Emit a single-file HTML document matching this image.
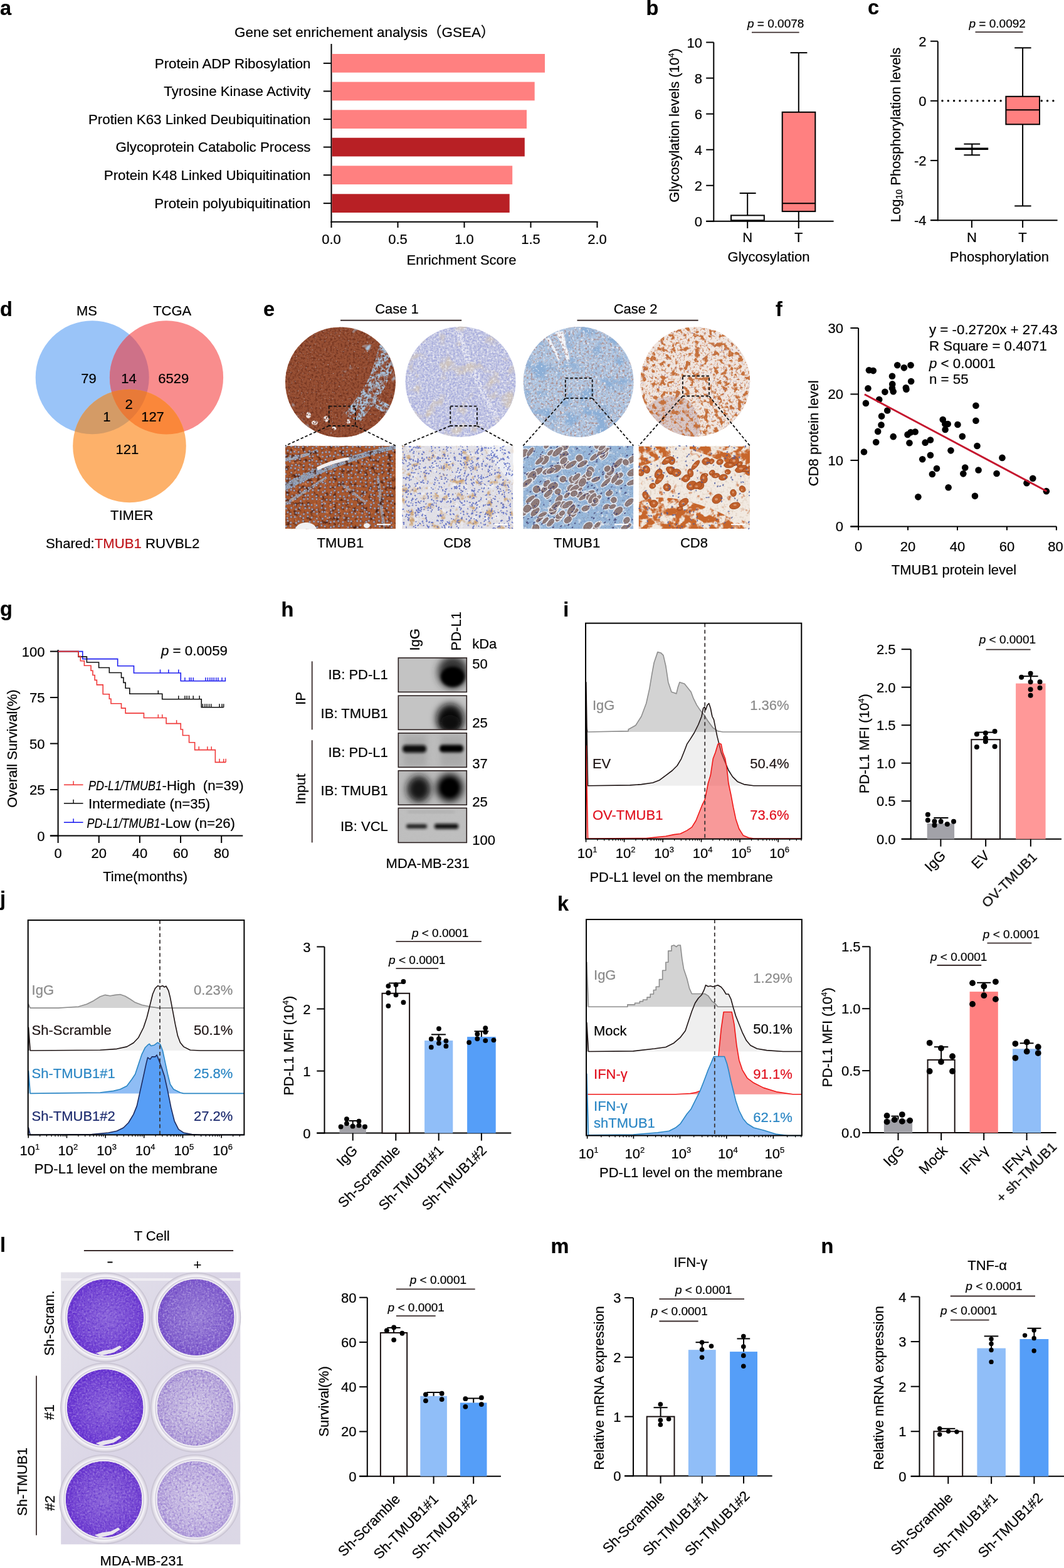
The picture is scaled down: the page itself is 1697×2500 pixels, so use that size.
<!DOCTYPE html><html><head><meta charset="utf-8"><title>Figure</title>
<style>html,body{margin:0;padding:0;background:#fff;}svg{display:block;}text{font-family:'Liberation Sans', 'Noto Sans CJK SC', sans-serif;stroke:#000;stroke-width:0.22px;}</style></head><body>
<svg width="1697" height="2500" viewBox="0 0 1697 2500">
<rect width="1697" height="2500" fill="#fff"/>
<text x="0" y="23.5" font-size="32.5" font-weight="bold">a</text>
<text x="374" y="59" font-size="22.45">Gene set enrichement analysis（GSEA）</text>
<line x1="528.5" y1="70" x2="528.5" y2="354.7" stroke="#000" stroke-width="2"/>
<line x1="527.5" y1="353.7" x2="953.5" y2="353.7" stroke="#000" stroke-width="2"/>
<line x1="528.5" y1="353.7" x2="528.5" y2="363" stroke="#000" stroke-width="2"/>
<text x="528.5" y="389" font-size="22" text-anchor="middle">0.0</text>
<line x1="634.5" y1="353.7" x2="634.5" y2="363" stroke="#000" stroke-width="2"/>
<text x="634.5" y="389" font-size="22" text-anchor="middle">0.5</text>
<line x1="740.5" y1="353.7" x2="740.5" y2="363" stroke="#000" stroke-width="2"/>
<text x="740.5" y="389" font-size="22" text-anchor="middle">1.0</text>
<line x1="846.5" y1="353.7" x2="846.5" y2="363" stroke="#000" stroke-width="2"/>
<text x="846.5" y="389" font-size="22" text-anchor="middle">1.5</text>
<line x1="952.5" y1="353.7" x2="952.5" y2="363" stroke="#000" stroke-width="2"/>
<text x="952.5" y="389" font-size="22" text-anchor="middle">2.0</text>
<text x="736" y="422" font-size="22" text-anchor="middle">Enrichment Score</text>
<rect x="529.5" y="86" width="339.5" height="29.7" fill="#FF8080"/>
<line x1="515.8" y1="100.85" x2="528.5" y2="100.85" stroke="#000" stroke-width="2"/>
<text x="495.5" y="108.65" font-size="22.3" text-anchor="end">Protein ADP Ribosylation</text>
<rect x="529.5" y="130.6" width="323.2" height="29.7" fill="#FF8080"/>
<line x1="515.8" y1="145.45" x2="528.5" y2="145.45" stroke="#000" stroke-width="2"/>
<text x="495.5" y="153.25" font-size="22.3" text-anchor="end">Tyrosine Kinase Activity</text>
<rect x="529.5" y="175.3" width="310.5" height="29.7" fill="#FF8080"/>
<line x1="515.8" y1="190.15" x2="528.5" y2="190.15" stroke="#000" stroke-width="2"/>
<text x="495.5" y="197.95" font-size="22.3" text-anchor="end">Protien K63 Linked Deubiquitination</text>
<rect x="529.5" y="219.7" width="307.3" height="29.7" fill="#B82025"/>
<line x1="515.8" y1="234.55" x2="528.5" y2="234.55" stroke="#000" stroke-width="2"/>
<text x="495.5" y="242.35" font-size="22.3" text-anchor="end">Glycoprotein Catabolic Process</text>
<rect x="529.5" y="264.3" width="287.7" height="29.7" fill="#FF8080"/>
<line x1="515.8" y1="279.15" x2="528.5" y2="279.15" stroke="#000" stroke-width="2"/>
<text x="495.5" y="286.95" font-size="22.3" text-anchor="end">Protein K48 Linked Ubiquitination</text>
<rect x="529.5" y="309.3" width="283.2" height="29.7" fill="#B82025"/>
<line x1="515.8" y1="324.15" x2="528.5" y2="324.15" stroke="#000" stroke-width="2"/>
<text x="495.5" y="331.95" font-size="22.3" text-anchor="end">Protein polyubiquitination</text>
<text x="1030.5" y="23.5" font-size="32.5" font-weight="bold">b</text>
<line x1="1138.3" y1="67.5" x2="1138.3" y2="353.8" stroke="#000" stroke-width="2"/>
<line x1="1126.2" y1="352.8" x2="1138.3" y2="352.8" stroke="#000" stroke-width="2"/>
<text x="1120" y="360.8" font-size="22" text-anchor="end">0</text>
<line x1="1126.2" y1="295.74" x2="1138.3" y2="295.74" stroke="#000" stroke-width="2"/>
<text x="1120" y="303.74" font-size="22" text-anchor="end">2</text>
<line x1="1126.2" y1="238.68" x2="1138.3" y2="238.68" stroke="#000" stroke-width="2"/>
<text x="1120" y="246.68" font-size="22" text-anchor="end">4</text>
<line x1="1126.2" y1="181.62" x2="1138.3" y2="181.62" stroke="#000" stroke-width="2"/>
<text x="1120" y="189.62" font-size="22" text-anchor="end">6</text>
<line x1="1126.2" y1="124.56" x2="1138.3" y2="124.56" stroke="#000" stroke-width="2"/>
<text x="1120" y="132.56" font-size="22" text-anchor="end">8</text>
<line x1="1126.2" y1="67.5" x2="1138.3" y2="67.5" stroke="#000" stroke-width="2"/>
<text x="1120" y="75.5" font-size="22" text-anchor="end">10</text>
<line x1="1126.2" y1="352.8" x2="1329.6" y2="352.8" stroke="#000" stroke-width="2"/>
<line x1="1192.2" y1="352.8" x2="1192.2" y2="364" stroke="#000" stroke-width="2"/>
<line x1="1273.8" y1="352.8" x2="1273.8" y2="364" stroke="#000" stroke-width="2"/>
<text x="1192.2" y="386" font-size="22" text-anchor="middle">N</text>
<text x="1273.8" y="386" font-size="22" text-anchor="middle">T</text>
<text x="1226" y="416.5" font-size="22" text-anchor="middle">Glycosylation</text>
<line x1="1192.2" y1="343.4" x2="1192.2" y2="308" stroke="#000" stroke-width="2"/>
<line x1="1179.7" y1="308" x2="1205.6" y2="308" stroke="#000" stroke-width="2"/>
<rect x="1166" y="343.4" width="52.8" height="7.9" fill="#fff" stroke="#000" stroke-width="2"/>
<line x1="1273.8" y1="178.8" x2="1273.8" y2="84.1" stroke="#000" stroke-width="2"/>
<line x1="1260.6" y1="84.1" x2="1287.4" y2="84.1" stroke="#000" stroke-width="2"/>
<line x1="1273.8" y1="337.1" x2="1273.8" y2="352.8" stroke="#000" stroke-width="2"/>
<rect x="1247.7" y="178.8" width="52.6" height="158.3" fill="#FF8080" stroke="#000" stroke-width="2"/>
<line x1="1247.7" y1="324.3" x2="1300.3" y2="324.3" stroke="#000" stroke-width="2"/>
<text x="1192" y="44" font-size="19" text-anchor="start"><tspan font-style="italic">p</tspan> = 0.0078</text>
<line x1="1199" y1="51.7" x2="1274.6" y2="51.7" stroke="#3a2c2c" stroke-width="1.8"/>
<text x="1083" y="200" font-size="22" text-anchor="middle" transform="rotate(-90 1083 200)">Glycosylation levels (10<tspan font-size="13" dy="-8">4</tspan><tspan dy="8">)</tspan></text>
<text x="1384" y="23.3" font-size="32.5" font-weight="bold">c</text>
<line x1="1495.8" y1="65.9" x2="1495.8" y2="352.2" stroke="#000" stroke-width="2"/>
<line x1="1484" y1="65.7" x2="1495.8" y2="65.7" stroke="#000" stroke-width="2"/>
<text x="1477.5" y="73.7" font-size="22" text-anchor="end">2</text>
<line x1="1484" y1="160.8" x2="1495.8" y2="160.8" stroke="#000" stroke-width="2"/>
<text x="1477.5" y="168.8" font-size="22" text-anchor="end">0</text>
<line x1="1484" y1="255.9" x2="1495.8" y2="255.9" stroke="#000" stroke-width="2"/>
<text x="1477.5" y="263.9" font-size="22" text-anchor="end">-2</text>
<line x1="1484" y1="351" x2="1495.8" y2="351" stroke="#000" stroke-width="2"/>
<text x="1477.5" y="359" font-size="22" text-anchor="end">-4</text>
<line x1="1484" y1="351.2" x2="1686.6" y2="351.2" stroke="#000" stroke-width="2"/>
<line x1="1549.9" y1="351.2" x2="1549.9" y2="363" stroke="#000" stroke-width="2"/>
<line x1="1631.1" y1="351.2" x2="1631.1" y2="363" stroke="#000" stroke-width="2"/>
<text x="1549.9" y="385.5" font-size="22" text-anchor="middle">N</text>
<text x="1631.1" y="385.5" font-size="22" text-anchor="middle">T</text>
<text x="1594" y="416.5" font-size="22" text-anchor="middle">Phosphorylation</text>
<line x1="1503" y1="160.8" x2="1688" y2="160.8" stroke="#000" stroke-width="3.4" stroke-dasharray="0.01 9.3" stroke-linecap="round"/>
<line x1="1631.1" y1="153.8" x2="1631.1" y2="76.3" stroke="#000" stroke-width="2"/>
<line x1="1618.2" y1="76.3" x2="1644.6" y2="76.3" stroke="#000" stroke-width="2"/>
<line x1="1631.1" y1="198.3" x2="1631.1" y2="328.4" stroke="#000" stroke-width="2"/>
<line x1="1618.2" y1="328.4" x2="1644.6" y2="328.4" stroke="#000" stroke-width="2"/>
<rect x="1604.4" y="153.8" width="53.6" height="44.5" fill="#FF8080" stroke="#000" stroke-width="2"/>
<line x1="1604.4" y1="175.3" x2="1658" y2="175.3" stroke="#000" stroke-width="2"/>
<line x1="1550.3" y1="229.6" x2="1550.3" y2="247.2" stroke="#000" stroke-width="2"/>
<line x1="1537.4" y1="229.6" x2="1563.1" y2="229.6" stroke="#000" stroke-width="2"/>
<line x1="1537.4" y1="247.2" x2="1563.1" y2="247.2" stroke="#000" stroke-width="2"/>
<line x1="1523.3" y1="237.3" x2="1576.2" y2="237.3" stroke="#000" stroke-width="3.5"/>
<text x="1545.5" y="43.5" font-size="19" text-anchor="start"><tspan font-style="italic">p</tspan> = 0.0092</text>
<line x1="1555.5" y1="51.2" x2="1631.5" y2="51.2" stroke="#3a2c2c" stroke-width="1.8"/>
<text x="1436" y="215" font-size="22" text-anchor="middle" transform="rotate(-90 1436 215)">Log<tspan font-size="14" dy="3">10</tspan><tspan dy="-3"> Phosphorylation levels</tspan></text>
<text x="0" y="503.5" font-size="32.5" font-weight="bold">d</text>
<defs><clipPath id="cpB"><circle cx="147.2" cy="601.7" r="90.5"/></clipPath><clipPath id="cpR"><circle cx="265.5" cy="601.8" r="90.6"/></clipPath></defs>
<circle cx="147.2" cy="601.7" r="90.5" fill="#9AC4F8"/>
<circle cx="265.5" cy="601.8" r="90.6" fill="#F98D8D"/>
<circle cx="206.5" cy="711" r="90.3" fill="#FDB16A"/>
<g clip-path="url(#cpB)">
<circle cx="265.5" cy="601.8" r="90.6" fill="#CE7188"/>
<circle cx="206.5" cy="711" r="90.3" fill="#D49B66"/>
</g>
<g clip-path="url(#cpR)">
<circle cx="206.5" cy="711" r="90.3" fill="#FA873A"/>
<g clip-path="url(#cpB)">
<circle cx="206.5" cy="711" r="90.3" fill="#E87A38"/>
</g></g>
<text x="138.4" y="502.6" font-size="22" text-anchor="middle">MS</text>
<text x="274.7" y="502.6" font-size="22" text-anchor="middle">TCGA</text>
<text x="141.6" y="611" font-size="22" text-anchor="middle">79</text>
<text x="205.5" y="611" font-size="22" text-anchor="middle">14</text>
<text x="276.8" y="611" font-size="22" text-anchor="middle">6529</text>
<text x="205.5" y="651.6" font-size="22" text-anchor="middle">2</text>
<text x="170.3" y="672.1" font-size="22" text-anchor="middle">1</text>
<text x="243.5" y="672.1" font-size="22" text-anchor="middle">127</text>
<text x="202.8" y="723.5" font-size="22" text-anchor="middle">121</text>
<text x="210.3" y="828.6" font-size="22" text-anchor="middle">TIMER</text>
<text x="73" y="874" font-size="22.2">Shared:<tspan fill="#C0161C" style="stroke:#C0161C">TMUB1</tspan> RUVBL2</text>
<text x="420" y="503.5" font-size="32.5" font-weight="bold">e</text>
<text x="633" y="499.5" font-size="22" text-anchor="middle">Case 1</text>
<line x1="543" y1="510.7" x2="736.2" y2="510.7" stroke="#3a2c2c" stroke-width="2"/>
<text x="1013.6" y="499.5" font-size="22" text-anchor="middle">Case 2</text>
<line x1="920.5" y1="510.7" x2="1113.6" y2="510.7" stroke="#3a2c2c" stroke-width="2"/>
<defs>
<clipPath id="cc1"><circle cx="543" cy="609.4" r="88"/></clipPath>
<clipPath id="cc2"><circle cx="734.6" cy="608.7" r="88"/></clipPath>
<clipPath id="cc3"><circle cx="922.6" cy="609" r="88"/></clipPath>
<clipPath id="cc4"><circle cx="1108.7" cy="608.7" r="87.5"/></clipPath>
</defs>
<defs><clipPath id="stromaclip"><path d="M612 528 C600 565 596 590 584 612 C572 632 560 645 548 662 L575 672 C590 652 606 634 616 612 C628 590 634 566 640 540 Z"/><path d="M585 640 C600 650 612 660 630 668 L630 650 C615 645 600 630 590 625 Z"/></clipPath><filter id="stromanz" x="0" y="0" width="1" height="1" color-interpolation-filters="sRGB"><feTurbulence type="fractalNoise" baseFrequency="0.12" numOctaves="3" seed="77"/><feColorMatrix type="matrix" values="0 0 0 0 0.66 0 0 0 0 0.76 0 0 0 0 0.86 5 0 0 0 -1.7"/></filter></defs>
<defs>
<filter id="nz1" x="0" y="0" width="1" height="1" color-interpolation-filters="sRGB"><feTurbulence type="fractalNoise" baseFrequency="0.3" numOctaves="3" seed="3"/><feColorMatrix type="matrix" values="0 0 0 0 0.451 0 0 0 0 0.204 0 0 0 0 0.125 3 0 0 0 -1.3"/></filter>
<filter id="nz2" x="0" y="0" width="1" height="1" color-interpolation-filters="sRGB"><feTurbulence type="fractalNoise" baseFrequency="0.05" numOctaves="3" seed="7"/><feColorMatrix type="matrix" values="0 0 0 0 0.667 0 0 0 0 0.765 0 0 0 0 0.863 6 0 0 0 -4.2"/></filter>
<filter id="nz3" x="0" y="0" width="1" height="1" color-interpolation-filters="sRGB"><feTurbulence type="fractalNoise" baseFrequency="0.4" numOctaves="3" seed="11"/><feColorMatrix type="matrix" values="0 0 0 0 0.686 0 0 0 0 0.745 0 0 0 0 0.831 4 0 0 0 -2.8"/></filter>
</defs>
<g clip-path="url(#cc1)">
<rect x="455" y="521.4" width="176" height="176" fill="#985034"/>
<g clip-path="url(#stromaclip)"><rect x="540" y="520" width="95" height="180" filter="url(#stromanz)"/></g><ellipse cx="492" cy="662" rx="4" ry="5" fill="#f4f0f0"/><ellipse cx="502" cy="674" rx="5" ry="3.5" fill="#f4f0f0"/><ellipse cx="520" cy="668" rx="4" ry="5" fill="#f4f0f0"/><ellipse cx="533" cy="683" rx="3.5" ry="3" fill="#f4f0f0"/><ellipse cx="556" cy="672" rx="3" ry="4" fill="#f4f0f0"/>
<rect x="455" y="521.4" width="176" height="176" filter="url(#nz1)"/>
<rect x="455" y="521.4" width="176" height="176" filter="url(#nz2)"/>
<rect x="455" y="521.4" width="176" height="176" filter="url(#nz3)"/>
</g>
<defs>
<filter id="nz4" x="0" y="0" width="1" height="1" color-interpolation-filters="sRGB"><feTurbulence type="fractalNoise" baseFrequency="0.35" numOctaves="3" seed="5"/><feColorMatrix type="matrix" values="0 0 0 0 0.647 0 0 0 0 0.667 0 0 0 0 0.863 3 0 0 0 -1.1"/></filter>
<filter id="nz5" x="0" y="0" width="1" height="1" color-interpolation-filters="sRGB"><feTurbulence type="fractalNoise" baseFrequency="0.04" numOctaves="3" seed="9"/><feColorMatrix type="matrix" values="0 0 0 0 0.804 0 0 0 0 0.765 0 0 0 0 0.745 5 0 0 0 -2.8"/></filter>
<filter id="nz6" x="0" y="0" width="1" height="1" color-interpolation-filters="sRGB"><feTurbulence type="fractalNoise" baseFrequency="0.3" numOctaves="3" seed="13"/><feColorMatrix type="matrix" values="0 0 0 0 0.941 0 0 0 0 0.941 0 0 0 0 0.965 3 0 0 0 -1.5"/></filter>
</defs>
<g clip-path="url(#cc2)">
<rect x="646.6" y="520.7" width="176" height="176" fill="#C9CCE4"/>
<path d="M725 525 Q745 590 800 690 L808 686 Q752 590 735 522 Z" fill="#eeeef4" opacity="0.8"/>
<rect x="646.6" y="520.7" width="176" height="176" filter="url(#nz4)"/>
<rect x="646.6" y="520.7" width="176" height="176" filter="url(#nz5)"/>
<rect x="646.6" y="520.7" width="176" height="176" filter="url(#nz6)"/>
</g>
<defs>
<filter id="nz7" x="0" y="0" width="1" height="1" color-interpolation-filters="sRGB"><feTurbulence type="fractalNoise" baseFrequency="0.3" numOctaves="3" seed="4"/><feColorMatrix type="matrix" values="0 0 0 0 0.667 0 0 0 0 0.549 0 0 0 0 0.549 4 0 0 0 -2"/></filter>
<filter id="nz8" x="0" y="0" width="1" height="1" color-interpolation-filters="sRGB"><feTurbulence type="fractalNoise" baseFrequency="0.04" numOctaves="3" seed="8"/><feColorMatrix type="matrix" values="0 0 0 0 0.549 0 0 0 0 0.686 0 0 0 0 0.843 5 0 0 0 -2.6"/></filter>
<filter id="nz9" x="0" y="0" width="1" height="1" color-interpolation-filters="sRGB"><feTurbulence type="fractalNoise" baseFrequency="0.3" numOctaves="3" seed="14"/><feColorMatrix type="matrix" values="0 0 0 0 0.925 0 0 0 0 0.933 0 0 0 0 0.961 4 0 0 0 -2.3"/></filter>
</defs>
<g clip-path="url(#cc3)">
<rect x="834.6" y="521" width="176" height="176" fill="#AFC6E2"/>
<path d="M885 530 C895 545 900 560 905 580 L910 578 C906 560 902 545 898 528 Z" fill="#F4F6FA"/><path d="M870 540 C878 550 884 560 890 575 L893 573 C888 560 882 548 876 538 Z" fill="#EEF2F8"/>
<rect x="834.6" y="521" width="176" height="176" filter="url(#nz7)"/>
<rect x="834.6" y="521" width="176" height="176" filter="url(#nz8)"/>
<rect x="834.6" y="521" width="176" height="176" filter="url(#nz9)"/>
</g>
<defs>
<filter id="nz10" x="0" y="0" width="1" height="1" color-interpolation-filters="sRGB"><feTurbulence type="fractalNoise" baseFrequency="0.13" numOctaves="3" seed="6"/><feColorMatrix type="matrix" values="0 0 0 0 0.776 0 0 0 0 0.439 0 0 0 0 0.227 8 0 0 0 -4.3"/></filter>
<filter id="nz11" x="0" y="0" width="1" height="1" color-interpolation-filters="sRGB"><feTurbulence type="fractalNoise" baseFrequency="0.3" numOctaves="3" seed="10"/><feColorMatrix type="matrix" values="0 0 0 0 0.804 0 0 0 0 0.510 0 0 0 0 0.333 4 0 0 0 -2.3"/></filter>
<filter id="nz12" x="0" y="0" width="1" height="1" color-interpolation-filters="sRGB"><feTurbulence type="fractalNoise" baseFrequency="0.3" numOctaves="3" seed="15"/><feColorMatrix type="matrix" values="0 0 0 0 0.588 0 0 0 0 0.471 0 0 0 0 0.588 4 0 0 0 -2.6"/></filter>
</defs>
<g clip-path="url(#cc4)">
<rect x="1021.2" y="521.2" width="175" height="175" fill="#F0E6E0"/>
<path d="M1030 650 C1050 630 1080 625 1100 640 C1115 660 1120 680 1112 697 L1030 697 Z" fill="#A88C98" opacity="0.35"/>
<rect x="1021.2" y="521.2" width="175" height="175" filter="url(#nz10)"/>
<rect x="1021.2" y="521.2" width="175" height="175" filter="url(#nz11)"/>
<rect x="1021.2" y="521.2" width="175" height="175" filter="url(#nz12)"/>
</g>
<defs>
<clipPath id="cc5"><rect x="455" y="710.7" width="176" height="132.5"/></clipPath>
<clipPath id="cc6"><rect x="641.4" y="710.7" width="177" height="132.5"/></clipPath>
<clipPath id="cc7"><rect x="834.3" y="710.7" width="176" height="132.5"/></clipPath>
<clipPath id="cc8"><rect x="1018.8" y="710.7" width="177.2" height="132.5"/></clipPath>
</defs>
<defs>
<filter id="nz13" x="0" y="0" width="1" height="1" color-interpolation-filters="sRGB"><feTurbulence type="fractalNoise" baseFrequency="0.16" numOctaves="3" seed="21"/><feColorMatrix type="matrix" values="0 0 0 0 0.314 0 0 0 0 0.137 0 0 0 0 0.078 4 0 0 0 -2.1"/></filter>
<filter id="nz14" x="0" y="0" width="1" height="1" color-interpolation-filters="sRGB"><feTurbulence type="fractalNoise" baseFrequency="0.2" numOctaves="3" seed="23"/><feColorMatrix type="matrix" values="0 0 0 0 0.882 0 0 0 0 0.588 0 0 0 0 0.431 4 0 0 0 -2.6"/></filter>
</defs>
<g clip-path="url(#cc5)">
<rect x="455" y="710.7" width="176" height="132.5" fill="#A9582E"/>
<path d="M455 770 C480 758 510 742 540 733 C570 724 600 716 631 709 L631 716 C600 722 572 732 545 742 C515 752 485 768 455 782 Z" fill="#8FB6DA" opacity="0.8"/><path d="M455 730 C470 726 490 724 505 716 L508 719 C492 728 472 732 455 736 Z" fill="#9FC0DE" opacity="0.8"/><path d="M455 800 C478 788 498 772 520 760 L522 763 C500 776 480 792 455 806 Z" fill="#9FC0DE" opacity="0.7"/><path d="M545 770 C560 778 570 790 585 800 L583 803 C568 793 557 782 543 773 Z" fill="#9FC0DE" opacity="0.6"/><path d="M600 760 C606 790 604 815 612 843 L616 843 C609 815 611 790 604 758 Z" fill="#9FC0DE" opacity="0.6"/>
<rect x="455" y="710.7" width="176" height="132.5" filter="url(#nz13)"/>
<rect x="455" y="710.7" width="176" height="132.5" filter="url(#nz14)"/>
<g opacity="0.8"><circle cx="456.3" cy="711.6" r="1.7" fill="#A8C2DE" stroke="#5B4A6A" stroke-width="0.6"/><circle cx="464.6" cy="711.3" r="1.7" fill="#A8C2DE" stroke="#5B4A6A" stroke-width="0.6"/><circle cx="471.1" cy="712.5" r="1.7" fill="#A8C2DE" stroke="#5B4A6A" stroke-width="0.6"/><circle cx="476.2" cy="713.0" r="1.7" fill="#A8C2DE" stroke="#5B4A6A" stroke-width="0.6"/><circle cx="483.1" cy="712.7" r="1.7" fill="#A8C2DE" stroke="#5B4A6A" stroke-width="0.6"/><circle cx="490.3" cy="711.4" r="1.7" fill="#A8C2DE" stroke="#5B4A6A" stroke-width="0.6"/><circle cx="498.7" cy="714.3" r="1.7" fill="#A8C2DE" stroke="#5B4A6A" stroke-width="0.6"/><circle cx="504.5" cy="711.9" r="1.7" fill="#A8C2DE" stroke="#5B4A6A" stroke-width="0.6"/><circle cx="513.5" cy="714.8" r="1.7" fill="#A8C2DE" stroke="#5B4A6A" stroke-width="0.6"/><circle cx="520.3" cy="712.6" r="1.7" fill="#A8C2DE" stroke="#5B4A6A" stroke-width="0.6"/><circle cx="528.9" cy="711.2" r="1.7" fill="#A8C2DE" stroke="#5B4A6A" stroke-width="0.6"/><circle cx="535.4" cy="712.2" r="1.7" fill="#A8C2DE" stroke="#5B4A6A" stroke-width="0.6"/><circle cx="539.6" cy="711.5" r="1.7" fill="#A8C2DE" stroke="#5B4A6A" stroke-width="0.6"/><circle cx="547.2" cy="714.3" r="1.7" fill="#A8C2DE" stroke="#5B4A6A" stroke-width="0.6"/><circle cx="553.7" cy="713.3" r="1.7" fill="#A8C2DE" stroke="#5B4A6A" stroke-width="0.6"/><circle cx="562.6" cy="712.5" r="1.7" fill="#A8C2DE" stroke="#5B4A6A" stroke-width="0.6"/><circle cx="569.2" cy="711.3" r="1.7" fill="#A8C2DE" stroke="#5B4A6A" stroke-width="0.6"/><circle cx="574.2" cy="711.8" r="1.7" fill="#A8C2DE" stroke="#5B4A6A" stroke-width="0.6"/><circle cx="583.7" cy="712.7" r="1.7" fill="#A8C2DE" stroke="#5B4A6A" stroke-width="0.6"/><circle cx="589.3" cy="713.3" r="1.7" fill="#A8C2DE" stroke="#5B4A6A" stroke-width="0.6"/><circle cx="596.8" cy="712.2" r="1.7" fill="#A8C2DE" stroke="#5B4A6A" stroke-width="0.6"/><circle cx="605.2" cy="713.8" r="1.7" fill="#A8C2DE" stroke="#5B4A6A" stroke-width="0.6"/><circle cx="610.0" cy="713.3" r="1.7" fill="#A8C2DE" stroke="#5B4A6A" stroke-width="0.6"/><circle cx="618.1" cy="714.5" r="1.7" fill="#A8C2DE" stroke="#5B4A6A" stroke-width="0.6"/><circle cx="625.9" cy="712.2" r="1.7" fill="#A8C2DE" stroke="#5B4A6A" stroke-width="0.6"/><circle cx="458.9" cy="718.5" r="1.7" fill="#A8C2DE" stroke="#5B4A6A" stroke-width="0.6"/><circle cx="463.7" cy="721.0" r="1.7" fill="#A8C2DE" stroke="#5B4A6A" stroke-width="0.6"/><circle cx="469.6" cy="720.0" r="1.7" fill="#A8C2DE" stroke="#5B4A6A" stroke-width="0.6"/><circle cx="476.2" cy="720.7" r="1.7" fill="#A8C2DE" stroke="#5B4A6A" stroke-width="0.6"/><circle cx="486.1" cy="720.3" r="1.7" fill="#A8C2DE" stroke="#5B4A6A" stroke-width="0.6"/><circle cx="493.5" cy="719.3" r="1.7" fill="#A8C2DE" stroke="#5B4A6A" stroke-width="0.6"/><circle cx="499.8" cy="720.4" r="1.7" fill="#A8C2DE" stroke="#5B4A6A" stroke-width="0.6"/><circle cx="506.3" cy="719.8" r="1.7" fill="#A8C2DE" stroke="#5B4A6A" stroke-width="0.6"/><circle cx="514.4" cy="721.8" r="1.7" fill="#A8C2DE" stroke="#5B4A6A" stroke-width="0.6"/><circle cx="519.9" cy="720.7" r="1.7" fill="#A8C2DE" stroke="#5B4A6A" stroke-width="0.6"/><circle cx="525.2" cy="720.8" r="1.7" fill="#A8C2DE" stroke="#5B4A6A" stroke-width="0.6"/><circle cx="534.6" cy="722.0" r="1.7" fill="#A8C2DE" stroke="#5B4A6A" stroke-width="0.6"/><circle cx="542.3" cy="719.1" r="1.7" fill="#A8C2DE" stroke="#5B4A6A" stroke-width="0.6"/><circle cx="547.5" cy="720.7" r="1.7" fill="#A8C2DE" stroke="#5B4A6A" stroke-width="0.6"/><circle cx="553.1" cy="719.8" r="1.7" fill="#A8C2DE" stroke="#5B4A6A" stroke-width="0.6"/><circle cx="560.7" cy="718.5" r="1.7" fill="#A8C2DE" stroke="#5B4A6A" stroke-width="0.6"/><circle cx="567.2" cy="721.1" r="1.7" fill="#A8C2DE" stroke="#5B4A6A" stroke-width="0.6"/><circle cx="574.5" cy="719.0" r="1.7" fill="#A8C2DE" stroke="#5B4A6A" stroke-width="0.6"/><circle cx="582.6" cy="721.5" r="1.7" fill="#A8C2DE" stroke="#5B4A6A" stroke-width="0.6"/><circle cx="588.3" cy="719.8" r="1.7" fill="#A8C2DE" stroke="#5B4A6A" stroke-width="0.6"/><circle cx="597.2" cy="721.5" r="1.7" fill="#A8C2DE" stroke="#5B4A6A" stroke-width="0.6"/><circle cx="605.3" cy="721.5" r="1.7" fill="#A8C2DE" stroke="#5B4A6A" stroke-width="0.6"/><circle cx="610.1" cy="719.7" r="1.7" fill="#A8C2DE" stroke="#5B4A6A" stroke-width="0.6"/><circle cx="617.4" cy="721.5" r="1.7" fill="#A8C2DE" stroke="#5B4A6A" stroke-width="0.6"/><circle cx="626.8" cy="718.6" r="1.7" fill="#A8C2DE" stroke="#5B4A6A" stroke-width="0.6"/><circle cx="455.7" cy="725.9" r="1.7" fill="#A8C2DE" stroke="#5B4A6A" stroke-width="0.6"/><circle cx="462.9" cy="726.9" r="1.7" fill="#A8C2DE" stroke="#5B4A6A" stroke-width="0.6"/><circle cx="471.4" cy="726.1" r="1.7" fill="#A8C2DE" stroke="#5B4A6A" stroke-width="0.6"/><circle cx="476.0" cy="726.7" r="1.7" fill="#A8C2DE" stroke="#5B4A6A" stroke-width="0.6"/><circle cx="484.5" cy="727.3" r="1.7" fill="#A8C2DE" stroke="#5B4A6A" stroke-width="0.6"/><circle cx="493.8" cy="727.8" r="1.7" fill="#A8C2DE" stroke="#5B4A6A" stroke-width="0.6"/><circle cx="499.1" cy="727.5" r="1.7" fill="#A8C2DE" stroke="#5B4A6A" stroke-width="0.6"/><circle cx="506.7" cy="725.2" r="1.7" fill="#A8C2DE" stroke="#5B4A6A" stroke-width="0.6"/><circle cx="514.6" cy="728.1" r="1.7" fill="#A8C2DE" stroke="#5B4A6A" stroke-width="0.6"/><circle cx="521.5" cy="728.2" r="1.7" fill="#A8C2DE" stroke="#5B4A6A" stroke-width="0.6"/><circle cx="526.6" cy="726.6" r="1.7" fill="#A8C2DE" stroke="#5B4A6A" stroke-width="0.6"/><circle cx="532.4" cy="727.5" r="1.7" fill="#A8C2DE" stroke="#5B4A6A" stroke-width="0.6"/><circle cx="539.2" cy="725.3" r="1.7" fill="#A8C2DE" stroke="#5B4A6A" stroke-width="0.6"/><circle cx="546.8" cy="725.6" r="1.7" fill="#A8C2DE" stroke="#5B4A6A" stroke-width="0.6"/><circle cx="554.4" cy="725.2" r="1.7" fill="#A8C2DE" stroke="#5B4A6A" stroke-width="0.6"/><circle cx="560.0" cy="725.6" r="1.7" fill="#A8C2DE" stroke="#5B4A6A" stroke-width="0.6"/><circle cx="567.4" cy="726.5" r="1.7" fill="#A8C2DE" stroke="#5B4A6A" stroke-width="0.6"/><circle cx="574.1" cy="728.5" r="1.7" fill="#A8C2DE" stroke="#5B4A6A" stroke-width="0.6"/><circle cx="583.5" cy="725.6" r="1.7" fill="#A8C2DE" stroke="#5B4A6A" stroke-width="0.6"/><circle cx="589.0" cy="726.4" r="1.7" fill="#A8C2DE" stroke="#5B4A6A" stroke-width="0.6"/><circle cx="596.5" cy="725.5" r="1.7" fill="#A8C2DE" stroke="#5B4A6A" stroke-width="0.6"/><circle cx="605.4" cy="729.0" r="1.7" fill="#A8C2DE" stroke="#5B4A6A" stroke-width="0.6"/><circle cx="610.9" cy="726.9" r="1.7" fill="#A8C2DE" stroke="#5B4A6A" stroke-width="0.6"/><circle cx="616.3" cy="725.4" r="1.7" fill="#A8C2DE" stroke="#5B4A6A" stroke-width="0.6"/><circle cx="624.4" cy="726.1" r="1.7" fill="#A8C2DE" stroke="#5B4A6A" stroke-width="0.6"/><circle cx="458.3" cy="732.6" r="1.7" fill="#A8C2DE" stroke="#5B4A6A" stroke-width="0.6"/><circle cx="462.1" cy="735.8" r="1.7" fill="#A8C2DE" stroke="#5B4A6A" stroke-width="0.6"/><circle cx="471.1" cy="732.6" r="1.7" fill="#A8C2DE" stroke="#5B4A6A" stroke-width="0.6"/><circle cx="478.2" cy="732.1" r="1.7" fill="#A8C2DE" stroke="#5B4A6A" stroke-width="0.6"/><circle cx="485.1" cy="735.9" r="1.7" fill="#A8C2DE" stroke="#5B4A6A" stroke-width="0.6"/><circle cx="493.5" cy="734.8" r="1.7" fill="#A8C2DE" stroke="#5B4A6A" stroke-width="0.6"/><circle cx="498.0" cy="733.5" r="1.7" fill="#A8C2DE" stroke="#5B4A6A" stroke-width="0.6"/><circle cx="504.7" cy="735.1" r="1.7" fill="#A8C2DE" stroke="#5B4A6A" stroke-width="0.6"/><circle cx="513.1" cy="735.1" r="1.7" fill="#A8C2DE" stroke="#5B4A6A" stroke-width="0.6"/><circle cx="519.3" cy="732.9" r="1.7" fill="#A8C2DE" stroke="#5B4A6A" stroke-width="0.6"/><circle cx="528.2" cy="735.9" r="1.7" fill="#A8C2DE" stroke="#5B4A6A" stroke-width="0.6"/><circle cx="535.4" cy="735.2" r="1.7" fill="#A8C2DE" stroke="#5B4A6A" stroke-width="0.6"/><circle cx="542.3" cy="735.0" r="1.7" fill="#A8C2DE" stroke="#5B4A6A" stroke-width="0.6"/><circle cx="546.9" cy="734.1" r="1.7" fill="#A8C2DE" stroke="#5B4A6A" stroke-width="0.6"/><circle cx="554.4" cy="732.1" r="1.7" fill="#A8C2DE" stroke="#5B4A6A" stroke-width="0.6"/><circle cx="560.1" cy="733.1" r="1.7" fill="#A8C2DE" stroke="#5B4A6A" stroke-width="0.6"/><circle cx="568.0" cy="734.8" r="1.7" fill="#A8C2DE" stroke="#5B4A6A" stroke-width="0.6"/><circle cx="577.8" cy="733.8" r="1.7" fill="#A8C2DE" stroke="#5B4A6A" stroke-width="0.6"/><circle cx="584.7" cy="736.0" r="1.7" fill="#A8C2DE" stroke="#5B4A6A" stroke-width="0.6"/><circle cx="591.8" cy="733.5" r="1.7" fill="#A8C2DE" stroke="#5B4A6A" stroke-width="0.6"/><circle cx="595.9" cy="732.9" r="1.7" fill="#A8C2DE" stroke="#5B4A6A" stroke-width="0.6"/><circle cx="602.8" cy="732.8" r="1.7" fill="#A8C2DE" stroke="#5B4A6A" stroke-width="0.6"/><circle cx="611.5" cy="735.6" r="1.7" fill="#A8C2DE" stroke="#5B4A6A" stroke-width="0.6"/><circle cx="619.4" cy="733.9" r="1.7" fill="#A8C2DE" stroke="#5B4A6A" stroke-width="0.6"/><circle cx="625.6" cy="735.2" r="1.7" fill="#A8C2DE" stroke="#5B4A6A" stroke-width="0.6"/><circle cx="455.3" cy="741.6" r="1.7" fill="#A8C2DE" stroke="#5B4A6A" stroke-width="0.6"/><circle cx="465.6" cy="742.1" r="1.7" fill="#A8C2DE" stroke="#5B4A6A" stroke-width="0.6"/><circle cx="472.0" cy="740.9" r="1.7" fill="#A8C2DE" stroke="#5B4A6A" stroke-width="0.6"/><circle cx="476.7" cy="742.2" r="1.7" fill="#A8C2DE" stroke="#5B4A6A" stroke-width="0.6"/><circle cx="484.3" cy="742.2" r="1.7" fill="#A8C2DE" stroke="#5B4A6A" stroke-width="0.6"/><circle cx="493.9" cy="740.6" r="1.7" fill="#A8C2DE" stroke="#5B4A6A" stroke-width="0.6"/><circle cx="498.6" cy="742.8" r="1.7" fill="#A8C2DE" stroke="#5B4A6A" stroke-width="0.6"/><circle cx="506.9" cy="739.7" r="1.7" fill="#A8C2DE" stroke="#5B4A6A" stroke-width="0.6"/><circle cx="511.5" cy="739.6" r="1.7" fill="#A8C2DE" stroke="#5B4A6A" stroke-width="0.6"/><circle cx="521.6" cy="742.2" r="1.7" fill="#A8C2DE" stroke="#5B4A6A" stroke-width="0.6"/><circle cx="525.6" cy="742.3" r="1.7" fill="#A8C2DE" stroke="#5B4A6A" stroke-width="0.6"/><circle cx="535.9" cy="741.6" r="1.7" fill="#A8C2DE" stroke="#5B4A6A" stroke-width="0.6"/><circle cx="540.4" cy="741.2" r="1.7" fill="#A8C2DE" stroke="#5B4A6A" stroke-width="0.6"/><circle cx="546.5" cy="739.1" r="1.7" fill="#A8C2DE" stroke="#5B4A6A" stroke-width="0.6"/><circle cx="556.9" cy="741.6" r="1.7" fill="#A8C2DE" stroke="#5B4A6A" stroke-width="0.6"/><circle cx="562.1" cy="742.7" r="1.7" fill="#A8C2DE" stroke="#5B4A6A" stroke-width="0.6"/><circle cx="568.7" cy="742.5" r="1.7" fill="#A8C2DE" stroke="#5B4A6A" stroke-width="0.6"/><circle cx="577.3" cy="739.8" r="1.7" fill="#A8C2DE" stroke="#5B4A6A" stroke-width="0.6"/><circle cx="582.0" cy="740.2" r="1.7" fill="#A8C2DE" stroke="#5B4A6A" stroke-width="0.6"/><circle cx="589.0" cy="741.3" r="1.7" fill="#A8C2DE" stroke="#5B4A6A" stroke-width="0.6"/><circle cx="596.0" cy="740.7" r="1.7" fill="#A8C2DE" stroke="#5B4A6A" stroke-width="0.6"/><circle cx="602.5" cy="742.6" r="1.7" fill="#A8C2DE" stroke="#5B4A6A" stroke-width="0.6"/><circle cx="610.4" cy="740.8" r="1.7" fill="#A8C2DE" stroke="#5B4A6A" stroke-width="0.6"/><circle cx="618.3" cy="742.6" r="1.7" fill="#A8C2DE" stroke="#5B4A6A" stroke-width="0.6"/><circle cx="624.7" cy="742.7" r="1.7" fill="#A8C2DE" stroke="#5B4A6A" stroke-width="0.6"/><circle cx="457.0" cy="748.1" r="1.7" fill="#A8C2DE" stroke="#5B4A6A" stroke-width="0.6"/><circle cx="464.1" cy="746.1" r="1.7" fill="#A8C2DE" stroke="#5B4A6A" stroke-width="0.6"/><circle cx="470.8" cy="746.7" r="1.7" fill="#A8C2DE" stroke="#5B4A6A" stroke-width="0.6"/><circle cx="476.0" cy="749.2" r="1.7" fill="#A8C2DE" stroke="#5B4A6A" stroke-width="0.6"/><circle cx="483.7" cy="747.9" r="1.7" fill="#A8C2DE" stroke="#5B4A6A" stroke-width="0.6"/><circle cx="492.9" cy="748.2" r="1.7" fill="#A8C2DE" stroke="#5B4A6A" stroke-width="0.6"/><circle cx="498.3" cy="748.1" r="1.7" fill="#A8C2DE" stroke="#5B4A6A" stroke-width="0.6"/><circle cx="506.2" cy="749.1" r="1.7" fill="#A8C2DE" stroke="#5B4A6A" stroke-width="0.6"/><circle cx="511.4" cy="748.2" r="1.7" fill="#A8C2DE" stroke="#5B4A6A" stroke-width="0.6"/><circle cx="519.0" cy="747.1" r="1.7" fill="#A8C2DE" stroke="#5B4A6A" stroke-width="0.6"/><circle cx="528.1" cy="748.0" r="1.7" fill="#A8C2DE" stroke="#5B4A6A" stroke-width="0.6"/><circle cx="534.2" cy="749.0" r="1.7" fill="#A8C2DE" stroke="#5B4A6A" stroke-width="0.6"/><circle cx="542.6" cy="747.8" r="1.7" fill="#A8C2DE" stroke="#5B4A6A" stroke-width="0.6"/><circle cx="548.5" cy="748.0" r="1.7" fill="#A8C2DE" stroke="#5B4A6A" stroke-width="0.6"/><circle cx="555.0" cy="748.8" r="1.7" fill="#A8C2DE" stroke="#5B4A6A" stroke-width="0.6"/><circle cx="561.8" cy="748.1" r="1.7" fill="#A8C2DE" stroke="#5B4A6A" stroke-width="0.6"/><circle cx="568.9" cy="749.8" r="1.7" fill="#A8C2DE" stroke="#5B4A6A" stroke-width="0.6"/><circle cx="576.8" cy="749.5" r="1.7" fill="#A8C2DE" stroke="#5B4A6A" stroke-width="0.6"/><circle cx="584.8" cy="747.0" r="1.7" fill="#A8C2DE" stroke="#5B4A6A" stroke-width="0.6"/><circle cx="590.2" cy="749.8" r="1.7" fill="#A8C2DE" stroke="#5B4A6A" stroke-width="0.6"/><circle cx="598.4" cy="746.5" r="1.7" fill="#A8C2DE" stroke="#5B4A6A" stroke-width="0.6"/><circle cx="602.5" cy="747.8" r="1.7" fill="#A8C2DE" stroke="#5B4A6A" stroke-width="0.6"/><circle cx="609.3" cy="747.0" r="1.7" fill="#A8C2DE" stroke="#5B4A6A" stroke-width="0.6"/><circle cx="616.3" cy="748.7" r="1.7" fill="#A8C2DE" stroke="#5B4A6A" stroke-width="0.6"/><circle cx="626.1" cy="749.6" r="1.7" fill="#A8C2DE" stroke="#5B4A6A" stroke-width="0.6"/><circle cx="455.6" cy="755.9" r="1.7" fill="#A8C2DE" stroke="#5B4A6A" stroke-width="0.6"/><circle cx="464.6" cy="753.6" r="1.7" fill="#A8C2DE" stroke="#5B4A6A" stroke-width="0.6"/><circle cx="472.5" cy="756.9" r="1.7" fill="#A8C2DE" stroke="#5B4A6A" stroke-width="0.6"/><circle cx="476.9" cy="756.8" r="1.7" fill="#A8C2DE" stroke="#5B4A6A" stroke-width="0.6"/><circle cx="484.6" cy="754.9" r="1.7" fill="#A8C2DE" stroke="#5B4A6A" stroke-width="0.6"/><circle cx="494.0" cy="756.3" r="1.7" fill="#A8C2DE" stroke="#5B4A6A" stroke-width="0.6"/><circle cx="497.6" cy="754.7" r="1.7" fill="#A8C2DE" stroke="#5B4A6A" stroke-width="0.6"/><circle cx="506.1" cy="754.4" r="1.7" fill="#A8C2DE" stroke="#5B4A6A" stroke-width="0.6"/><circle cx="511.8" cy="754.3" r="1.7" fill="#A8C2DE" stroke="#5B4A6A" stroke-width="0.6"/><circle cx="520.9" cy="753.1" r="1.7" fill="#A8C2DE" stroke="#5B4A6A" stroke-width="0.6"/><circle cx="527.2" cy="754.8" r="1.7" fill="#A8C2DE" stroke="#5B4A6A" stroke-width="0.6"/><circle cx="532.1" cy="754.3" r="1.7" fill="#A8C2DE" stroke="#5B4A6A" stroke-width="0.6"/><circle cx="541.5" cy="755.0" r="1.7" fill="#A8C2DE" stroke="#5B4A6A" stroke-width="0.6"/><circle cx="546.3" cy="756.9" r="1.7" fill="#A8C2DE" stroke="#5B4A6A" stroke-width="0.6"/><circle cx="556.2" cy="756.9" r="1.7" fill="#A8C2DE" stroke="#5B4A6A" stroke-width="0.6"/><circle cx="560.4" cy="754.1" r="1.7" fill="#A8C2DE" stroke="#5B4A6A" stroke-width="0.6"/><circle cx="567.2" cy="756.1" r="1.7" fill="#A8C2DE" stroke="#5B4A6A" stroke-width="0.6"/><circle cx="575.1" cy="753.5" r="1.7" fill="#A8C2DE" stroke="#5B4A6A" stroke-width="0.6"/><circle cx="582.7" cy="756.6" r="1.7" fill="#A8C2DE" stroke="#5B4A6A" stroke-width="0.6"/><circle cx="591.3" cy="754.0" r="1.7" fill="#A8C2DE" stroke="#5B4A6A" stroke-width="0.6"/><circle cx="595.6" cy="756.7" r="1.7" fill="#A8C2DE" stroke="#5B4A6A" stroke-width="0.6"/><circle cx="604.3" cy="755.8" r="1.7" fill="#A8C2DE" stroke="#5B4A6A" stroke-width="0.6"/><circle cx="609.4" cy="753.2" r="1.7" fill="#A8C2DE" stroke="#5B4A6A" stroke-width="0.6"/><circle cx="618.8" cy="754.7" r="1.7" fill="#A8C2DE" stroke="#5B4A6A" stroke-width="0.6"/><circle cx="623.3" cy="756.8" r="1.7" fill="#A8C2DE" stroke="#5B4A6A" stroke-width="0.6"/><circle cx="457.5" cy="763.2" r="1.7" fill="#A8C2DE" stroke="#5B4A6A" stroke-width="0.6"/><circle cx="462.3" cy="763.4" r="1.7" fill="#A8C2DE" stroke="#5B4A6A" stroke-width="0.6"/><circle cx="469.3" cy="763.5" r="1.7" fill="#A8C2DE" stroke="#5B4A6A" stroke-width="0.6"/><circle cx="477.8" cy="761.4" r="1.7" fill="#A8C2DE" stroke="#5B4A6A" stroke-width="0.6"/><circle cx="485.2" cy="763.7" r="1.7" fill="#A8C2DE" stroke="#5B4A6A" stroke-width="0.6"/><circle cx="491.1" cy="760.5" r="1.7" fill="#A8C2DE" stroke="#5B4A6A" stroke-width="0.6"/><circle cx="499.1" cy="761.0" r="1.7" fill="#A8C2DE" stroke="#5B4A6A" stroke-width="0.6"/><circle cx="504.4" cy="760.6" r="1.7" fill="#A8C2DE" stroke="#5B4A6A" stroke-width="0.6"/><circle cx="511.2" cy="760.8" r="1.7" fill="#A8C2DE" stroke="#5B4A6A" stroke-width="0.6"/><circle cx="519.2" cy="761.2" r="1.7" fill="#A8C2DE" stroke="#5B4A6A" stroke-width="0.6"/><circle cx="528.0" cy="761.2" r="1.7" fill="#A8C2DE" stroke="#5B4A6A" stroke-width="0.6"/><circle cx="534.0" cy="760.7" r="1.7" fill="#A8C2DE" stroke="#5B4A6A" stroke-width="0.6"/><circle cx="540.4" cy="760.1" r="1.7" fill="#A8C2DE" stroke="#5B4A6A" stroke-width="0.6"/><circle cx="547.0" cy="760.1" r="1.7" fill="#A8C2DE" stroke="#5B4A6A" stroke-width="0.6"/><circle cx="555.9" cy="762.2" r="1.7" fill="#A8C2DE" stroke="#5B4A6A" stroke-width="0.6"/><circle cx="560.8" cy="761.9" r="1.7" fill="#A8C2DE" stroke="#5B4A6A" stroke-width="0.6"/><circle cx="570.7" cy="760.4" r="1.7" fill="#A8C2DE" stroke="#5B4A6A" stroke-width="0.6"/><circle cx="577.3" cy="761.7" r="1.7" fill="#A8C2DE" stroke="#5B4A6A" stroke-width="0.6"/><circle cx="583.0" cy="763.3" r="1.7" fill="#A8C2DE" stroke="#5B4A6A" stroke-width="0.6"/><circle cx="589.6" cy="762.0" r="1.7" fill="#A8C2DE" stroke="#5B4A6A" stroke-width="0.6"/><circle cx="597.8" cy="763.9" r="1.7" fill="#A8C2DE" stroke="#5B4A6A" stroke-width="0.6"/><circle cx="603.4" cy="763.3" r="1.7" fill="#A8C2DE" stroke="#5B4A6A" stroke-width="0.6"/><circle cx="611.8" cy="762.5" r="1.7" fill="#A8C2DE" stroke="#5B4A6A" stroke-width="0.6"/><circle cx="617.6" cy="761.4" r="1.7" fill="#A8C2DE" stroke="#5B4A6A" stroke-width="0.6"/><circle cx="623.2" cy="760.5" r="1.7" fill="#A8C2DE" stroke="#5B4A6A" stroke-width="0.6"/><circle cx="455.3" cy="770.0" r="1.7" fill="#A8C2DE" stroke="#5B4A6A" stroke-width="0.6"/><circle cx="463.0" cy="767.7" r="1.7" fill="#A8C2DE" stroke="#5B4A6A" stroke-width="0.6"/><circle cx="469.3" cy="770.4" r="1.7" fill="#A8C2DE" stroke="#5B4A6A" stroke-width="0.6"/><circle cx="479.5" cy="769.7" r="1.7" fill="#A8C2DE" stroke="#5B4A6A" stroke-width="0.6"/><circle cx="484.1" cy="768.0" r="1.7" fill="#A8C2DE" stroke="#5B4A6A" stroke-width="0.6"/><circle cx="491.2" cy="768.8" r="1.7" fill="#A8C2DE" stroke="#5B4A6A" stroke-width="0.6"/><circle cx="497.6" cy="768.8" r="1.7" fill="#A8C2DE" stroke="#5B4A6A" stroke-width="0.6"/><circle cx="505.1" cy="770.8" r="1.7" fill="#A8C2DE" stroke="#5B4A6A" stroke-width="0.6"/><circle cx="514.9" cy="769.2" r="1.7" fill="#A8C2DE" stroke="#5B4A6A" stroke-width="0.6"/><circle cx="519.0" cy="770.9" r="1.7" fill="#A8C2DE" stroke="#5B4A6A" stroke-width="0.6"/><circle cx="526.2" cy="768.4" r="1.7" fill="#A8C2DE" stroke="#5B4A6A" stroke-width="0.6"/><circle cx="532.0" cy="768.5" r="1.7" fill="#A8C2DE" stroke="#5B4A6A" stroke-width="0.6"/><circle cx="540.9" cy="769.0" r="1.7" fill="#A8C2DE" stroke="#5B4A6A" stroke-width="0.6"/><circle cx="546.8" cy="769.0" r="1.7" fill="#A8C2DE" stroke="#5B4A6A" stroke-width="0.6"/><circle cx="553.0" cy="768.1" r="1.7" fill="#A8C2DE" stroke="#5B4A6A" stroke-width="0.6"/><circle cx="560.4" cy="768.6" r="1.7" fill="#A8C2DE" stroke="#5B4A6A" stroke-width="0.6"/><circle cx="567.2" cy="767.1" r="1.7" fill="#A8C2DE" stroke="#5B4A6A" stroke-width="0.6"/><circle cx="575.2" cy="767.9" r="1.7" fill="#A8C2DE" stroke="#5B4A6A" stroke-width="0.6"/><circle cx="583.3" cy="769.1" r="1.7" fill="#A8C2DE" stroke="#5B4A6A" stroke-width="0.6"/><circle cx="591.0" cy="769.6" r="1.7" fill="#A8C2DE" stroke="#5B4A6A" stroke-width="0.6"/><circle cx="597.9" cy="770.5" r="1.7" fill="#A8C2DE" stroke="#5B4A6A" stroke-width="0.6"/><circle cx="603.6" cy="768.3" r="1.7" fill="#A8C2DE" stroke="#5B4A6A" stroke-width="0.6"/><circle cx="612.9" cy="767.6" r="1.7" fill="#A8C2DE" stroke="#5B4A6A" stroke-width="0.6"/><circle cx="618.9" cy="769.6" r="1.7" fill="#A8C2DE" stroke="#5B4A6A" stroke-width="0.6"/><circle cx="623.2" cy="770.3" r="1.7" fill="#A8C2DE" stroke="#5B4A6A" stroke-width="0.6"/><circle cx="458.6" cy="776.5" r="1.7" fill="#A8C2DE" stroke="#5B4A6A" stroke-width="0.6"/><circle cx="464.9" cy="777.2" r="1.7" fill="#A8C2DE" stroke="#5B4A6A" stroke-width="0.6"/><circle cx="469.6" cy="776.1" r="1.7" fill="#A8C2DE" stroke="#5B4A6A" stroke-width="0.6"/><circle cx="478.0" cy="777.3" r="1.7" fill="#A8C2DE" stroke="#5B4A6A" stroke-width="0.6"/><circle cx="486.2" cy="777.3" r="1.7" fill="#A8C2DE" stroke="#5B4A6A" stroke-width="0.6"/><circle cx="492.3" cy="777.6" r="1.7" fill="#A8C2DE" stroke="#5B4A6A" stroke-width="0.6"/><circle cx="499.7" cy="776.8" r="1.7" fill="#A8C2DE" stroke="#5B4A6A" stroke-width="0.6"/><circle cx="504.9" cy="774.1" r="1.7" fill="#A8C2DE" stroke="#5B4A6A" stroke-width="0.6"/><circle cx="511.5" cy="775.4" r="1.7" fill="#A8C2DE" stroke="#5B4A6A" stroke-width="0.6"/><circle cx="518.4" cy="777.3" r="1.7" fill="#A8C2DE" stroke="#5B4A6A" stroke-width="0.6"/><circle cx="527.2" cy="776.5" r="1.7" fill="#A8C2DE" stroke="#5B4A6A" stroke-width="0.6"/><circle cx="534.5" cy="776.7" r="1.7" fill="#A8C2DE" stroke="#5B4A6A" stroke-width="0.6"/><circle cx="541.0" cy="774.0" r="1.7" fill="#A8C2DE" stroke="#5B4A6A" stroke-width="0.6"/><circle cx="549.2" cy="777.0" r="1.7" fill="#A8C2DE" stroke="#5B4A6A" stroke-width="0.6"/><circle cx="555.0" cy="776.1" r="1.7" fill="#A8C2DE" stroke="#5B4A6A" stroke-width="0.6"/><circle cx="562.6" cy="774.3" r="1.7" fill="#A8C2DE" stroke="#5B4A6A" stroke-width="0.6"/><circle cx="569.9" cy="775.0" r="1.7" fill="#A8C2DE" stroke="#5B4A6A" stroke-width="0.6"/><circle cx="574.3" cy="775.1" r="1.7" fill="#A8C2DE" stroke="#5B4A6A" stroke-width="0.6"/><circle cx="583.9" cy="774.8" r="1.7" fill="#A8C2DE" stroke="#5B4A6A" stroke-width="0.6"/><circle cx="591.0" cy="777.9" r="1.7" fill="#A8C2DE" stroke="#5B4A6A" stroke-width="0.6"/><circle cx="597.0" cy="775.5" r="1.7" fill="#A8C2DE" stroke="#5B4A6A" stroke-width="0.6"/><circle cx="603.9" cy="776.7" r="1.7" fill="#A8C2DE" stroke="#5B4A6A" stroke-width="0.6"/><circle cx="612.1" cy="776.5" r="1.7" fill="#A8C2DE" stroke="#5B4A6A" stroke-width="0.6"/><circle cx="618.6" cy="774.3" r="1.7" fill="#A8C2DE" stroke="#5B4A6A" stroke-width="0.6"/><circle cx="623.6" cy="775.0" r="1.7" fill="#A8C2DE" stroke="#5B4A6A" stroke-width="0.6"/><circle cx="458.0" cy="782.2" r="1.7" fill="#A8C2DE" stroke="#5B4A6A" stroke-width="0.6"/><circle cx="464.3" cy="781.0" r="1.7" fill="#A8C2DE" stroke="#5B4A6A" stroke-width="0.6"/><circle cx="469.2" cy="782.1" r="1.7" fill="#A8C2DE" stroke="#5B4A6A" stroke-width="0.6"/><circle cx="478.7" cy="783.8" r="1.7" fill="#A8C2DE" stroke="#5B4A6A" stroke-width="0.6"/><circle cx="485.7" cy="782.2" r="1.7" fill="#A8C2DE" stroke="#5B4A6A" stroke-width="0.6"/><circle cx="492.1" cy="782.9" r="1.7" fill="#A8C2DE" stroke="#5B4A6A" stroke-width="0.6"/><circle cx="498.9" cy="781.5" r="1.7" fill="#A8C2DE" stroke="#5B4A6A" stroke-width="0.6"/><circle cx="507.6" cy="781.8" r="1.7" fill="#A8C2DE" stroke="#5B4A6A" stroke-width="0.6"/><circle cx="514.9" cy="784.7" r="1.7" fill="#A8C2DE" stroke="#5B4A6A" stroke-width="0.6"/><circle cx="518.1" cy="782.8" r="1.7" fill="#A8C2DE" stroke="#5B4A6A" stroke-width="0.6"/><circle cx="528.3" cy="784.9" r="1.7" fill="#A8C2DE" stroke="#5B4A6A" stroke-width="0.6"/><circle cx="533.8" cy="782.1" r="1.7" fill="#A8C2DE" stroke="#5B4A6A" stroke-width="0.6"/><circle cx="539.8" cy="784.8" r="1.7" fill="#A8C2DE" stroke="#5B4A6A" stroke-width="0.6"/><circle cx="546.8" cy="783.3" r="1.7" fill="#A8C2DE" stroke="#5B4A6A" stroke-width="0.6"/><circle cx="553.6" cy="783.1" r="1.7" fill="#A8C2DE" stroke="#5B4A6A" stroke-width="0.6"/><circle cx="563.8" cy="781.5" r="1.7" fill="#A8C2DE" stroke="#5B4A6A" stroke-width="0.6"/><circle cx="570.3" cy="783.0" r="1.7" fill="#A8C2DE" stroke="#5B4A6A" stroke-width="0.6"/><circle cx="577.5" cy="783.8" r="1.7" fill="#A8C2DE" stroke="#5B4A6A" stroke-width="0.6"/><circle cx="581.9" cy="784.6" r="1.7" fill="#A8C2DE" stroke="#5B4A6A" stroke-width="0.6"/><circle cx="589.9" cy="781.1" r="1.7" fill="#A8C2DE" stroke="#5B4A6A" stroke-width="0.6"/><circle cx="595.0" cy="783.0" r="1.7" fill="#A8C2DE" stroke="#5B4A6A" stroke-width="0.6"/><circle cx="603.8" cy="782.2" r="1.7" fill="#A8C2DE" stroke="#5B4A6A" stroke-width="0.6"/><circle cx="609.6" cy="782.4" r="1.7" fill="#A8C2DE" stroke="#5B4A6A" stroke-width="0.6"/><circle cx="617.3" cy="784.4" r="1.7" fill="#A8C2DE" stroke="#5B4A6A" stroke-width="0.6"/><circle cx="623.0" cy="784.0" r="1.7" fill="#A8C2DE" stroke="#5B4A6A" stroke-width="0.6"/><circle cx="458.4" cy="788.5" r="1.7" fill="#A8C2DE" stroke="#5B4A6A" stroke-width="0.6"/><circle cx="465.7" cy="790.9" r="1.7" fill="#A8C2DE" stroke="#5B4A6A" stroke-width="0.6"/><circle cx="472.6" cy="789.2" r="1.7" fill="#A8C2DE" stroke="#5B4A6A" stroke-width="0.6"/><circle cx="477.5" cy="789.6" r="1.7" fill="#A8C2DE" stroke="#5B4A6A" stroke-width="0.6"/><circle cx="487.0" cy="790.4" r="1.7" fill="#A8C2DE" stroke="#5B4A6A" stroke-width="0.6"/><circle cx="491.4" cy="789.7" r="1.7" fill="#A8C2DE" stroke="#5B4A6A" stroke-width="0.6"/><circle cx="498.1" cy="788.2" r="1.7" fill="#A8C2DE" stroke="#5B4A6A" stroke-width="0.6"/><circle cx="504.4" cy="791.3" r="1.7" fill="#A8C2DE" stroke="#5B4A6A" stroke-width="0.6"/><circle cx="512.1" cy="791.7" r="1.7" fill="#A8C2DE" stroke="#5B4A6A" stroke-width="0.6"/><circle cx="519.0" cy="789.1" r="1.7" fill="#A8C2DE" stroke="#5B4A6A" stroke-width="0.6"/><circle cx="527.0" cy="788.8" r="1.7" fill="#A8C2DE" stroke="#5B4A6A" stroke-width="0.6"/><circle cx="533.5" cy="791.8" r="1.7" fill="#A8C2DE" stroke="#5B4A6A" stroke-width="0.6"/><circle cx="542.5" cy="791.2" r="1.7" fill="#A8C2DE" stroke="#5B4A6A" stroke-width="0.6"/><circle cx="548.5" cy="791.7" r="1.7" fill="#A8C2DE" stroke="#5B4A6A" stroke-width="0.6"/><circle cx="556.8" cy="790.2" r="1.7" fill="#A8C2DE" stroke="#5B4A6A" stroke-width="0.6"/><circle cx="562.9" cy="788.2" r="1.7" fill="#A8C2DE" stroke="#5B4A6A" stroke-width="0.6"/><circle cx="569.9" cy="789.8" r="1.7" fill="#A8C2DE" stroke="#5B4A6A" stroke-width="0.6"/><circle cx="577.0" cy="790.6" r="1.7" fill="#A8C2DE" stroke="#5B4A6A" stroke-width="0.6"/><circle cx="582.1" cy="788.2" r="1.7" fill="#A8C2DE" stroke="#5B4A6A" stroke-width="0.6"/><circle cx="591.7" cy="788.5" r="1.7" fill="#A8C2DE" stroke="#5B4A6A" stroke-width="0.6"/><circle cx="596.9" cy="789.4" r="1.7" fill="#A8C2DE" stroke="#5B4A6A" stroke-width="0.6"/><circle cx="603.2" cy="791.0" r="1.7" fill="#A8C2DE" stroke="#5B4A6A" stroke-width="0.6"/><circle cx="612.9" cy="789.0" r="1.7" fill="#A8C2DE" stroke="#5B4A6A" stroke-width="0.6"/><circle cx="618.6" cy="789.2" r="1.7" fill="#A8C2DE" stroke="#5B4A6A" stroke-width="0.6"/><circle cx="625.2" cy="789.6" r="1.7" fill="#A8C2DE" stroke="#5B4A6A" stroke-width="0.6"/><circle cx="455.7" cy="795.6" r="1.7" fill="#A8C2DE" stroke="#5B4A6A" stroke-width="0.6"/><circle cx="462.8" cy="798.6" r="1.7" fill="#A8C2DE" stroke="#5B4A6A" stroke-width="0.6"/><circle cx="471.0" cy="795.9" r="1.7" fill="#A8C2DE" stroke="#5B4A6A" stroke-width="0.6"/><circle cx="479.6" cy="799.0" r="1.7" fill="#A8C2DE" stroke="#5B4A6A" stroke-width="0.6"/><circle cx="484.8" cy="795.6" r="1.7" fill="#A8C2DE" stroke="#5B4A6A" stroke-width="0.6"/><circle cx="490.8" cy="795.4" r="1.7" fill="#A8C2DE" stroke="#5B4A6A" stroke-width="0.6"/><circle cx="498.4" cy="795.4" r="1.7" fill="#A8C2DE" stroke="#5B4A6A" stroke-width="0.6"/><circle cx="505.0" cy="796.0" r="1.7" fill="#A8C2DE" stroke="#5B4A6A" stroke-width="0.6"/><circle cx="513.3" cy="798.5" r="1.7" fill="#A8C2DE" stroke="#5B4A6A" stroke-width="0.6"/><circle cx="521.0" cy="796.7" r="1.7" fill="#A8C2DE" stroke="#5B4A6A" stroke-width="0.6"/><circle cx="526.7" cy="797.1" r="1.7" fill="#A8C2DE" stroke="#5B4A6A" stroke-width="0.6"/><circle cx="533.5" cy="796.4" r="1.7" fill="#A8C2DE" stroke="#5B4A6A" stroke-width="0.6"/><circle cx="539.2" cy="796.1" r="1.7" fill="#A8C2DE" stroke="#5B4A6A" stroke-width="0.6"/><circle cx="549.9" cy="795.5" r="1.7" fill="#A8C2DE" stroke="#5B4A6A" stroke-width="0.6"/><circle cx="555.0" cy="797.5" r="1.7" fill="#A8C2DE" stroke="#5B4A6A" stroke-width="0.6"/><circle cx="563.5" cy="795.9" r="1.7" fill="#A8C2DE" stroke="#5B4A6A" stroke-width="0.6"/><circle cx="568.1" cy="796.0" r="1.7" fill="#A8C2DE" stroke="#5B4A6A" stroke-width="0.6"/><circle cx="575.6" cy="796.8" r="1.7" fill="#A8C2DE" stroke="#5B4A6A" stroke-width="0.6"/><circle cx="584.8" cy="798.4" r="1.7" fill="#A8C2DE" stroke="#5B4A6A" stroke-width="0.6"/><circle cx="591.5" cy="795.1" r="1.7" fill="#A8C2DE" stroke="#5B4A6A" stroke-width="0.6"/><circle cx="595.1" cy="797.8" r="1.7" fill="#A8C2DE" stroke="#5B4A6A" stroke-width="0.6"/><circle cx="605.6" cy="796.9" r="1.7" fill="#A8C2DE" stroke="#5B4A6A" stroke-width="0.6"/><circle cx="611.3" cy="795.0" r="1.7" fill="#A8C2DE" stroke="#5B4A6A" stroke-width="0.6"/><circle cx="617.6" cy="798.7" r="1.7" fill="#A8C2DE" stroke="#5B4A6A" stroke-width="0.6"/><circle cx="626.3" cy="798.4" r="1.7" fill="#A8C2DE" stroke="#5B4A6A" stroke-width="0.6"/><circle cx="458.9" cy="803.0" r="1.7" fill="#A8C2DE" stroke="#5B4A6A" stroke-width="0.6"/><circle cx="462.4" cy="802.6" r="1.7" fill="#A8C2DE" stroke="#5B4A6A" stroke-width="0.6"/><circle cx="471.1" cy="804.7" r="1.7" fill="#A8C2DE" stroke="#5B4A6A" stroke-width="0.6"/><circle cx="479.8" cy="804.9" r="1.7" fill="#A8C2DE" stroke="#5B4A6A" stroke-width="0.6"/><circle cx="485.6" cy="805.1" r="1.7" fill="#A8C2DE" stroke="#5B4A6A" stroke-width="0.6"/><circle cx="491.8" cy="804.2" r="1.7" fill="#A8C2DE" stroke="#5B4A6A" stroke-width="0.6"/><circle cx="497.2" cy="805.1" r="1.7" fill="#A8C2DE" stroke="#5B4A6A" stroke-width="0.6"/><circle cx="504.9" cy="805.7" r="1.7" fill="#A8C2DE" stroke="#5B4A6A" stroke-width="0.6"/><circle cx="513.6" cy="803.2" r="1.7" fill="#A8C2DE" stroke="#5B4A6A" stroke-width="0.6"/><circle cx="518.5" cy="803.0" r="1.7" fill="#A8C2DE" stroke="#5B4A6A" stroke-width="0.6"/><circle cx="527.5" cy="804.8" r="1.7" fill="#A8C2DE" stroke="#5B4A6A" stroke-width="0.6"/><circle cx="532.4" cy="802.3" r="1.7" fill="#A8C2DE" stroke="#5B4A6A" stroke-width="0.6"/><circle cx="541.1" cy="804.3" r="1.7" fill="#A8C2DE" stroke="#5B4A6A" stroke-width="0.6"/><circle cx="547.6" cy="802.9" r="1.7" fill="#A8C2DE" stroke="#5B4A6A" stroke-width="0.6"/><circle cx="555.4" cy="802.0" r="1.7" fill="#A8C2DE" stroke="#5B4A6A" stroke-width="0.6"/><circle cx="561.2" cy="803.8" r="1.7" fill="#A8C2DE" stroke="#5B4A6A" stroke-width="0.6"/><circle cx="570.8" cy="804.6" r="1.7" fill="#A8C2DE" stroke="#5B4A6A" stroke-width="0.6"/><circle cx="577.5" cy="803.9" r="1.7" fill="#A8C2DE" stroke="#5B4A6A" stroke-width="0.6"/><circle cx="581.9" cy="803.0" r="1.7" fill="#A8C2DE" stroke="#5B4A6A" stroke-width="0.6"/><circle cx="591.8" cy="804.8" r="1.7" fill="#A8C2DE" stroke="#5B4A6A" stroke-width="0.6"/><circle cx="596.2" cy="802.1" r="1.7" fill="#A8C2DE" stroke="#5B4A6A" stroke-width="0.6"/><circle cx="604.0" cy="804.7" r="1.7" fill="#A8C2DE" stroke="#5B4A6A" stroke-width="0.6"/><circle cx="610.7" cy="803.0" r="1.7" fill="#A8C2DE" stroke="#5B4A6A" stroke-width="0.6"/><circle cx="618.7" cy="805.7" r="1.7" fill="#A8C2DE" stroke="#5B4A6A" stroke-width="0.6"/><circle cx="623.9" cy="802.1" r="1.7" fill="#A8C2DE" stroke="#5B4A6A" stroke-width="0.6"/><circle cx="456.4" cy="810.7" r="1.7" fill="#A8C2DE" stroke="#5B4A6A" stroke-width="0.6"/><circle cx="464.7" cy="809.8" r="1.7" fill="#A8C2DE" stroke="#5B4A6A" stroke-width="0.6"/><circle cx="472.2" cy="812.0" r="1.7" fill="#A8C2DE" stroke="#5B4A6A" stroke-width="0.6"/><circle cx="478.0" cy="809.8" r="1.7" fill="#A8C2DE" stroke="#5B4A6A" stroke-width="0.6"/><circle cx="486.9" cy="810.2" r="1.7" fill="#A8C2DE" stroke="#5B4A6A" stroke-width="0.6"/><circle cx="493.3" cy="809.9" r="1.7" fill="#A8C2DE" stroke="#5B4A6A" stroke-width="0.6"/><circle cx="497.9" cy="812.0" r="1.7" fill="#A8C2DE" stroke="#5B4A6A" stroke-width="0.6"/><circle cx="505.2" cy="812.8" r="1.7" fill="#A8C2DE" stroke="#5B4A6A" stroke-width="0.6"/><circle cx="513.0" cy="809.7" r="1.7" fill="#A8C2DE" stroke="#5B4A6A" stroke-width="0.6"/><circle cx="518.9" cy="810.7" r="1.7" fill="#A8C2DE" stroke="#5B4A6A" stroke-width="0.6"/><circle cx="527.7" cy="812.8" r="1.7" fill="#A8C2DE" stroke="#5B4A6A" stroke-width="0.6"/><circle cx="532.6" cy="810.6" r="1.7" fill="#A8C2DE" stroke="#5B4A6A" stroke-width="0.6"/><circle cx="539.9" cy="812.9" r="1.7" fill="#A8C2DE" stroke="#5B4A6A" stroke-width="0.6"/><circle cx="546.6" cy="809.2" r="1.7" fill="#A8C2DE" stroke="#5B4A6A" stroke-width="0.6"/><circle cx="553.2" cy="810.6" r="1.7" fill="#A8C2DE" stroke="#5B4A6A" stroke-width="0.6"/><circle cx="563.6" cy="812.5" r="1.7" fill="#A8C2DE" stroke="#5B4A6A" stroke-width="0.6"/><circle cx="569.9" cy="813.0" r="1.7" fill="#A8C2DE" stroke="#5B4A6A" stroke-width="0.6"/><circle cx="577.7" cy="810.3" r="1.7" fill="#A8C2DE" stroke="#5B4A6A" stroke-width="0.6"/><circle cx="581.7" cy="812.7" r="1.7" fill="#A8C2DE" stroke="#5B4A6A" stroke-width="0.6"/><circle cx="591.0" cy="809.1" r="1.7" fill="#A8C2DE" stroke="#5B4A6A" stroke-width="0.6"/><circle cx="597.7" cy="810.5" r="1.7" fill="#A8C2DE" stroke="#5B4A6A" stroke-width="0.6"/><circle cx="603.5" cy="810.3" r="1.7" fill="#A8C2DE" stroke="#5B4A6A" stroke-width="0.6"/><circle cx="609.7" cy="809.0" r="1.7" fill="#A8C2DE" stroke="#5B4A6A" stroke-width="0.6"/><circle cx="617.1" cy="810.4" r="1.7" fill="#A8C2DE" stroke="#5B4A6A" stroke-width="0.6"/><circle cx="626.8" cy="809.5" r="1.7" fill="#A8C2DE" stroke="#5B4A6A" stroke-width="0.6"/><circle cx="458.9" cy="816.8" r="1.7" fill="#A8C2DE" stroke="#5B4A6A" stroke-width="0.6"/><circle cx="463.4" cy="819.3" r="1.7" fill="#A8C2DE" stroke="#5B4A6A" stroke-width="0.6"/><circle cx="472.3" cy="817.7" r="1.7" fill="#A8C2DE" stroke="#5B4A6A" stroke-width="0.6"/><circle cx="476.2" cy="817.9" r="1.7" fill="#A8C2DE" stroke="#5B4A6A" stroke-width="0.6"/><circle cx="484.5" cy="819.7" r="1.7" fill="#A8C2DE" stroke="#5B4A6A" stroke-width="0.6"/><circle cx="490.8" cy="817.5" r="1.7" fill="#A8C2DE" stroke="#5B4A6A" stroke-width="0.6"/><circle cx="500.6" cy="816.1" r="1.7" fill="#A8C2DE" stroke="#5B4A6A" stroke-width="0.6"/><circle cx="505.6" cy="819.2" r="1.7" fill="#A8C2DE" stroke="#5B4A6A" stroke-width="0.6"/><circle cx="514.1" cy="816.2" r="1.7" fill="#A8C2DE" stroke="#5B4A6A" stroke-width="0.6"/><circle cx="518.1" cy="816.3" r="1.7" fill="#A8C2DE" stroke="#5B4A6A" stroke-width="0.6"/><circle cx="528.7" cy="817.0" r="1.7" fill="#A8C2DE" stroke="#5B4A6A" stroke-width="0.6"/><circle cx="535.0" cy="819.6" r="1.7" fill="#A8C2DE" stroke="#5B4A6A" stroke-width="0.6"/><circle cx="540.4" cy="817.1" r="1.7" fill="#A8C2DE" stroke="#5B4A6A" stroke-width="0.6"/><circle cx="549.8" cy="818.5" r="1.7" fill="#A8C2DE" stroke="#5B4A6A" stroke-width="0.6"/><circle cx="554.0" cy="818.9" r="1.7" fill="#A8C2DE" stroke="#5B4A6A" stroke-width="0.6"/><circle cx="561.3" cy="817.1" r="1.7" fill="#A8C2DE" stroke="#5B4A6A" stroke-width="0.6"/><circle cx="567.0" cy="819.0" r="1.7" fill="#A8C2DE" stroke="#5B4A6A" stroke-width="0.6"/><circle cx="577.7" cy="818.5" r="1.7" fill="#A8C2DE" stroke="#5B4A6A" stroke-width="0.6"/><circle cx="584.8" cy="816.1" r="1.7" fill="#A8C2DE" stroke="#5B4A6A" stroke-width="0.6"/><circle cx="588.9" cy="817.9" r="1.7" fill="#A8C2DE" stroke="#5B4A6A" stroke-width="0.6"/><circle cx="598.8" cy="819.8" r="1.7" fill="#A8C2DE" stroke="#5B4A6A" stroke-width="0.6"/><circle cx="603.5" cy="817.0" r="1.7" fill="#A8C2DE" stroke="#5B4A6A" stroke-width="0.6"/><circle cx="610.7" cy="818.0" r="1.7" fill="#A8C2DE" stroke="#5B4A6A" stroke-width="0.6"/><circle cx="619.7" cy="816.7" r="1.7" fill="#A8C2DE" stroke="#5B4A6A" stroke-width="0.6"/><circle cx="626.2" cy="819.0" r="1.7" fill="#A8C2DE" stroke="#5B4A6A" stroke-width="0.6"/><circle cx="458.3" cy="826.1" r="1.7" fill="#A8C2DE" stroke="#5B4A6A" stroke-width="0.6"/><circle cx="464.4" cy="824.3" r="1.7" fill="#A8C2DE" stroke="#5B4A6A" stroke-width="0.6"/><circle cx="470.3" cy="824.4" r="1.7" fill="#A8C2DE" stroke="#5B4A6A" stroke-width="0.6"/><circle cx="479.1" cy="823.3" r="1.7" fill="#A8C2DE" stroke="#5B4A6A" stroke-width="0.6"/><circle cx="483.8" cy="826.0" r="1.7" fill="#A8C2DE" stroke="#5B4A6A" stroke-width="0.6"/><circle cx="491.0" cy="823.3" r="1.7" fill="#A8C2DE" stroke="#5B4A6A" stroke-width="0.6"/><circle cx="497.1" cy="825.2" r="1.7" fill="#A8C2DE" stroke="#5B4A6A" stroke-width="0.6"/><circle cx="505.3" cy="826.9" r="1.7" fill="#A8C2DE" stroke="#5B4A6A" stroke-width="0.6"/><circle cx="514.5" cy="827.0" r="1.7" fill="#A8C2DE" stroke="#5B4A6A" stroke-width="0.6"/><circle cx="519.1" cy="823.3" r="1.7" fill="#A8C2DE" stroke="#5B4A6A" stroke-width="0.6"/><circle cx="525.4" cy="825.0" r="1.7" fill="#A8C2DE" stroke="#5B4A6A" stroke-width="0.6"/><circle cx="534.8" cy="824.8" r="1.7" fill="#A8C2DE" stroke="#5B4A6A" stroke-width="0.6"/><circle cx="539.9" cy="824.7" r="1.7" fill="#A8C2DE" stroke="#5B4A6A" stroke-width="0.6"/><circle cx="548.5" cy="825.7" r="1.7" fill="#A8C2DE" stroke="#5B4A6A" stroke-width="0.6"/><circle cx="556.0" cy="826.4" r="1.7" fill="#A8C2DE" stroke="#5B4A6A" stroke-width="0.6"/><circle cx="562.7" cy="823.5" r="1.7" fill="#A8C2DE" stroke="#5B4A6A" stroke-width="0.6"/><circle cx="570.4" cy="824.2" r="1.7" fill="#A8C2DE" stroke="#5B4A6A" stroke-width="0.6"/><circle cx="576.3" cy="824.5" r="1.7" fill="#A8C2DE" stroke="#5B4A6A" stroke-width="0.6"/><circle cx="584.0" cy="823.8" r="1.7" fill="#A8C2DE" stroke="#5B4A6A" stroke-width="0.6"/><circle cx="589.0" cy="824.0" r="1.7" fill="#A8C2DE" stroke="#5B4A6A" stroke-width="0.6"/><circle cx="595.6" cy="826.5" r="1.7" fill="#A8C2DE" stroke="#5B4A6A" stroke-width="0.6"/><circle cx="604.3" cy="824.3" r="1.7" fill="#A8C2DE" stroke="#5B4A6A" stroke-width="0.6"/><circle cx="610.6" cy="827.0" r="1.7" fill="#A8C2DE" stroke="#5B4A6A" stroke-width="0.6"/><circle cx="618.0" cy="823.9" r="1.7" fill="#A8C2DE" stroke="#5B4A6A" stroke-width="0.6"/><circle cx="626.2" cy="825.6" r="1.7" fill="#A8C2DE" stroke="#5B4A6A" stroke-width="0.6"/><circle cx="459.0" cy="830.4" r="1.7" fill="#A8C2DE" stroke="#5B4A6A" stroke-width="0.6"/><circle cx="463.9" cy="833.3" r="1.7" fill="#A8C2DE" stroke="#5B4A6A" stroke-width="0.6"/><circle cx="472.4" cy="833.7" r="1.7" fill="#A8C2DE" stroke="#5B4A6A" stroke-width="0.6"/><circle cx="476.2" cy="831.2" r="1.7" fill="#A8C2DE" stroke="#5B4A6A" stroke-width="0.6"/><circle cx="483.5" cy="830.8" r="1.7" fill="#A8C2DE" stroke="#5B4A6A" stroke-width="0.6"/><circle cx="493.9" cy="832.3" r="1.7" fill="#A8C2DE" stroke="#5B4A6A" stroke-width="0.6"/><circle cx="500.7" cy="831.5" r="1.7" fill="#A8C2DE" stroke="#5B4A6A" stroke-width="0.6"/><circle cx="507.5" cy="831.8" r="1.7" fill="#A8C2DE" stroke="#5B4A6A" stroke-width="0.6"/><circle cx="512.0" cy="833.1" r="1.7" fill="#A8C2DE" stroke="#5B4A6A" stroke-width="0.6"/><circle cx="521.8" cy="830.4" r="1.7" fill="#A8C2DE" stroke="#5B4A6A" stroke-width="0.6"/><circle cx="527.4" cy="832.5" r="1.7" fill="#A8C2DE" stroke="#5B4A6A" stroke-width="0.6"/><circle cx="532.9" cy="831.5" r="1.7" fill="#A8C2DE" stroke="#5B4A6A" stroke-width="0.6"/><circle cx="539.6" cy="830.8" r="1.7" fill="#A8C2DE" stroke="#5B4A6A" stroke-width="0.6"/><circle cx="547.0" cy="832.4" r="1.7" fill="#A8C2DE" stroke="#5B4A6A" stroke-width="0.6"/><circle cx="555.6" cy="830.8" r="1.7" fill="#A8C2DE" stroke="#5B4A6A" stroke-width="0.6"/><circle cx="560.0" cy="831.3" r="1.7" fill="#A8C2DE" stroke="#5B4A6A" stroke-width="0.6"/><circle cx="569.7" cy="830.7" r="1.7" fill="#A8C2DE" stroke="#5B4A6A" stroke-width="0.6"/><circle cx="575.2" cy="830.8" r="1.7" fill="#A8C2DE" stroke="#5B4A6A" stroke-width="0.6"/><circle cx="584.2" cy="832.2" r="1.7" fill="#A8C2DE" stroke="#5B4A6A" stroke-width="0.6"/><circle cx="588.3" cy="830.4" r="1.7" fill="#A8C2DE" stroke="#5B4A6A" stroke-width="0.6"/><circle cx="596.6" cy="832.2" r="1.7" fill="#A8C2DE" stroke="#5B4A6A" stroke-width="0.6"/><circle cx="604.6" cy="830.4" r="1.7" fill="#A8C2DE" stroke="#5B4A6A" stroke-width="0.6"/><circle cx="609.7" cy="832.8" r="1.7" fill="#A8C2DE" stroke="#5B4A6A" stroke-width="0.6"/><circle cx="617.6" cy="831.1" r="1.7" fill="#A8C2DE" stroke="#5B4A6A" stroke-width="0.6"/><circle cx="624.2" cy="833.8" r="1.7" fill="#A8C2DE" stroke="#5B4A6A" stroke-width="0.6"/><circle cx="456.2" cy="839.3" r="1.7" fill="#A8C2DE" stroke="#5B4A6A" stroke-width="0.6"/><circle cx="463.4" cy="838.7" r="1.7" fill="#A8C2DE" stroke="#5B4A6A" stroke-width="0.6"/><circle cx="472.5" cy="841.0" r="1.7" fill="#A8C2DE" stroke="#5B4A6A" stroke-width="0.6"/><circle cx="477.5" cy="837.8" r="1.7" fill="#A8C2DE" stroke="#5B4A6A" stroke-width="0.6"/><circle cx="485.9" cy="837.8" r="1.7" fill="#A8C2DE" stroke="#5B4A6A" stroke-width="0.6"/><circle cx="490.0" cy="840.6" r="1.7" fill="#A8C2DE" stroke="#5B4A6A" stroke-width="0.6"/><circle cx="498.7" cy="840.3" r="1.7" fill="#A8C2DE" stroke="#5B4A6A" stroke-width="0.6"/><circle cx="505.6" cy="840.5" r="1.7" fill="#A8C2DE" stroke="#5B4A6A" stroke-width="0.6"/><circle cx="512.8" cy="837.7" r="1.7" fill="#A8C2DE" stroke="#5B4A6A" stroke-width="0.6"/><circle cx="518.1" cy="839.2" r="1.7" fill="#A8C2DE" stroke="#5B4A6A" stroke-width="0.6"/><circle cx="527.6" cy="840.6" r="1.7" fill="#A8C2DE" stroke="#5B4A6A" stroke-width="0.6"/><circle cx="532.4" cy="839.5" r="1.7" fill="#A8C2DE" stroke="#5B4A6A" stroke-width="0.6"/><circle cx="540.5" cy="839.0" r="1.7" fill="#A8C2DE" stroke="#5B4A6A" stroke-width="0.6"/><circle cx="546.6" cy="838.1" r="1.7" fill="#A8C2DE" stroke="#5B4A6A" stroke-width="0.6"/><circle cx="555.1" cy="840.7" r="1.7" fill="#A8C2DE" stroke="#5B4A6A" stroke-width="0.6"/><circle cx="560.4" cy="839.0" r="1.7" fill="#A8C2DE" stroke="#5B4A6A" stroke-width="0.6"/><circle cx="570.2" cy="840.9" r="1.7" fill="#A8C2DE" stroke="#5B4A6A" stroke-width="0.6"/><circle cx="574.8" cy="837.5" r="1.7" fill="#A8C2DE" stroke="#5B4A6A" stroke-width="0.6"/><circle cx="584.8" cy="840.9" r="1.7" fill="#A8C2DE" stroke="#5B4A6A" stroke-width="0.6"/><circle cx="589.9" cy="837.2" r="1.7" fill="#A8C2DE" stroke="#5B4A6A" stroke-width="0.6"/><circle cx="598.7" cy="838.6" r="1.7" fill="#A8C2DE" stroke="#5B4A6A" stroke-width="0.6"/><circle cx="605.6" cy="839.5" r="1.7" fill="#A8C2DE" stroke="#5B4A6A" stroke-width="0.6"/><circle cx="612.3" cy="837.6" r="1.7" fill="#A8C2DE" stroke="#5B4A6A" stroke-width="0.6"/><circle cx="619.1" cy="837.9" r="1.7" fill="#A8C2DE" stroke="#5B4A6A" stroke-width="0.6"/><circle cx="624.6" cy="840.4" r="1.7" fill="#A8C2DE" stroke="#5B4A6A" stroke-width="0.6"/></g><path d="M505 745 C520 737 540 731 556 729 L557 733 C540 737 522 742 507 750 Z" fill="#F2EEEE"/><ellipse cx="488" cy="845" rx="17" ry="12" fill="#F0F0F2"/><ellipse cx="585" cy="838" rx="5" ry="4" fill="#F0F0F2"/>
</g>
<defs>
<filter id="nz15" x="0" y="0" width="1" height="1" color-interpolation-filters="sRGB"><feTurbulence type="fractalNoise" baseFrequency="0.08" numOctaves="3" seed="25"/><feColorMatrix type="matrix" values="0 0 0 0 0.804 0 0 0 0 0.647 0 0 0 0 0.471 5 0 0 0 -2.9"/></filter>
<filter id="nz16" x="0" y="0" width="1" height="1" color-interpolation-filters="sRGB"><feTurbulence type="fractalNoise" baseFrequency="0.1" numOctaves="3" seed="26"/><feColorMatrix type="matrix" values="0 0 0 0 0.961 0 0 0 0 0.961 0 0 0 0 0.973 3 0 0 0 -1.7"/></filter>
<filter id="nz17" x="0" y="0" width="1" height="1" color-interpolation-filters="sRGB"><feTurbulence type="fractalNoise" baseFrequency="0.5" numOctaves="3" seed="24"/><feColorMatrix type="matrix" values="0 0 0 0 0.667 0 0 0 0 0.471 0 0 0 0 0.314 5 0 0 0 -3.4"/></filter>
</defs>
<g clip-path="url(#cc6)">
<rect x="641.4" y="710.7" width="177" height="132.5" fill="#E0DFE6"/>
<rect x="641.4" y="710.7" width="177" height="132.5" filter="url(#nz15)"/>
<rect x="641.4" y="710.7" width="177" height="132.5" filter="url(#nz16)"/>
<rect x="641.4" y="710.7" width="177" height="132.5" filter="url(#nz17)"/>
</g>
<g clip-path="url(#cc6)"><path d="M770 711 C790 740 805 760 818 770 L818 711 Z" fill="#EEF0F6" opacity="0.8"/><g opacity="0.85"><ellipse cx="788.2" cy="734.9" rx="1.2" ry="0.9" transform="rotate(93 788.2 734.9)" fill="#5566C0"/><ellipse cx="709.3" cy="727.0" rx="1.2" ry="1.1" transform="rotate(162 709.3 727.0)" fill="#5566C0"/><ellipse cx="648.7" cy="785.2" rx="1.7" ry="0.7" transform="rotate(151 648.7 785.2)" fill="#5566C0"/><ellipse cx="662.2" cy="790.1" rx="1.5" ry="1.0" transform="rotate(55 662.2 790.1)" fill="#5566C0"/><ellipse cx="715.8" cy="787.9" rx="1.4" ry="1.0" transform="rotate(80 715.8 787.9)" fill="#5566C0"/><ellipse cx="719.0" cy="713.8" rx="1.6" ry="0.9" transform="rotate(42 719.0 713.8)" fill="#5566C0"/><ellipse cx="776.6" cy="814.0" rx="1.4" ry="0.8" transform="rotate(85 776.6 814.0)" fill="#5566C0"/><ellipse cx="660.4" cy="727.7" rx="1.4" ry="0.7" transform="rotate(80 660.4 727.7)" fill="#5566C0"/><ellipse cx="731.7" cy="716.1" rx="1.6" ry="0.7" transform="rotate(132 731.7 716.1)" fill="#5566C0"/><ellipse cx="779.0" cy="778.5" rx="1.0" ry="1.0" transform="rotate(68 779.0 778.5)" fill="#5566C0"/><ellipse cx="809.7" cy="728.7" rx="1.8" ry="1.2" transform="rotate(132 809.7 728.7)" fill="#5566C0"/><ellipse cx="785.7" cy="736.4" rx="1.9" ry="0.9" transform="rotate(172 785.7 736.4)" fill="#5566C0"/><ellipse cx="803.5" cy="732.6" rx="1.7" ry="1.2" transform="rotate(12 803.5 732.6)" fill="#5566C0"/><ellipse cx="703.5" cy="810.9" rx="1.1" ry="1.1" transform="rotate(49 703.5 810.9)" fill="#5566C0"/><ellipse cx="785.8" cy="729.7" rx="1.5" ry="1.2" transform="rotate(37 785.8 729.7)" fill="#5566C0"/><ellipse cx="687.9" cy="777.7" rx="1.3" ry="0.7" transform="rotate(33 687.9 777.7)" fill="#5566C0"/><ellipse cx="669.9" cy="834.8" rx="1.6" ry="1.1" transform="rotate(30 669.9 834.8)" fill="#5566C0"/><ellipse cx="780.3" cy="725.9" rx="1.5" ry="1.0" transform="rotate(65 780.3 725.9)" fill="#5566C0"/><ellipse cx="795.9" cy="784.3" rx="1.5" ry="1.1" transform="rotate(19 795.9 784.3)" fill="#5566C0"/><ellipse cx="817.2" cy="794.1" rx="1.4" ry="1.1" transform="rotate(48 817.2 794.1)" fill="#5566C0"/><ellipse cx="816.7" cy="787.2" rx="1.3" ry="1.1" transform="rotate(80 816.7 787.2)" fill="#5566C0"/><ellipse cx="672.7" cy="809.2" rx="1.0" ry="1.1" transform="rotate(46 672.7 809.2)" fill="#5566C0"/><ellipse cx="754.5" cy="841.1" rx="1.5" ry="1.0" transform="rotate(56 754.5 841.1)" fill="#5566C0"/><ellipse cx="641.7" cy="715.2" rx="1.1" ry="1.0" transform="rotate(78 641.7 715.2)" fill="#5566C0"/><ellipse cx="732.1" cy="829.4" rx="1.1" ry="0.8" transform="rotate(118 732.1 829.4)" fill="#5566C0"/><ellipse cx="645.3" cy="711.0" rx="1.3" ry="0.8" transform="rotate(64 645.3 711.0)" fill="#5566C0"/><ellipse cx="681.1" cy="788.0" rx="1.5" ry="0.8" transform="rotate(112 681.1 788.0)" fill="#5566C0"/><ellipse cx="725.5" cy="728.6" rx="1.8" ry="0.8" transform="rotate(27 725.5 728.6)" fill="#5566C0"/><ellipse cx="658.4" cy="795.3" rx="1.8" ry="1.1" transform="rotate(72 658.4 795.3)" fill="#5566C0"/><ellipse cx="688.2" cy="712.2" rx="1.6" ry="1.0" transform="rotate(63 688.2 712.2)" fill="#5566C0"/><ellipse cx="755.7" cy="769.5" rx="1.8" ry="1.1" transform="rotate(45 755.7 769.5)" fill="#5566C0"/><ellipse cx="801.3" cy="716.5" rx="1.5" ry="0.9" transform="rotate(43 801.3 716.5)" fill="#5566C0"/><ellipse cx="651.7" cy="813.9" rx="1.0" ry="1.0" transform="rotate(169 651.7 813.9)" fill="#5566C0"/><ellipse cx="666.6" cy="737.1" rx="1.5" ry="1.0" transform="rotate(115 666.6 737.1)" fill="#5566C0"/><ellipse cx="785.4" cy="733.8" rx="1.3" ry="0.9" transform="rotate(9 785.4 733.8)" fill="#5566C0"/><ellipse cx="798.8" cy="814.4" rx="1.6" ry="0.7" transform="rotate(152 798.8 814.4)" fill="#5566C0"/><ellipse cx="773.3" cy="772.3" rx="1.7" ry="0.9" transform="rotate(41 773.3 772.3)" fill="#5566C0"/><ellipse cx="660.0" cy="741.5" rx="1.0" ry="0.9" transform="rotate(135 660.0 741.5)" fill="#5566C0"/><ellipse cx="764.4" cy="822.7" rx="1.6" ry="0.8" transform="rotate(100 764.4 822.7)" fill="#5566C0"/><ellipse cx="718.6" cy="815.2" rx="1.5" ry="0.8" transform="rotate(116 718.6 815.2)" fill="#5566C0"/><ellipse cx="812.2" cy="739.5" rx="1.8" ry="0.7" transform="rotate(47 812.2 739.5)" fill="#5566C0"/><ellipse cx="683.2" cy="809.3" rx="1.9" ry="1.1" transform="rotate(59 683.2 809.3)" fill="#5566C0"/><ellipse cx="797.2" cy="754.2" rx="1.2" ry="1.2" transform="rotate(114 797.2 754.2)" fill="#5566C0"/><ellipse cx="764.0" cy="798.8" rx="1.9" ry="0.9" transform="rotate(151 764.0 798.8)" fill="#5566C0"/><ellipse cx="764.9" cy="824.3" rx="1.4" ry="1.1" transform="rotate(103 764.9 824.3)" fill="#5566C0"/><ellipse cx="695.9" cy="738.8" rx="1.6" ry="0.7" transform="rotate(164 695.9 738.8)" fill="#5566C0"/><ellipse cx="667.0" cy="714.3" rx="1.1" ry="1.2" transform="rotate(62 667.0 714.3)" fill="#5566C0"/><ellipse cx="666.5" cy="714.5" rx="1.0" ry="1.0" transform="rotate(114 666.5 714.5)" fill="#5566C0"/><ellipse cx="764.8" cy="808.3" rx="1.1" ry="1.0" transform="rotate(65 764.8 808.3)" fill="#5566C0"/><ellipse cx="786.1" cy="819.3" rx="1.8" ry="0.7" transform="rotate(156 786.1 819.3)" fill="#5566C0"/><ellipse cx="803.3" cy="835.8" rx="1.1" ry="0.8" transform="rotate(20 803.3 835.8)" fill="#5566C0"/><ellipse cx="647.5" cy="823.0" rx="1.7" ry="1.0" transform="rotate(149 647.5 823.0)" fill="#5566C0"/><ellipse cx="753.2" cy="748.8" rx="1.1" ry="0.7" transform="rotate(136 753.2 748.8)" fill="#5566C0"/><ellipse cx="677.7" cy="753.0" rx="1.4" ry="0.7" transform="rotate(46 677.7 753.0)" fill="#5566C0"/><ellipse cx="691.4" cy="805.5" rx="1.3" ry="0.9" transform="rotate(174 691.4 805.5)" fill="#5566C0"/><ellipse cx="730.6" cy="823.5" rx="1.6" ry="0.7" transform="rotate(74 730.6 823.5)" fill="#5566C0"/><ellipse cx="718.7" cy="813.1" rx="1.3" ry="1.1" transform="rotate(97 718.7 813.1)" fill="#5566C0"/><ellipse cx="679.7" cy="824.9" rx="1.1" ry="1.1" transform="rotate(31 679.7 824.9)" fill="#5566C0"/><ellipse cx="641.6" cy="737.5" rx="1.7" ry="1.2" transform="rotate(1 641.6 737.5)" fill="#5566C0"/><ellipse cx="728.3" cy="775.8" rx="1.7" ry="0.8" transform="rotate(89 728.3 775.8)" fill="#5566C0"/><ellipse cx="702.9" cy="820.9" rx="1.2" ry="1.2" transform="rotate(51 702.9 820.9)" fill="#5566C0"/><ellipse cx="679.4" cy="803.4" rx="1.4" ry="0.8" transform="rotate(115 679.4 803.4)" fill="#5566C0"/><ellipse cx="655.7" cy="815.1" rx="1.6" ry="1.1" transform="rotate(113 655.7 815.1)" fill="#5566C0"/><ellipse cx="704.3" cy="763.9" rx="1.4" ry="1.1" transform="rotate(16 704.3 763.9)" fill="#5566C0"/><ellipse cx="798.7" cy="714.0" rx="1.2" ry="0.8" transform="rotate(162 798.7 714.0)" fill="#5566C0"/><ellipse cx="730.1" cy="761.0" rx="1.8" ry="0.8" transform="rotate(83 730.1 761.0)" fill="#5566C0"/><ellipse cx="735.5" cy="810.7" rx="1.7" ry="1.0" transform="rotate(63 735.5 810.7)" fill="#5566C0"/><ellipse cx="699.2" cy="731.3" rx="1.8" ry="1.0" transform="rotate(134 699.2 731.3)" fill="#5566C0"/><ellipse cx="671.4" cy="768.8" rx="1.7" ry="1.0" transform="rotate(23 671.4 768.8)" fill="#5566C0"/><ellipse cx="723.2" cy="828.0" rx="1.2" ry="0.8" transform="rotate(54 723.2 828.0)" fill="#5566C0"/><ellipse cx="765.9" cy="822.5" rx="1.1" ry="0.8" transform="rotate(45 765.9 822.5)" fill="#5566C0"/><ellipse cx="699.2" cy="779.9" rx="1.1" ry="0.9" transform="rotate(34 699.2 779.9)" fill="#5566C0"/><ellipse cx="814.0" cy="807.3" rx="1.1" ry="1.2" transform="rotate(18 814.0 807.3)" fill="#5566C0"/><ellipse cx="709.4" cy="841.1" rx="1.7" ry="1.1" transform="rotate(78 709.4 841.1)" fill="#5566C0"/><ellipse cx="676.1" cy="795.2" rx="1.1" ry="0.8" transform="rotate(70 676.1 795.2)" fill="#5566C0"/><ellipse cx="647.4" cy="763.6" rx="1.7" ry="1.0" transform="rotate(90 647.4 763.6)" fill="#5566C0"/><ellipse cx="753.3" cy="772.1" rx="1.1" ry="1.0" transform="rotate(73 753.3 772.1)" fill="#5566C0"/><ellipse cx="772.5" cy="831.0" rx="1.4" ry="1.0" transform="rotate(135 772.5 831.0)" fill="#5566C0"/><ellipse cx="715.9" cy="741.0" rx="1.6" ry="1.1" transform="rotate(139 715.9 741.0)" fill="#5566C0"/><ellipse cx="765.3" cy="823.6" rx="1.6" ry="1.0" transform="rotate(82 765.3 823.6)" fill="#5566C0"/><ellipse cx="696.8" cy="793.9" rx="1.1" ry="0.9" transform="rotate(141 696.8 793.9)" fill="#5566C0"/><ellipse cx="767.6" cy="794.1" rx="1.2" ry="0.9" transform="rotate(82 767.6 794.1)" fill="#5566C0"/><ellipse cx="751.4" cy="764.9" rx="1.6" ry="1.2" transform="rotate(33 751.4 764.9)" fill="#5566C0"/><ellipse cx="757.2" cy="813.8" rx="1.3" ry="0.9" transform="rotate(175 757.2 813.8)" fill="#5566C0"/><ellipse cx="648.2" cy="782.7" rx="1.1" ry="1.1" transform="rotate(169 648.2 782.7)" fill="#5566C0"/><ellipse cx="733.3" cy="724.1" rx="1.5" ry="1.0" transform="rotate(129 733.3 724.1)" fill="#5566C0"/><ellipse cx="732.1" cy="795.4" rx="1.7" ry="1.0" transform="rotate(74 732.1 795.4)" fill="#5566C0"/><ellipse cx="809.2" cy="738.5" rx="1.6" ry="0.9" transform="rotate(137 809.2 738.5)" fill="#5566C0"/><ellipse cx="663.1" cy="841.1" rx="1.3" ry="0.7" transform="rotate(49 663.1 841.1)" fill="#5566C0"/><ellipse cx="712.1" cy="712.5" rx="1.4" ry="0.9" transform="rotate(126 712.1 712.5)" fill="#5566C0"/><ellipse cx="703.7" cy="745.8" rx="1.2" ry="1.1" transform="rotate(169 703.7 745.8)" fill="#5566C0"/><ellipse cx="734.7" cy="739.7" rx="1.7" ry="0.9" transform="rotate(38 734.7 739.7)" fill="#5566C0"/><ellipse cx="664.3" cy="813.6" rx="1.7" ry="1.0" transform="rotate(84 664.3 813.6)" fill="#5566C0"/><ellipse cx="740.9" cy="740.6" rx="1.9" ry="0.9" transform="rotate(115 740.9 740.6)" fill="#5566C0"/><ellipse cx="786.3" cy="818.8" rx="1.4" ry="0.8" transform="rotate(99 786.3 818.8)" fill="#5566C0"/><ellipse cx="663.6" cy="821.2" rx="1.3" ry="1.1" transform="rotate(48 663.6 821.2)" fill="#5566C0"/><ellipse cx="708.0" cy="744.3" rx="1.4" ry="0.8" transform="rotate(0 708.0 744.3)" fill="#5566C0"/><ellipse cx="769.2" cy="748.0" rx="1.2" ry="0.9" transform="rotate(86 769.2 748.0)" fill="#5566C0"/><ellipse cx="717.2" cy="795.1" rx="1.6" ry="0.9" transform="rotate(167 717.2 795.1)" fill="#5566C0"/><ellipse cx="792.6" cy="718.3" rx="1.7" ry="1.2" transform="rotate(141 792.6 718.3)" fill="#5566C0"/><ellipse cx="666.3" cy="820.9" rx="1.6" ry="0.7" transform="rotate(2 666.3 820.9)" fill="#5566C0"/><ellipse cx="809.9" cy="797.6" rx="1.2" ry="0.8" transform="rotate(26 809.9 797.6)" fill="#5566C0"/><ellipse cx="682.8" cy="813.6" rx="1.3" ry="0.8" transform="rotate(163 682.8 813.6)" fill="#5566C0"/><ellipse cx="781.5" cy="732.9" rx="1.8" ry="1.0" transform="rotate(141 781.5 732.9)" fill="#5566C0"/><ellipse cx="759.7" cy="829.1" rx="1.7" ry="1.1" transform="rotate(36 759.7 829.1)" fill="#5566C0"/><ellipse cx="764.0" cy="781.0" rx="1.7" ry="0.9" transform="rotate(159 764.0 781.0)" fill="#5566C0"/><ellipse cx="739.6" cy="745.7" rx="1.2" ry="0.8" transform="rotate(89 739.6 745.7)" fill="#5566C0"/><ellipse cx="651.7" cy="772.6" rx="1.1" ry="0.9" transform="rotate(90 651.7 772.6)" fill="#5566C0"/><ellipse cx="736.9" cy="825.0" rx="1.0" ry="1.1" transform="rotate(84 736.9 825.0)" fill="#5566C0"/><ellipse cx="741.0" cy="798.9" rx="1.8" ry="0.9" transform="rotate(75 741.0 798.9)" fill="#5566C0"/><ellipse cx="811.4" cy="720.7" rx="1.6" ry="1.0" transform="rotate(5 811.4 720.7)" fill="#5566C0"/><ellipse cx="749.3" cy="801.1" rx="1.8" ry="0.9" transform="rotate(177 749.3 801.1)" fill="#5566C0"/><ellipse cx="731.8" cy="774.9" rx="1.8" ry="0.7" transform="rotate(129 731.8 774.9)" fill="#5566C0"/><ellipse cx="752.1" cy="755.6" rx="1.8" ry="0.9" transform="rotate(85 752.1 755.6)" fill="#5566C0"/><ellipse cx="734.4" cy="812.8" rx="1.2" ry="0.9" transform="rotate(76 734.4 812.8)" fill="#5566C0"/><ellipse cx="739.5" cy="820.2" rx="1.3" ry="1.1" transform="rotate(73 739.5 820.2)" fill="#5566C0"/><ellipse cx="730.6" cy="746.7" rx="1.5" ry="1.2" transform="rotate(118 730.6 746.7)" fill="#5566C0"/><ellipse cx="781.6" cy="754.5" rx="1.3" ry="0.8" transform="rotate(106 781.6 754.5)" fill="#5566C0"/><ellipse cx="753.8" cy="814.6" rx="1.0" ry="1.1" transform="rotate(159 753.8 814.6)" fill="#5566C0"/><ellipse cx="737.9" cy="717.3" rx="1.3" ry="0.7" transform="rotate(34 737.9 717.3)" fill="#5566C0"/><ellipse cx="804.5" cy="791.4" rx="1.6" ry="1.1" transform="rotate(164 804.5 791.4)" fill="#5566C0"/><ellipse cx="749.7" cy="792.4" rx="1.6" ry="1.0" transform="rotate(107 749.7 792.4)" fill="#5566C0"/><ellipse cx="761.9" cy="738.9" rx="1.6" ry="0.9" transform="rotate(137 761.9 738.9)" fill="#5566C0"/><ellipse cx="659.3" cy="734.7" rx="1.0" ry="1.1" transform="rotate(165 659.3 734.7)" fill="#5566C0"/><ellipse cx="757.5" cy="759.6" rx="1.7" ry="1.1" transform="rotate(101 757.5 759.6)" fill="#5566C0"/><ellipse cx="687.1" cy="750.7" rx="1.4" ry="0.9" transform="rotate(78 687.1 750.7)" fill="#5566C0"/><ellipse cx="755.0" cy="834.4" rx="1.0" ry="1.0" transform="rotate(7 755.0 834.4)" fill="#5566C0"/><ellipse cx="662.4" cy="818.1" rx="1.5" ry="1.2" transform="rotate(80 662.4 818.1)" fill="#5566C0"/><ellipse cx="643.9" cy="762.0" rx="1.5" ry="1.2" transform="rotate(177 643.9 762.0)" fill="#5566C0"/><ellipse cx="725.6" cy="765.3" rx="1.1" ry="1.0" transform="rotate(38 725.6 765.3)" fill="#5566C0"/><ellipse cx="668.3" cy="712.8" rx="1.0" ry="1.0" transform="rotate(22 668.3 712.8)" fill="#5566C0"/><ellipse cx="812.4" cy="722.4" rx="1.8" ry="0.8" transform="rotate(3 812.4 722.4)" fill="#5566C0"/><ellipse cx="768.7" cy="742.8" rx="1.7" ry="0.8" transform="rotate(9 768.7 742.8)" fill="#5566C0"/><ellipse cx="778.4" cy="805.2" rx="1.8" ry="1.1" transform="rotate(15 778.4 805.2)" fill="#5566C0"/><ellipse cx="752.7" cy="804.7" rx="1.4" ry="1.2" transform="rotate(46 752.7 804.7)" fill="#5566C0"/><ellipse cx="812.1" cy="805.7" rx="1.0" ry="0.7" transform="rotate(117 812.1 805.7)" fill="#5566C0"/><ellipse cx="786.1" cy="721.3" rx="1.3" ry="1.1" transform="rotate(30 786.1 721.3)" fill="#5566C0"/><ellipse cx="793.8" cy="775.1" rx="1.1" ry="0.9" transform="rotate(103 793.8 775.1)" fill="#5566C0"/><ellipse cx="719.1" cy="800.4" rx="1.1" ry="1.1" transform="rotate(65 719.1 800.4)" fill="#5566C0"/><ellipse cx="755.5" cy="794.1" rx="1.4" ry="0.9" transform="rotate(142 755.5 794.1)" fill="#5566C0"/><ellipse cx="808.7" cy="814.7" rx="1.5" ry="0.8" transform="rotate(11 808.7 814.7)" fill="#5566C0"/><ellipse cx="813.8" cy="803.9" rx="1.7" ry="0.9" transform="rotate(109 813.8 803.9)" fill="#5566C0"/><ellipse cx="814.4" cy="820.8" rx="1.5" ry="0.9" transform="rotate(77 814.4 820.8)" fill="#5566C0"/><ellipse cx="798.6" cy="760.6" rx="1.6" ry="1.0" transform="rotate(161 798.6 760.6)" fill="#5566C0"/><ellipse cx="784.3" cy="748.2" rx="1.0" ry="0.8" transform="rotate(76 784.3 748.2)" fill="#5566C0"/><ellipse cx="745.2" cy="818.8" rx="1.8" ry="0.7" transform="rotate(150 745.2 818.8)" fill="#5566C0"/><ellipse cx="785.1" cy="825.6" rx="1.5" ry="0.8" transform="rotate(153 785.1 825.6)" fill="#5566C0"/><ellipse cx="784.2" cy="801.4" rx="1.8" ry="0.9" transform="rotate(15 784.2 801.4)" fill="#5566C0"/><ellipse cx="739.4" cy="816.4" rx="1.2" ry="1.1" transform="rotate(168 739.4 816.4)" fill="#5566C0"/><ellipse cx="682.8" cy="791.1" rx="1.6" ry="0.9" transform="rotate(37 682.8 791.1)" fill="#5566C0"/><ellipse cx="686.5" cy="810.2" rx="1.7" ry="0.9" transform="rotate(16 686.5 810.2)" fill="#5566C0"/><ellipse cx="784.2" cy="813.0" rx="1.2" ry="1.0" transform="rotate(161 784.2 813.0)" fill="#5566C0"/><ellipse cx="798.1" cy="779.8" rx="1.4" ry="1.0" transform="rotate(34 798.1 779.8)" fill="#5566C0"/><ellipse cx="675.4" cy="734.6" rx="1.6" ry="0.9" transform="rotate(102 675.4 734.6)" fill="#5566C0"/><ellipse cx="712.6" cy="779.2" rx="1.1" ry="0.7" transform="rotate(179 712.6 779.2)" fill="#5566C0"/><ellipse cx="707.6" cy="724.8" rx="1.6" ry="1.1" transform="rotate(28 707.6 724.8)" fill="#5566C0"/><ellipse cx="747.1" cy="756.4" rx="1.5" ry="0.7" transform="rotate(6 747.1 756.4)" fill="#5566C0"/><ellipse cx="816.7" cy="825.5" rx="1.4" ry="1.0" transform="rotate(47 816.7 825.5)" fill="#5566C0"/><ellipse cx="779.3" cy="767.1" rx="1.9" ry="1.1" transform="rotate(147 779.3 767.1)" fill="#5566C0"/><ellipse cx="811.9" cy="744.4" rx="1.0" ry="0.8" transform="rotate(33 811.9 744.4)" fill="#5566C0"/><ellipse cx="656.2" cy="717.5" rx="1.5" ry="1.1" transform="rotate(82 656.2 717.5)" fill="#5566C0"/><ellipse cx="809.1" cy="831.3" rx="1.1" ry="1.0" transform="rotate(72 809.1 831.3)" fill="#5566C0"/><ellipse cx="662.6" cy="837.8" rx="1.2" ry="1.0" transform="rotate(115 662.6 837.8)" fill="#5566C0"/><ellipse cx="810.7" cy="799.4" rx="1.4" ry="0.9" transform="rotate(29 810.7 799.4)" fill="#5566C0"/><ellipse cx="812.3" cy="842.1" rx="1.2" ry="0.7" transform="rotate(46 812.3 842.1)" fill="#5566C0"/><ellipse cx="703.7" cy="830.3" rx="1.8" ry="1.1" transform="rotate(8 703.7 830.3)" fill="#5566C0"/><ellipse cx="780.6" cy="804.7" rx="1.6" ry="1.2" transform="rotate(10 780.6 804.7)" fill="#5566C0"/><ellipse cx="667.0" cy="810.7" rx="1.8" ry="1.0" transform="rotate(54 667.0 810.7)" fill="#5566C0"/><ellipse cx="746.1" cy="811.1" rx="1.1" ry="0.9" transform="rotate(46 746.1 811.1)" fill="#5566C0"/><ellipse cx="663.4" cy="774.5" rx="1.2" ry="0.8" transform="rotate(26 663.4 774.5)" fill="#5566C0"/><ellipse cx="761.3" cy="712.4" rx="1.6" ry="0.8" transform="rotate(6 761.3 712.4)" fill="#5566C0"/><ellipse cx="805.6" cy="739.9" rx="1.8" ry="1.1" transform="rotate(160 805.6 739.9)" fill="#5566C0"/><ellipse cx="666.1" cy="770.0" rx="1.1" ry="1.2" transform="rotate(152 666.1 770.0)" fill="#5566C0"/><ellipse cx="752.6" cy="770.6" rx="1.3" ry="1.1" transform="rotate(86 752.6 770.6)" fill="#5566C0"/><ellipse cx="752.6" cy="729.6" rx="1.2" ry="0.7" transform="rotate(128 752.6 729.6)" fill="#5566C0"/><ellipse cx="739.3" cy="729.9" rx="1.8" ry="0.8" transform="rotate(74 739.3 729.9)" fill="#5566C0"/><ellipse cx="669.0" cy="746.6" rx="1.8" ry="0.9" transform="rotate(30 669.0 746.6)" fill="#5566C0"/><ellipse cx="728.3" cy="752.8" rx="1.8" ry="0.8" transform="rotate(176 728.3 752.8)" fill="#5566C0"/><ellipse cx="651.5" cy="829.3" rx="1.6" ry="0.8" transform="rotate(86 651.5 829.3)" fill="#5566C0"/><ellipse cx="692.1" cy="744.9" rx="1.2" ry="0.9" transform="rotate(178 692.1 744.9)" fill="#5566C0"/><ellipse cx="818.1" cy="833.3" rx="1.1" ry="0.8" transform="rotate(161 818.1 833.3)" fill="#5566C0"/><ellipse cx="651.6" cy="807.0" rx="1.3" ry="1.2" transform="rotate(3 651.6 807.0)" fill="#5566C0"/><ellipse cx="784.2" cy="755.9" rx="1.1" ry="0.7" transform="rotate(150 784.2 755.9)" fill="#5566C0"/><ellipse cx="734.6" cy="735.3" rx="1.4" ry="1.2" transform="rotate(39 734.6 735.3)" fill="#5566C0"/><ellipse cx="742.5" cy="729.0" rx="1.2" ry="1.1" transform="rotate(128 742.5 729.0)" fill="#5566C0"/><ellipse cx="676.2" cy="721.2" rx="1.1" ry="1.0" transform="rotate(89 676.2 721.2)" fill="#5566C0"/><ellipse cx="689.9" cy="738.0" rx="1.6" ry="1.1" transform="rotate(146 689.9 738.0)" fill="#5566C0"/><ellipse cx="744.6" cy="737.5" rx="1.1" ry="1.1" transform="rotate(73 744.6 737.5)" fill="#5566C0"/><ellipse cx="769.1" cy="718.0" rx="1.7" ry="0.9" transform="rotate(152 769.1 718.0)" fill="#5566C0"/><ellipse cx="794.4" cy="776.0" rx="1.0" ry="1.2" transform="rotate(86 794.4 776.0)" fill="#5566C0"/><ellipse cx="795.7" cy="746.0" rx="1.2" ry="1.1" transform="rotate(66 795.7 746.0)" fill="#5566C0"/><ellipse cx="670.3" cy="759.9" rx="1.5" ry="0.7" transform="rotate(94 670.3 759.9)" fill="#5566C0"/><ellipse cx="720.3" cy="779.0" rx="1.1" ry="1.1" transform="rotate(147 720.3 779.0)" fill="#5566C0"/><ellipse cx="794.6" cy="753.2" rx="1.6" ry="0.9" transform="rotate(135 794.6 753.2)" fill="#5566C0"/><ellipse cx="652.2" cy="826.3" rx="1.9" ry="0.9" transform="rotate(92 652.2 826.3)" fill="#5566C0"/><ellipse cx="735.3" cy="781.9" rx="1.0" ry="1.2" transform="rotate(40 735.3 781.9)" fill="#5566C0"/><ellipse cx="673.7" cy="724.3" rx="1.2" ry="1.1" transform="rotate(5 673.7 724.3)" fill="#5566C0"/><ellipse cx="658.5" cy="803.3" rx="1.2" ry="0.7" transform="rotate(108 658.5 803.3)" fill="#5566C0"/><ellipse cx="743.4" cy="780.0" rx="1.6" ry="0.8" transform="rotate(157 743.4 780.0)" fill="#5566C0"/><ellipse cx="768.3" cy="716.7" rx="1.1" ry="0.9" transform="rotate(90 768.3 716.7)" fill="#5566C0"/><ellipse cx="690.9" cy="726.9" rx="1.4" ry="0.8" transform="rotate(107 690.9 726.9)" fill="#5566C0"/><ellipse cx="793.8" cy="730.2" rx="1.5" ry="1.1" transform="rotate(30 793.8 730.2)" fill="#5566C0"/><ellipse cx="787.6" cy="834.9" rx="1.3" ry="0.9" transform="rotate(151 787.6 834.9)" fill="#5566C0"/><ellipse cx="734.4" cy="763.1" rx="1.8" ry="1.1" transform="rotate(61 734.4 763.1)" fill="#5566C0"/><ellipse cx="683.9" cy="755.1" rx="1.4" ry="1.2" transform="rotate(145 683.9 755.1)" fill="#5566C0"/><ellipse cx="803.0" cy="818.7" rx="1.8" ry="0.7" transform="rotate(93 803.0 818.7)" fill="#5566C0"/><ellipse cx="810.9" cy="834.5" rx="1.2" ry="0.9" transform="rotate(114 810.9 834.5)" fill="#5566C0"/><ellipse cx="705.9" cy="781.0" rx="1.1" ry="0.9" transform="rotate(91 705.9 781.0)" fill="#5566C0"/><ellipse cx="645.1" cy="729.2" rx="1.9" ry="1.1" transform="rotate(169 645.1 729.2)" fill="#5566C0"/><ellipse cx="753.5" cy="817.9" rx="1.8" ry="1.1" transform="rotate(6 753.5 817.9)" fill="#5566C0"/><ellipse cx="755.0" cy="745.9" rx="1.6" ry="0.8" transform="rotate(98 755.0 745.9)" fill="#5566C0"/><ellipse cx="805.0" cy="793.0" rx="1.2" ry="1.0" transform="rotate(78 805.0 793.0)" fill="#5566C0"/><ellipse cx="809.7" cy="748.8" rx="1.3" ry="1.0" transform="rotate(22 809.7 748.8)" fill="#5566C0"/><ellipse cx="746.6" cy="837.4" rx="1.5" ry="0.8" transform="rotate(84 746.6 837.4)" fill="#5566C0"/><ellipse cx="735.9" cy="730.4" rx="1.1" ry="0.8" transform="rotate(53 735.9 730.4)" fill="#5566C0"/><ellipse cx="713.4" cy="748.9" rx="1.2" ry="0.7" transform="rotate(98 713.4 748.9)" fill="#5566C0"/><ellipse cx="790.0" cy="791.5" rx="1.5" ry="1.0" transform="rotate(36 790.0 791.5)" fill="#5566C0"/><ellipse cx="767.1" cy="771.8" rx="1.5" ry="1.0" transform="rotate(84 767.1 771.8)" fill="#5566C0"/><ellipse cx="696.4" cy="742.8" rx="1.2" ry="1.0" transform="rotate(69 696.4 742.8)" fill="#5566C0"/><ellipse cx="745.1" cy="712.3" rx="1.3" ry="1.1" transform="rotate(43 745.1 712.3)" fill="#5566C0"/><ellipse cx="739.9" cy="775.8" rx="1.3" ry="1.2" transform="rotate(53 739.9 775.8)" fill="#5566C0"/><ellipse cx="778.1" cy="731.7" rx="1.1" ry="1.1" transform="rotate(79 778.1 731.7)" fill="#5566C0"/><ellipse cx="652.4" cy="762.1" rx="1.4" ry="1.1" transform="rotate(20 652.4 762.1)" fill="#5566C0"/><ellipse cx="681.3" cy="837.8" rx="1.7" ry="0.8" transform="rotate(61 681.3 837.8)" fill="#5566C0"/><ellipse cx="703.8" cy="800.2" rx="1.6" ry="1.1" transform="rotate(148 703.8 800.2)" fill="#5566C0"/><ellipse cx="733.0" cy="808.6" rx="1.7" ry="1.1" transform="rotate(86 733.0 808.6)" fill="#5566C0"/><ellipse cx="780.3" cy="804.6" rx="1.8" ry="0.8" transform="rotate(157 780.3 804.6)" fill="#5566C0"/><ellipse cx="642.2" cy="812.2" rx="1.5" ry="0.9" transform="rotate(173 642.2 812.2)" fill="#5566C0"/><ellipse cx="742.6" cy="766.1" rx="1.7" ry="1.1" transform="rotate(109 742.6 766.1)" fill="#5566C0"/><ellipse cx="708.6" cy="770.6" rx="1.4" ry="1.1" transform="rotate(53 708.6 770.6)" fill="#5566C0"/><ellipse cx="710.6" cy="784.3" rx="1.3" ry="0.9" transform="rotate(142 710.6 784.3)" fill="#5566C0"/><ellipse cx="791.8" cy="776.9" rx="1.4" ry="0.8" transform="rotate(55 791.8 776.9)" fill="#5566C0"/><ellipse cx="667.1" cy="786.9" rx="1.5" ry="0.7" transform="rotate(166 667.1 786.9)" fill="#5566C0"/><ellipse cx="698.7" cy="822.4" rx="1.8" ry="1.2" transform="rotate(37 698.7 822.4)" fill="#5566C0"/><ellipse cx="716.9" cy="831.4" rx="1.0" ry="0.7" transform="rotate(102 716.9 831.4)" fill="#5566C0"/><ellipse cx="729.4" cy="832.6" rx="1.7" ry="1.0" transform="rotate(180 729.4 832.6)" fill="#5566C0"/><ellipse cx="733.0" cy="779.2" rx="1.6" ry="0.9" transform="rotate(64 733.0 779.2)" fill="#5566C0"/><ellipse cx="746.7" cy="757.2" rx="1.9" ry="1.0" transform="rotate(95 746.7 757.2)" fill="#5566C0"/><ellipse cx="658.9" cy="760.3" rx="1.4" ry="1.0" transform="rotate(103 658.9 760.3)" fill="#5566C0"/><ellipse cx="797.1" cy="838.5" rx="1.4" ry="0.9" transform="rotate(112 797.1 838.5)" fill="#5566C0"/><ellipse cx="817.7" cy="756.2" rx="1.5" ry="1.1" transform="rotate(31 817.7 756.2)" fill="#5566C0"/><ellipse cx="697.7" cy="840.3" rx="1.7" ry="1.0" transform="rotate(20 697.7 840.3)" fill="#5566C0"/><ellipse cx="799.7" cy="802.1" rx="1.7" ry="1.2" transform="rotate(160 799.7 802.1)" fill="#5566C0"/><ellipse cx="715.9" cy="731.4" rx="1.3" ry="1.0" transform="rotate(91 715.9 731.4)" fill="#5566C0"/><ellipse cx="674.7" cy="734.9" rx="1.6" ry="1.0" transform="rotate(64 674.7 734.9)" fill="#5566C0"/><ellipse cx="817.3" cy="795.0" rx="1.0" ry="0.9" transform="rotate(142 817.3 795.0)" fill="#5566C0"/><ellipse cx="695.7" cy="802.2" rx="1.0" ry="0.9" transform="rotate(152 695.7 802.2)" fill="#5566C0"/><ellipse cx="745.2" cy="799.2" rx="1.2" ry="0.9" transform="rotate(100 745.2 799.2)" fill="#5566C0"/><ellipse cx="688.5" cy="796.4" rx="1.5" ry="1.2" transform="rotate(103 688.5 796.4)" fill="#5566C0"/><ellipse cx="714.2" cy="726.8" rx="1.1" ry="1.1" transform="rotate(19 714.2 726.8)" fill="#5566C0"/><ellipse cx="659.1" cy="733.3" rx="1.5" ry="1.1" transform="rotate(110 659.1 733.3)" fill="#5566C0"/><ellipse cx="784.2" cy="718.9" rx="1.0" ry="1.1" transform="rotate(58 784.2 718.9)" fill="#5566C0"/><ellipse cx="768.0" cy="757.6" rx="1.2" ry="0.8" transform="rotate(18 768.0 757.6)" fill="#5566C0"/><ellipse cx="801.4" cy="787.8" rx="1.3" ry="0.9" transform="rotate(69 801.4 787.8)" fill="#5566C0"/><ellipse cx="651.1" cy="828.7" rx="1.5" ry="1.2" transform="rotate(79 651.1 828.7)" fill="#5566C0"/><ellipse cx="751.2" cy="743.7" rx="1.0" ry="1.2" transform="rotate(154 751.2 743.7)" fill="#5566C0"/><ellipse cx="697.1" cy="829.8" rx="1.7" ry="0.9" transform="rotate(108 697.1 829.8)" fill="#5566C0"/><ellipse cx="811.3" cy="776.4" rx="1.9" ry="0.8" transform="rotate(70 811.3 776.4)" fill="#5566C0"/><ellipse cx="768.6" cy="740.0" rx="1.3" ry="1.1" transform="rotate(87 768.6 740.0)" fill="#5566C0"/><ellipse cx="781.7" cy="742.9" rx="1.2" ry="0.9" transform="rotate(34 781.7 742.9)" fill="#5566C0"/><ellipse cx="813.4" cy="749.2" rx="1.5" ry="0.8" transform="rotate(96 813.4 749.2)" fill="#5566C0"/><ellipse cx="709.7" cy="764.1" rx="1.1" ry="0.8" transform="rotate(149 709.7 764.1)" fill="#5566C0"/><ellipse cx="703.6" cy="743.2" rx="1.2" ry="0.8" transform="rotate(43 703.6 743.2)" fill="#5566C0"/><ellipse cx="647.6" cy="798.7" rx="1.3" ry="0.8" transform="rotate(127 647.6 798.7)" fill="#5566C0"/><ellipse cx="657.8" cy="746.4" rx="1.8" ry="0.8" transform="rotate(80 657.8 746.4)" fill="#5566C0"/><ellipse cx="789.4" cy="817.4" rx="1.1" ry="0.9" transform="rotate(130 789.4 817.4)" fill="#5566C0"/><ellipse cx="708.1" cy="837.7" rx="1.2" ry="1.2" transform="rotate(91 708.1 837.7)" fill="#5566C0"/><ellipse cx="681.6" cy="770.7" rx="1.1" ry="1.1" transform="rotate(47 681.6 770.7)" fill="#5566C0"/><ellipse cx="800.6" cy="788.6" rx="1.3" ry="0.8" transform="rotate(109 800.6 788.6)" fill="#5566C0"/><ellipse cx="679.0" cy="826.3" rx="1.1" ry="1.0" transform="rotate(98 679.0 826.3)" fill="#5566C0"/><ellipse cx="689.3" cy="813.0" rx="1.3" ry="1.0" transform="rotate(102 689.3 813.0)" fill="#5566C0"/><ellipse cx="696.4" cy="762.4" rx="1.1" ry="0.8" transform="rotate(153 696.4 762.4)" fill="#5566C0"/><ellipse cx="698.2" cy="798.5" rx="1.1" ry="1.0" transform="rotate(65 698.2 798.5)" fill="#5566C0"/><ellipse cx="730.0" cy="750.0" rx="1.1" ry="0.9" transform="rotate(41 730.0 750.0)" fill="#5566C0"/><ellipse cx="663.7" cy="805.7" rx="1.3" ry="0.9" transform="rotate(164 663.7 805.7)" fill="#5566C0"/><ellipse cx="778.6" cy="827.7" rx="1.8" ry="0.8" transform="rotate(50 778.6 827.7)" fill="#5566C0"/><ellipse cx="646.6" cy="800.8" rx="1.6" ry="0.9" transform="rotate(74 646.6 800.8)" fill="#5566C0"/><ellipse cx="758.1" cy="803.4" rx="1.2" ry="1.1" transform="rotate(63 758.1 803.4)" fill="#5566C0"/><ellipse cx="752.7" cy="734.8" rx="1.1" ry="1.2" transform="rotate(132 752.7 734.8)" fill="#5566C0"/><ellipse cx="767.5" cy="716.1" rx="1.0" ry="0.8" transform="rotate(36 767.5 716.1)" fill="#5566C0"/><ellipse cx="695.0" cy="761.1" rx="1.0" ry="0.9" transform="rotate(115 695.0 761.1)" fill="#5566C0"/><ellipse cx="673.2" cy="821.9" rx="1.5" ry="1.1" transform="rotate(46 673.2 821.9)" fill="#5566C0"/><ellipse cx="718.4" cy="801.4" rx="1.3" ry="0.7" transform="rotate(150 718.4 801.4)" fill="#5566C0"/><ellipse cx="778.8" cy="748.6" rx="1.0" ry="1.1" transform="rotate(109 778.8 748.6)" fill="#5566C0"/><ellipse cx="649.8" cy="743.1" rx="1.1" ry="1.1" transform="rotate(38 649.8 743.1)" fill="#5566C0"/><ellipse cx="803.3" cy="810.0" rx="1.1" ry="1.0" transform="rotate(71 803.3 810.0)" fill="#5566C0"/><ellipse cx="773.7" cy="820.5" rx="1.3" ry="0.7" transform="rotate(170 773.7 820.5)" fill="#5566C0"/><ellipse cx="716.4" cy="834.0" rx="1.6" ry="1.1" transform="rotate(149 716.4 834.0)" fill="#5566C0"/><ellipse cx="752.6" cy="770.7" rx="1.0" ry="1.0" transform="rotate(77 752.6 770.7)" fill="#5566C0"/><ellipse cx="732.0" cy="833.7" rx="1.1" ry="1.1" transform="rotate(8 732.0 833.7)" fill="#5566C0"/><ellipse cx="765.8" cy="817.5" rx="1.2" ry="1.0" transform="rotate(174 765.8 817.5)" fill="#5566C0"/><ellipse cx="754.2" cy="782.8" rx="1.2" ry="0.7" transform="rotate(64 754.2 782.8)" fill="#5566C0"/><ellipse cx="714.3" cy="737.4" rx="1.3" ry="0.8" transform="rotate(127 714.3 737.4)" fill="#5566C0"/><ellipse cx="760.0" cy="742.2" rx="1.2" ry="1.0" transform="rotate(80 760.0 742.2)" fill="#5566C0"/><ellipse cx="807.0" cy="757.3" rx="1.3" ry="1.1" transform="rotate(26 807.0 757.3)" fill="#5566C0"/><ellipse cx="741.1" cy="754.9" rx="1.7" ry="1.0" transform="rotate(137 741.1 754.9)" fill="#5566C0"/><ellipse cx="671.4" cy="799.0" rx="1.5" ry="0.9" transform="rotate(138 671.4 799.0)" fill="#5566C0"/><ellipse cx="788.5" cy="725.9" rx="1.3" ry="0.9" transform="rotate(37 788.5 725.9)" fill="#5566C0"/><ellipse cx="652.1" cy="747.9" rx="1.2" ry="1.1" transform="rotate(81 652.1 747.9)" fill="#5566C0"/><ellipse cx="661.4" cy="753.7" rx="1.4" ry="0.9" transform="rotate(30 661.4 753.7)" fill="#5566C0"/><ellipse cx="654.1" cy="712.1" rx="1.9" ry="1.1" transform="rotate(15 654.1 712.1)" fill="#5566C0"/><ellipse cx="768.3" cy="840.6" rx="1.5" ry="0.8" transform="rotate(88 768.3 840.6)" fill="#5566C0"/><ellipse cx="718.3" cy="735.8" rx="1.5" ry="0.7" transform="rotate(166 718.3 735.8)" fill="#5566C0"/><ellipse cx="755.5" cy="793.9" rx="1.8" ry="1.0" transform="rotate(45 755.5 793.9)" fill="#5566C0"/><ellipse cx="684.9" cy="729.1" rx="1.0" ry="1.1" transform="rotate(151 684.9 729.1)" fill="#5566C0"/><ellipse cx="693.8" cy="735.3" rx="1.6" ry="1.1" transform="rotate(167 693.8 735.3)" fill="#5566C0"/><ellipse cx="671.2" cy="814.7" rx="1.7" ry="1.1" transform="rotate(59 671.2 814.7)" fill="#5566C0"/><ellipse cx="674.1" cy="820.1" rx="1.3" ry="0.9" transform="rotate(99 674.1 820.1)" fill="#5566C0"/><ellipse cx="706.8" cy="820.9" rx="1.2" ry="0.7" transform="rotate(102 706.8 820.9)" fill="#5566C0"/><ellipse cx="752.6" cy="819.3" rx="1.6" ry="1.2" transform="rotate(170 752.6 819.3)" fill="#5566C0"/><ellipse cx="728.9" cy="776.9" rx="1.1" ry="0.8" transform="rotate(105 728.9 776.9)" fill="#5566C0"/><ellipse cx="655.6" cy="801.9" rx="1.1" ry="0.9" transform="rotate(175 655.6 801.9)" fill="#5566C0"/><ellipse cx="657.3" cy="716.0" rx="1.4" ry="0.8" transform="rotate(130 657.3 716.0)" fill="#5566C0"/><ellipse cx="641.9" cy="822.1" rx="1.8" ry="1.1" transform="rotate(77 641.9 822.1)" fill="#5566C0"/><ellipse cx="691.5" cy="798.4" rx="1.5" ry="0.9" transform="rotate(61 691.5 798.4)" fill="#5566C0"/><ellipse cx="719.0" cy="799.0" rx="1.7" ry="1.2" transform="rotate(30 719.0 799.0)" fill="#5566C0"/><ellipse cx="693.7" cy="769.4" rx="1.5" ry="0.9" transform="rotate(35 693.7 769.4)" fill="#5566C0"/><ellipse cx="656.5" cy="753.6" rx="1.4" ry="1.2" transform="rotate(164 656.5 753.6)" fill="#5566C0"/><ellipse cx="794.6" cy="839.8" rx="1.9" ry="1.0" transform="rotate(146 794.6 839.8)" fill="#5566C0"/><ellipse cx="652.0" cy="800.3" rx="1.5" ry="0.8" transform="rotate(103 652.0 800.3)" fill="#5566C0"/><ellipse cx="810.0" cy="774.4" rx="1.6" ry="0.8" transform="rotate(62 810.0 774.4)" fill="#5566C0"/><ellipse cx="798.1" cy="714.4" rx="1.2" ry="1.0" transform="rotate(81 798.1 714.4)" fill="#5566C0"/><ellipse cx="656.5" cy="798.2" rx="1.3" ry="1.0" transform="rotate(75 656.5 798.2)" fill="#5566C0"/><ellipse cx="735.2" cy="785.5" rx="1.4" ry="0.8" transform="rotate(32 735.2 785.5)" fill="#5566C0"/><ellipse cx="798.9" cy="783.3" rx="1.1" ry="1.1" transform="rotate(46 798.9 783.3)" fill="#5566C0"/><ellipse cx="658.2" cy="781.0" rx="1.2" ry="0.9" transform="rotate(100 658.2 781.0)" fill="#5566C0"/><ellipse cx="681.5" cy="786.6" rx="1.1" ry="1.0" transform="rotate(106 681.5 786.6)" fill="#5566C0"/><ellipse cx="655.6" cy="764.8" rx="1.1" ry="0.9" transform="rotate(155 655.6 764.8)" fill="#5566C0"/><ellipse cx="738.8" cy="805.4" rx="1.7" ry="0.8" transform="rotate(178 738.8 805.4)" fill="#5566C0"/><ellipse cx="769.1" cy="724.2" rx="1.7" ry="0.9" transform="rotate(31 769.1 724.2)" fill="#5566C0"/><ellipse cx="811.3" cy="785.3" rx="1.7" ry="0.8" transform="rotate(140 811.3 785.3)" fill="#5566C0"/><ellipse cx="651.6" cy="742.1" rx="1.3" ry="0.7" transform="rotate(107 651.6 742.1)" fill="#5566C0"/><ellipse cx="679.1" cy="750.4" rx="1.6" ry="0.9" transform="rotate(160 679.1 750.4)" fill="#5566C0"/><ellipse cx="751.3" cy="826.3" rx="1.5" ry="1.2" transform="rotate(157 751.3 826.3)" fill="#5566C0"/><ellipse cx="671.1" cy="809.5" rx="1.3" ry="1.1" transform="rotate(122 671.1 809.5)" fill="#5566C0"/><ellipse cx="787.5" cy="727.0" rx="1.3" ry="1.1" transform="rotate(171 787.5 727.0)" fill="#5566C0"/><ellipse cx="769.2" cy="716.5" rx="1.5" ry="0.7" transform="rotate(99 769.2 716.5)" fill="#5566C0"/><ellipse cx="783.5" cy="725.7" rx="1.8" ry="1.0" transform="rotate(46 783.5 725.7)" fill="#5566C0"/><ellipse cx="675.6" cy="769.9" rx="1.8" ry="1.0" transform="rotate(20 675.6 769.9)" fill="#5566C0"/><ellipse cx="645.1" cy="725.3" rx="1.7" ry="0.8" transform="rotate(100 645.1 725.3)" fill="#5566C0"/><ellipse cx="692.7" cy="801.7" rx="1.3" ry="0.8" transform="rotate(158 692.7 801.7)" fill="#5566C0"/><ellipse cx="736.7" cy="802.1" rx="1.7" ry="1.2" transform="rotate(2 736.7 802.1)" fill="#5566C0"/><ellipse cx="702.0" cy="730.7" rx="1.5" ry="1.1" transform="rotate(144 702.0 730.7)" fill="#5566C0"/><ellipse cx="647.7" cy="734.9" rx="1.7" ry="1.0" transform="rotate(71 647.7 734.9)" fill="#5566C0"/><ellipse cx="725.6" cy="731.7" rx="1.8" ry="0.9" transform="rotate(157 725.6 731.7)" fill="#5566C0"/><ellipse cx="749.5" cy="720.8" rx="1.3" ry="0.8" transform="rotate(161 749.5 720.8)" fill="#5566C0"/><ellipse cx="745.7" cy="716.5" rx="1.2" ry="0.9" transform="rotate(84 745.7 716.5)" fill="#5566C0"/><ellipse cx="743.5" cy="762.1" rx="1.3" ry="0.7" transform="rotate(104 743.5 762.1)" fill="#5566C0"/><ellipse cx="700.5" cy="713.4" rx="1.4" ry="1.2" transform="rotate(8 700.5 713.4)" fill="#5566C0"/><ellipse cx="667.2" cy="799.6" rx="1.2" ry="0.8" transform="rotate(90 667.2 799.6)" fill="#5566C0"/><ellipse cx="687.8" cy="786.1" rx="1.5" ry="1.2" transform="rotate(179 687.8 786.1)" fill="#5566C0"/><ellipse cx="647.4" cy="785.0" rx="1.7" ry="1.1" transform="rotate(139 647.4 785.0)" fill="#5566C0"/><ellipse cx="753.5" cy="794.8" rx="1.3" ry="0.8" transform="rotate(143 753.5 794.8)" fill="#5566C0"/><ellipse cx="795.9" cy="835.1" rx="1.6" ry="0.9" transform="rotate(137 795.9 835.1)" fill="#5566C0"/><ellipse cx="772.3" cy="778.1" rx="1.6" ry="0.9" transform="rotate(99 772.3 778.1)" fill="#5566C0"/><ellipse cx="713.3" cy="718.7" rx="1.3" ry="0.9" transform="rotate(178 713.3 718.7)" fill="#5566C0"/><ellipse cx="726.6" cy="759.4" rx="1.2" ry="0.8" transform="rotate(63 726.6 759.4)" fill="#5566C0"/><ellipse cx="665.4" cy="711.7" rx="1.8" ry="0.9" transform="rotate(80 665.4 711.7)" fill="#5566C0"/><ellipse cx="742.1" cy="750.8" rx="1.2" ry="0.7" transform="rotate(54 742.1 750.8)" fill="#5566C0"/><ellipse cx="696.0" cy="807.0" rx="1.5" ry="1.2" transform="rotate(61 696.0 807.0)" fill="#5566C0"/><ellipse cx="804.5" cy="788.0" rx="1.1" ry="0.8" transform="rotate(104 804.5 788.0)" fill="#5566C0"/><ellipse cx="816.2" cy="758.0" rx="1.7" ry="0.9" transform="rotate(156 816.2 758.0)" fill="#5566C0"/><ellipse cx="653.4" cy="774.9" rx="1.8" ry="0.8" transform="rotate(46 653.4 774.9)" fill="#5566C0"/><ellipse cx="645.5" cy="732.5" rx="1.2" ry="1.1" transform="rotate(39 645.5 732.5)" fill="#5566C0"/><ellipse cx="712.1" cy="737.2" rx="1.5" ry="1.1" transform="rotate(117 712.1 737.2)" fill="#5566C0"/><ellipse cx="676.2" cy="807.9" rx="1.9" ry="1.0" transform="rotate(14 676.2 807.9)" fill="#5566C0"/><ellipse cx="784.7" cy="826.7" rx="1.3" ry="0.8" transform="rotate(34 784.7 826.7)" fill="#5566C0"/><ellipse cx="736.4" cy="826.7" rx="1.6" ry="1.2" transform="rotate(38 736.4 826.7)" fill="#5566C0"/><ellipse cx="699.2" cy="810.0" rx="1.6" ry="0.9" transform="rotate(122 699.2 810.0)" fill="#5566C0"/><ellipse cx="701.2" cy="718.3" rx="1.4" ry="0.7" transform="rotate(113 701.2 718.3)" fill="#5566C0"/><ellipse cx="700.6" cy="776.2" rx="1.5" ry="0.8" transform="rotate(83 700.6 776.2)" fill="#5566C0"/><ellipse cx="643.8" cy="833.3" rx="1.5" ry="1.2" transform="rotate(10 643.8 833.3)" fill="#5566C0"/><ellipse cx="750.1" cy="806.6" rx="1.3" ry="0.7" transform="rotate(28 750.1 806.6)" fill="#5566C0"/><ellipse cx="666.7" cy="812.4" rx="1.1" ry="1.1" transform="rotate(76 666.7 812.4)" fill="#5566C0"/><ellipse cx="736.7" cy="788.7" rx="1.5" ry="1.0" transform="rotate(108 736.7 788.7)" fill="#5566C0"/><ellipse cx="700.0" cy="808.9" rx="1.2" ry="1.1" transform="rotate(137 700.0 808.9)" fill="#5566C0"/><ellipse cx="778.8" cy="751.7" rx="1.7" ry="1.2" transform="rotate(82 778.8 751.7)" fill="#5566C0"/><ellipse cx="690.7" cy="780.0" rx="1.8" ry="0.8" transform="rotate(2 690.7 780.0)" fill="#5566C0"/><ellipse cx="725.6" cy="797.5" rx="1.7" ry="0.9" transform="rotate(178 725.6 797.5)" fill="#5566C0"/><ellipse cx="681.8" cy="810.9" rx="1.1" ry="0.7" transform="rotate(24 681.8 810.9)" fill="#5566C0"/><ellipse cx="652.0" cy="777.2" rx="1.5" ry="0.8" transform="rotate(169 652.0 777.2)" fill="#5566C0"/><ellipse cx="706.1" cy="730.5" rx="1.2" ry="1.1" transform="rotate(166 706.1 730.5)" fill="#5566C0"/><ellipse cx="670.1" cy="714.5" rx="1.7" ry="0.8" transform="rotate(177 670.1 714.5)" fill="#5566C0"/><ellipse cx="729.7" cy="795.0" rx="1.3" ry="1.1" transform="rotate(83 729.7 795.0)" fill="#5566C0"/><ellipse cx="698.7" cy="830.4" rx="1.1" ry="1.1" transform="rotate(12 698.7 830.4)" fill="#5566C0"/><ellipse cx="755.6" cy="763.9" rx="1.8" ry="0.7" transform="rotate(102 755.6 763.9)" fill="#5566C0"/><ellipse cx="714.0" cy="832.5" rx="1.9" ry="1.0" transform="rotate(40 714.0 832.5)" fill="#5566C0"/><ellipse cx="686.0" cy="745.5" rx="1.4" ry="0.8" transform="rotate(37 686.0 745.5)" fill="#5566C0"/><ellipse cx="775.8" cy="795.9" rx="1.3" ry="1.2" transform="rotate(39 775.8 795.9)" fill="#5566C0"/><ellipse cx="742.2" cy="731.5" rx="1.8" ry="1.1" transform="rotate(48 742.2 731.5)" fill="#5566C0"/><ellipse cx="774.4" cy="819.7" rx="1.3" ry="0.9" transform="rotate(87 774.4 819.7)" fill="#5566C0"/><ellipse cx="799.1" cy="732.1" rx="1.6" ry="1.0" transform="rotate(82 799.1 732.1)" fill="#5566C0"/><ellipse cx="743.9" cy="827.7" rx="1.2" ry="1.1" transform="rotate(65 743.9 827.7)" fill="#5566C0"/><ellipse cx="779.4" cy="825.1" rx="1.2" ry="1.1" transform="rotate(179 779.4 825.1)" fill="#5566C0"/><ellipse cx="694.1" cy="713.9" rx="1.1" ry="1.2" transform="rotate(2 694.1 713.9)" fill="#5566C0"/><ellipse cx="802.8" cy="730.7" rx="1.7" ry="0.7" transform="rotate(30 802.8 730.7)" fill="#5566C0"/><ellipse cx="762.3" cy="722.7" rx="1.3" ry="1.2" transform="rotate(129 762.3 722.7)" fill="#5566C0"/><ellipse cx="797.5" cy="840.5" rx="1.0" ry="0.8" transform="rotate(143 797.5 840.5)" fill="#5566C0"/><ellipse cx="763.4" cy="715.7" rx="1.5" ry="0.8" transform="rotate(77 763.4 715.7)" fill="#5566C0"/><ellipse cx="660.0" cy="713.3" rx="1.9" ry="0.9" transform="rotate(158 660.0 713.3)" fill="#5566C0"/><ellipse cx="662.7" cy="775.3" rx="1.1" ry="0.9" transform="rotate(32 662.7 775.3)" fill="#5566C0"/><ellipse cx="762.7" cy="730.3" rx="1.7" ry="1.0" transform="rotate(20 762.7 730.3)" fill="#5566C0"/><ellipse cx="704.0" cy="776.5" rx="1.8" ry="0.9" transform="rotate(39 704.0 776.5)" fill="#5566C0"/><ellipse cx="812.6" cy="827.7" rx="1.7" ry="0.8" transform="rotate(32 812.6 827.7)" fill="#5566C0"/><ellipse cx="688.2" cy="719.8" rx="1.0" ry="1.0" transform="rotate(73 688.2 719.8)" fill="#5566C0"/><ellipse cx="739.9" cy="758.7" rx="1.0" ry="1.0" transform="rotate(118 739.9 758.7)" fill="#5566C0"/><ellipse cx="737.7" cy="783.4" rx="1.6" ry="1.2" transform="rotate(157 737.7 783.4)" fill="#5566C0"/><ellipse cx="768.4" cy="763.6" rx="1.3" ry="0.9" transform="rotate(175 768.4 763.6)" fill="#5566C0"/><ellipse cx="709.9" cy="761.8" rx="1.4" ry="0.8" transform="rotate(180 709.9 761.8)" fill="#5566C0"/><ellipse cx="642.3" cy="791.2" rx="1.8" ry="0.8" transform="rotate(110 642.3 791.2)" fill="#5566C0"/><ellipse cx="708.1" cy="742.6" rx="1.2" ry="0.8" transform="rotate(152 708.1 742.6)" fill="#5566C0"/><ellipse cx="780.2" cy="831.1" rx="1.0" ry="1.0" transform="rotate(58 780.2 831.1)" fill="#5566C0"/><ellipse cx="755.8" cy="783.4" rx="1.3" ry="1.2" transform="rotate(0 755.8 783.4)" fill="#5566C0"/><ellipse cx="773.5" cy="823.8" rx="1.5" ry="1.0" transform="rotate(179 773.5 823.8)" fill="#5566C0"/><ellipse cx="682.9" cy="794.1" rx="1.7" ry="0.9" transform="rotate(128 682.9 794.1)" fill="#5566C0"/><ellipse cx="711.1" cy="780.4" rx="1.6" ry="1.0" transform="rotate(58 711.1 780.4)" fill="#5566C0"/><ellipse cx="752.7" cy="782.7" rx="1.2" ry="1.0" transform="rotate(48 752.7 782.7)" fill="#5566C0"/><ellipse cx="802.2" cy="773.4" rx="1.6" ry="1.0" transform="rotate(86 802.2 773.4)" fill="#5566C0"/><ellipse cx="680.6" cy="729.5" rx="1.8" ry="1.0" transform="rotate(94 680.6 729.5)" fill="#5566C0"/><ellipse cx="734.8" cy="818.5" rx="1.2" ry="0.8" transform="rotate(148 734.8 818.5)" fill="#5566C0"/><ellipse cx="722.9" cy="795.6" rx="1.7" ry="1.1" transform="rotate(156 722.9 795.6)" fill="#5566C0"/><ellipse cx="649.1" cy="761.2" rx="1.7" ry="1.1" transform="rotate(22 649.1 761.2)" fill="#5566C0"/><ellipse cx="668.6" cy="744.0" rx="1.1" ry="0.9" transform="rotate(145 668.6 744.0)" fill="#5566C0"/><ellipse cx="733.7" cy="770.7" rx="1.1" ry="0.9" transform="rotate(179 733.7 770.7)" fill="#5566C0"/><ellipse cx="764.4" cy="770.2" rx="1.4" ry="1.1" transform="rotate(137 764.4 770.2)" fill="#5566C0"/><ellipse cx="667.9" cy="800.8" rx="1.3" ry="1.0" transform="rotate(43 667.9 800.8)" fill="#5566C0"/><ellipse cx="707.0" cy="755.8" rx="1.3" ry="0.7" transform="rotate(36 707.0 755.8)" fill="#5566C0"/><ellipse cx="742.4" cy="718.3" rx="1.2" ry="1.1" transform="rotate(49 742.4 718.3)" fill="#5566C0"/><ellipse cx="698.8" cy="742.7" rx="1.8" ry="0.7" transform="rotate(115 698.8 742.7)" fill="#5566C0"/><ellipse cx="793.4" cy="737.4" rx="1.4" ry="1.1" transform="rotate(111 793.4 737.4)" fill="#5566C0"/><ellipse cx="707.2" cy="716.5" rx="1.4" ry="0.9" transform="rotate(128 707.2 716.5)" fill="#5566C0"/><ellipse cx="693.7" cy="764.7" rx="1.6" ry="1.1" transform="rotate(63 693.7 764.7)" fill="#5566C0"/><ellipse cx="709.6" cy="787.4" rx="1.8" ry="0.8" transform="rotate(175 709.6 787.4)" fill="#5566C0"/><ellipse cx="767.4" cy="760.0" rx="1.6" ry="0.9" transform="rotate(13 767.4 760.0)" fill="#5566C0"/><ellipse cx="775.2" cy="761.0" rx="1.5" ry="0.9" transform="rotate(162 775.2 761.0)" fill="#5566C0"/><ellipse cx="775.4" cy="714.1" rx="1.5" ry="0.9" transform="rotate(83 775.4 714.1)" fill="#5566C0"/><ellipse cx="790.0" cy="765.7" rx="1.4" ry="1.1" transform="rotate(79 790.0 765.7)" fill="#5566C0"/><ellipse cx="728.4" cy="778.5" rx="1.7" ry="1.0" transform="rotate(133 728.4 778.5)" fill="#5566C0"/><ellipse cx="712.5" cy="716.1" rx="1.6" ry="1.0" transform="rotate(138 712.5 716.1)" fill="#5566C0"/><ellipse cx="777.7" cy="726.4" rx="1.2" ry="0.7" transform="rotate(147 777.7 726.4)" fill="#5566C0"/><ellipse cx="659.4" cy="722.4" rx="1.7" ry="1.0" transform="rotate(10 659.4 722.4)" fill="#5566C0"/><ellipse cx="761.9" cy="804.9" rx="1.4" ry="0.7" transform="rotate(124 761.9 804.9)" fill="#5566C0"/><ellipse cx="715.4" cy="788.1" rx="1.9" ry="1.1" transform="rotate(157 715.4 788.1)" fill="#5566C0"/><ellipse cx="667.2" cy="755.0" rx="1.5" ry="0.7" transform="rotate(178 667.2 755.0)" fill="#5566C0"/><ellipse cx="690.0" cy="745.5" rx="1.3" ry="0.8" transform="rotate(155 690.0 745.5)" fill="#5566C0"/><ellipse cx="739.8" cy="778.4" rx="1.4" ry="0.7" transform="rotate(55 739.8 778.4)" fill="#5566C0"/><ellipse cx="794.8" cy="817.0" rx="1.8" ry="0.8" transform="rotate(36 794.8 817.0)" fill="#5566C0"/><ellipse cx="650.6" cy="781.8" rx="1.3" ry="0.9" transform="rotate(88 650.6 781.8)" fill="#5566C0"/><ellipse cx="744.7" cy="759.2" rx="1.7" ry="0.8" transform="rotate(165 744.7 759.2)" fill="#5566C0"/><ellipse cx="739.8" cy="717.5" rx="1.3" ry="1.0" transform="rotate(74 739.8 717.5)" fill="#5566C0"/><ellipse cx="741.4" cy="753.6" rx="1.2" ry="1.1" transform="rotate(52 741.4 753.6)" fill="#5566C0"/><ellipse cx="767.2" cy="817.0" rx="1.5" ry="0.9" transform="rotate(168 767.2 817.0)" fill="#5566C0"/><ellipse cx="720.1" cy="827.0" rx="1.1" ry="0.9" transform="rotate(115 720.1 827.0)" fill="#5566C0"/><ellipse cx="650.1" cy="825.0" rx="1.1" ry="1.0" transform="rotate(32 650.1 825.0)" fill="#5566C0"/><ellipse cx="804.7" cy="785.0" rx="1.7" ry="0.9" transform="rotate(121 804.7 785.0)" fill="#5566C0"/><ellipse cx="760.9" cy="749.8" rx="1.2" ry="1.1" transform="rotate(26 760.9 749.8)" fill="#5566C0"/><ellipse cx="803.9" cy="738.1" rx="1.1" ry="0.7" transform="rotate(141 803.9 738.1)" fill="#5566C0"/><ellipse cx="809.7" cy="765.6" rx="1.6" ry="0.8" transform="rotate(163 809.7 765.6)" fill="#5566C0"/><ellipse cx="762.8" cy="731.2" rx="1.1" ry="1.0" transform="rotate(8 762.8 731.2)" fill="#5566C0"/><ellipse cx="789.4" cy="749.6" rx="1.2" ry="1.0" transform="rotate(57 789.4 749.6)" fill="#5566C0"/><ellipse cx="740.6" cy="731.1" rx="1.8" ry="0.9" transform="rotate(151 740.6 731.1)" fill="#5566C0"/><ellipse cx="668.3" cy="816.6" rx="1.9" ry="0.9" transform="rotate(6 668.3 816.6)" fill="#5566C0"/><ellipse cx="708.7" cy="795.6" rx="1.2" ry="1.0" transform="rotate(17 708.7 795.6)" fill="#5566C0"/><ellipse cx="723.6" cy="807.2" rx="1.4" ry="1.0" transform="rotate(21 723.6 807.2)" fill="#5566C0"/><ellipse cx="788.0" cy="726.9" rx="1.8" ry="1.2" transform="rotate(169 788.0 726.9)" fill="#5566C0"/><ellipse cx="734.6" cy="749.2" rx="1.3" ry="1.1" transform="rotate(89 734.6 749.2)" fill="#5566C0"/><ellipse cx="806.0" cy="723.0" rx="1.4" ry="1.1" transform="rotate(108 806.0 723.0)" fill="#5566C0"/><ellipse cx="737.1" cy="722.4" rx="1.1" ry="0.8" transform="rotate(161 737.1 722.4)" fill="#5566C0"/><ellipse cx="791.0" cy="740.8" rx="1.8" ry="0.7" transform="rotate(108 791.0 740.8)" fill="#5566C0"/><ellipse cx="812.6" cy="756.3" rx="1.8" ry="1.0" transform="rotate(9 812.6 756.3)" fill="#5566C0"/><ellipse cx="700.4" cy="770.3" rx="1.2" ry="1.1" transform="rotate(32 700.4 770.3)" fill="#5566C0"/><ellipse cx="780.8" cy="750.2" rx="1.1" ry="1.0" transform="rotate(17 780.8 750.2)" fill="#5566C0"/><ellipse cx="739.0" cy="815.1" rx="1.5" ry="0.9" transform="rotate(6 739.0 815.1)" fill="#5566C0"/><ellipse cx="732.3" cy="723.6" rx="1.6" ry="0.8" transform="rotate(104 732.3 723.6)" fill="#5566C0"/><ellipse cx="703.9" cy="760.3" rx="1.6" ry="0.8" transform="rotate(31 703.9 760.3)" fill="#5566C0"/><ellipse cx="808.1" cy="754.6" rx="1.8" ry="1.1" transform="rotate(86 808.1 754.6)" fill="#5566C0"/><ellipse cx="667.8" cy="723.2" rx="1.8" ry="0.8" transform="rotate(89 667.8 723.2)" fill="#5566C0"/><ellipse cx="736.3" cy="726.3" rx="1.4" ry="0.8" transform="rotate(96 736.3 726.3)" fill="#5566C0"/><ellipse cx="731.1" cy="759.3" rx="1.2" ry="0.9" transform="rotate(37 731.1 759.3)" fill="#5566C0"/><ellipse cx="663.9" cy="742.5" rx="1.8" ry="1.0" transform="rotate(160 663.9 742.5)" fill="#5566C0"/><ellipse cx="644.1" cy="835.7" rx="1.4" ry="1.1" transform="rotate(103 644.1 835.7)" fill="#5566C0"/><ellipse cx="763.3" cy="741.1" rx="1.7" ry="0.8" transform="rotate(48 763.3 741.1)" fill="#5566C0"/><ellipse cx="646.9" cy="762.8" rx="1.5" ry="0.8" transform="rotate(160 646.9 762.8)" fill="#5566C0"/><ellipse cx="656.3" cy="787.4" rx="1.2" ry="1.0" transform="rotate(141 656.3 787.4)" fill="#5566C0"/><ellipse cx="767.2" cy="718.9" rx="1.2" ry="1.0" transform="rotate(177 767.2 718.9)" fill="#5566C0"/><ellipse cx="648.7" cy="792.6" rx="1.6" ry="1.1" transform="rotate(62 648.7 792.6)" fill="#5566C0"/><ellipse cx="784.9" cy="771.9" rx="1.8" ry="0.7" transform="rotate(169 784.9 771.9)" fill="#5566C0"/><ellipse cx="714.3" cy="764.6" rx="1.1" ry="0.8" transform="rotate(132 714.3 764.6)" fill="#5566C0"/><ellipse cx="761.5" cy="730.7" rx="1.3" ry="0.8" transform="rotate(36 761.5 730.7)" fill="#5566C0"/><ellipse cx="680.3" cy="754.6" rx="1.9" ry="1.2" transform="rotate(142 680.3 754.6)" fill="#5566C0"/><ellipse cx="726.3" cy="776.6" rx="1.7" ry="1.2" transform="rotate(135 726.3 776.6)" fill="#5566C0"/><ellipse cx="754.0" cy="737.1" rx="1.6" ry="1.1" transform="rotate(142 754.0 737.1)" fill="#5566C0"/><ellipse cx="657.8" cy="805.8" rx="1.3" ry="0.8" transform="rotate(174 657.8 805.8)" fill="#5566C0"/><ellipse cx="760.5" cy="809.5" rx="1.1" ry="1.1" transform="rotate(169 760.5 809.5)" fill="#5566C0"/><ellipse cx="801.5" cy="809.4" rx="1.7" ry="1.1" transform="rotate(106 801.5 809.4)" fill="#5566C0"/><ellipse cx="718.5" cy="820.0" rx="1.7" ry="1.1" transform="rotate(54 718.5 820.0)" fill="#5566C0"/><ellipse cx="811.5" cy="781.1" rx="1.9" ry="0.8" transform="rotate(174 811.5 781.1)" fill="#5566C0"/><ellipse cx="780.8" cy="744.1" rx="1.8" ry="0.8" transform="rotate(36 780.8 744.1)" fill="#5566C0"/><ellipse cx="722.4" cy="742.1" rx="1.4" ry="1.2" transform="rotate(123 722.4 742.1)" fill="#5566C0"/><ellipse cx="767.1" cy="762.6" rx="1.7" ry="1.1" transform="rotate(123 767.1 762.6)" fill="#5566C0"/><ellipse cx="808.1" cy="820.1" rx="1.4" ry="0.7" transform="rotate(117 808.1 820.1)" fill="#5566C0"/><ellipse cx="789.4" cy="755.7" rx="1.5" ry="1.1" transform="rotate(143 789.4 755.7)" fill="#5566C0"/><ellipse cx="642.2" cy="775.5" rx="1.0" ry="0.8" transform="rotate(146 642.2 775.5)" fill="#5566C0"/><ellipse cx="715.5" cy="790.8" rx="1.4" ry="0.9" transform="rotate(38 715.5 790.8)" fill="#5566C0"/><ellipse cx="704.0" cy="822.6" rx="1.6" ry="0.8" transform="rotate(16 704.0 822.6)" fill="#5566C0"/><ellipse cx="689.4" cy="803.6" rx="1.4" ry="1.0" transform="rotate(145 689.4 803.6)" fill="#5566C0"/><ellipse cx="662.8" cy="801.2" rx="1.0" ry="1.1" transform="rotate(33 662.8 801.2)" fill="#5566C0"/><ellipse cx="689.5" cy="837.6" rx="1.3" ry="0.8" transform="rotate(160 689.5 837.6)" fill="#5566C0"/><ellipse cx="749.4" cy="829.1" rx="1.4" ry="0.9" transform="rotate(172 749.4 829.1)" fill="#5566C0"/><ellipse cx="731.1" cy="841.7" rx="1.2" ry="1.1" transform="rotate(29 731.1 841.7)" fill="#5566C0"/><ellipse cx="734.7" cy="710.7" rx="1.2" ry="1.2" transform="rotate(82 734.7 710.7)" fill="#5566C0"/><ellipse cx="784.7" cy="743.9" rx="1.3" ry="0.8" transform="rotate(99 784.7 743.9)" fill="#5566C0"/><ellipse cx="794.0" cy="778.8" rx="1.3" ry="1.2" transform="rotate(161 794.0 778.8)" fill="#5566C0"/><ellipse cx="759.3" cy="720.8" rx="1.6" ry="0.9" transform="rotate(172 759.3 720.8)" fill="#5566C0"/><ellipse cx="705.4" cy="798.3" rx="1.6" ry="0.9" transform="rotate(94 705.4 798.3)" fill="#5566C0"/><ellipse cx="761.1" cy="830.9" rx="1.4" ry="0.9" transform="rotate(176 761.1 830.9)" fill="#5566C0"/><ellipse cx="651.5" cy="821.3" rx="1.6" ry="1.0" transform="rotate(81 651.5 821.3)" fill="#5566C0"/><ellipse cx="774.3" cy="828.8" rx="1.7" ry="1.1" transform="rotate(6 774.3 828.8)" fill="#5566C0"/><ellipse cx="699.0" cy="728.9" rx="1.9" ry="1.1" transform="rotate(26 699.0 728.9)" fill="#5566C0"/><ellipse cx="745.4" cy="787.1" rx="1.0" ry="0.9" transform="rotate(135 745.4 787.1)" fill="#5566C0"/><ellipse cx="754.9" cy="747.9" rx="1.7" ry="0.8" transform="rotate(98 754.9 747.9)" fill="#5566C0"/><ellipse cx="715.9" cy="840.3" rx="1.6" ry="1.1" transform="rotate(122 715.9 840.3)" fill="#5566C0"/><ellipse cx="708.7" cy="838.3" rx="1.6" ry="1.0" transform="rotate(50 708.7 838.3)" fill="#5566C0"/><ellipse cx="670.1" cy="786.9" rx="1.7" ry="1.1" transform="rotate(63 670.1 786.9)" fill="#5566C0"/><ellipse cx="666.2" cy="779.1" rx="1.8" ry="0.8" transform="rotate(133 666.2 779.1)" fill="#5566C0"/><ellipse cx="671.6" cy="752.0" rx="1.0" ry="0.8" transform="rotate(69 671.6 752.0)" fill="#5566C0"/><ellipse cx="812.5" cy="838.2" rx="1.2" ry="0.9" transform="rotate(170 812.5 838.2)" fill="#5566C0"/><ellipse cx="676.3" cy="753.2" rx="1.4" ry="0.8" transform="rotate(47 676.3 753.2)" fill="#5566C0"/><ellipse cx="711.1" cy="761.8" rx="1.9" ry="0.8" transform="rotate(37 711.1 761.8)" fill="#5566C0"/><ellipse cx="802.3" cy="770.4" rx="1.8" ry="1.0" transform="rotate(140 802.3 770.4)" fill="#5566C0"/><ellipse cx="697.1" cy="730.8" rx="1.7" ry="0.9" transform="rotate(101 697.1 730.8)" fill="#5566C0"/><ellipse cx="760.1" cy="810.4" rx="1.2" ry="0.9" transform="rotate(165 760.1 810.4)" fill="#5566C0"/><ellipse cx="735.1" cy="748.9" rx="1.6" ry="0.8" transform="rotate(139 735.1 748.9)" fill="#5566C0"/><ellipse cx="648.7" cy="820.2" rx="1.5" ry="0.9" transform="rotate(169 648.7 820.2)" fill="#5566C0"/><ellipse cx="688.4" cy="742.9" rx="1.1" ry="1.0" transform="rotate(136 688.4 742.9)" fill="#5566C0"/><ellipse cx="761.4" cy="765.4" rx="1.7" ry="0.8" transform="rotate(55 761.4 765.4)" fill="#5566C0"/><ellipse cx="755.5" cy="838.9" rx="1.6" ry="1.0" transform="rotate(139 755.5 838.9)" fill="#5566C0"/><ellipse cx="711.2" cy="835.3" rx="1.7" ry="0.9" transform="rotate(71 711.2 835.3)" fill="#5566C0"/><ellipse cx="784.0" cy="757.0" rx="1.2" ry="1.1" transform="rotate(96 784.0 757.0)" fill="#5566C0"/><ellipse cx="733.7" cy="799.4" rx="1.8" ry="0.8" transform="rotate(61 733.7 799.4)" fill="#5566C0"/><ellipse cx="653.1" cy="765.4" rx="1.5" ry="1.1" transform="rotate(120 653.1 765.4)" fill="#5566C0"/><ellipse cx="743.7" cy="764.2" rx="1.5" ry="0.8" transform="rotate(152 743.7 764.2)" fill="#5566C0"/><ellipse cx="781.0" cy="821.8" rx="1.1" ry="1.0" transform="rotate(136 781.0 821.8)" fill="#5566C0"/><ellipse cx="730.0" cy="829.7" rx="1.8" ry="1.1" transform="rotate(148 730.0 829.7)" fill="#5566C0"/><ellipse cx="756.2" cy="827.1" rx="1.1" ry="1.1" transform="rotate(127 756.2 827.1)" fill="#5566C0"/><ellipse cx="749.8" cy="747.1" rx="1.1" ry="1.0" transform="rotate(148 749.8 747.1)" fill="#5566C0"/><ellipse cx="689.7" cy="738.9" rx="1.2" ry="0.7" transform="rotate(122 689.7 738.9)" fill="#5566C0"/><ellipse cx="813.9" cy="817.0" rx="1.3" ry="1.0" transform="rotate(13 813.9 817.0)" fill="#5566C0"/><ellipse cx="789.8" cy="753.8" rx="1.0" ry="1.0" transform="rotate(25 789.8 753.8)" fill="#5566C0"/><ellipse cx="690.1" cy="718.5" rx="1.4" ry="1.0" transform="rotate(145 690.1 718.5)" fill="#5566C0"/><ellipse cx="648.4" cy="820.3" rx="1.1" ry="0.8" transform="rotate(113 648.4 820.3)" fill="#5566C0"/><ellipse cx="701.6" cy="754.6" rx="1.5" ry="0.8" transform="rotate(143 701.6 754.6)" fill="#5566C0"/><ellipse cx="678.4" cy="821.9" rx="1.7" ry="1.0" transform="rotate(5 678.4 821.9)" fill="#5566C0"/><ellipse cx="779.1" cy="714.5" rx="1.5" ry="0.9" transform="rotate(11 779.1 714.5)" fill="#5566C0"/><ellipse cx="752.9" cy="806.7" rx="1.5" ry="0.9" transform="rotate(92 752.9 806.7)" fill="#5566C0"/><ellipse cx="745.6" cy="740.7" rx="1.8" ry="1.2" transform="rotate(145 745.6 740.7)" fill="#5566C0"/><ellipse cx="811.6" cy="754.3" rx="1.9" ry="0.7" transform="rotate(86 811.6 754.3)" fill="#5566C0"/><ellipse cx="665.1" cy="770.9" rx="1.6" ry="1.1" transform="rotate(82 665.1 770.9)" fill="#5566C0"/><ellipse cx="701.9" cy="735.9" rx="1.4" ry="0.8" transform="rotate(35 701.9 735.9)" fill="#5566C0"/><ellipse cx="771.7" cy="779.1" rx="1.4" ry="0.8" transform="rotate(127 771.7 779.1)" fill="#5566C0"/><ellipse cx="676.2" cy="745.9" rx="1.5" ry="1.1" transform="rotate(175 676.2 745.9)" fill="#5566C0"/><ellipse cx="773.7" cy="836.4" rx="1.8" ry="1.1" transform="rotate(130 773.7 836.4)" fill="#5566C0"/><ellipse cx="652.5" cy="737.9" rx="1.0" ry="1.1" transform="rotate(130 652.5 737.9)" fill="#5566C0"/><ellipse cx="752.9" cy="745.7" rx="1.3" ry="0.8" transform="rotate(114 752.9 745.7)" fill="#5566C0"/><ellipse cx="816.9" cy="751.2" rx="1.0" ry="0.8" transform="rotate(64 816.9 751.2)" fill="#5566C0"/><ellipse cx="800.5" cy="817.3" rx="1.4" ry="0.8" transform="rotate(19 800.5 817.3)" fill="#5566C0"/><ellipse cx="668.6" cy="813.7" rx="1.4" ry="1.2" transform="rotate(164 668.6 813.7)" fill="#5566C0"/><ellipse cx="782.1" cy="773.8" rx="1.7" ry="0.8" transform="rotate(20 782.1 773.8)" fill="#5566C0"/><ellipse cx="741.1" cy="778.0" rx="1.2" ry="0.8" transform="rotate(4 741.1 778.0)" fill="#5566C0"/><ellipse cx="802.3" cy="804.8" rx="1.9" ry="1.2" transform="rotate(79 802.3 804.8)" fill="#5566C0"/><ellipse cx="771.0" cy="761.6" rx="1.7" ry="1.1" transform="rotate(24 771.0 761.6)" fill="#5566C0"/><ellipse cx="643.7" cy="739.1" rx="1.5" ry="0.9" transform="rotate(2 643.7 739.1)" fill="#5566C0"/><ellipse cx="788.4" cy="814.9" rx="1.4" ry="0.7" transform="rotate(160 788.4 814.9)" fill="#5566C0"/><ellipse cx="736.0" cy="720.1" rx="1.3" ry="1.0" transform="rotate(159 736.0 720.1)" fill="#5566C0"/><ellipse cx="727.2" cy="795.4" rx="1.2" ry="0.8" transform="rotate(163 727.2 795.4)" fill="#5566C0"/><ellipse cx="709.1" cy="724.5" rx="1.5" ry="0.8" transform="rotate(36 709.1 724.5)" fill="#5566C0"/><ellipse cx="722.2" cy="788.3" rx="1.6" ry="1.1" transform="rotate(79 722.2 788.3)" fill="#5566C0"/><ellipse cx="653.4" cy="806.7" rx="1.0" ry="0.9" transform="rotate(72 653.4 806.7)" fill="#5566C0"/><ellipse cx="760.5" cy="805.3" rx="1.2" ry="1.0" transform="rotate(125 760.5 805.3)" fill="#5566C0"/><ellipse cx="724.9" cy="729.5" rx="1.8" ry="1.0" transform="rotate(11 724.9 729.5)" fill="#5566C0"/><ellipse cx="683.6" cy="841.5" rx="1.2" ry="0.9" transform="rotate(142 683.6 841.5)" fill="#5566C0"/><ellipse cx="787.2" cy="794.7" rx="1.7" ry="0.7" transform="rotate(17 787.2 794.7)" fill="#5566C0"/><ellipse cx="814.2" cy="817.1" rx="1.0" ry="0.7" transform="rotate(43 814.2 817.1)" fill="#5566C0"/><ellipse cx="806.1" cy="739.8" rx="1.6" ry="1.2" transform="rotate(115 806.1 739.8)" fill="#5566C0"/><ellipse cx="804.1" cy="745.5" rx="1.1" ry="0.7" transform="rotate(136 804.1 745.5)" fill="#5566C0"/><ellipse cx="659.8" cy="839.6" rx="1.6" ry="0.8" transform="rotate(145 659.8 839.6)" fill="#5566C0"/><ellipse cx="670.2" cy="778.6" rx="1.1" ry="1.1" transform="rotate(160 670.2 778.6)" fill="#5566C0"/><ellipse cx="803.6" cy="711.0" rx="1.8" ry="1.0" transform="rotate(148 803.6 711.0)" fill="#5566C0"/><ellipse cx="730.3" cy="792.8" rx="1.5" ry="1.1" transform="rotate(14 730.3 792.8)" fill="#5566C0"/><ellipse cx="651.0" cy="783.0" rx="1.3" ry="0.9" transform="rotate(1 651.0 783.0)" fill="#5566C0"/><ellipse cx="773.3" cy="713.9" rx="1.7" ry="1.1" transform="rotate(82 773.3 713.9)" fill="#5566C0"/><ellipse cx="663.0" cy="796.8" rx="1.2" ry="0.9" transform="rotate(20 663.0 796.8)" fill="#5566C0"/><ellipse cx="814.2" cy="783.1" rx="1.3" ry="0.7" transform="rotate(131 814.2 783.1)" fill="#5566C0"/><ellipse cx="791.8" cy="823.1" rx="1.1" ry="0.9" transform="rotate(54 791.8 823.1)" fill="#5566C0"/><ellipse cx="776.3" cy="730.3" rx="1.5" ry="1.2" transform="rotate(138 776.3 730.3)" fill="#5566C0"/><ellipse cx="642.6" cy="720.6" rx="1.1" ry="1.0" transform="rotate(108 642.6 720.6)" fill="#5566C0"/><ellipse cx="733.5" cy="771.1" rx="1.4" ry="1.0" transform="rotate(117 733.5 771.1)" fill="#5566C0"/><ellipse cx="803.6" cy="807.8" rx="1.7" ry="1.2" transform="rotate(151 803.6 807.8)" fill="#5566C0"/><ellipse cx="768.3" cy="714.8" rx="1.6" ry="1.1" transform="rotate(78 768.3 714.8)" fill="#5566C0"/><ellipse cx="796.8" cy="734.5" rx="1.8" ry="0.9" transform="rotate(127 796.8 734.5)" fill="#5566C0"/><ellipse cx="686.1" cy="750.5" rx="1.3" ry="0.9" transform="rotate(17 686.1 750.5)" fill="#5566C0"/><ellipse cx="719.8" cy="840.7" rx="1.6" ry="1.2" transform="rotate(137 719.8 840.7)" fill="#5566C0"/><ellipse cx="789.5" cy="842.4" rx="1.7" ry="0.8" transform="rotate(45 789.5 842.4)" fill="#5566C0"/><ellipse cx="714.4" cy="713.5" rx="1.2" ry="1.1" transform="rotate(166 714.4 713.5)" fill="#5566C0"/><ellipse cx="699.6" cy="812.8" rx="1.7" ry="1.1" transform="rotate(143 699.6 812.8)" fill="#5566C0"/><ellipse cx="735.6" cy="724.6" rx="1.7" ry="0.9" transform="rotate(113 735.6 724.6)" fill="#5566C0"/><ellipse cx="706.4" cy="781.9" rx="1.9" ry="0.8" transform="rotate(96 706.4 781.9)" fill="#5566C0"/><ellipse cx="756.4" cy="782.0" rx="1.8" ry="0.9" transform="rotate(164 756.4 782.0)" fill="#5566C0"/><ellipse cx="763.5" cy="838.9" rx="1.1" ry="0.8" transform="rotate(52 763.5 838.9)" fill="#5566C0"/><ellipse cx="801.9" cy="712.5" rx="1.2" ry="1.1" transform="rotate(178 801.9 712.5)" fill="#5566C0"/><ellipse cx="672.6" cy="768.7" rx="1.6" ry="1.0" transform="rotate(134 672.6 768.7)" fill="#5566C0"/><ellipse cx="774.7" cy="743.6" rx="1.2" ry="0.7" transform="rotate(124 774.7 743.6)" fill="#5566C0"/><ellipse cx="678.4" cy="745.1" rx="1.9" ry="1.0" transform="rotate(106 678.4 745.1)" fill="#5566C0"/><ellipse cx="757.5" cy="789.9" rx="1.6" ry="0.9" transform="rotate(12 757.5 789.9)" fill="#5566C0"/><ellipse cx="653.2" cy="712.6" rx="1.3" ry="0.8" transform="rotate(20 653.2 712.6)" fill="#5566C0"/><ellipse cx="728.8" cy="839.2" rx="1.6" ry="0.8" transform="rotate(138 728.8 839.2)" fill="#5566C0"/><ellipse cx="672.9" cy="724.0" rx="1.3" ry="0.9" transform="rotate(124 672.9 724.0)" fill="#5566C0"/><ellipse cx="720.2" cy="807.2" rx="1.1" ry="1.2" transform="rotate(62 720.2 807.2)" fill="#5566C0"/><ellipse cx="788.7" cy="714.8" rx="1.7" ry="0.8" transform="rotate(154 788.7 714.8)" fill="#5566C0"/><ellipse cx="783.5" cy="799.6" rx="1.2" ry="0.7" transform="rotate(34 783.5 799.6)" fill="#5566C0"/><ellipse cx="801.6" cy="731.6" rx="1.6" ry="1.0" transform="rotate(119 801.6 731.6)" fill="#5566C0"/><ellipse cx="673.4" cy="729.7" rx="1.1" ry="1.2" transform="rotate(69 673.4 729.7)" fill="#5566C0"/><ellipse cx="756.8" cy="786.2" rx="1.2" ry="0.7" transform="rotate(3 756.8 786.2)" fill="#5566C0"/><ellipse cx="792.3" cy="727.9" rx="1.9" ry="0.9" transform="rotate(130 792.3 727.9)" fill="#5566C0"/><ellipse cx="665.9" cy="815.1" rx="1.2" ry="0.9" transform="rotate(94 665.9 815.1)" fill="#5566C0"/><ellipse cx="661.1" cy="743.6" rx="1.7" ry="0.8" transform="rotate(69 661.1 743.6)" fill="#5566C0"/><ellipse cx="776.8" cy="740.4" rx="1.2" ry="0.8" transform="rotate(69 776.8 740.4)" fill="#5566C0"/><ellipse cx="706.1" cy="795.7" rx="1.4" ry="1.1" transform="rotate(9 706.1 795.7)" fill="#5566C0"/><ellipse cx="758.9" cy="821.5" rx="1.2" ry="0.7" transform="rotate(79 758.9 821.5)" fill="#5566C0"/><ellipse cx="661.9" cy="771.6" rx="1.6" ry="0.7" transform="rotate(21 661.9 771.6)" fill="#5566C0"/><ellipse cx="726.3" cy="733.7" rx="1.2" ry="0.9" transform="rotate(21 726.3 733.7)" fill="#5566C0"/><ellipse cx="653.4" cy="758.6" rx="1.4" ry="1.2" transform="rotate(100 653.4 758.6)" fill="#5566C0"/><ellipse cx="654.1" cy="740.2" rx="1.7" ry="1.0" transform="rotate(157 654.1 740.2)" fill="#5566C0"/><ellipse cx="811.8" cy="824.4" rx="1.1" ry="1.2" transform="rotate(94 811.8 824.4)" fill="#5566C0"/><ellipse cx="683.8" cy="733.3" rx="1.8" ry="0.8" transform="rotate(15 683.8 733.3)" fill="#5566C0"/><ellipse cx="688.4" cy="833.1" rx="1.4" ry="1.1" transform="rotate(13 688.4 833.1)" fill="#5566C0"/><ellipse cx="721.6" cy="752.8" rx="1.2" ry="1.0" transform="rotate(65 721.6 752.8)" fill="#5566C0"/><ellipse cx="662.6" cy="841.1" rx="1.4" ry="0.8" transform="rotate(2 662.6 841.1)" fill="#5566C0"/><ellipse cx="757.0" cy="778.9" rx="1.0" ry="0.9" transform="rotate(133 757.0 778.9)" fill="#5566C0"/><ellipse cx="736.5" cy="741.7" rx="1.4" ry="1.0" transform="rotate(117 736.5 741.7)" fill="#5566C0"/><ellipse cx="667.1" cy="817.2" rx="1.9" ry="1.1" transform="rotate(154 667.1 817.2)" fill="#5566C0"/><ellipse cx="706.5" cy="830.3" rx="1.2" ry="0.8" transform="rotate(108 706.5 830.3)" fill="#5566C0"/><ellipse cx="801.0" cy="721.6" rx="1.2" ry="0.7" transform="rotate(79 801.0 721.6)" fill="#5566C0"/><ellipse cx="666.3" cy="736.1" rx="1.7" ry="1.0" transform="rotate(169 666.3 736.1)" fill="#5566C0"/><ellipse cx="712.6" cy="800.7" rx="1.0" ry="1.2" transform="rotate(42 712.6 800.7)" fill="#5566C0"/><ellipse cx="725.8" cy="778.5" rx="1.9" ry="0.9" transform="rotate(179 725.8 778.5)" fill="#5566C0"/><ellipse cx="751.4" cy="739.4" rx="1.8" ry="0.8" transform="rotate(180 751.4 739.4)" fill="#5566C0"/><ellipse cx="722.2" cy="740.7" rx="1.9" ry="0.9" transform="rotate(73 722.2 740.7)" fill="#5566C0"/><ellipse cx="702.1" cy="799.3" rx="1.0" ry="0.9" transform="rotate(29 702.1 799.3)" fill="#5566C0"/><ellipse cx="788.0" cy="710.7" rx="1.5" ry="0.8" transform="rotate(82 788.0 710.7)" fill="#5566C0"/><ellipse cx="740.9" cy="805.0" rx="1.1" ry="0.8" transform="rotate(22 740.9 805.0)" fill="#5566C0"/><ellipse cx="811.4" cy="730.5" rx="1.1" ry="1.0" transform="rotate(105 811.4 730.5)" fill="#5566C0"/><ellipse cx="798.3" cy="718.2" rx="1.2" ry="0.8" transform="rotate(105 798.3 718.2)" fill="#5566C0"/><ellipse cx="721.5" cy="764.9" rx="1.8" ry="1.0" transform="rotate(155 721.5 764.9)" fill="#5566C0"/><ellipse cx="810.8" cy="746.3" rx="1.8" ry="0.9" transform="rotate(9 810.8 746.3)" fill="#5566C0"/><ellipse cx="803.3" cy="724.5" rx="1.0" ry="0.8" transform="rotate(52 803.3 724.5)" fill="#5566C0"/><ellipse cx="812.5" cy="826.0" rx="1.4" ry="1.0" transform="rotate(153 812.5 826.0)" fill="#5566C0"/><ellipse cx="784.2" cy="797.3" rx="1.5" ry="0.8" transform="rotate(44 784.2 797.3)" fill="#5566C0"/><ellipse cx="757.9" cy="788.4" rx="1.7" ry="1.1" transform="rotate(173 757.9 788.4)" fill="#5566C0"/><ellipse cx="675.5" cy="720.8" rx="1.8" ry="1.0" transform="rotate(33 675.5 720.8)" fill="#5566C0"/><ellipse cx="763.9" cy="744.6" rx="1.2" ry="0.9" transform="rotate(94 763.9 744.6)" fill="#5566C0"/><ellipse cx="761.3" cy="720.4" rx="1.7" ry="1.0" transform="rotate(85 761.3 720.4)" fill="#5566C0"/><ellipse cx="760.4" cy="816.6" rx="1.0" ry="0.9" transform="rotate(122 760.4 816.6)" fill="#5566C0"/><ellipse cx="766.9" cy="796.5" rx="1.2" ry="1.2" transform="rotate(141 766.9 796.5)" fill="#5566C0"/><ellipse cx="682.6" cy="767.8" rx="1.9" ry="0.8" transform="rotate(74 682.6 767.8)" fill="#5566C0"/><ellipse cx="811.6" cy="830.0" rx="1.2" ry="1.1" transform="rotate(65 811.6 830.0)" fill="#5566C0"/><ellipse cx="758.8" cy="812.3" rx="1.1" ry="0.8" transform="rotate(39 758.8 812.3)" fill="#5566C0"/><ellipse cx="688.5" cy="715.4" rx="1.1" ry="0.9" transform="rotate(76 688.5 715.4)" fill="#5566C0"/><ellipse cx="655.2" cy="787.9" rx="1.8" ry="1.0" transform="rotate(64 655.2 787.9)" fill="#5566C0"/><ellipse cx="766.1" cy="768.6" rx="1.2" ry="0.9" transform="rotate(3 766.1 768.6)" fill="#5566C0"/><ellipse cx="761.0" cy="732.0" rx="1.3" ry="1.2" transform="rotate(138 761.0 732.0)" fill="#5566C0"/><ellipse cx="789.3" cy="795.8" rx="1.6" ry="1.1" transform="rotate(174 789.3 795.8)" fill="#5566C0"/><ellipse cx="676.1" cy="812.2" rx="1.3" ry="0.8" transform="rotate(148 676.1 812.2)" fill="#5566C0"/><ellipse cx="747.8" cy="823.3" rx="1.8" ry="1.0" transform="rotate(36 747.8 823.3)" fill="#5566C0"/><ellipse cx="644.1" cy="781.6" rx="1.7" ry="0.8" transform="rotate(13 644.1 781.6)" fill="#5566C0"/><ellipse cx="642.2" cy="733.7" rx="1.6" ry="0.7" transform="rotate(41 642.2 733.7)" fill="#5566C0"/><ellipse cx="688.3" cy="804.9" rx="1.9" ry="0.7" transform="rotate(21 688.3 804.9)" fill="#5566C0"/><ellipse cx="806.8" cy="839.2" rx="1.1" ry="0.9" transform="rotate(94 806.8 839.2)" fill="#5566C0"/><ellipse cx="698.1" cy="766.0" rx="1.4" ry="0.8" transform="rotate(10 698.1 766.0)" fill="#5566C0"/><ellipse cx="656.3" cy="732.2" rx="1.1" ry="1.0" transform="rotate(125 656.3 732.2)" fill="#5566C0"/><ellipse cx="687.9" cy="815.6" rx="1.7" ry="0.9" transform="rotate(89 687.9 815.6)" fill="#5566C0"/><ellipse cx="674.7" cy="833.8" rx="1.5" ry="0.7" transform="rotate(28 674.7 833.8)" fill="#5566C0"/><ellipse cx="764.0" cy="761.7" rx="1.6" ry="0.8" transform="rotate(143 764.0 761.7)" fill="#5566C0"/><ellipse cx="783.4" cy="723.2" rx="1.5" ry="0.8" transform="rotate(127 783.4 723.2)" fill="#5566C0"/><ellipse cx="783.7" cy="815.5" rx="1.2" ry="0.7" transform="rotate(119 783.7 815.5)" fill="#5566C0"/><ellipse cx="741.4" cy="729.0" rx="1.2" ry="1.0" transform="rotate(19 741.4 729.0)" fill="#5566C0"/><ellipse cx="753.6" cy="742.6" rx="1.2" ry="0.9" transform="rotate(96 753.6 742.6)" fill="#5566C0"/><ellipse cx="769.6" cy="714.8" rx="1.7" ry="0.8" transform="rotate(52 769.6 714.8)" fill="#5566C0"/><ellipse cx="754.6" cy="802.3" rx="1.6" ry="1.2" transform="rotate(37 754.6 802.3)" fill="#5566C0"/><ellipse cx="696.5" cy="798.5" rx="1.2" ry="0.8" transform="rotate(41 696.5 798.5)" fill="#5566C0"/><ellipse cx="777.9" cy="820.3" rx="1.6" ry="1.2" transform="rotate(143 777.9 820.3)" fill="#5566C0"/><ellipse cx="696.2" cy="752.5" rx="1.6" ry="0.7" transform="rotate(110 696.2 752.5)" fill="#5566C0"/><ellipse cx="657.2" cy="717.2" rx="1.5" ry="0.8" transform="rotate(168 657.2 717.2)" fill="#5566C0"/><ellipse cx="796.7" cy="771.9" rx="1.2" ry="0.8" transform="rotate(91 796.7 771.9)" fill="#5566C0"/><ellipse cx="733.7" cy="758.8" rx="1.6" ry="1.0" transform="rotate(140 733.7 758.8)" fill="#5566C0"/><ellipse cx="660.2" cy="720.0" rx="1.3" ry="0.9" transform="rotate(45 660.2 720.0)" fill="#5566C0"/><ellipse cx="759.7" cy="740.1" rx="1.3" ry="0.9" transform="rotate(128 759.7 740.1)" fill="#5566C0"/><ellipse cx="777.7" cy="759.9" rx="1.4" ry="1.2" transform="rotate(168 777.7 759.9)" fill="#5566C0"/><ellipse cx="750.9" cy="724.6" rx="1.4" ry="1.0" transform="rotate(50 750.9 724.6)" fill="#5566C0"/><ellipse cx="648.0" cy="840.7" rx="1.8" ry="0.8" transform="rotate(84 648.0 840.7)" fill="#5566C0"/><ellipse cx="751.0" cy="750.4" rx="1.1" ry="1.1" transform="rotate(139 751.0 750.4)" fill="#5566C0"/><ellipse cx="718.8" cy="722.1" rx="1.4" ry="0.7" transform="rotate(173 718.8 722.1)" fill="#5566C0"/><ellipse cx="650.5" cy="748.9" rx="1.7" ry="0.8" transform="rotate(19 650.5 748.9)" fill="#5566C0"/><ellipse cx="653.9" cy="732.4" rx="1.5" ry="1.1" transform="rotate(30 653.9 732.4)" fill="#5566C0"/><ellipse cx="672.1" cy="812.1" rx="1.4" ry="0.9" transform="rotate(22 672.1 812.1)" fill="#5566C0"/><ellipse cx="684.4" cy="839.5" rx="1.1" ry="0.8" transform="rotate(133 684.4 839.5)" fill="#5566C0"/><ellipse cx="799.2" cy="830.5" rx="1.4" ry="1.2" transform="rotate(109 799.2 830.5)" fill="#5566C0"/><ellipse cx="692.5" cy="772.3" rx="1.6" ry="1.1" transform="rotate(23 692.5 772.3)" fill="#5566C0"/><ellipse cx="675.7" cy="837.7" rx="1.1" ry="1.1" transform="rotate(61 675.7 837.7)" fill="#5566C0"/><ellipse cx="685.3" cy="744.5" rx="1.4" ry="1.2" transform="rotate(27 685.3 744.5)" fill="#5566C0"/><ellipse cx="792.7" cy="753.3" rx="1.2" ry="1.1" transform="rotate(61 792.7 753.3)" fill="#5566C0"/><ellipse cx="674.6" cy="766.1" rx="1.7" ry="1.1" transform="rotate(103 674.6 766.1)" fill="#5566C0"/><ellipse cx="643.2" cy="811.9" rx="1.5" ry="1.1" transform="rotate(171 643.2 811.9)" fill="#5566C0"/><ellipse cx="699.3" cy="823.1" rx="1.7" ry="0.8" transform="rotate(66 699.3 823.1)" fill="#5566C0"/><ellipse cx="707.7" cy="757.5" rx="1.3" ry="0.8" transform="rotate(41 707.7 757.5)" fill="#5566C0"/><ellipse cx="802.4" cy="765.1" rx="1.6" ry="1.1" transform="rotate(136 802.4 765.1)" fill="#5566C0"/><ellipse cx="684.7" cy="832.5" rx="1.7" ry="1.2" transform="rotate(131 684.7 832.5)" fill="#5566C0"/><ellipse cx="775.0" cy="818.4" rx="1.2" ry="1.0" transform="rotate(69 775.0 818.4)" fill="#5566C0"/><ellipse cx="790.0" cy="728.4" rx="1.5" ry="0.9" transform="rotate(148 790.0 728.4)" fill="#5566C0"/><ellipse cx="702.5" cy="822.5" rx="1.8" ry="1.1" transform="rotate(25 702.5 822.5)" fill="#5566C0"/><ellipse cx="807.5" cy="809.3" rx="1.6" ry="1.0" transform="rotate(9 807.5 809.3)" fill="#5566C0"/><ellipse cx="795.4" cy="783.3" rx="1.4" ry="0.9" transform="rotate(141 795.4 783.3)" fill="#5566C0"/><ellipse cx="779.9" cy="826.0" rx="1.2" ry="0.9" transform="rotate(45 779.9 826.0)" fill="#5566C0"/><ellipse cx="659.2" cy="754.0" rx="1.0" ry="1.1" transform="rotate(41 659.2 754.0)" fill="#5566C0"/><ellipse cx="653.9" cy="719.7" rx="1.7" ry="0.8" transform="rotate(83 653.9 719.7)" fill="#5566C0"/><ellipse cx="712.5" cy="817.0" rx="1.9" ry="0.9" transform="rotate(114 712.5 817.0)" fill="#5566C0"/><ellipse cx="799.8" cy="773.0" rx="1.8" ry="1.1" transform="rotate(56 799.8 773.0)" fill="#5566C0"/><ellipse cx="796.1" cy="786.7" rx="1.1" ry="1.0" transform="rotate(149 796.1 786.7)" fill="#5566C0"/><ellipse cx="733.2" cy="774.8" rx="1.4" ry="1.1" transform="rotate(120 733.2 774.8)" fill="#5566C0"/><ellipse cx="678.2" cy="758.7" rx="1.3" ry="1.2" transform="rotate(125 678.2 758.7)" fill="#5566C0"/><ellipse cx="663.5" cy="831.8" rx="1.0" ry="1.0" transform="rotate(78 663.5 831.8)" fill="#5566C0"/><ellipse cx="768.4" cy="767.6" rx="1.1" ry="1.0" transform="rotate(148 768.4 767.6)" fill="#5566C0"/><ellipse cx="781.0" cy="758.0" rx="1.2" ry="1.1" transform="rotate(144 781.0 758.0)" fill="#5566C0"/><ellipse cx="680.2" cy="827.7" rx="1.9" ry="0.9" transform="rotate(69 680.2 827.7)" fill="#5566C0"/><ellipse cx="767.0" cy="833.9" rx="1.2" ry="0.9" transform="rotate(59 767.0 833.9)" fill="#5566C0"/><ellipse cx="771.0" cy="735.5" rx="1.5" ry="1.0" transform="rotate(120 771.0 735.5)" fill="#5566C0"/><ellipse cx="666.8" cy="837.5" rx="1.9" ry="1.0" transform="rotate(143 666.8 837.5)" fill="#5566C0"/><ellipse cx="673.9" cy="831.3" rx="1.5" ry="1.1" transform="rotate(156 673.9 831.3)" fill="#5566C0"/><ellipse cx="705.4" cy="833.1" rx="1.2" ry="0.7" transform="rotate(90 705.4 833.1)" fill="#5566C0"/><ellipse cx="800.5" cy="830.0" rx="1.9" ry="1.0" transform="rotate(168 800.5 830.0)" fill="#5566C0"/><ellipse cx="740.5" cy="729.7" rx="1.6" ry="1.1" transform="rotate(76 740.5 729.7)" fill="#5566C0"/><ellipse cx="748.0" cy="745.0" rx="1.2" ry="0.9" transform="rotate(92 748.0 745.0)" fill="#5566C0"/><ellipse cx="724.3" cy="722.9" rx="1.0" ry="0.9" transform="rotate(129 724.3 722.9)" fill="#5566C0"/><ellipse cx="773.9" cy="742.1" rx="1.2" ry="1.0" transform="rotate(32 773.9 742.1)" fill="#5566C0"/><ellipse cx="748.1" cy="830.5" rx="1.2" ry="1.0" transform="rotate(130 748.1 830.5)" fill="#5566C0"/><ellipse cx="774.0" cy="805.1" rx="1.6" ry="0.8" transform="rotate(151 774.0 805.1)" fill="#5566C0"/><ellipse cx="805.1" cy="717.7" rx="1.8" ry="0.9" transform="rotate(16 805.1 717.7)" fill="#5566C0"/><ellipse cx="653.7" cy="816.3" rx="1.6" ry="0.8" transform="rotate(83 653.7 816.3)" fill="#5566C0"/><ellipse cx="754.5" cy="842.9" rx="1.3" ry="1.1" transform="rotate(44 754.5 842.9)" fill="#5566C0"/><ellipse cx="676.6" cy="732.1" rx="1.4" ry="1.0" transform="rotate(55 676.6 732.1)" fill="#5566C0"/><ellipse cx="670.1" cy="739.7" rx="1.1" ry="0.8" transform="rotate(57 670.1 739.7)" fill="#5566C0"/><ellipse cx="730.7" cy="735.0" rx="1.4" ry="0.9" transform="rotate(175 730.7 735.0)" fill="#5566C0"/><ellipse cx="727.5" cy="835.9" rx="1.4" ry="0.8" transform="rotate(107 727.5 835.9)" fill="#5566C0"/><ellipse cx="667.0" cy="733.1" rx="1.1" ry="1.1" transform="rotate(174 667.0 733.1)" fill="#5566C0"/><ellipse cx="712.8" cy="757.6" rx="1.4" ry="0.9" transform="rotate(124 712.8 757.6)" fill="#5566C0"/><ellipse cx="710.8" cy="730.9" rx="1.8" ry="1.0" transform="rotate(1 710.8 730.9)" fill="#5566C0"/><ellipse cx="791.8" cy="807.2" rx="1.3" ry="1.0" transform="rotate(166 791.8 807.2)" fill="#5566C0"/><ellipse cx="712.5" cy="768.0" rx="1.3" ry="1.0" transform="rotate(119 712.5 768.0)" fill="#5566C0"/><ellipse cx="771.5" cy="836.5" rx="1.1" ry="0.9" transform="rotate(153 771.5 836.5)" fill="#5566C0"/><ellipse cx="781.4" cy="788.9" rx="1.6" ry="0.9" transform="rotate(170 781.4 788.9)" fill="#5566C0"/><ellipse cx="738.6" cy="764.0" rx="1.2" ry="0.8" transform="rotate(162 738.6 764.0)" fill="#5566C0"/><ellipse cx="783.1" cy="714.2" rx="1.3" ry="0.9" transform="rotate(89 783.1 714.2)" fill="#5566C0"/><ellipse cx="705.7" cy="829.3" rx="1.3" ry="1.0" transform="rotate(167 705.7 829.3)" fill="#5566C0"/><ellipse cx="754.5" cy="773.9" rx="1.3" ry="0.9" transform="rotate(110 754.5 773.9)" fill="#5566C0"/><ellipse cx="780.5" cy="745.2" rx="1.3" ry="0.9" transform="rotate(65 780.5 745.2)" fill="#5566C0"/><ellipse cx="803.0" cy="782.1" rx="1.2" ry="0.9" transform="rotate(148 803.0 782.1)" fill="#5566C0"/><ellipse cx="669.8" cy="802.1" rx="1.0" ry="0.8" transform="rotate(11 669.8 802.1)" fill="#5566C0"/><ellipse cx="784.0" cy="730.2" rx="1.2" ry="0.7" transform="rotate(47 784.0 730.2)" fill="#5566C0"/><ellipse cx="771.2" cy="806.1" rx="1.8" ry="1.2" transform="rotate(99 771.2 806.1)" fill="#5566C0"/><ellipse cx="804.6" cy="722.6" rx="1.8" ry="0.9" transform="rotate(35 804.6 722.6)" fill="#5566C0"/><ellipse cx="773.8" cy="824.5" rx="1.3" ry="0.7" transform="rotate(157 773.8 824.5)" fill="#5566C0"/><ellipse cx="774.8" cy="789.8" rx="1.9" ry="0.7" transform="rotate(10 774.8 789.8)" fill="#5566C0"/><ellipse cx="663.4" cy="713.6" rx="1.6" ry="1.0" transform="rotate(20 663.4 713.6)" fill="#5566C0"/><ellipse cx="670.1" cy="734.7" rx="1.5" ry="1.0" transform="rotate(175 670.1 734.7)" fill="#5566C0"/><ellipse cx="705.2" cy="840.4" rx="1.4" ry="0.9" transform="rotate(46 705.2 840.4)" fill="#5566C0"/><ellipse cx="682.6" cy="839.8" rx="1.9" ry="1.1" transform="rotate(32 682.6 839.8)" fill="#5566C0"/><ellipse cx="673.2" cy="730.9" rx="1.3" ry="1.1" transform="rotate(11 673.2 730.9)" fill="#5566C0"/><ellipse cx="735.2" cy="800.9" rx="1.0" ry="0.9" transform="rotate(142 735.2 800.9)" fill="#5566C0"/><ellipse cx="743.3" cy="770.5" rx="1.8" ry="1.0" transform="rotate(61 743.3 770.5)" fill="#5566C0"/><ellipse cx="711.5" cy="835.7" rx="1.8" ry="1.2" transform="rotate(101 711.5 835.7)" fill="#5566C0"/><ellipse cx="666.6" cy="733.9" rx="1.3" ry="1.0" transform="rotate(1 666.6 733.9)" fill="#5566C0"/><ellipse cx="783.4" cy="814.8" rx="1.5" ry="0.7" transform="rotate(144 783.4 814.8)" fill="#5566C0"/><ellipse cx="714.7" cy="799.4" rx="1.5" ry="1.1" transform="rotate(74 714.7 799.4)" fill="#5566C0"/><ellipse cx="811.3" cy="837.3" rx="1.8" ry="1.0" transform="rotate(57 811.3 837.3)" fill="#5566C0"/><ellipse cx="708.1" cy="746.3" rx="1.8" ry="1.1" transform="rotate(142 708.1 746.3)" fill="#5566C0"/><ellipse cx="786.8" cy="842.0" rx="1.6" ry="0.9" transform="rotate(136 786.8 842.0)" fill="#5566C0"/><ellipse cx="687.8" cy="791.6" rx="1.1" ry="1.1" transform="rotate(88 687.8 791.6)" fill="#5566C0"/><ellipse cx="690.1" cy="833.0" rx="1.1" ry="1.2" transform="rotate(136 690.1 833.0)" fill="#5566C0"/><ellipse cx="667.8" cy="811.5" rx="1.5" ry="1.2" transform="rotate(106 667.8 811.5)" fill="#5566C0"/><ellipse cx="717.0" cy="834.4" rx="1.1" ry="1.1" transform="rotate(19 717.0 834.4)" fill="#5566C0"/><ellipse cx="690.4" cy="725.8" rx="1.8" ry="0.9" transform="rotate(131 690.4 725.8)" fill="#5566C0"/><ellipse cx="686.8" cy="807.5" rx="1.6" ry="0.7" transform="rotate(89 686.8 807.5)" fill="#5566C0"/><ellipse cx="769.2" cy="739.1" rx="1.6" ry="0.8" transform="rotate(67 769.2 739.1)" fill="#5566C0"/><ellipse cx="804.2" cy="835.7" rx="1.9" ry="0.9" transform="rotate(103 804.2 835.7)" fill="#5566C0"/><ellipse cx="784.5" cy="811.2" rx="1.4" ry="1.1" transform="rotate(72 784.5 811.2)" fill="#5566C0"/><ellipse cx="809.6" cy="773.3" rx="1.1" ry="1.1" transform="rotate(26 809.6 773.3)" fill="#5566C0"/><ellipse cx="761.7" cy="717.8" rx="1.9" ry="1.0" transform="rotate(133 761.7 717.8)" fill="#5566C0"/><ellipse cx="664.6" cy="795.1" rx="1.3" ry="0.8" transform="rotate(147 664.6 795.1)" fill="#5566C0"/><ellipse cx="647.3" cy="774.0" rx="1.1" ry="1.1" transform="rotate(161 647.3 774.0)" fill="#5566C0"/><ellipse cx="647.5" cy="772.3" rx="1.4" ry="1.1" transform="rotate(131 647.5 772.3)" fill="#5566C0"/><ellipse cx="702.2" cy="834.3" rx="1.2" ry="0.8" transform="rotate(147 702.2 834.3)" fill="#5566C0"/><ellipse cx="662.7" cy="735.3" rx="1.5" ry="0.9" transform="rotate(29 662.7 735.3)" fill="#5566C0"/><ellipse cx="806.0" cy="773.5" rx="1.7" ry="0.8" transform="rotate(164 806.0 773.5)" fill="#5566C0"/><ellipse cx="680.5" cy="830.8" rx="1.6" ry="1.2" transform="rotate(139 680.5 830.8)" fill="#5566C0"/><ellipse cx="753.1" cy="781.3" rx="1.8" ry="0.9" transform="rotate(18 753.1 781.3)" fill="#5566C0"/><ellipse cx="803.1" cy="817.4" rx="1.6" ry="1.1" transform="rotate(42 803.1 817.4)" fill="#5566C0"/><ellipse cx="723.4" cy="819.7" rx="1.9" ry="1.2" transform="rotate(29 723.4 819.7)" fill="#5566C0"/><ellipse cx="762.4" cy="784.1" rx="1.4" ry="0.8" transform="rotate(25 762.4 784.1)" fill="#5566C0"/><ellipse cx="724.6" cy="776.0" rx="1.2" ry="0.9" transform="rotate(100 724.6 776.0)" fill="#5566C0"/><ellipse cx="776.3" cy="788.8" rx="1.1" ry="1.1" transform="rotate(66 776.3 788.8)" fill="#5566C0"/><ellipse cx="811.3" cy="840.8" rx="1.1" ry="1.0" transform="rotate(174 811.3 840.8)" fill="#5566C0"/><ellipse cx="709.6" cy="783.2" rx="1.3" ry="0.7" transform="rotate(37 709.6 783.2)" fill="#5566C0"/><ellipse cx="663.3" cy="748.4" rx="1.6" ry="1.0" transform="rotate(171 663.3 748.4)" fill="#5566C0"/><ellipse cx="762.7" cy="758.7" rx="1.9" ry="1.0" transform="rotate(98 762.7 758.7)" fill="#5566C0"/><ellipse cx="794.1" cy="799.5" rx="1.3" ry="1.0" transform="rotate(54 794.1 799.5)" fill="#5566C0"/><ellipse cx="813.0" cy="743.1" rx="1.9" ry="0.7" transform="rotate(2 813.0 743.1)" fill="#5566C0"/><ellipse cx="739.3" cy="738.0" rx="1.5" ry="0.8" transform="rotate(151 739.3 738.0)" fill="#5566C0"/><ellipse cx="759.8" cy="801.4" rx="1.8" ry="1.2" transform="rotate(122 759.8 801.4)" fill="#5566C0"/><ellipse cx="767.6" cy="710.9" rx="1.0" ry="0.9" transform="rotate(174 767.6 710.9)" fill="#5566C0"/><ellipse cx="696.8" cy="786.0" rx="1.0" ry="0.9" transform="rotate(162 696.8 786.0)" fill="#5566C0"/><ellipse cx="745.7" cy="819.9" rx="1.0" ry="0.8" transform="rotate(32 745.7 819.9)" fill="#5566C0"/><ellipse cx="788.7" cy="724.2" rx="1.8" ry="0.8" transform="rotate(158 788.7 724.2)" fill="#5566C0"/><ellipse cx="732.7" cy="753.6" rx="1.9" ry="0.9" transform="rotate(126 732.7 753.6)" fill="#5566C0"/><ellipse cx="653.3" cy="820.7" rx="1.9" ry="0.8" transform="rotate(134 653.3 820.7)" fill="#5566C0"/><ellipse cx="689.3" cy="730.3" rx="1.3" ry="1.0" transform="rotate(172 689.3 730.3)" fill="#5566C0"/><ellipse cx="817.3" cy="842.3" rx="1.6" ry="1.0" transform="rotate(29 817.3 842.3)" fill="#5566C0"/><ellipse cx="769.9" cy="783.7" rx="1.3" ry="1.2" transform="rotate(46 769.9 783.7)" fill="#5566C0"/><ellipse cx="666.5" cy="731.7" rx="1.1" ry="1.0" transform="rotate(144 666.5 731.7)" fill="#5566C0"/><ellipse cx="669.7" cy="777.3" rx="1.5" ry="1.0" transform="rotate(74 669.7 777.3)" fill="#5566C0"/><ellipse cx="737.6" cy="712.7" rx="1.1" ry="0.9" transform="rotate(43 737.6 712.7)" fill="#5566C0"/><ellipse cx="775.4" cy="742.8" rx="1.7" ry="0.8" transform="rotate(17 775.4 742.8)" fill="#5566C0"/><ellipse cx="725.9" cy="762.0" rx="1.3" ry="1.1" transform="rotate(40 725.9 762.0)" fill="#5566C0"/><ellipse cx="760.0" cy="821.3" rx="1.4" ry="1.0" transform="rotate(166 760.0 821.3)" fill="#5566C0"/><ellipse cx="748.3" cy="734.7" rx="1.1" ry="0.7" transform="rotate(60 748.3 734.7)" fill="#5566C0"/><ellipse cx="657.1" cy="796.7" rx="1.4" ry="0.9" transform="rotate(92 657.1 796.7)" fill="#5566C0"/><ellipse cx="807.2" cy="743.1" rx="1.1" ry="0.9" transform="rotate(58 807.2 743.1)" fill="#5566C0"/><ellipse cx="802.5" cy="804.3" rx="1.4" ry="0.8" transform="rotate(8 802.5 804.3)" fill="#5566C0"/><ellipse cx="663.1" cy="823.0" rx="1.6" ry="0.8" transform="rotate(113 663.1 823.0)" fill="#5566C0"/><ellipse cx="651.7" cy="777.9" rx="1.3" ry="0.8" transform="rotate(134 651.7 777.9)" fill="#5566C0"/><ellipse cx="768.3" cy="778.4" rx="1.2" ry="1.0" transform="rotate(78 768.3 778.4)" fill="#5566C0"/><ellipse cx="758.4" cy="722.8" rx="1.8" ry="0.7" transform="rotate(40 758.4 722.8)" fill="#5566C0"/><ellipse cx="711.9" cy="737.0" rx="1.1" ry="1.0" transform="rotate(179 711.9 737.0)" fill="#5566C0"/><ellipse cx="700.7" cy="746.0" rx="1.6" ry="0.8" transform="rotate(72 700.7 746.0)" fill="#5566C0"/><ellipse cx="763.3" cy="767.8" rx="1.1" ry="0.7" transform="rotate(98 763.3 767.8)" fill="#5566C0"/><ellipse cx="816.7" cy="832.6" rx="1.1" ry="1.0" transform="rotate(88 816.7 832.6)" fill="#5566C0"/><ellipse cx="675.7" cy="799.5" rx="1.4" ry="1.1" transform="rotate(53 675.7 799.5)" fill="#5566C0"/><ellipse cx="806.7" cy="818.6" rx="1.4" ry="0.8" transform="rotate(87 806.7 818.6)" fill="#5566C0"/><ellipse cx="663.9" cy="801.6" rx="1.6" ry="1.0" transform="rotate(176 663.9 801.6)" fill="#5566C0"/><ellipse cx="649.4" cy="805.5" rx="1.7" ry="0.8" transform="rotate(58 649.4 805.5)" fill="#5566C0"/><ellipse cx="650.9" cy="787.9" rx="1.7" ry="0.9" transform="rotate(125 650.9 787.9)" fill="#5566C0"/></g></g>
<defs>
<filter id="nz18" x="0" y="0" width="1" height="1" color-interpolation-filters="sRGB"><feTurbulence type="fractalNoise" baseFrequency="0.35" numOctaves="3" seed="33"/><feColorMatrix type="matrix" values="0 0 0 0 0.588 0 0 0 0 0.667 0 0 0 0 0.804 4 0 0 0 -2.3"/></filter>
<filter id="nz19" x="0" y="0" width="1" height="1" color-interpolation-filters="sRGB"><feTurbulence type="fractalNoise" baseFrequency="0.4" numOctaves="3" seed="34"/><feColorMatrix type="matrix" values="0 0 0 0 0.353 0 0 0 0 0.275 0 0 0 0 0.275 4 0 0 0 -2.5"/></filter>
</defs>
<defs>
<filter id="nz20" x="0" y="0" width="1" height="1" color-interpolation-filters="sRGB"><feTurbulence type="fractalNoise" baseFrequency="0.2" numOctaves="3" seed="29"/><feColorMatrix type="matrix" values="0 0 0 0 0.471 0 0 0 0 0.588 0 0 0 0 0.784 4 0 0 0 -2.4"/></filter>
<filter id="nz21" x="0" y="0" width="1" height="1" color-interpolation-filters="sRGB"><feTurbulence type="fractalNoise" baseFrequency="0.15" numOctaves="3" seed="28"/><feColorMatrix type="matrix" values="0 0 0 0 0.922 0 0 0 0 0.933 0 0 0 0 0.949 4 0 0 0 -2.4"/></filter>
</defs>
<g clip-path="url(#cc7)">
<rect x="834.3" y="710.7" width="176" height="132.5" fill="#98B8DA"/>
<rect x="834.3" y="710.7" width="176" height="132.5" filter="url(#nz20)"/>
<rect x="834.3" y="710.7" width="176" height="132.5" filter="url(#nz21)"/>
<ellipse cx="898.8" cy="805.1" rx="7.7" ry="7.4" transform="rotate(-42 898.8 805.1)" fill="#F4F4F6" opacity="0.8"/><ellipse cx="898.8" cy="805.1" rx="5.7" ry="5.4" transform="rotate(-42 898.8 805.1)" fill="#8E7A78" stroke="#6A5050" stroke-width="0.6"/><ellipse cx="834.9" cy="722.8" rx="10.4" ry="7.1" transform="rotate(-35 834.9 722.8)" fill="#F4F4F6" opacity="0.8"/><ellipse cx="834.9" cy="722.8" rx="8.4" ry="5.1" transform="rotate(-35 834.9 722.8)" fill="#8E7A78" stroke="#6A5050" stroke-width="0.6"/><ellipse cx="861.6" cy="826.2" rx="10.3" ry="4.8" transform="rotate(-45 861.6 826.2)" fill="#F4F4F6" opacity="0.8"/><ellipse cx="861.6" cy="826.2" rx="8.3" ry="2.8" transform="rotate(-45 861.6 826.2)" fill="#8E7A78" stroke="#6A5050" stroke-width="0.6"/><ellipse cx="952.5" cy="711.2" rx="6.3" ry="5.6" transform="rotate(-25 952.5 711.2)" fill="#F4F4F6" opacity="0.8"/><ellipse cx="952.5" cy="711.2" rx="4.3" ry="3.6" transform="rotate(-25 952.5 711.2)" fill="#8E7A78" stroke="#6A5050" stroke-width="0.6"/><ellipse cx="1009.7" cy="752.9" rx="11.5" ry="6.9" transform="rotate(-25 1009.7 752.9)" fill="#F4F4F6" opacity="0.8"/><ellipse cx="1009.7" cy="752.9" rx="9.5" ry="4.9" transform="rotate(-25 1009.7 752.9)" fill="#8E7A78" stroke="#6A5050" stroke-width="0.6"/><ellipse cx="937.8" cy="839.1" rx="9.9" ry="7.3" transform="rotate(-37 937.8 839.1)" fill="#F4F4F6" opacity="0.8"/><ellipse cx="937.8" cy="839.1" rx="7.9" ry="5.3" transform="rotate(-37 937.8 839.1)" fill="#8E7A78" stroke="#6A5050" stroke-width="0.6"/><ellipse cx="868.9" cy="779.4" rx="8.9" ry="5.5" transform="rotate(-45 868.9 779.4)" fill="#F4F4F6" opacity="0.8"/><ellipse cx="868.9" cy="779.4" rx="6.9" ry="3.5" transform="rotate(-45 868.9 779.4)" fill="#8E7A78" stroke="#6A5050" stroke-width="0.6"/><ellipse cx="924.1" cy="788.6" rx="7.3" ry="5.3" transform="rotate(-40 924.1 788.6)" fill="#F4F4F6" opacity="0.8"/><ellipse cx="924.1" cy="788.6" rx="5.3" ry="3.3" transform="rotate(-40 924.1 788.6)" fill="#8E7A78" stroke="#6A5050" stroke-width="0.6"/><ellipse cx="923.0" cy="766.2" rx="10.0" ry="5.1" transform="rotate(-39 923.0 766.2)" fill="#F4F4F6" opacity="0.8"/><ellipse cx="923.0" cy="766.2" rx="8.0" ry="3.1" transform="rotate(-39 923.0 766.2)" fill="#8E7A78" stroke="#6A5050" stroke-width="0.6"/><ellipse cx="882.8" cy="812.7" rx="10.2" ry="6.8" transform="rotate(-39 882.8 812.7)" fill="#F4F4F6" opacity="0.8"/><ellipse cx="882.8" cy="812.7" rx="8.2" ry="4.8" transform="rotate(-39 882.8 812.7)" fill="#8E7A78" stroke="#6A5050" stroke-width="0.6"/><ellipse cx="878.1" cy="833.3" rx="9.1" ry="5.6" transform="rotate(-48 878.1 833.3)" fill="#F4F4F6" opacity="0.8"/><ellipse cx="878.1" cy="833.3" rx="7.1" ry="3.6" transform="rotate(-48 878.1 833.3)" fill="#8E7A78" stroke="#6A5050" stroke-width="0.6"/><ellipse cx="905.1" cy="804.6" rx="10.9" ry="5.9" transform="rotate(-31 905.1 804.6)" fill="#F4F4F6" opacity="0.8"/><ellipse cx="905.1" cy="804.6" rx="8.9" ry="3.9" transform="rotate(-31 905.1 804.6)" fill="#8E7A78" stroke="#6A5050" stroke-width="0.6"/><ellipse cx="871.8" cy="770.6" rx="8.1" ry="5.4" transform="rotate(-46 871.8 770.6)" fill="#F4F4F6" opacity="0.8"/><ellipse cx="871.8" cy="770.6" rx="6.1" ry="3.4" transform="rotate(-46 871.8 770.6)" fill="#8E7A78" stroke="#6A5050" stroke-width="0.6"/><ellipse cx="967.1" cy="807.9" rx="7.2" ry="5.2" transform="rotate(-29 967.1 807.9)" fill="#F4F4F6" opacity="0.8"/><ellipse cx="967.1" cy="807.9" rx="5.2" ry="3.2" transform="rotate(-29 967.1 807.9)" fill="#8E7A78" stroke="#6A5050" stroke-width="0.6"/><ellipse cx="949.5" cy="800.3" rx="9.8" ry="6.6" transform="rotate(-49 949.5 800.3)" fill="#F4F4F6" opacity="0.8"/><ellipse cx="949.5" cy="800.3" rx="7.8" ry="4.6" transform="rotate(-49 949.5 800.3)" fill="#8E7A78" stroke="#6A5050" stroke-width="0.6"/><ellipse cx="845.0" cy="758.5" rx="6.2" ry="7.4" transform="rotate(-39 845.0 758.5)" fill="#F4F4F6" opacity="0.8"/><ellipse cx="845.0" cy="758.5" rx="4.2" ry="5.4" transform="rotate(-39 845.0 758.5)" fill="#8E7A78" stroke="#6A5050" stroke-width="0.6"/><ellipse cx="952.3" cy="838.8" rx="10.8" ry="5.2" transform="rotate(-47 952.3 838.8)" fill="#F4F4F6" opacity="0.8"/><ellipse cx="952.3" cy="838.8" rx="8.8" ry="3.2" transform="rotate(-47 952.3 838.8)" fill="#8E7A78" stroke="#6A5050" stroke-width="0.6"/><ellipse cx="853.4" cy="816.1" rx="10.4" ry="6.0" transform="rotate(-45 853.4 816.1)" fill="#F4F4F6" opacity="0.8"/><ellipse cx="853.4" cy="816.1" rx="8.4" ry="4.0" transform="rotate(-45 853.4 816.1)" fill="#8E7A78" stroke="#6A5050" stroke-width="0.6"/><ellipse cx="881.8" cy="775.3" rx="10.3" ry="7.2" transform="rotate(-26 881.8 775.3)" fill="#F4F4F6" opacity="0.8"/><ellipse cx="881.8" cy="775.3" rx="8.3" ry="5.2" transform="rotate(-26 881.8 775.3)" fill="#8E7A78" stroke="#6A5050" stroke-width="0.6"/><ellipse cx="987.0" cy="768.9" rx="8.5" ry="5.4" transform="rotate(-21 987.0 768.9)" fill="#F4F4F6" opacity="0.8"/><ellipse cx="987.0" cy="768.9" rx="6.5" ry="3.4" transform="rotate(-21 987.0 768.9)" fill="#8E7A78" stroke="#6A5050" stroke-width="0.6"/><ellipse cx="866.6" cy="731.6" rx="7.7" ry="7.3" transform="rotate(-26 866.6 731.6)" fill="#F4F4F6" opacity="0.8"/><ellipse cx="866.6" cy="731.6" rx="5.7" ry="5.3" transform="rotate(-26 866.6 731.6)" fill="#8E7A78" stroke="#6A5050" stroke-width="0.6"/><ellipse cx="892.6" cy="823.5" rx="11.3" ry="5.8" transform="rotate(-52 892.6 823.5)" fill="#F4F4F6" opacity="0.8"/><ellipse cx="892.6" cy="823.5" rx="9.3" ry="3.8" transform="rotate(-52 892.6 823.5)" fill="#8E7A78" stroke="#6A5050" stroke-width="0.6"/><ellipse cx="970.3" cy="760.3" rx="6.7" ry="7.2" transform="rotate(-42 970.3 760.3)" fill="#F4F4F6" opacity="0.8"/><ellipse cx="970.3" cy="760.3" rx="4.7" ry="5.2" transform="rotate(-42 970.3 760.3)" fill="#8E7A78" stroke="#6A5050" stroke-width="0.6"/><ellipse cx="904.3" cy="789.6" rx="7.5" ry="4.6" transform="rotate(-44 904.3 789.6)" fill="#F4F4F6" opacity="0.8"/><ellipse cx="904.3" cy="789.6" rx="5.5" ry="2.6" transform="rotate(-44 904.3 789.6)" fill="#8E7A78" stroke="#6A5050" stroke-width="0.6"/><ellipse cx="901.1" cy="712.2" rx="8.2" ry="6.8" transform="rotate(-47 901.1 712.2)" fill="#F4F4F6" opacity="0.8"/><ellipse cx="901.1" cy="712.2" rx="6.2" ry="4.8" transform="rotate(-47 901.1 712.2)" fill="#8E7A78" stroke="#6A5050" stroke-width="0.6"/><ellipse cx="953.9" cy="793.5" rx="7.1" ry="4.6" transform="rotate(-33 953.9 793.5)" fill="#F4F4F6" opacity="0.8"/><ellipse cx="953.9" cy="793.5" rx="5.1" ry="2.6" transform="rotate(-33 953.9 793.5)" fill="#8E7A78" stroke="#6A5050" stroke-width="0.6"/><ellipse cx="941.8" cy="749.6" rx="7.2" ry="7.1" transform="rotate(-24 941.8 749.6)" fill="#F4F4F6" opacity="0.8"/><ellipse cx="941.8" cy="749.6" rx="5.2" ry="5.1" transform="rotate(-24 941.8 749.6)" fill="#8E7A78" stroke="#6A5050" stroke-width="0.6"/><ellipse cx="875.4" cy="788.3" rx="9.4" ry="5.5" transform="rotate(-59 875.4 788.3)" fill="#F4F4F6" opacity="0.8"/><ellipse cx="875.4" cy="788.3" rx="7.4" ry="3.5" transform="rotate(-59 875.4 788.3)" fill="#8E7A78" stroke="#6A5050" stroke-width="0.6"/><ellipse cx="891.6" cy="796.1" rx="9.6" ry="6.0" transform="rotate(-55 891.6 796.1)" fill="#F4F4F6" opacity="0.8"/><ellipse cx="891.6" cy="796.1" rx="7.6" ry="4.0" transform="rotate(-55 891.6 796.1)" fill="#8E7A78" stroke="#6A5050" stroke-width="0.6"/><ellipse cx="871.8" cy="752.0" rx="8.5" ry="5.6" transform="rotate(-24 871.8 752.0)" fill="#F4F4F6" opacity="0.8"/><ellipse cx="871.8" cy="752.0" rx="6.5" ry="3.6" transform="rotate(-24 871.8 752.0)" fill="#8E7A78" stroke="#6A5050" stroke-width="0.6"/><ellipse cx="854.7" cy="841.4" rx="7.4" ry="7.1" transform="rotate(-50 854.7 841.4)" fill="#F4F4F6" opacity="0.8"/><ellipse cx="854.7" cy="841.4" rx="5.4" ry="5.1" transform="rotate(-50 854.7 841.4)" fill="#8E7A78" stroke="#6A5050" stroke-width="0.6"/><ellipse cx="937.7" cy="760.7" rx="6.2" ry="6.9" transform="rotate(-28 937.7 760.7)" fill="#F4F4F6" opacity="0.8"/><ellipse cx="937.7" cy="760.7" rx="4.2" ry="4.9" transform="rotate(-28 937.7 760.7)" fill="#8E7A78" stroke="#6A5050" stroke-width="0.6"/><ellipse cx="881.7" cy="813.5" rx="8.9" ry="7.5" transform="rotate(-58 881.7 813.5)" fill="#F4F4F6" opacity="0.8"/><ellipse cx="881.7" cy="813.5" rx="6.9" ry="5.5" transform="rotate(-58 881.7 813.5)" fill="#8E7A78" stroke="#6A5050" stroke-width="0.6"/><ellipse cx="901.2" cy="740.9" rx="9.7" ry="6.8" transform="rotate(-26 901.2 740.9)" fill="#F4F4F6" opacity="0.8"/><ellipse cx="901.2" cy="740.9" rx="7.7" ry="4.8" transform="rotate(-26 901.2 740.9)" fill="#8E7A78" stroke="#6A5050" stroke-width="0.6"/><ellipse cx="930.8" cy="762.0" rx="10.8" ry="4.8" transform="rotate(-50 930.8 762.0)" fill="#F4F4F6" opacity="0.8"/><ellipse cx="930.8" cy="762.0" rx="8.8" ry="2.8" transform="rotate(-50 930.8 762.0)" fill="#8E7A78" stroke="#6A5050" stroke-width="0.6"/><ellipse cx="966.8" cy="769.1" rx="12.0" ry="4.8" transform="rotate(-42 966.8 769.1)" fill="#F4F4F6" opacity="0.8"/><ellipse cx="966.8" cy="769.1" rx="10.0" ry="2.8" transform="rotate(-42 966.8 769.1)" fill="#8E7A78" stroke="#6A5050" stroke-width="0.6"/><ellipse cx="871.7" cy="711.0" rx="6.6" ry="4.8" transform="rotate(-45 871.7 711.0)" fill="#F4F4F6" opacity="0.8"/><ellipse cx="871.7" cy="711.0" rx="4.6" ry="2.8" transform="rotate(-45 871.7 711.0)" fill="#8E7A78" stroke="#6A5050" stroke-width="0.6"/><ellipse cx="910.4" cy="778.0" rx="7.7" ry="6.6" transform="rotate(-39 910.4 778.0)" fill="#F4F4F6" opacity="0.8"/><ellipse cx="910.4" cy="778.0" rx="5.7" ry="4.6" transform="rotate(-39 910.4 778.0)" fill="#8E7A78" stroke="#6A5050" stroke-width="0.6"/><ellipse cx="1007.1" cy="733.1" rx="9.1" ry="6.0" transform="rotate(-45 1007.1 733.1)" fill="#F4F4F6" opacity="0.8"/><ellipse cx="1007.1" cy="733.1" rx="7.1" ry="4.0" transform="rotate(-45 1007.1 733.1)" fill="#8E7A78" stroke="#6A5050" stroke-width="0.6"/><ellipse cx="985.9" cy="738.5" rx="11.3" ry="5.6" transform="rotate(-47 985.9 738.5)" fill="#F4F4F6" opacity="0.8"/><ellipse cx="985.9" cy="738.5" rx="9.3" ry="3.6" transform="rotate(-47 985.9 738.5)" fill="#8E7A78" stroke="#6A5050" stroke-width="0.6"/><ellipse cx="942.5" cy="785.3" rx="7.7" ry="4.8" transform="rotate(-22 942.5 785.3)" fill="#F4F4F6" opacity="0.8"/><ellipse cx="942.5" cy="785.3" rx="5.7" ry="2.8" transform="rotate(-22 942.5 785.3)" fill="#8E7A78" stroke="#6A5050" stroke-width="0.6"/><ellipse cx="899.3" cy="725.9" rx="9.9" ry="6.1" transform="rotate(-47 899.3 725.9)" fill="#F4F4F6" opacity="0.8"/><ellipse cx="899.3" cy="725.9" rx="7.9" ry="4.1" transform="rotate(-47 899.3 725.9)" fill="#8E7A78" stroke="#6A5050" stroke-width="0.6"/><ellipse cx="892.1" cy="822.7" rx="8.0" ry="5.8" transform="rotate(-22 892.1 822.7)" fill="#F4F4F6" opacity="0.8"/><ellipse cx="892.1" cy="822.7" rx="6.0" ry="3.8" transform="rotate(-22 892.1 822.7)" fill="#8E7A78" stroke="#6A5050" stroke-width="0.6"/><ellipse cx="897.8" cy="764.0" rx="7.0" ry="6.5" transform="rotate(-33 897.8 764.0)" fill="#F4F4F6" opacity="0.8"/><ellipse cx="897.8" cy="764.0" rx="5.0" ry="4.5" transform="rotate(-33 897.8 764.0)" fill="#8E7A78" stroke="#6A5050" stroke-width="0.6"/><ellipse cx="912.9" cy="764.5" rx="7.4" ry="6.9" transform="rotate(-42 912.9 764.5)" fill="#F4F4F6" opacity="0.8"/><ellipse cx="912.9" cy="764.5" rx="5.4" ry="4.9" transform="rotate(-42 912.9 764.5)" fill="#8E7A78" stroke="#6A5050" stroke-width="0.6"/><ellipse cx="980.7" cy="760.4" rx="10.4" ry="4.6" transform="rotate(-51 980.7 760.4)" fill="#F4F4F6" opacity="0.8"/><ellipse cx="980.7" cy="760.4" rx="8.4" ry="2.6" transform="rotate(-51 980.7 760.4)" fill="#8E7A78" stroke="#6A5050" stroke-width="0.6"/><ellipse cx="1003.4" cy="801.1" rx="10.1" ry="6.0" transform="rotate(-41 1003.4 801.1)" fill="#F4F4F6" opacity="0.8"/><ellipse cx="1003.4" cy="801.1" rx="8.1" ry="4.0" transform="rotate(-41 1003.4 801.1)" fill="#8E7A78" stroke="#6A5050" stroke-width="0.6"/><ellipse cx="869.1" cy="733.6" rx="9.9" ry="6.6" transform="rotate(-50 869.1 733.6)" fill="#F4F4F6" opacity="0.8"/><ellipse cx="869.1" cy="733.6" rx="7.9" ry="4.6" transform="rotate(-50 869.1 733.6)" fill="#8E7A78" stroke="#6A5050" stroke-width="0.6"/><ellipse cx="947.7" cy="728.7" rx="9.7" ry="5.0" transform="rotate(-40 947.7 728.7)" fill="#F4F4F6" opacity="0.8"/><ellipse cx="947.7" cy="728.7" rx="7.7" ry="3.0" transform="rotate(-40 947.7 728.7)" fill="#8E7A78" stroke="#6A5050" stroke-width="0.6"/><ellipse cx="889.6" cy="783.7" rx="6.8" ry="6.0" transform="rotate(-35 889.6 783.7)" fill="#F4F4F6" opacity="0.8"/><ellipse cx="889.6" cy="783.7" rx="4.8" ry="4.0" transform="rotate(-35 889.6 783.7)" fill="#8E7A78" stroke="#6A5050" stroke-width="0.6"/><ellipse cx="858.0" cy="751.6" rx="10.1" ry="6.1" transform="rotate(-35 858.0 751.6)" fill="#F4F4F6" opacity="0.8"/><ellipse cx="858.0" cy="751.6" rx="8.1" ry="4.1" transform="rotate(-35 858.0 751.6)" fill="#8E7A78" stroke="#6A5050" stroke-width="0.6"/><ellipse cx="971.6" cy="786.4" rx="7.3" ry="5.8" transform="rotate(-27 971.6 786.4)" fill="#F4F4F6" opacity="0.8"/><ellipse cx="971.6" cy="786.4" rx="5.3" ry="3.8" transform="rotate(-27 971.6 786.4)" fill="#8E7A78" stroke="#6A5050" stroke-width="0.6"/><ellipse cx="934.0" cy="810.5" rx="8.2" ry="5.8" transform="rotate(-21 934.0 810.5)" fill="#F4F4F6" opacity="0.8"/><ellipse cx="934.0" cy="810.5" rx="6.2" ry="3.8" transform="rotate(-21 934.0 810.5)" fill="#8E7A78" stroke="#6A5050" stroke-width="0.6"/><ellipse cx="979.0" cy="797.2" rx="6.6" ry="6.3" transform="rotate(-59 979.0 797.2)" fill="#F4F4F6" opacity="0.8"/><ellipse cx="979.0" cy="797.2" rx="4.6" ry="4.3" transform="rotate(-59 979.0 797.2)" fill="#8E7A78" stroke="#6A5050" stroke-width="0.6"/><ellipse cx="998.7" cy="839.5" rx="10.4" ry="5.3" transform="rotate(-26 998.7 839.5)" fill="#F4F4F6" opacity="0.8"/><ellipse cx="998.7" cy="839.5" rx="8.4" ry="3.3" transform="rotate(-26 998.7 839.5)" fill="#8E7A78" stroke="#6A5050" stroke-width="0.6"/><ellipse cx="865.5" cy="820.4" rx="9.1" ry="4.5" transform="rotate(-24 865.5 820.4)" fill="#F4F4F6" opacity="0.8"/><ellipse cx="865.5" cy="820.4" rx="7.1" ry="2.5" transform="rotate(-24 865.5 820.4)" fill="#8E7A78" stroke="#6A5050" stroke-width="0.6"/><ellipse cx="911.7" cy="820.7" rx="10.1" ry="6.1" transform="rotate(-26 911.7 820.7)" fill="#F4F4F6" opacity="0.8"/><ellipse cx="911.7" cy="820.7" rx="8.1" ry="4.1" transform="rotate(-26 911.7 820.7)" fill="#8E7A78" stroke="#6A5050" stroke-width="0.6"/><ellipse cx="870.0" cy="829.8" rx="8.0" ry="4.6" transform="rotate(-47 870.0 829.8)" fill="#F4F4F6" opacity="0.8"/><ellipse cx="870.0" cy="829.8" rx="6.0" ry="2.6" transform="rotate(-47 870.0 829.8)" fill="#8E7A78" stroke="#6A5050" stroke-width="0.6"/><ellipse cx="845.9" cy="720.3" rx="9.7" ry="4.9" transform="rotate(-54 845.9 720.3)" fill="#F4F4F6" opacity="0.8"/><ellipse cx="845.9" cy="720.3" rx="7.7" ry="2.9" transform="rotate(-54 845.9 720.3)" fill="#8E7A78" stroke="#6A5050" stroke-width="0.6"/><ellipse cx="885.8" cy="747.6" rx="11.5" ry="7.2" transform="rotate(-25 885.8 747.6)" fill="#F4F4F6" opacity="0.8"/><ellipse cx="885.8" cy="747.6" rx="9.5" ry="5.2" transform="rotate(-25 885.8 747.6)" fill="#8E7A78" stroke="#6A5050" stroke-width="0.6"/><ellipse cx="1008.5" cy="769.0" rx="10.8" ry="5.3" transform="rotate(-23 1008.5 769.0)" fill="#F4F4F6" opacity="0.8"/><ellipse cx="1008.5" cy="769.0" rx="8.8" ry="3.3" transform="rotate(-23 1008.5 769.0)" fill="#8E7A78" stroke="#6A5050" stroke-width="0.6"/><ellipse cx="977.0" cy="807.7" rx="7.4" ry="4.8" transform="rotate(-23 977.0 807.7)" fill="#F4F4F6" opacity="0.8"/><ellipse cx="977.0" cy="807.7" rx="5.4" ry="2.8" transform="rotate(-23 977.0 807.7)" fill="#8E7A78" stroke="#6A5050" stroke-width="0.6"/><ellipse cx="931.5" cy="791.8" rx="11.2" ry="4.9" transform="rotate(-32 931.5 791.8)" fill="#F4F4F6" opacity="0.8"/><ellipse cx="931.5" cy="791.8" rx="9.2" ry="2.9" transform="rotate(-32 931.5 791.8)" fill="#8E7A78" stroke="#6A5050" stroke-width="0.6"/><ellipse cx="916.0" cy="814.9" rx="8.7" ry="5.1" transform="rotate(-22 916.0 814.9)" fill="#F4F4F6" opacity="0.8"/><ellipse cx="916.0" cy="814.9" rx="6.7" ry="3.1" transform="rotate(-22 916.0 814.9)" fill="#8E7A78" stroke="#6A5050" stroke-width="0.6"/><ellipse cx="883.8" cy="809.4" rx="11.0" ry="5.2" transform="rotate(-32 883.8 809.4)" fill="#F4F4F6" opacity="0.8"/><ellipse cx="883.8" cy="809.4" rx="9.0" ry="3.2" transform="rotate(-32 883.8 809.4)" fill="#8E7A78" stroke="#6A5050" stroke-width="0.6"/><ellipse cx="904.0" cy="740.4" rx="7.3" ry="7.4" transform="rotate(-45 904.0 740.4)" fill="#F4F4F6" opacity="0.8"/><ellipse cx="904.0" cy="740.4" rx="5.3" ry="5.4" transform="rotate(-45 904.0 740.4)" fill="#8E7A78" stroke="#6A5050" stroke-width="0.6"/><ellipse cx="924.0" cy="777.1" rx="6.2" ry="6.8" transform="rotate(-30 924.0 777.1)" fill="#F4F4F6" opacity="0.8"/><ellipse cx="924.0" cy="777.1" rx="4.2" ry="4.8" transform="rotate(-30 924.0 777.1)" fill="#8E7A78" stroke="#6A5050" stroke-width="0.6"/><ellipse cx="988.5" cy="758.0" rx="7.3" ry="5.5" transform="rotate(-31 988.5 758.0)" fill="#F4F4F6" opacity="0.8"/><ellipse cx="988.5" cy="758.0" rx="5.3" ry="3.5" transform="rotate(-31 988.5 758.0)" fill="#8E7A78" stroke="#6A5050" stroke-width="0.6"/><ellipse cx="950.1" cy="764.5" rx="9.1" ry="5.0" transform="rotate(-23 950.1 764.5)" fill="#F4F4F6" opacity="0.8"/><ellipse cx="950.1" cy="764.5" rx="7.1" ry="3.0" transform="rotate(-23 950.1 764.5)" fill="#8E7A78" stroke="#6A5050" stroke-width="0.6"/><ellipse cx="917.3" cy="777.9" rx="10.7" ry="5.1" transform="rotate(-31 917.3 777.9)" fill="#F4F4F6" opacity="0.8"/><ellipse cx="917.3" cy="777.9" rx="8.7" ry="3.1" transform="rotate(-31 917.3 777.9)" fill="#8E7A78" stroke="#6A5050" stroke-width="0.6"/><ellipse cx="896.5" cy="818.3" rx="6.6" ry="5.3" transform="rotate(-35 896.5 818.3)" fill="#F4F4F6" opacity="0.8"/><ellipse cx="896.5" cy="818.3" rx="4.6" ry="3.3" transform="rotate(-35 896.5 818.3)" fill="#8E7A78" stroke="#6A5050" stroke-width="0.6"/><ellipse cx="919.2" cy="760.6" rx="9.5" ry="5.2" transform="rotate(-43 919.2 760.6)" fill="#F4F4F6" opacity="0.8"/><ellipse cx="919.2" cy="760.6" rx="7.5" ry="3.2" transform="rotate(-43 919.2 760.6)" fill="#8E7A78" stroke="#6A5050" stroke-width="0.6"/><ellipse cx="834.6" cy="816.5" rx="7.5" ry="7.0" transform="rotate(-38 834.6 816.5)" fill="#F4F4F6" opacity="0.8"/><ellipse cx="834.6" cy="816.5" rx="5.5" ry="5.0" transform="rotate(-38 834.6 816.5)" fill="#8E7A78" stroke="#6A5050" stroke-width="0.6"/><ellipse cx="940.2" cy="793.6" rx="6.8" ry="6.8" transform="rotate(-48 940.2 793.6)" fill="#F4F4F6" opacity="0.8"/><ellipse cx="940.2" cy="793.6" rx="4.8" ry="4.8" transform="rotate(-48 940.2 793.6)" fill="#8E7A78" stroke="#6A5050" stroke-width="0.6"/><ellipse cx="986.1" cy="814.9" rx="10.1" ry="6.9" transform="rotate(-43 986.1 814.9)" fill="#F4F4F6" opacity="0.8"/><ellipse cx="986.1" cy="814.9" rx="8.1" ry="4.9" transform="rotate(-43 986.1 814.9)" fill="#8E7A78" stroke="#6A5050" stroke-width="0.6"/><ellipse cx="952.8" cy="836.9" rx="7.1" ry="4.8" transform="rotate(-44 952.8 836.9)" fill="#F4F4F6" opacity="0.8"/><ellipse cx="952.8" cy="836.9" rx="5.1" ry="2.8" transform="rotate(-44 952.8 836.9)" fill="#8E7A78" stroke="#6A5050" stroke-width="0.6"/><ellipse cx="924.0" cy="730.5" rx="7.3" ry="7.1" transform="rotate(-44 924.0 730.5)" fill="#F4F4F6" opacity="0.8"/><ellipse cx="924.0" cy="730.5" rx="5.3" ry="5.1" transform="rotate(-44 924.0 730.5)" fill="#8E7A78" stroke="#6A5050" stroke-width="0.6"/><ellipse cx="860.5" cy="734.9" rx="9.5" ry="5.1" transform="rotate(-41 860.5 734.9)" fill="#F4F4F6" opacity="0.8"/><ellipse cx="860.5" cy="734.9" rx="7.5" ry="3.1" transform="rotate(-41 860.5 734.9)" fill="#8E7A78" stroke="#6A5050" stroke-width="0.6"/><ellipse cx="928.9" cy="769.0" rx="9.0" ry="7.0" transform="rotate(-59 928.9 769.0)" fill="#F4F4F6" opacity="0.8"/><ellipse cx="928.9" cy="769.0" rx="7.0" ry="5.0" transform="rotate(-59 928.9 769.0)" fill="#8E7A78" stroke="#6A5050" stroke-width="0.6"/><ellipse cx="998.0" cy="737.1" rx="6.2" ry="6.8" transform="rotate(-37 998.0 737.1)" fill="#F4F4F6" opacity="0.8"/><ellipse cx="998.0" cy="737.1" rx="4.2" ry="4.8" transform="rotate(-37 998.0 737.1)" fill="#8E7A78" stroke="#6A5050" stroke-width="0.6"/><ellipse cx="929.0" cy="739.5" rx="10.7" ry="5.4" transform="rotate(-31 929.0 739.5)" fill="#F4F4F6" opacity="0.8"/><ellipse cx="929.0" cy="739.5" rx="8.7" ry="3.4" transform="rotate(-31 929.0 739.5)" fill="#8E7A78" stroke="#6A5050" stroke-width="0.6"/><ellipse cx="874.5" cy="786.6" rx="9.9" ry="5.6" transform="rotate(-41 874.5 786.6)" fill="#F4F4F6" opacity="0.8"/><ellipse cx="874.5" cy="786.6" rx="7.9" ry="3.6" transform="rotate(-41 874.5 786.6)" fill="#8E7A78" stroke="#6A5050" stroke-width="0.6"/><ellipse cx="845.8" cy="795.9" rx="10.1" ry="5.0" transform="rotate(-38 845.8 795.9)" fill="#F4F4F6" opacity="0.8"/><ellipse cx="845.8" cy="795.9" rx="8.1" ry="3.0" transform="rotate(-38 845.8 795.9)" fill="#8E7A78" stroke="#6A5050" stroke-width="0.6"/><ellipse cx="963.3" cy="724.1" rx="11.0" ry="7.1" transform="rotate(-58 963.3 724.1)" fill="#F4F4F6" opacity="0.8"/><ellipse cx="963.3" cy="724.1" rx="9.0" ry="5.1" transform="rotate(-58 963.3 724.1)" fill="#8E7A78" stroke="#6A5050" stroke-width="0.6"/><ellipse cx="878.0" cy="721.8" rx="7.5" ry="4.8" transform="rotate(-40 878.0 721.8)" fill="#F4F4F6" opacity="0.8"/><ellipse cx="878.0" cy="721.8" rx="5.5" ry="2.8" transform="rotate(-40 878.0 721.8)" fill="#8E7A78" stroke="#6A5050" stroke-width="0.6"/><ellipse cx="878.4" cy="750.5" rx="8.8" ry="5.6" transform="rotate(-28 878.4 750.5)" fill="#F4F4F6" opacity="0.8"/><ellipse cx="878.4" cy="750.5" rx="6.8" ry="3.6" transform="rotate(-28 878.4 750.5)" fill="#8E7A78" stroke="#6A5050" stroke-width="0.6"/><ellipse cx="961.5" cy="725.8" rx="7.3" ry="4.5" transform="rotate(-47 961.5 725.8)" fill="#F4F4F6" opacity="0.8"/><ellipse cx="961.5" cy="725.8" rx="5.3" ry="2.5" transform="rotate(-47 961.5 725.8)" fill="#8E7A78" stroke="#6A5050" stroke-width="0.6"/><ellipse cx="853.3" cy="803.1" rx="10.7" ry="7.5" transform="rotate(-52 853.3 803.1)" fill="#F4F4F6" opacity="0.8"/><ellipse cx="853.3" cy="803.1" rx="8.7" ry="5.5" transform="rotate(-52 853.3 803.1)" fill="#8E7A78" stroke="#6A5050" stroke-width="0.6"/><ellipse cx="840.8" cy="811.0" rx="8.5" ry="7.3" transform="rotate(-44 840.8 811.0)" fill="#F4F4F6" opacity="0.8"/><ellipse cx="840.8" cy="811.0" rx="6.5" ry="5.3" transform="rotate(-44 840.8 811.0)" fill="#8E7A78" stroke="#6A5050" stroke-width="0.6"/><ellipse cx="889.3" cy="720.3" rx="11.7" ry="6.0" transform="rotate(-42 889.3 720.3)" fill="#F4F4F6" opacity="0.8"/><ellipse cx="889.3" cy="720.3" rx="9.7" ry="4.0" transform="rotate(-42 889.3 720.3)" fill="#8E7A78" stroke="#6A5050" stroke-width="0.6"/><ellipse cx="911.2" cy="812.5" rx="11.0" ry="5.9" transform="rotate(-53 911.2 812.5)" fill="#F4F4F6" opacity="0.8"/><ellipse cx="911.2" cy="812.5" rx="9.0" ry="3.9" transform="rotate(-53 911.2 812.5)" fill="#8E7A78" stroke="#6A5050" stroke-width="0.6"/><ellipse cx="905.8" cy="828.8" rx="8.4" ry="6.5" transform="rotate(-38 905.8 828.8)" fill="#F4F4F6" opacity="0.8"/><ellipse cx="905.8" cy="828.8" rx="6.4" ry="4.5" transform="rotate(-38 905.8 828.8)" fill="#8E7A78" stroke="#6A5050" stroke-width="0.6"/><ellipse cx="915.5" cy="786.9" rx="7.5" ry="6.2" transform="rotate(-25 915.5 786.9)" fill="#F4F4F6" opacity="0.8"/><ellipse cx="915.5" cy="786.9" rx="5.5" ry="4.2" transform="rotate(-25 915.5 786.9)" fill="#8E7A78" stroke="#6A5050" stroke-width="0.6"/><ellipse cx="848.4" cy="759.6" rx="11.3" ry="7.4" transform="rotate(-59 848.4 759.6)" fill="#F4F4F6" opacity="0.8"/><ellipse cx="848.4" cy="759.6" rx="9.3" ry="5.4" transform="rotate(-59 848.4 759.6)" fill="#8E7A78" stroke="#6A5050" stroke-width="0.6"/><ellipse cx="944.7" cy="794.4" rx="11.1" ry="5.9" transform="rotate(-55 944.7 794.4)" fill="#F4F4F6" opacity="0.8"/><ellipse cx="944.7" cy="794.4" rx="9.1" ry="3.9" transform="rotate(-55 944.7 794.4)" fill="#8E7A78" stroke="#6A5050" stroke-width="0.6"/><ellipse cx="887.1" cy="805.1" rx="10.4" ry="5.1" transform="rotate(-34 887.1 805.1)" fill="#F4F4F6" opacity="0.8"/><ellipse cx="887.1" cy="805.1" rx="8.4" ry="3.1" transform="rotate(-34 887.1 805.1)" fill="#8E7A78" stroke="#6A5050" stroke-width="0.6"/><ellipse cx="949.9" cy="797.9" rx="6.1" ry="5.8" transform="rotate(-47 949.9 797.9)" fill="#F4F4F6" opacity="0.8"/><ellipse cx="949.9" cy="797.9" rx="4.1" ry="3.8" transform="rotate(-47 949.9 797.9)" fill="#8E7A78" stroke="#6A5050" stroke-width="0.6"/><ellipse cx="939.4" cy="755.3" rx="6.8" ry="6.5" transform="rotate(-49 939.4 755.3)" fill="#F4F4F6" opacity="0.8"/><ellipse cx="939.4" cy="755.3" rx="4.8" ry="4.5" transform="rotate(-49 939.4 755.3)" fill="#8E7A78" stroke="#6A5050" stroke-width="0.6"/><ellipse cx="973.5" cy="751.2" rx="9.3" ry="6.9" transform="rotate(-55 973.5 751.2)" fill="#F4F4F6" opacity="0.8"/><ellipse cx="973.5" cy="751.2" rx="7.3" ry="4.9" transform="rotate(-55 973.5 751.2)" fill="#8E7A78" stroke="#6A5050" stroke-width="0.6"/><ellipse cx="963.0" cy="719.7" rx="11.6" ry="4.6" transform="rotate(-31 963.0 719.7)" fill="#F4F4F6" opacity="0.8"/><ellipse cx="963.0" cy="719.7" rx="9.6" ry="2.6" transform="rotate(-31 963.0 719.7)" fill="#8E7A78" stroke="#6A5050" stroke-width="0.6"/><ellipse cx="899.2" cy="734.5" rx="8.4" ry="6.0" transform="rotate(-43 899.2 734.5)" fill="#F4F4F6" opacity="0.8"/><ellipse cx="899.2" cy="734.5" rx="6.4" ry="4.0" transform="rotate(-43 899.2 734.5)" fill="#8E7A78" stroke="#6A5050" stroke-width="0.6"/><ellipse cx="855.8" cy="780.0" rx="7.8" ry="7.4" transform="rotate(-45 855.8 780.0)" fill="#F4F4F6" opacity="0.8"/><ellipse cx="855.8" cy="780.0" rx="5.8" ry="5.4" transform="rotate(-45 855.8 780.0)" fill="#8E7A78" stroke="#6A5050" stroke-width="0.6"/><ellipse cx="910.9" cy="740.9" rx="11.8" ry="5.5" transform="rotate(-34 910.9 740.9)" fill="#F4F4F6" opacity="0.8"/><ellipse cx="910.9" cy="740.9" rx="9.8" ry="3.5" transform="rotate(-34 910.9 740.9)" fill="#8E7A78" stroke="#6A5050" stroke-width="0.6"/><ellipse cx="980.8" cy="762.8" rx="10.5" ry="5.3" transform="rotate(-56 980.8 762.8)" fill="#F4F4F6" opacity="0.8"/><ellipse cx="980.8" cy="762.8" rx="8.5" ry="3.3" transform="rotate(-56 980.8 762.8)" fill="#8E7A78" stroke="#6A5050" stroke-width="0.6"/><ellipse cx="841.7" cy="770.2" rx="11.2" ry="5.1" transform="rotate(-42 841.7 770.2)" fill="#F4F4F6" opacity="0.8"/><ellipse cx="841.7" cy="770.2" rx="9.2" ry="3.1" transform="rotate(-42 841.7 770.2)" fill="#8E7A78" stroke="#6A5050" stroke-width="0.6"/><ellipse cx="968.6" cy="747.3" rx="6.9" ry="6.1" transform="rotate(-43 968.6 747.3)" fill="#F4F4F6" opacity="0.8"/><ellipse cx="968.6" cy="747.3" rx="4.9" ry="4.1" transform="rotate(-43 968.6 747.3)" fill="#8E7A78" stroke="#6A5050" stroke-width="0.6"/><ellipse cx="999.5" cy="829.6" rx="7.4" ry="6.2" transform="rotate(-43 999.5 829.6)" fill="#F4F4F6" opacity="0.8"/><ellipse cx="999.5" cy="829.6" rx="5.4" ry="4.2" transform="rotate(-43 999.5 829.6)" fill="#8E7A78" stroke="#6A5050" stroke-width="0.6"/><ellipse cx="840.3" cy="769.6" rx="11.5" ry="5.4" transform="rotate(-37 840.3 769.6)" fill="#F4F4F6" opacity="0.8"/><ellipse cx="840.3" cy="769.6" rx="9.5" ry="3.4" transform="rotate(-37 840.3 769.6)" fill="#8E7A78" stroke="#6A5050" stroke-width="0.6"/><ellipse cx="959.3" cy="719.1" rx="11.5" ry="4.8" transform="rotate(-48 959.3 719.1)" fill="#F4F4F6" opacity="0.8"/><ellipse cx="959.3" cy="719.1" rx="9.5" ry="2.8" transform="rotate(-48 959.3 719.1)" fill="#8E7A78" stroke="#6A5050" stroke-width="0.6"/><ellipse cx="960.3" cy="713.3" rx="8.3" ry="4.9" transform="rotate(-41 960.3 713.3)" fill="#F4F4F6" opacity="0.8"/><ellipse cx="960.3" cy="713.3" rx="6.3" ry="2.9" transform="rotate(-41 960.3 713.3)" fill="#8E7A78" stroke="#6A5050" stroke-width="0.6"/><g opacity="0.8"><ellipse cx="837.1" cy="730.7" rx="1.4" ry="0.8" transform="rotate(-48 837.1 730.7)" fill="#3A3A70"/><ellipse cx="868.5" cy="779.3" rx="1.3" ry="1.2" transform="rotate(-40 868.5 779.3)" fill="#3A3A70"/><ellipse cx="878.6" cy="742.6" rx="2.0" ry="0.8" transform="rotate(-31 878.6 742.6)" fill="#3A3A70"/><ellipse cx="851.5" cy="835.9" rx="1.6" ry="1.1" transform="rotate(-28 851.5 835.9)" fill="#3A3A70"/><ellipse cx="852.0" cy="719.2" rx="1.9" ry="1.1" transform="rotate(-32 852.0 719.2)" fill="#3A3A70"/><ellipse cx="883.2" cy="776.5" rx="1.4" ry="1.0" transform="rotate(-43 883.2 776.5)" fill="#3A3A70"/><ellipse cx="937.4" cy="750.3" rx="1.5" ry="1.1" transform="rotate(-48 937.4 750.3)" fill="#3A3A70"/><ellipse cx="975.3" cy="776.4" rx="1.4" ry="0.9" transform="rotate(-37 975.3 776.4)" fill="#3A3A70"/><ellipse cx="923.0" cy="806.0" rx="1.6" ry="1.0" transform="rotate(-28 923.0 806.0)" fill="#3A3A70"/><ellipse cx="882.5" cy="840.7" rx="2.1" ry="1.3" transform="rotate(-26 882.5 840.7)" fill="#3A3A70"/><ellipse cx="879.6" cy="818.6" rx="1.8" ry="0.9" transform="rotate(-25 879.6 818.6)" fill="#3A3A70"/><ellipse cx="948.3" cy="818.0" rx="1.8" ry="0.8" transform="rotate(-28 948.3 818.0)" fill="#3A3A70"/><ellipse cx="865.2" cy="745.0" rx="1.8" ry="0.9" transform="rotate(-38 865.2 745.0)" fill="#3A3A70"/><ellipse cx="959.9" cy="723.4" rx="1.9" ry="0.9" transform="rotate(-38 959.9 723.4)" fill="#3A3A70"/><ellipse cx="948.6" cy="801.8" rx="1.2" ry="0.9" transform="rotate(-26 948.6 801.8)" fill="#3A3A70"/><ellipse cx="903.1" cy="767.0" rx="1.6" ry="1.1" transform="rotate(-31 903.1 767.0)" fill="#3A3A70"/><ellipse cx="948.7" cy="764.0" rx="1.8" ry="1.1" transform="rotate(-45 948.7 764.0)" fill="#3A3A70"/><ellipse cx="1001.4" cy="838.5" rx="2.0" ry="1.3" transform="rotate(-38 1001.4 838.5)" fill="#3A3A70"/><ellipse cx="982.0" cy="742.6" rx="1.9" ry="1.2" transform="rotate(-27 982.0 742.6)" fill="#3A3A70"/><ellipse cx="981.0" cy="827.2" rx="1.5" ry="1.2" transform="rotate(-38 981.0 827.2)" fill="#3A3A70"/><ellipse cx="889.3" cy="759.5" rx="2.0" ry="1.2" transform="rotate(-29 889.3 759.5)" fill="#3A3A70"/><ellipse cx="952.1" cy="733.3" rx="1.4" ry="1.1" transform="rotate(-45 952.1 733.3)" fill="#3A3A70"/><ellipse cx="893.5" cy="724.3" rx="1.4" ry="1.2" transform="rotate(-44 893.5 724.3)" fill="#3A3A70"/><ellipse cx="983.5" cy="754.3" rx="2.0" ry="1.0" transform="rotate(-43 983.5 754.3)" fill="#3A3A70"/><ellipse cx="903.8" cy="712.3" rx="1.6" ry="1.0" transform="rotate(-50 903.8 712.3)" fill="#3A3A70"/><ellipse cx="985.9" cy="760.4" rx="1.2" ry="1.3" transform="rotate(-44 985.9 760.4)" fill="#3A3A70"/><ellipse cx="878.8" cy="713.9" rx="1.3" ry="1.2" transform="rotate(-35 878.8 713.9)" fill="#3A3A70"/><ellipse cx="923.0" cy="743.3" rx="1.5" ry="1.3" transform="rotate(-41 923.0 743.3)" fill="#3A3A70"/><ellipse cx="1008.4" cy="828.2" rx="1.3" ry="1.2" transform="rotate(-49 1008.4 828.2)" fill="#3A3A70"/><ellipse cx="959.4" cy="818.0" rx="1.9" ry="1.1" transform="rotate(-30 959.4 818.0)" fill="#3A3A70"/><ellipse cx="861.5" cy="782.2" rx="1.5" ry="1.0" transform="rotate(-45 861.5 782.2)" fill="#3A3A70"/><ellipse cx="959.0" cy="786.6" rx="2.0" ry="1.1" transform="rotate(-35 959.0 786.6)" fill="#3A3A70"/><ellipse cx="996.6" cy="818.4" rx="1.8" ry="1.0" transform="rotate(-27 996.6 818.4)" fill="#3A3A70"/><ellipse cx="899.6" cy="724.2" rx="1.5" ry="1.2" transform="rotate(-27 899.6 724.2)" fill="#3A3A70"/><ellipse cx="947.9" cy="798.5" rx="2.1" ry="1.2" transform="rotate(-39 947.9 798.5)" fill="#3A3A70"/><ellipse cx="915.6" cy="811.4" rx="1.5" ry="0.9" transform="rotate(-35 915.6 811.4)" fill="#3A3A70"/><ellipse cx="976.7" cy="743.6" rx="1.9" ry="1.2" transform="rotate(-47 976.7 743.6)" fill="#3A3A70"/><ellipse cx="858.2" cy="776.0" rx="1.5" ry="1.3" transform="rotate(-25 858.2 776.0)" fill="#3A3A70"/><ellipse cx="912.7" cy="815.8" rx="1.8" ry="0.9" transform="rotate(-26 912.7 815.8)" fill="#3A3A70"/><ellipse cx="865.0" cy="720.8" rx="1.7" ry="0.8" transform="rotate(-38 865.0 720.8)" fill="#3A3A70"/><ellipse cx="906.8" cy="837.1" rx="1.6" ry="1.2" transform="rotate(-31 906.8 837.1)" fill="#3A3A70"/><ellipse cx="937.5" cy="742.2" rx="1.5" ry="1.0" transform="rotate(-40 937.5 742.2)" fill="#3A3A70"/><ellipse cx="947.9" cy="777.7" rx="1.5" ry="1.1" transform="rotate(-25 947.9 777.7)" fill="#3A3A70"/><ellipse cx="870.0" cy="755.2" rx="1.2" ry="0.8" transform="rotate(-49 870.0 755.2)" fill="#3A3A70"/><ellipse cx="908.7" cy="821.5" rx="1.9" ry="1.3" transform="rotate(-29 908.7 821.5)" fill="#3A3A70"/><ellipse cx="937.4" cy="787.6" rx="1.2" ry="1.0" transform="rotate(-43 937.4 787.6)" fill="#3A3A70"/><ellipse cx="943.5" cy="719.4" rx="1.7" ry="1.0" transform="rotate(-38 943.5 719.4)" fill="#3A3A70"/><ellipse cx="905.5" cy="724.2" rx="1.9" ry="1.2" transform="rotate(-35 905.5 724.2)" fill="#3A3A70"/><ellipse cx="854.7" cy="790.1" rx="2.1" ry="1.3" transform="rotate(-31 854.7 790.1)" fill="#3A3A70"/><ellipse cx="842.4" cy="827.1" rx="1.9" ry="0.9" transform="rotate(-27 842.4 827.1)" fill="#3A3A70"/><ellipse cx="979.7" cy="829.3" rx="1.4" ry="1.1" transform="rotate(-41 979.7 829.3)" fill="#3A3A70"/><ellipse cx="886.4" cy="811.6" rx="1.8" ry="1.0" transform="rotate(-36 886.4 811.6)" fill="#3A3A70"/><ellipse cx="997.7" cy="785.8" rx="2.1" ry="1.1" transform="rotate(-25 997.7 785.8)" fill="#3A3A70"/><ellipse cx="839.4" cy="771.6" rx="1.8" ry="1.2" transform="rotate(-26 839.4 771.6)" fill="#3A3A70"/><ellipse cx="944.0" cy="774.0" rx="1.8" ry="1.1" transform="rotate(-32 944.0 774.0)" fill="#3A3A70"/><ellipse cx="1001.0" cy="712.5" rx="1.5" ry="1.2" transform="rotate(-49 1001.0 712.5)" fill="#3A3A70"/><ellipse cx="973.4" cy="714.8" rx="1.8" ry="1.2" transform="rotate(-44 973.4 714.8)" fill="#3A3A70"/><ellipse cx="901.4" cy="740.7" rx="1.9" ry="1.1" transform="rotate(-35 901.4 740.7)" fill="#3A3A70"/><ellipse cx="891.6" cy="788.4" rx="2.2" ry="1.2" transform="rotate(-26 891.6 788.4)" fill="#3A3A70"/><ellipse cx="877.8" cy="779.1" rx="1.6" ry="1.0" transform="rotate(-30 877.8 779.1)" fill="#3A3A70"/><ellipse cx="865.1" cy="784.7" rx="2.0" ry="1.3" transform="rotate(-50 865.1 784.7)" fill="#3A3A70"/><ellipse cx="881.9" cy="776.0" rx="2.1" ry="0.9" transform="rotate(-29 881.9 776.0)" fill="#3A3A70"/><ellipse cx="904.2" cy="783.3" rx="2.1" ry="0.8" transform="rotate(-42 904.2 783.3)" fill="#3A3A70"/><ellipse cx="861.7" cy="728.4" rx="1.5" ry="1.2" transform="rotate(-35 861.7 728.4)" fill="#3A3A70"/><ellipse cx="855.7" cy="816.9" rx="1.7" ry="0.9" transform="rotate(-29 855.7 816.9)" fill="#3A3A70"/><ellipse cx="978.8" cy="739.4" rx="2.1" ry="1.2" transform="rotate(-44 978.8 739.4)" fill="#3A3A70"/><ellipse cx="834.5" cy="825.6" rx="2.0" ry="0.8" transform="rotate(-31 834.5 825.6)" fill="#3A3A70"/><ellipse cx="970.4" cy="794.7" rx="2.0" ry="1.3" transform="rotate(-42 970.4 794.7)" fill="#3A3A70"/><ellipse cx="981.1" cy="832.7" rx="1.5" ry="1.1" transform="rotate(-33 981.1 832.7)" fill="#3A3A70"/><ellipse cx="983.7" cy="785.8" rx="1.5" ry="0.9" transform="rotate(-36 983.7 785.8)" fill="#3A3A70"/><ellipse cx="858.1" cy="824.6" rx="2.1" ry="0.9" transform="rotate(-33 858.1 824.6)" fill="#3A3A70"/><ellipse cx="952.8" cy="726.8" rx="2.0" ry="1.2" transform="rotate(-42 952.8 726.8)" fill="#3A3A70"/><ellipse cx="851.6" cy="748.0" rx="2.0" ry="1.0" transform="rotate(-30 851.6 748.0)" fill="#3A3A70"/><ellipse cx="862.4" cy="724.8" rx="1.5" ry="1.2" transform="rotate(-46 862.4 724.8)" fill="#3A3A70"/><ellipse cx="847.2" cy="810.5" rx="1.3" ry="1.1" transform="rotate(-48 847.2 810.5)" fill="#3A3A70"/><ellipse cx="877.7" cy="798.6" rx="2.1" ry="1.0" transform="rotate(-39 877.7 798.6)" fill="#3A3A70"/><ellipse cx="839.8" cy="755.8" rx="1.4" ry="1.2" transform="rotate(-32 839.8 755.8)" fill="#3A3A70"/><ellipse cx="972.4" cy="781.2" rx="1.9" ry="0.9" transform="rotate(-40 972.4 781.2)" fill="#3A3A70"/><ellipse cx="885.9" cy="748.1" rx="1.9" ry="0.9" transform="rotate(-42 885.9 748.1)" fill="#3A3A70"/><ellipse cx="884.0" cy="825.2" rx="1.8" ry="1.0" transform="rotate(-41 884.0 825.2)" fill="#3A3A70"/><ellipse cx="996.5" cy="835.2" rx="1.6" ry="1.1" transform="rotate(-28 996.5 835.2)" fill="#3A3A70"/><ellipse cx="879.4" cy="745.0" rx="1.3" ry="1.1" transform="rotate(-31 879.4 745.0)" fill="#3A3A70"/><ellipse cx="861.9" cy="768.0" rx="2.2" ry="1.0" transform="rotate(-40 861.9 768.0)" fill="#3A3A70"/><ellipse cx="982.0" cy="828.9" rx="1.6" ry="0.9" transform="rotate(-34 982.0 828.9)" fill="#3A3A70"/><ellipse cx="964.6" cy="833.0" rx="1.9" ry="1.0" transform="rotate(-37 964.6 833.0)" fill="#3A3A70"/><ellipse cx="884.9" cy="769.8" rx="1.7" ry="1.3" transform="rotate(-27 884.9 769.8)" fill="#3A3A70"/><ellipse cx="997.3" cy="774.0" rx="2.2" ry="0.9" transform="rotate(-27 997.3 774.0)" fill="#3A3A70"/><ellipse cx="947.0" cy="826.3" rx="1.6" ry="1.3" transform="rotate(-49 947.0 826.3)" fill="#3A3A70"/><ellipse cx="983.5" cy="819.3" rx="1.6" ry="1.2" transform="rotate(-45 983.5 819.3)" fill="#3A3A70"/><ellipse cx="966.7" cy="772.8" rx="1.6" ry="0.9" transform="rotate(-30 966.7 772.8)" fill="#3A3A70"/><ellipse cx="962.9" cy="722.5" rx="2.2" ry="0.9" transform="rotate(-41 962.9 722.5)" fill="#3A3A70"/><ellipse cx="907.3" cy="787.1" rx="2.1" ry="1.3" transform="rotate(-34 907.3 787.1)" fill="#3A3A70"/><ellipse cx="898.6" cy="724.9" rx="1.3" ry="1.1" transform="rotate(-35 898.6 724.9)" fill="#3A3A70"/><ellipse cx="913.0" cy="840.9" rx="1.6" ry="1.0" transform="rotate(-40 913.0 840.9)" fill="#3A3A70"/><ellipse cx="864.5" cy="835.1" rx="1.8" ry="1.1" transform="rotate(-39 864.5 835.1)" fill="#3A3A70"/><ellipse cx="878.3" cy="752.5" rx="1.7" ry="1.0" transform="rotate(-26 878.3 752.5)" fill="#3A3A70"/><ellipse cx="933.4" cy="738.1" rx="1.3" ry="0.9" transform="rotate(-41 933.4 738.1)" fill="#3A3A70"/><ellipse cx="972.0" cy="828.5" rx="1.4" ry="1.2" transform="rotate(-39 972.0 828.5)" fill="#3A3A70"/><ellipse cx="928.9" cy="781.3" rx="1.2" ry="0.8" transform="rotate(-33 928.9 781.3)" fill="#3A3A70"/><ellipse cx="955.6" cy="761.1" rx="2.1" ry="1.2" transform="rotate(-42 955.6 761.1)" fill="#3A3A70"/><ellipse cx="846.1" cy="784.0" rx="1.9" ry="0.9" transform="rotate(-49 846.1 784.0)" fill="#3A3A70"/><ellipse cx="920.0" cy="715.2" rx="1.9" ry="1.1" transform="rotate(-43 920.0 715.2)" fill="#3A3A70"/><ellipse cx="912.7" cy="741.6" rx="1.4" ry="0.9" transform="rotate(-30 912.7 741.6)" fill="#3A3A70"/><ellipse cx="914.1" cy="805.5" rx="1.5" ry="1.2" transform="rotate(-35 914.1 805.5)" fill="#3A3A70"/><ellipse cx="949.4" cy="762.7" rx="1.8" ry="0.9" transform="rotate(-26 949.4 762.7)" fill="#3A3A70"/><ellipse cx="952.6" cy="781.3" rx="1.8" ry="0.9" transform="rotate(-42 952.6 781.3)" fill="#3A3A70"/><ellipse cx="874.9" cy="822.4" rx="1.2" ry="1.0" transform="rotate(-28 874.9 822.4)" fill="#3A3A70"/><ellipse cx="972.0" cy="805.9" rx="1.5" ry="0.9" transform="rotate(-32 972.0 805.9)" fill="#3A3A70"/><ellipse cx="886.9" cy="806.5" rx="1.5" ry="1.2" transform="rotate(-36 886.9 806.5)" fill="#3A3A70"/><ellipse cx="977.8" cy="841.3" rx="1.6" ry="1.3" transform="rotate(-50 977.8 841.3)" fill="#3A3A70"/><ellipse cx="988.7" cy="714.6" rx="1.7" ry="1.0" transform="rotate(-31 988.7 714.6)" fill="#3A3A70"/><ellipse cx="889.7" cy="738.3" rx="2.0" ry="1.1" transform="rotate(-31 889.7 738.3)" fill="#3A3A70"/><ellipse cx="920.4" cy="715.5" rx="2.0" ry="0.9" transform="rotate(-38 920.4 715.5)" fill="#3A3A70"/><ellipse cx="834.4" cy="745.0" rx="1.9" ry="1.2" transform="rotate(-34 834.4 745.0)" fill="#3A3A70"/><ellipse cx="912.3" cy="807.8" rx="1.9" ry="0.9" transform="rotate(-37 912.3 807.8)" fill="#3A3A70"/><ellipse cx="939.5" cy="807.3" rx="1.4" ry="1.0" transform="rotate(-41 939.5 807.3)" fill="#3A3A70"/><ellipse cx="851.2" cy="756.9" rx="1.9" ry="1.1" transform="rotate(-46 851.2 756.9)" fill="#3A3A70"/><ellipse cx="963.1" cy="726.2" rx="2.0" ry="0.9" transform="rotate(-48 963.1 726.2)" fill="#3A3A70"/><ellipse cx="878.6" cy="778.9" rx="1.5" ry="1.2" transform="rotate(-27 878.6 778.9)" fill="#3A3A70"/><ellipse cx="884.2" cy="810.1" rx="1.9" ry="1.1" transform="rotate(-44 884.2 810.1)" fill="#3A3A70"/><ellipse cx="1001.4" cy="837.4" rx="1.2" ry="1.0" transform="rotate(-42 1001.4 837.4)" fill="#3A3A70"/><ellipse cx="869.2" cy="767.7" rx="2.1" ry="0.8" transform="rotate(-29 869.2 767.7)" fill="#3A3A70"/><ellipse cx="888.7" cy="712.5" rx="2.1" ry="0.9" transform="rotate(-45 888.7 712.5)" fill="#3A3A70"/><ellipse cx="854.8" cy="759.4" rx="1.3" ry="0.9" transform="rotate(-44 854.8 759.4)" fill="#3A3A70"/><ellipse cx="936.1" cy="769.8" rx="1.5" ry="1.1" transform="rotate(-31 936.1 769.8)" fill="#3A3A70"/><ellipse cx="961.7" cy="756.2" rx="2.1" ry="1.2" transform="rotate(-36 961.7 756.2)" fill="#3A3A70"/><ellipse cx="918.0" cy="754.4" rx="1.3" ry="1.2" transform="rotate(-35 918.0 754.4)" fill="#3A3A70"/><ellipse cx="851.7" cy="833.3" rx="2.1" ry="0.8" transform="rotate(-32 851.7 833.3)" fill="#3A3A70"/><ellipse cx="876.2" cy="781.7" rx="2.0" ry="1.0" transform="rotate(-38 876.2 781.7)" fill="#3A3A70"/><ellipse cx="951.4" cy="736.2" rx="1.8" ry="1.0" transform="rotate(-25 951.4 736.2)" fill="#3A3A70"/><ellipse cx="867.3" cy="804.9" rx="1.2" ry="0.9" transform="rotate(-47 867.3 804.9)" fill="#3A3A70"/><ellipse cx="860.5" cy="780.7" rx="1.4" ry="1.2" transform="rotate(-48 860.5 780.7)" fill="#3A3A70"/><ellipse cx="943.9" cy="824.8" rx="1.3" ry="0.9" transform="rotate(-31 943.9 824.8)" fill="#3A3A70"/><ellipse cx="917.1" cy="834.2" rx="1.5" ry="1.0" transform="rotate(-26 917.1 834.2)" fill="#3A3A70"/><ellipse cx="894.8" cy="838.7" rx="2.1" ry="0.9" transform="rotate(-36 894.8 838.7)" fill="#3A3A70"/><ellipse cx="1000.0" cy="726.3" rx="2.0" ry="1.2" transform="rotate(-31 1000.0 726.3)" fill="#3A3A70"/><ellipse cx="940.0" cy="723.9" rx="2.2" ry="0.9" transform="rotate(-30 940.0 723.9)" fill="#3A3A70"/><ellipse cx="961.6" cy="752.8" rx="1.9" ry="1.0" transform="rotate(-31 961.6 752.8)" fill="#3A3A70"/><ellipse cx="841.9" cy="834.4" rx="1.6" ry="1.2" transform="rotate(-38 841.9 834.4)" fill="#3A3A70"/><ellipse cx="977.3" cy="750.6" rx="1.7" ry="0.8" transform="rotate(-38 977.3 750.6)" fill="#3A3A70"/><ellipse cx="848.2" cy="824.5" rx="1.9" ry="1.0" transform="rotate(-26 848.2 824.5)" fill="#3A3A70"/><ellipse cx="1000.9" cy="837.5" rx="1.3" ry="1.2" transform="rotate(-32 1000.9 837.5)" fill="#3A3A70"/><ellipse cx="940.9" cy="712.8" rx="2.1" ry="1.0" transform="rotate(-35 940.9 712.8)" fill="#3A3A70"/><ellipse cx="977.7" cy="747.2" rx="1.2" ry="1.3" transform="rotate(-43 977.7 747.2)" fill="#3A3A70"/><ellipse cx="841.5" cy="728.8" rx="2.2" ry="1.2" transform="rotate(-45 841.5 728.8)" fill="#3A3A70"/><ellipse cx="860.1" cy="829.6" rx="1.9" ry="1.1" transform="rotate(-47 860.1 829.6)" fill="#3A3A70"/><ellipse cx="907.0" cy="836.1" rx="1.2" ry="1.0" transform="rotate(-49 907.0 836.1)" fill="#3A3A70"/><ellipse cx="1009.9" cy="724.5" rx="2.2" ry="1.2" transform="rotate(-32 1009.9 724.5)" fill="#3A3A70"/><ellipse cx="841.7" cy="802.8" rx="1.7" ry="1.0" transform="rotate(-46 841.7 802.8)" fill="#3A3A70"/><ellipse cx="924.5" cy="817.0" rx="1.3" ry="1.2" transform="rotate(-40 924.5 817.0)" fill="#3A3A70"/><ellipse cx="881.1" cy="742.4" rx="1.7" ry="1.1" transform="rotate(-36 881.1 742.4)" fill="#3A3A70"/><ellipse cx="990.9" cy="778.5" rx="1.7" ry="1.3" transform="rotate(-45 990.9 778.5)" fill="#3A3A70"/><ellipse cx="837.2" cy="754.2" rx="1.5" ry="0.9" transform="rotate(-40 837.2 754.2)" fill="#3A3A70"/><ellipse cx="840.4" cy="832.7" rx="1.7" ry="1.2" transform="rotate(-33 840.4 832.7)" fill="#3A3A70"/><ellipse cx="962.8" cy="811.2" rx="1.5" ry="1.2" transform="rotate(-45 962.8 811.2)" fill="#3A3A70"/><ellipse cx="932.0" cy="789.6" rx="2.0" ry="0.9" transform="rotate(-41 932.0 789.6)" fill="#3A3A70"/><ellipse cx="979.4" cy="817.3" rx="2.2" ry="0.9" transform="rotate(-45 979.4 817.3)" fill="#3A3A70"/><ellipse cx="853.1" cy="806.6" rx="1.9" ry="1.1" transform="rotate(-31 853.1 806.6)" fill="#3A3A70"/><ellipse cx="925.1" cy="785.2" rx="2.1" ry="1.1" transform="rotate(-34 925.1 785.2)" fill="#3A3A70"/><ellipse cx="937.9" cy="776.1" rx="2.0" ry="1.1" transform="rotate(-47 937.9 776.1)" fill="#3A3A70"/></g><rect x="834.3" y="710.7" width="176" height="132.5" filter="url(#nz18)" opacity="0.6"/><rect x="834.3" y="710.7" width="176" height="132.5" filter="url(#nz19)" opacity="0.5"/>
</g>
<defs><clipPath id="in4mass"><path d="M1018 800 C1040 790 1070 792 1100 800 C1120 806 1150 815 1170 830 L1196 843 L1018 843 Z"/><path d="M1018 712 L1080 712 C1070 725 1050 735 1018 745 Z"/><path d="M1100 712 L1196 712 L1196 760 C1170 745 1140 728 1100 716 Z"/></clipPath><filter id="in4nz" x="0" y="0" width="1" height="1" color-interpolation-filters="sRGB"><feTurbulence type="fractalNoise" baseFrequency="0.09" numOctaves="3" seed="91"/><feColorMatrix type="matrix" values="0 0 0 0 0.78 0 0 0 0 0.40 0 0 0 0 0.17 6 0 0 0 -2.4"/></filter></defs>
<defs>
<filter id="nz22" x="0" y="0" width="1" height="1" color-interpolation-filters="sRGB"><feTurbulence type="fractalNoise" baseFrequency="0.1" numOctaves="3" seed="31"/><feColorMatrix type="matrix" values="0 0 0 0 0.784 0 0 0 0 0.431 0 0 0 0 0.235 5 0 0 0 -3.2"/></filter>
<filter id="nz23" x="0" y="0" width="1" height="1" color-interpolation-filters="sRGB"><feTurbulence type="fractalNoise" baseFrequency="0.3" numOctaves="3" seed="32"/><feColorMatrix type="matrix" values="0 0 0 0 0.882 0 0 0 0 0.824 0 0 0 0 0.765 3 0 0 0 -1.5"/></filter>
</defs>
<g clip-path="url(#cc8)">
<rect x="1018.8" y="710.7" width="177.2" height="132.5" fill="#F2EAE2"/>
<rect x="1018.8" y="710.7" width="177.2" height="132.5" filter="url(#nz22)"/>
<rect x="1018.8" y="710.7" width="177.2" height="132.5" filter="url(#nz23)"/>
<g clip-path="url(#in4mass)"><rect x="1018.8" y="710.7" width="177.2" height="132.5" filter="url(#in4nz)"/></g><ellipse cx="1094.3" cy="762.6" rx="6.6" ry="5.2" transform="rotate(-38 1094.3 762.6)" fill="#C0602A" stroke="#9A4418" stroke-width="0.8"/><ellipse cx="1093.8" cy="762.3" rx="2.0" ry="1.6" fill="#D99870"/><ellipse cx="1084.6" cy="810.7" rx="4.5" ry="3.1" transform="rotate(-17 1084.6 810.7)" fill="#C0602A" stroke="#9A4418" stroke-width="0.8"/><ellipse cx="1084.2" cy="810.6" rx="1.4" ry="0.9" fill="#D99870"/><ellipse cx="1123.7" cy="757.8" rx="5.4" ry="3.1" transform="rotate(-8 1123.7 757.8)" fill="#C0602A" stroke="#9A4418" stroke-width="0.8"/><ellipse cx="1125.4" cy="757.2" rx="1.6" ry="0.9" fill="#D99870"/><ellipse cx="1101.2" cy="754.0" rx="4.4" ry="6.6" transform="rotate(-10 1101.2 754.0)" fill="#C0602A" stroke="#9A4418" stroke-width="0.8"/><ellipse cx="1100.2" cy="753.3" rx="1.3" ry="2.0" fill="#D99870"/><ellipse cx="1142.5" cy="795.4" rx="6.8" ry="4.5" transform="rotate(-46 1142.5 795.4)" fill="#C0602A" stroke="#9A4418" stroke-width="0.8"/><ellipse cx="1143.7" cy="796.5" rx="2.0" ry="1.4" fill="#D99870"/><ellipse cx="1170.8" cy="735.7" rx="7.6" ry="6.9" transform="rotate(-17 1170.8 735.7)" fill="#C0602A" stroke="#9A4418" stroke-width="0.8"/><ellipse cx="1170.7" cy="734.6" rx="2.3" ry="2.1" fill="#D99870"/><ellipse cx="1029.5" cy="789.7" rx="4.4" ry="6.2" transform="rotate(-20 1029.5 789.7)" fill="#C0602A" stroke="#9A4418" stroke-width="0.8"/><ellipse cx="1029.4" cy="790.9" rx="1.3" ry="1.9" fill="#D99870"/><ellipse cx="1184.1" cy="779.7" rx="4.6" ry="5.4" transform="rotate(-35 1184.1 779.7)" fill="#C0602A" stroke="#9A4418" stroke-width="0.8"/><ellipse cx="1183.1" cy="780.9" rx="1.4" ry="1.6" fill="#D99870"/><ellipse cx="1148.2" cy="736.4" rx="5.4" ry="4.4" transform="rotate(-26 1148.2 736.4)" fill="#C0602A" stroke="#9A4418" stroke-width="0.8"/><ellipse cx="1147.5" cy="736.2" rx="1.6" ry="1.3" fill="#D99870"/><ellipse cx="1162.9" cy="741.6" rx="8.3" ry="4.3" transform="rotate(-3 1162.9 741.6)" fill="#C0602A" stroke="#9A4418" stroke-width="0.8"/><ellipse cx="1164.7" cy="741.1" rx="2.5" ry="1.3" fill="#D99870"/><ellipse cx="1126.2" cy="735.4" rx="6.5" ry="5.5" transform="rotate(-22 1126.2 735.4)" fill="#C0602A" stroke="#9A4418" stroke-width="0.8"/><ellipse cx="1125.6" cy="734.0" rx="1.9" ry="1.6" fill="#D99870"/><ellipse cx="1040.8" cy="774.7" rx="5.0" ry="4.2" transform="rotate(-23 1040.8 774.7)" fill="#C0602A" stroke="#9A4418" stroke-width="0.8"/><ellipse cx="1042.4" cy="774.8" rx="1.5" ry="1.3" fill="#D99870"/><ellipse cx="1063.9" cy="777.0" rx="5.7" ry="6.1" transform="rotate(-51 1063.9 777.0)" fill="#C0602A" stroke="#9A4418" stroke-width="0.8"/><ellipse cx="1063.0" cy="776.8" rx="1.7" ry="1.8" fill="#D99870"/><ellipse cx="1179.7" cy="740.2" rx="5.2" ry="3.5" transform="rotate(-47 1179.7 740.2)" fill="#C0602A" stroke="#9A4418" stroke-width="0.8"/><ellipse cx="1179.1" cy="739.9" rx="1.5" ry="1.1" fill="#D99870"/><ellipse cx="1153.4" cy="761.0" rx="6.9" ry="4.6" transform="rotate(-14 1153.4 761.0)" fill="#C0602A" stroke="#9A4418" stroke-width="0.8"/><ellipse cx="1155.0" cy="760.8" rx="2.1" ry="1.4" fill="#D99870"/><ellipse cx="1182.1" cy="747.6" rx="9.9" ry="5.1" transform="rotate(-19 1182.1 747.6)" fill="#C0602A" stroke="#9A4418" stroke-width="0.8"/><ellipse cx="1181.6" cy="746.9" rx="3.0" ry="1.5" fill="#D99870"/><ellipse cx="1042.7" cy="803.2" rx="6.2" ry="5.8" transform="rotate(-32 1042.7 803.2)" fill="#C0602A" stroke="#9A4418" stroke-width="0.8"/><ellipse cx="1042.9" cy="802.3" rx="1.8" ry="1.7" fill="#D99870"/><ellipse cx="1050.2" cy="755.1" rx="8.1" ry="5.2" transform="rotate(-60 1050.2 755.1)" fill="#C0602A" stroke="#9A4418" stroke-width="0.8"/><ellipse cx="1051.0" cy="754.9" rx="2.4" ry="1.6" fill="#D99870"/><ellipse cx="1031.0" cy="748.4" rx="5.3" ry="6.3" transform="rotate(-27 1031.0 748.4)" fill="#C0602A" stroke="#9A4418" stroke-width="0.8"/><ellipse cx="1030.3" cy="747.7" rx="1.6" ry="1.9" fill="#D99870"/><ellipse cx="1070.4" cy="750.2" rx="6.1" ry="6.2" transform="rotate(-13 1070.4 750.2)" fill="#C0602A" stroke="#9A4418" stroke-width="0.8"/><ellipse cx="1071.2" cy="751.4" rx="1.8" ry="1.8" fill="#D99870"/><ellipse cx="1134.7" cy="735.6" rx="4.3" ry="3.7" transform="rotate(-45 1134.7 735.6)" fill="#C0602A" stroke="#9A4418" stroke-width="0.8"/><ellipse cx="1134.8" cy="736.6" rx="1.3" ry="1.1" fill="#D99870"/><ellipse cx="1122.6" cy="763.3" rx="5.5" ry="6.9" transform="rotate(-15 1122.6 763.3)" fill="#C0602A" stroke="#9A4418" stroke-width="0.8"/><ellipse cx="1122.0" cy="761.9" rx="1.6" ry="2.1" fill="#D99870"/><ellipse cx="1192.8" cy="748.1" rx="9.1" ry="3.5" transform="rotate(-21 1192.8 748.1)" fill="#C0602A" stroke="#9A4418" stroke-width="0.8"/><ellipse cx="1192.2" cy="749.3" rx="2.7" ry="1.0" fill="#D99870"/><ellipse cx="1071.4" cy="734.5" rx="5.2" ry="6.2" transform="rotate(-1 1071.4 734.5)" fill="#C0602A" stroke="#9A4418" stroke-width="0.8"/><ellipse cx="1072.0" cy="735.1" rx="1.6" ry="1.9" fill="#D99870"/><ellipse cx="1068.8" cy="749.5" rx="4.5" ry="6.9" transform="rotate(-57 1068.8 749.5)" fill="#C0602A" stroke="#9A4418" stroke-width="0.8"/><ellipse cx="1069.2" cy="749.1" rx="1.4" ry="2.1" fill="#D99870"/><ellipse cx="1051.9" cy="763.9" rx="9.6" ry="4.0" transform="rotate(-50 1051.9 763.9)" fill="#C0602A" stroke="#9A4418" stroke-width="0.8"/><ellipse cx="1052.4" cy="764.3" rx="2.9" ry="1.2" fill="#D99870"/><ellipse cx="1109.3" cy="741.4" rx="9.2" ry="3.4" transform="rotate(-50 1109.3 741.4)" fill="#C0602A" stroke="#9A4418" stroke-width="0.8"/><ellipse cx="1108.3" cy="741.5" rx="2.8" ry="1.0" fill="#D99870"/><ellipse cx="1103.2" cy="774.1" rx="8.4" ry="6.6" transform="rotate(-32 1103.2 774.1)" fill="#C0602A" stroke="#9A4418" stroke-width="0.8"/><ellipse cx="1101.4" cy="775.1" rx="2.5" ry="2.0" fill="#D99870"/><ellipse cx="1022.1" cy="753.5" rx="4.9" ry="5.4" transform="rotate(-13 1022.1 753.5)" fill="#C0602A" stroke="#9A4418" stroke-width="0.8"/><ellipse cx="1020.6" cy="752.9" rx="1.5" ry="1.6" fill="#D99870"/><ellipse cx="1169.6" cy="786.0" rx="4.7" ry="5.7" transform="rotate(-12 1169.6 786.0)" fill="#C0602A" stroke="#9A4418" stroke-width="0.8"/><ellipse cx="1169.2" cy="785.0" rx="1.4" ry="1.7" fill="#D99870"/><ellipse cx="1135.6" cy="753.6" rx="4.8" ry="3.7" transform="rotate(-36 1135.6 753.6)" fill="#C0602A" stroke="#9A4418" stroke-width="0.8"/><ellipse cx="1134.1" cy="753.3" rx="1.4" ry="1.1" fill="#D99870"/><ellipse cx="1116.5" cy="774.0" rx="6.4" ry="6.2" transform="rotate(-55 1116.5 774.0)" fill="#C0602A" stroke="#9A4418" stroke-width="0.8"/><ellipse cx="1115.8" cy="775.3" rx="1.9" ry="1.9" fill="#D99870"/><ellipse cx="1172.0" cy="806.3" rx="8.6" ry="5.1" transform="rotate(-13 1172.0 806.3)" fill="#C0602A" stroke="#9A4418" stroke-width="0.8"/><ellipse cx="1172.2" cy="805.1" rx="2.6" ry="1.5" fill="#D99870"/><ellipse cx="1064.1" cy="734.2" rx="9.3" ry="4.3" transform="rotate(-36 1064.1 734.2)" fill="#C0602A" stroke="#9A4418" stroke-width="0.8"/><ellipse cx="1064.2" cy="733.0" rx="2.8" ry="1.3" fill="#D99870"/><ellipse cx="1143.9" cy="795.3" rx="8.8" ry="6.5" transform="rotate(-41 1143.9 795.3)" fill="#C0602A" stroke="#9A4418" stroke-width="0.8"/><ellipse cx="1142.5" cy="796.1" rx="2.6" ry="2.0" fill="#D99870"/><ellipse cx="1141.6" cy="758.2" rx="6.1" ry="3.6" transform="rotate(-10 1141.6 758.2)" fill="#C0602A" stroke="#9A4418" stroke-width="0.8"/><ellipse cx="1141.5" cy="759.1" rx="1.8" ry="1.1" fill="#D99870"/><ellipse cx="1079.0" cy="753.8" rx="7.1" ry="6.0" transform="rotate(-7 1079.0 753.8)" fill="#C0602A" stroke="#9A4418" stroke-width="0.8"/><ellipse cx="1078.4" cy="754.4" rx="2.1" ry="1.8" fill="#D99870"/><ellipse cx="1090.3" cy="801.1" rx="8.6" ry="5.2" transform="rotate(-38 1090.3 801.1)" fill="#C0602A" stroke="#9A4418" stroke-width="0.8"/><ellipse cx="1089.4" cy="802.2" rx="2.6" ry="1.6" fill="#D99870"/><ellipse cx="1160.7" cy="752.4" rx="4.5" ry="3.8" transform="rotate(-2 1160.7 752.4)" fill="#C0602A" stroke="#9A4418" stroke-width="0.8"/><ellipse cx="1158.9" cy="753.3" rx="1.4" ry="1.1" fill="#D99870"/><ellipse cx="1112.5" cy="774.2" rx="7.2" ry="4.6" transform="rotate(-27 1112.5 774.2)" fill="#C0602A" stroke="#9A4418" stroke-width="0.8"/><ellipse cx="1110.9" cy="775.4" rx="2.2" ry="1.4" fill="#D99870"/><g opacity="0.8"><ellipse cx="1037.0" cy="729.1" rx="1.7" ry="1.1" transform="rotate(145 1037.0 729.1)" fill="#4A5AA0"/><ellipse cx="1141.5" cy="834.0" rx="1.2" ry="0.8" transform="rotate(43 1141.5 834.0)" fill="#4A5AA0"/><ellipse cx="1156.8" cy="730.9" rx="1.6" ry="1.1" transform="rotate(28 1156.8 730.9)" fill="#4A5AA0"/><ellipse cx="1112.3" cy="830.0" rx="1.8" ry="1.0" transform="rotate(86 1112.3 830.0)" fill="#4A5AA0"/><ellipse cx="1068.0" cy="838.0" rx="1.8" ry="1.1" transform="rotate(55 1068.0 838.0)" fill="#4A5AA0"/><ellipse cx="1148.5" cy="775.2" rx="1.8" ry="0.9" transform="rotate(159 1148.5 775.2)" fill="#4A5AA0"/><ellipse cx="1140.1" cy="770.4" rx="1.7" ry="1.1" transform="rotate(95 1140.1 770.4)" fill="#4A5AA0"/><ellipse cx="1189.0" cy="711.7" rx="1.9" ry="1.1" transform="rotate(88 1189.0 711.7)" fill="#4A5AA0"/><ellipse cx="1169.4" cy="730.4" rx="1.5" ry="1.1" transform="rotate(148 1169.4 730.4)" fill="#4A5AA0"/><ellipse cx="1084.9" cy="842.4" rx="1.7" ry="0.8" transform="rotate(22 1084.9 842.4)" fill="#4A5AA0"/><ellipse cx="1032.3" cy="786.2" rx="1.5" ry="0.9" transform="rotate(81 1032.3 786.2)" fill="#4A5AA0"/><ellipse cx="1032.7" cy="831.1" rx="1.9" ry="1.0" transform="rotate(80 1032.7 831.1)" fill="#4A5AA0"/><ellipse cx="1073.4" cy="790.6" rx="1.5" ry="1.2" transform="rotate(172 1073.4 790.6)" fill="#4A5AA0"/><ellipse cx="1147.6" cy="820.1" rx="1.3" ry="0.8" transform="rotate(62 1147.6 820.1)" fill="#4A5AA0"/><ellipse cx="1041.2" cy="766.7" rx="2.0" ry="1.1" transform="rotate(173 1041.2 766.7)" fill="#4A5AA0"/><ellipse cx="1058.1" cy="740.1" rx="1.2" ry="0.9" transform="rotate(10 1058.1 740.1)" fill="#4A5AA0"/><ellipse cx="1112.4" cy="750.5" rx="1.7" ry="1.0" transform="rotate(108 1112.4 750.5)" fill="#4A5AA0"/><ellipse cx="1071.9" cy="808.1" rx="1.8" ry="1.1" transform="rotate(85 1071.9 808.1)" fill="#4A5AA0"/><ellipse cx="1101.0" cy="748.6" rx="1.2" ry="1.0" transform="rotate(111 1101.0 748.6)" fill="#4A5AA0"/><ellipse cx="1051.8" cy="824.7" rx="1.9" ry="1.1" transform="rotate(147 1051.8 824.7)" fill="#4A5AA0"/><ellipse cx="1105.3" cy="734.0" rx="1.4" ry="1.1" transform="rotate(177 1105.3 734.0)" fill="#4A5AA0"/><ellipse cx="1038.5" cy="711.5" rx="1.5" ry="0.9" transform="rotate(108 1038.5 711.5)" fill="#4A5AA0"/><ellipse cx="1038.7" cy="822.5" rx="1.5" ry="1.2" transform="rotate(59 1038.7 822.5)" fill="#4A5AA0"/><ellipse cx="1072.9" cy="734.0" rx="2.0" ry="1.0" transform="rotate(149 1072.9 734.0)" fill="#4A5AA0"/><ellipse cx="1030.0" cy="782.6" rx="1.8" ry="1.2" transform="rotate(169 1030.0 782.6)" fill="#4A5AA0"/><ellipse cx="1037.2" cy="760.2" rx="2.0" ry="1.0" transform="rotate(172 1037.2 760.2)" fill="#4A5AA0"/><ellipse cx="1063.7" cy="714.1" rx="2.0" ry="0.9" transform="rotate(101 1063.7 714.1)" fill="#4A5AA0"/><ellipse cx="1082.7" cy="787.2" rx="1.9" ry="1.2" transform="rotate(158 1082.7 787.2)" fill="#4A5AA0"/><ellipse cx="1064.3" cy="819.5" rx="1.2" ry="1.0" transform="rotate(170 1064.3 819.5)" fill="#4A5AA0"/><ellipse cx="1063.9" cy="759.4" rx="1.7" ry="0.9" transform="rotate(128 1063.9 759.4)" fill="#4A5AA0"/><ellipse cx="1134.4" cy="723.3" rx="1.9" ry="0.8" transform="rotate(125 1134.4 723.3)" fill="#4A5AA0"/><ellipse cx="1080.5" cy="729.7" rx="1.3" ry="1.2" transform="rotate(144 1080.5 729.7)" fill="#4A5AA0"/><ellipse cx="1100.1" cy="816.0" rx="2.0" ry="1.2" transform="rotate(96 1100.1 816.0)" fill="#4A5AA0"/><ellipse cx="1067.5" cy="779.4" rx="2.0" ry="1.1" transform="rotate(121 1067.5 779.4)" fill="#4A5AA0"/><ellipse cx="1168.2" cy="764.9" rx="1.6" ry="1.1" transform="rotate(36 1168.2 764.9)" fill="#4A5AA0"/><ellipse cx="1171.0" cy="714.0" rx="1.6" ry="1.0" transform="rotate(26 1171.0 714.0)" fill="#4A5AA0"/><ellipse cx="1182.2" cy="768.9" rx="1.3" ry="1.0" transform="rotate(106 1182.2 768.9)" fill="#4A5AA0"/><ellipse cx="1094.8" cy="711.1" rx="1.3" ry="1.1" transform="rotate(24 1094.8 711.1)" fill="#4A5AA0"/><ellipse cx="1064.1" cy="817.7" rx="1.9" ry="1.2" transform="rotate(31 1064.1 817.7)" fill="#4A5AA0"/><ellipse cx="1019.7" cy="810.6" rx="1.7" ry="0.9" transform="rotate(3 1019.7 810.6)" fill="#4A5AA0"/><ellipse cx="1095.3" cy="742.1" rx="1.7" ry="1.2" transform="rotate(38 1095.3 742.1)" fill="#4A5AA0"/><ellipse cx="1032.1" cy="802.7" rx="1.3" ry="0.9" transform="rotate(79 1032.1 802.7)" fill="#4A5AA0"/><ellipse cx="1193.5" cy="753.7" rx="1.5" ry="1.0" transform="rotate(29 1193.5 753.7)" fill="#4A5AA0"/><ellipse cx="1090.1" cy="803.5" rx="1.5" ry="1.1" transform="rotate(33 1090.1 803.5)" fill="#4A5AA0"/><ellipse cx="1036.8" cy="793.8" rx="1.6" ry="1.2" transform="rotate(19 1036.8 793.8)" fill="#4A5AA0"/><ellipse cx="1151.0" cy="799.5" rx="1.5" ry="0.9" transform="rotate(110 1151.0 799.5)" fill="#4A5AA0"/><ellipse cx="1153.2" cy="773.3" rx="1.6" ry="1.1" transform="rotate(110 1153.2 773.3)" fill="#4A5AA0"/><ellipse cx="1093.8" cy="735.4" rx="1.6" ry="1.0" transform="rotate(161 1093.8 735.4)" fill="#4A5AA0"/><ellipse cx="1195.1" cy="784.5" rx="1.5" ry="0.9" transform="rotate(113 1195.1 784.5)" fill="#4A5AA0"/><ellipse cx="1149.7" cy="743.5" rx="1.8" ry="1.2" transform="rotate(70 1149.7 743.5)" fill="#4A5AA0"/><ellipse cx="1185.2" cy="768.6" rx="1.7" ry="1.1" transform="rotate(37 1185.2 768.6)" fill="#4A5AA0"/><ellipse cx="1080.0" cy="841.1" rx="1.3" ry="0.9" transform="rotate(86 1080.0 841.1)" fill="#4A5AA0"/><ellipse cx="1150.8" cy="794.3" rx="1.9" ry="1.1" transform="rotate(0 1150.8 794.3)" fill="#4A5AA0"/><ellipse cx="1031.4" cy="715.5" rx="1.5" ry="0.8" transform="rotate(95 1031.4 715.5)" fill="#4A5AA0"/><ellipse cx="1130.9" cy="737.5" rx="1.9" ry="1.0" transform="rotate(173 1130.9 737.5)" fill="#4A5AA0"/><ellipse cx="1082.2" cy="792.8" rx="1.6" ry="0.9" transform="rotate(140 1082.2 792.8)" fill="#4A5AA0"/><ellipse cx="1019.5" cy="743.8" rx="1.5" ry="1.2" transform="rotate(90 1019.5 743.8)" fill="#4A5AA0"/><ellipse cx="1025.3" cy="750.3" rx="1.7" ry="1.1" transform="rotate(20 1025.3 750.3)" fill="#4A5AA0"/><ellipse cx="1156.9" cy="762.4" rx="1.6" ry="1.0" transform="rotate(79 1156.9 762.4)" fill="#4A5AA0"/><ellipse cx="1194.3" cy="832.5" rx="1.9" ry="1.1" transform="rotate(126 1194.3 832.5)" fill="#4A5AA0"/><ellipse cx="1043.9" cy="715.4" rx="1.9" ry="1.1" transform="rotate(114 1043.9 715.4)" fill="#4A5AA0"/><ellipse cx="1074.2" cy="746.1" rx="1.9" ry="1.0" transform="rotate(4 1074.2 746.1)" fill="#4A5AA0"/><ellipse cx="1079.1" cy="756.9" rx="1.3" ry="1.2" transform="rotate(163 1079.1 756.9)" fill="#4A5AA0"/><ellipse cx="1163.2" cy="711.3" rx="1.5" ry="0.8" transform="rotate(131 1163.2 711.3)" fill="#4A5AA0"/><ellipse cx="1162.2" cy="815.3" rx="1.8" ry="0.8" transform="rotate(2 1162.2 815.3)" fill="#4A5AA0"/><ellipse cx="1035.3" cy="822.3" rx="1.9" ry="1.0" transform="rotate(42 1035.3 822.3)" fill="#4A5AA0"/><ellipse cx="1170.7" cy="726.6" rx="1.5" ry="0.8" transform="rotate(177 1170.7 726.6)" fill="#4A5AA0"/><ellipse cx="1092.3" cy="812.9" rx="1.8" ry="1.0" transform="rotate(178 1092.3 812.9)" fill="#4A5AA0"/><ellipse cx="1156.0" cy="833.5" rx="2.0" ry="0.8" transform="rotate(135 1156.0 833.5)" fill="#4A5AA0"/><ellipse cx="1058.9" cy="753.7" rx="1.5" ry="1.2" transform="rotate(11 1058.9 753.7)" fill="#4A5AA0"/><ellipse cx="1095.9" cy="727.7" rx="2.0" ry="1.0" transform="rotate(126 1095.9 727.7)" fill="#4A5AA0"/><ellipse cx="1111.0" cy="812.4" rx="1.5" ry="1.0" transform="rotate(134 1111.0 812.4)" fill="#4A5AA0"/><ellipse cx="1143.3" cy="828.3" rx="1.4" ry="1.1" transform="rotate(133 1143.3 828.3)" fill="#4A5AA0"/><ellipse cx="1120.4" cy="764.8" rx="1.7" ry="0.8" transform="rotate(17 1120.4 764.8)" fill="#4A5AA0"/><ellipse cx="1074.0" cy="727.0" rx="1.2" ry="1.1" transform="rotate(132 1074.0 727.0)" fill="#4A5AA0"/><ellipse cx="1127.9" cy="738.0" rx="1.8" ry="1.1" transform="rotate(111 1127.9 738.0)" fill="#4A5AA0"/><ellipse cx="1059.1" cy="785.5" rx="1.5" ry="0.9" transform="rotate(27 1059.1 785.5)" fill="#4A5AA0"/><ellipse cx="1172.0" cy="794.5" rx="1.9" ry="0.9" transform="rotate(48 1172.0 794.5)" fill="#4A5AA0"/><ellipse cx="1109.1" cy="718.5" rx="1.4" ry="1.0" transform="rotate(87 1109.1 718.5)" fill="#4A5AA0"/><ellipse cx="1180.0" cy="787.2" rx="1.7" ry="1.0" transform="rotate(141 1180.0 787.2)" fill="#4A5AA0"/><ellipse cx="1083.7" cy="710.8" rx="2.0" ry="1.1" transform="rotate(23 1083.7 710.8)" fill="#4A5AA0"/><ellipse cx="1038.6" cy="740.2" rx="1.7" ry="0.9" transform="rotate(4 1038.6 740.2)" fill="#4A5AA0"/><ellipse cx="1106.4" cy="711.5" rx="1.4" ry="1.0" transform="rotate(37 1106.4 711.5)" fill="#4A5AA0"/><ellipse cx="1019.2" cy="745.1" rx="1.4" ry="0.9" transform="rotate(75 1019.2 745.1)" fill="#4A5AA0"/><ellipse cx="1082.6" cy="753.6" rx="1.2" ry="1.1" transform="rotate(133 1082.6 753.6)" fill="#4A5AA0"/><ellipse cx="1106.1" cy="711.1" rx="1.4" ry="1.2" transform="rotate(82 1106.1 711.1)" fill="#4A5AA0"/><ellipse cx="1055.2" cy="819.3" rx="1.9" ry="0.8" transform="rotate(90 1055.2 819.3)" fill="#4A5AA0"/><ellipse cx="1118.3" cy="726.2" rx="1.5" ry="1.0" transform="rotate(121 1118.3 726.2)" fill="#4A5AA0"/><ellipse cx="1130.2" cy="792.9" rx="1.5" ry="0.8" transform="rotate(3 1130.2 792.9)" fill="#4A5AA0"/><ellipse cx="1167.2" cy="825.3" rx="1.9" ry="0.8" transform="rotate(138 1167.2 825.3)" fill="#4A5AA0"/><ellipse cx="1049.2" cy="756.6" rx="1.4" ry="1.1" transform="rotate(147 1049.2 756.6)" fill="#4A5AA0"/><ellipse cx="1166.3" cy="761.2" rx="1.9" ry="0.9" transform="rotate(103 1166.3 761.2)" fill="#4A5AA0"/><ellipse cx="1138.1" cy="741.7" rx="1.5" ry="0.8" transform="rotate(143 1138.1 741.7)" fill="#4A5AA0"/><ellipse cx="1051.5" cy="728.7" rx="1.4" ry="1.1" transform="rotate(115 1051.5 728.7)" fill="#4A5AA0"/><ellipse cx="1111.8" cy="823.8" rx="1.8" ry="0.9" transform="rotate(96 1111.8 823.8)" fill="#4A5AA0"/><ellipse cx="1048.8" cy="742.7" rx="1.3" ry="0.8" transform="rotate(63 1048.8 742.7)" fill="#4A5AA0"/><ellipse cx="1175.9" cy="797.6" rx="1.3" ry="0.9" transform="rotate(106 1175.9 797.6)" fill="#4A5AA0"/><ellipse cx="1112.7" cy="714.2" rx="1.3" ry="1.0" transform="rotate(108 1112.7 714.2)" fill="#4A5AA0"/><ellipse cx="1033.0" cy="813.1" rx="1.4" ry="1.0" transform="rotate(95 1033.0 813.1)" fill="#4A5AA0"/><ellipse cx="1079.1" cy="836.1" rx="1.5" ry="1.0" transform="rotate(97 1079.1 836.1)" fill="#4A5AA0"/><ellipse cx="1167.6" cy="841.6" rx="1.8" ry="1.0" transform="rotate(129 1167.6 841.6)" fill="#4A5AA0"/><ellipse cx="1131.9" cy="837.8" rx="2.0" ry="1.1" transform="rotate(39 1131.9 837.8)" fill="#4A5AA0"/><ellipse cx="1119.5" cy="768.9" rx="1.4" ry="1.1" transform="rotate(40 1119.5 768.9)" fill="#4A5AA0"/><ellipse cx="1144.6" cy="775.5" rx="1.5" ry="1.1" transform="rotate(130 1144.6 775.5)" fill="#4A5AA0"/><ellipse cx="1194.2" cy="843.1" rx="1.8" ry="0.9" transform="rotate(120 1194.2 843.1)" fill="#4A5AA0"/><ellipse cx="1106.6" cy="835.3" rx="1.6" ry="0.9" transform="rotate(5 1106.6 835.3)" fill="#4A5AA0"/><ellipse cx="1102.1" cy="781.3" rx="1.4" ry="0.8" transform="rotate(87 1102.1 781.3)" fill="#4A5AA0"/><ellipse cx="1031.3" cy="733.4" rx="1.6" ry="0.9" transform="rotate(90 1031.3 733.4)" fill="#4A5AA0"/><ellipse cx="1112.7" cy="762.2" rx="1.3" ry="0.8" transform="rotate(101 1112.7 762.2)" fill="#4A5AA0"/><ellipse cx="1190.7" cy="748.0" rx="1.5" ry="0.9" transform="rotate(134 1190.7 748.0)" fill="#4A5AA0"/><ellipse cx="1106.2" cy="816.2" rx="1.2" ry="0.9" transform="rotate(37 1106.2 816.2)" fill="#4A5AA0"/><ellipse cx="1084.2" cy="763.6" rx="1.5" ry="1.2" transform="rotate(79 1084.2 763.6)" fill="#4A5AA0"/><ellipse cx="1120.8" cy="838.4" rx="1.7" ry="1.0" transform="rotate(149 1120.8 838.4)" fill="#4A5AA0"/><ellipse cx="1078.1" cy="715.5" rx="2.0" ry="1.0" transform="rotate(105 1078.1 715.5)" fill="#4A5AA0"/><ellipse cx="1030.6" cy="809.4" rx="1.5" ry="1.1" transform="rotate(51 1030.6 809.4)" fill="#4A5AA0"/><ellipse cx="1181.5" cy="759.6" rx="1.4" ry="1.2" transform="rotate(40 1181.5 759.6)" fill="#4A5AA0"/><ellipse cx="1066.8" cy="775.2" rx="2.0" ry="0.8" transform="rotate(38 1066.8 775.2)" fill="#4A5AA0"/><ellipse cx="1159.8" cy="720.7" rx="1.5" ry="1.1" transform="rotate(128 1159.8 720.7)" fill="#4A5AA0"/><ellipse cx="1159.3" cy="726.2" rx="1.9" ry="0.9" transform="rotate(147 1159.3 726.2)" fill="#4A5AA0"/><ellipse cx="1102.4" cy="828.8" rx="1.6" ry="0.9" transform="rotate(27 1102.4 828.8)" fill="#4A5AA0"/><ellipse cx="1106.8" cy="717.3" rx="1.3" ry="1.1" transform="rotate(103 1106.8 717.3)" fill="#4A5AA0"/><ellipse cx="1171.7" cy="730.7" rx="1.6" ry="1.0" transform="rotate(19 1171.7 730.7)" fill="#4A5AA0"/><ellipse cx="1065.5" cy="832.8" rx="1.8" ry="1.0" transform="rotate(110 1065.5 832.8)" fill="#4A5AA0"/><ellipse cx="1171.3" cy="837.1" rx="1.7" ry="0.8" transform="rotate(157 1171.3 837.1)" fill="#4A5AA0"/><ellipse cx="1048.0" cy="742.5" rx="1.3" ry="1.0" transform="rotate(105 1048.0 742.5)" fill="#4A5AA0"/><ellipse cx="1100.4" cy="773.0" rx="1.3" ry="1.1" transform="rotate(97 1100.4 773.0)" fill="#4A5AA0"/><ellipse cx="1073.5" cy="821.2" rx="2.0" ry="1.2" transform="rotate(177 1073.5 821.2)" fill="#4A5AA0"/><ellipse cx="1031.0" cy="762.2" rx="1.6" ry="0.9" transform="rotate(134 1031.0 762.2)" fill="#4A5AA0"/><ellipse cx="1179.2" cy="729.1" rx="1.6" ry="1.2" transform="rotate(160 1179.2 729.1)" fill="#4A5AA0"/><ellipse cx="1098.7" cy="724.6" rx="1.6" ry="1.0" transform="rotate(141 1098.7 724.6)" fill="#4A5AA0"/><ellipse cx="1051.8" cy="747.7" rx="2.0" ry="0.8" transform="rotate(110 1051.8 747.7)" fill="#4A5AA0"/><ellipse cx="1035.6" cy="810.1" rx="1.5" ry="1.2" transform="rotate(40 1035.6 810.1)" fill="#4A5AA0"/><ellipse cx="1174.3" cy="740.9" rx="1.2" ry="0.8" transform="rotate(14 1174.3 740.9)" fill="#4A5AA0"/><ellipse cx="1087.7" cy="839.5" rx="1.5" ry="1.1" transform="rotate(6 1087.7 839.5)" fill="#4A5AA0"/><ellipse cx="1110.2" cy="782.2" rx="1.3" ry="1.0" transform="rotate(80 1110.2 782.2)" fill="#4A5AA0"/><ellipse cx="1076.8" cy="820.7" rx="1.8" ry="0.8" transform="rotate(19 1076.8 820.7)" fill="#4A5AA0"/><ellipse cx="1028.1" cy="745.6" rx="1.7" ry="1.2" transform="rotate(174 1028.1 745.6)" fill="#4A5AA0"/><ellipse cx="1172.0" cy="727.2" rx="1.8" ry="1.1" transform="rotate(85 1172.0 727.2)" fill="#4A5AA0"/><ellipse cx="1195.2" cy="790.1" rx="1.3" ry="0.9" transform="rotate(23 1195.2 790.1)" fill="#4A5AA0"/><ellipse cx="1127.0" cy="793.4" rx="1.9" ry="0.8" transform="rotate(2 1127.0 793.4)" fill="#4A5AA0"/></g>
</g>
<line x1="601" y1="836.2" x2="623" y2="836.2" stroke="#fff" stroke-width="2"/>
<line x1="788.4" y1="836.2" x2="810.4" y2="836.2" stroke="#fff" stroke-width="2"/>
<line x1="980.3" y1="836.2" x2="1002.3" y2="836.2" stroke="#fff" stroke-width="2"/>
<line x1="1166" y1="836.2" x2="1188" y2="836.2" stroke="#fff" stroke-width="2"/>
<rect x="524.7" y="647.6" width="42.1" height="31.4" fill="none" stroke="#111" stroke-width="1.8" stroke-dasharray="4.5 3"/>
<line x1="524.7" y1="679" x2="455" y2="710.7" stroke="#111" stroke-width="1.8" stroke-dasharray="4.5 3"/>
<line x1="566.8" y1="679" x2="631" y2="710.7" stroke="#111" stroke-width="1.8" stroke-dasharray="4.5 3"/>
<rect x="718.3" y="647.6" width="42.6" height="31.4" fill="none" stroke="#111" stroke-width="1.8" stroke-dasharray="4.5 3"/>
<line x1="718.3" y1="679" x2="641.4" y2="710.7" stroke="#111" stroke-width="1.8" stroke-dasharray="4.5 3"/>
<line x1="760.9" y1="679" x2="818.4" y2="710.7" stroke="#111" stroke-width="1.8" stroke-dasharray="4.5 3"/>
<rect x="901.8" y="602.9" width="42.9" height="31.9" fill="none" stroke="#111" stroke-width="1.8" stroke-dasharray="4.5 3"/>
<line x1="901.8" y1="634.8" x2="834.3" y2="710.7" stroke="#111" stroke-width="1.8" stroke-dasharray="4.5 3"/>
<line x1="944.7" y1="634.8" x2="1010.3" y2="710.7" stroke="#111" stroke-width="1.8" stroke-dasharray="4.5 3"/>
<rect x="1088.9" y="599.5" width="42.1" height="32" fill="none" stroke="#111" stroke-width="1.8" stroke-dasharray="4.5 3"/>
<line x1="1088.9" y1="631.5" x2="1018.8" y2="710.7" stroke="#111" stroke-width="1.8" stroke-dasharray="4.5 3"/>
<line x1="1131" y1="631.5" x2="1196" y2="710.7" stroke="#111" stroke-width="1.8" stroke-dasharray="4.5 3"/>
<text x="542.9" y="873" font-size="22" text-anchor="middle">TMUB1</text>
<text x="729.2" y="873" font-size="22" text-anchor="middle">CD8</text>
<text x="920" y="873" font-size="22" text-anchor="middle">TMUB1</text>
<text x="1107" y="873" font-size="22" text-anchor="middle">CD8</text>
<text x="1237" y="503.5" font-size="32.5" font-weight="bold">f</text>
<line x1="1369.1" y1="523" x2="1369.1" y2="840.4" stroke="#000" stroke-width="2"/>
<line x1="1356.4" y1="839.4" x2="1369.1" y2="839.4" stroke="#000" stroke-width="2"/>
<text x="1345" y="847.4" font-size="22" text-anchor="end">0</text>
<line x1="1356.4" y1="733.93" x2="1369.1" y2="733.93" stroke="#000" stroke-width="2"/>
<text x="1345" y="741.93" font-size="22" text-anchor="end">10</text>
<line x1="1356.4" y1="628.46" x2="1369.1" y2="628.46" stroke="#000" stroke-width="2"/>
<text x="1345" y="636.46" font-size="22" text-anchor="end">20</text>
<line x1="1356.4" y1="522.99" x2="1369.1" y2="522.99" stroke="#000" stroke-width="2"/>
<text x="1345" y="530.99" font-size="22" text-anchor="end">30</text>
<line x1="1356.4" y1="839.4" x2="1685" y2="839.4" stroke="#000" stroke-width="2"/>
<line x1="1369.1" y1="839.4" x2="1369.1" y2="845.4" stroke="#000" stroke-width="2"/>
<text x="1369.1" y="879" font-size="22" text-anchor="middle">0</text>
<line x1="1448.05" y1="839.4" x2="1448.05" y2="845.4" stroke="#000" stroke-width="2"/>
<text x="1448.05" y="879" font-size="22" text-anchor="middle">20</text>
<line x1="1527" y1="839.4" x2="1527" y2="845.4" stroke="#000" stroke-width="2"/>
<text x="1527" y="879" font-size="22" text-anchor="middle">40</text>
<line x1="1605.95" y1="839.4" x2="1605.95" y2="845.4" stroke="#000" stroke-width="2"/>
<text x="1605.95" y="879" font-size="22" text-anchor="middle">60</text>
<line x1="1684.9" y1="839.4" x2="1684.9" y2="845.4" stroke="#000" stroke-width="2"/>
<text x="1683.5" y="879" font-size="22" text-anchor="middle">80</text>
<text x="1521.5" y="916" font-size="22" text-anchor="middle">TMUB1 protein level</text>
<text x="1305.5" y="690.8" font-size="22" text-anchor="middle" transform="rotate(-90 1305.5 690.8)">CD8 protein level</text>
<text x="1482" y="532.5" font-size="22.3">y = -0.2720x + 27.43</text>
<text x="1482" y="559.1" font-size="22.3">R Square = 0.4071</text>
<text x="1482" y="586.7" font-size="22.3" text-anchor="start"><tspan font-style="italic">p</tspan> &lt; 0.0001</text>
<text x="1482" y="612.4" font-size="22.3">n = 55</text>
<circle cx="1377.97" cy="720.43" r="5.3" fill="#000"/>
<circle cx="1380.93" cy="642.89" r="5.3" fill="#000"/>
<circle cx="1384.48" cy="619.22" r="5.3" fill="#000"/>
<circle cx="1385.96" cy="590.22" r="5.3" fill="#000"/>
<circle cx="1392.77" cy="591.1" r="5.3" fill="#000"/>
<circle cx="1397.21" cy="705.04" r="5.3" fill="#000"/>
<circle cx="1400.17" cy="687.88" r="5.3" fill="#000"/>
<circle cx="1402.24" cy="636.98" r="5.3" fill="#000"/>
<circle cx="1405.5" cy="677.52" r="5.3" fill="#000"/>
<circle cx="1406.09" cy="663.61" r="5.3" fill="#000"/>
<circle cx="1411.41" cy="624.84" r="5.3" fill="#000"/>
<circle cx="1415.26" cy="654.44" r="5.3" fill="#000"/>
<circle cx="1422.96" cy="599.69" r="5.3" fill="#000"/>
<circle cx="1423.25" cy="612.41" r="5.3" fill="#000"/>
<circle cx="1422.96" cy="618.92" r="5.3" fill="#000"/>
<circle cx="1424.73" cy="624.25" r="5.3" fill="#000"/>
<circle cx="1424.73" cy="696.16" r="5.3" fill="#000"/>
<circle cx="1431.24" cy="582.23" r="5.3" fill="#000"/>
<circle cx="1441.9" cy="586.37" r="5.3" fill="#000"/>
<circle cx="1444.86" cy="618.33" r="5.3" fill="#000"/>
<circle cx="1445.45" cy="620.7" r="5.3" fill="#000"/>
<circle cx="1447.52" cy="692.91" r="5.3" fill="#000"/>
<circle cx="1450.48" cy="706.23" r="5.3" fill="#000"/>
<circle cx="1452.55" cy="582.23" r="5.3" fill="#000"/>
<circle cx="1453.14" cy="607.97" r="5.3" fill="#000"/>
<circle cx="1452.55" cy="689.36" r="5.3" fill="#000"/>
<circle cx="1459.65" cy="688.47" r="5.3" fill="#000"/>
<circle cx="1464.39" cy="792.35" r="5.3" fill="#000"/>
<circle cx="1471.2" cy="732.27" r="5.3" fill="#000"/>
<circle cx="1475.63" cy="705.63" r="5.3" fill="#000"/>
<circle cx="1483.92" cy="701.49" r="5.3" fill="#000"/>
<circle cx="1483.92" cy="725.76" r="5.3" fill="#000"/>
<circle cx="1486.88" cy="755.95" r="5.3" fill="#000"/>
<circle cx="1493.98" cy="747.07" r="5.3" fill="#000"/>
<circle cx="1503.75" cy="668.94" r="5.3" fill="#000"/>
<circle cx="1507.3" cy="676.04" r="5.3" fill="#000"/>
<circle cx="1507.6" cy="684.92" r="5.3" fill="#000"/>
<circle cx="1511.74" cy="676.04" r="5.3" fill="#000"/>
<circle cx="1512.63" cy="777.25" r="5.3" fill="#000"/>
<circle cx="1516.48" cy="718.36" r="5.3" fill="#000"/>
<circle cx="1527.43" cy="676.93" r="5.3" fill="#000"/>
<circle cx="1534.82" cy="695.87" r="5.3" fill="#000"/>
<circle cx="1536.3" cy="755.35" r="5.3" fill="#000"/>
<circle cx="1539.26" cy="745.59" r="5.3" fill="#000"/>
<circle cx="1554.95" cy="790.87" r="5.3" fill="#000"/>
<circle cx="1556.43" cy="646.74" r="5.3" fill="#000"/>
<circle cx="1556.43" cy="670.71" r="5.3" fill="#000"/>
<circle cx="1558.5" cy="710.96" r="5.3" fill="#000"/>
<circle cx="1560.57" cy="749.43" r="5.3" fill="#000"/>
<circle cx="1589.57" cy="755.06" r="5.3" fill="#000"/>
<circle cx="1598.45" cy="729.9" r="5.3" fill="#000"/>
<circle cx="1637.52" cy="770.15" r="5.3" fill="#000"/>
<circle cx="1647.28" cy="762.75" r="5.3" fill="#000"/>
<circle cx="1668.89" cy="783.17" r="5.3" fill="#000"/>
<line x1="1378.9" y1="628.7" x2="1669.5" y2="783.2" stroke="#C5162E" stroke-width="3"/>
<text x="0" y="981.5" font-size="32.5" font-weight="bold">g</text>
<line x1="92.6" y1="1036" x2="92.6" y2="1333.5" stroke="#000" stroke-width="2"/>
<line x1="79.9" y1="1332.5" x2="92.6" y2="1332.5" stroke="#000" stroke-width="2"/>
<text x="71.5" y="1340.5" font-size="22" text-anchor="end">0</text>
<line x1="79.9" y1="1259.02" x2="92.6" y2="1259.02" stroke="#000" stroke-width="2"/>
<text x="71.5" y="1267.02" font-size="22" text-anchor="end">25</text>
<line x1="79.9" y1="1185.54" x2="92.6" y2="1185.54" stroke="#000" stroke-width="2"/>
<text x="71.5" y="1193.54" font-size="22" text-anchor="end">50</text>
<line x1="79.9" y1="1112.06" x2="92.6" y2="1112.06" stroke="#000" stroke-width="2"/>
<text x="71.5" y="1120.06" font-size="22" text-anchor="end">75</text>
<line x1="79.9" y1="1038.58" x2="92.6" y2="1038.58" stroke="#000" stroke-width="2"/>
<text x="71.5" y="1046.58" font-size="22" text-anchor="end">100</text>
<line x1="79.9" y1="1332.5" x2="387.3" y2="1332.5" stroke="#000" stroke-width="2"/>
<line x1="92.6" y1="1332.5" x2="92.6" y2="1344" stroke="#000" stroke-width="2"/>
<text x="92.6" y="1368" font-size="22" text-anchor="middle">0</text>
<line x1="157.75" y1="1332.5" x2="157.75" y2="1344" stroke="#000" stroke-width="2"/>
<text x="157.75" y="1368" font-size="22" text-anchor="middle">20</text>
<line x1="222.9" y1="1332.5" x2="222.9" y2="1344" stroke="#000" stroke-width="2"/>
<text x="222.9" y="1368" font-size="22" text-anchor="middle">40</text>
<line x1="288.05" y1="1332.5" x2="288.05" y2="1344" stroke="#000" stroke-width="2"/>
<text x="288.05" y="1368" font-size="22" text-anchor="middle">60</text>
<line x1="353.2" y1="1332.5" x2="353.2" y2="1344" stroke="#000" stroke-width="2"/>
<text x="353.2" y="1368" font-size="22" text-anchor="middle">80</text>
<text x="231.6" y="1405" font-size="22" text-anchor="middle">Time(months)</text>
<text x="26.6" y="1193.5" font-size="22" text-anchor="middle" transform="rotate(-90 26.6 1193.5)">Overall Survival(%)</text>
<text x="257" y="1045.3" font-size="22.3" text-anchor="start"><tspan font-style="italic">p</tspan> = 0.0059</text>
<path d="M92.63 1038.63 L131.75 1038.63 L131.75 1050.61 L187.65 1050.61 L187.65 1061.79 L213.47 1061.79 L213.47 1072.97 L288.26 1072.97 L288.26 1085.75 L360.13 1085.75" stroke="#1F1FF0" stroke-width="1.6" fill="none"/>
<line x1="255.52" y1="1072.97" x2="255.52" y2="1067.47" stroke="#1F1FF0" stroke-width="1.5"/>
<line x1="268.83" y1="1072.97" x2="268.83" y2="1067.47" stroke="#1F1FF0" stroke-width="1.5"/>
<line x1="284.8" y1="1072.97" x2="284.8" y2="1067.47" stroke="#1F1FF0" stroke-width="1.5"/>
<line x1="294.92" y1="1085.75" x2="294.92" y2="1080.25" stroke="#1F1FF0" stroke-width="1.5"/>
<line x1="302.1" y1="1085.75" x2="302.1" y2="1080.25" stroke="#1F1FF0" stroke-width="1.5"/>
<line x1="304.76" y1="1085.75" x2="304.76" y2="1080.25" stroke="#1F1FF0" stroke-width="1.5"/>
<line x1="308.22" y1="1085.75" x2="308.22" y2="1080.25" stroke="#1F1FF0" stroke-width="1.5"/>
<line x1="327.92" y1="1085.75" x2="327.92" y2="1080.25" stroke="#1F1FF0" stroke-width="1.5"/>
<line x1="331.38" y1="1085.75" x2="331.38" y2="1080.25" stroke="#1F1FF0" stroke-width="1.5"/>
<line x1="334.84" y1="1085.75" x2="334.84" y2="1080.25" stroke="#1F1FF0" stroke-width="1.5"/>
<line x1="338.04" y1="1085.75" x2="338.04" y2="1080.25" stroke="#1F1FF0" stroke-width="1.5"/>
<line x1="341.23" y1="1085.75" x2="341.23" y2="1080.25" stroke="#1F1FF0" stroke-width="1.5"/>
<line x1="344.69" y1="1085.75" x2="344.69" y2="1080.25" stroke="#1F1FF0" stroke-width="1.5"/>
<line x1="347.88" y1="1085.75" x2="347.88" y2="1080.25" stroke="#1F1FF0" stroke-width="1.5"/>
<line x1="354.01" y1="1085.75" x2="354.01" y2="1080.25" stroke="#1F1FF0" stroke-width="1.5"/>
<line x1="359.33" y1="1085.75" x2="359.33" y2="1080.25" stroke="#1F1FF0" stroke-width="1.5"/>
<path d="M92.63 1038.63 L125.1 1038.63 L125.1 1047.15 L138.41 1047.15 L138.41 1055.94 L157.57 1055.94 L157.57 1064.45 L174.34 1064.45 L174.34 1072.44 L193.51 1072.44 L193.51 1080.42 L196.97 1080.42 L196.97 1088.41 L200.16 1088.41 L200.16 1097.19 L206.81 1097.19 L206.81 1106.24 L258.72 1106.24 L258.72 1114.76 L321.27 1114.76 L321.27 1127.8 L356.67 1127.8" stroke="#111" stroke-width="1.6" fill="none"/>
<line x1="252.33" y1="1106.24" x2="252.33" y2="1100.74" stroke="#111" stroke-width="1.5"/>
<line x1="284.8" y1="1114.76" x2="284.8" y2="1109.26" stroke="#111" stroke-width="1.5"/>
<line x1="294.92" y1="1114.76" x2="294.92" y2="1109.26" stroke="#111" stroke-width="1.5"/>
<line x1="298.11" y1="1114.76" x2="298.11" y2="1109.26" stroke="#111" stroke-width="1.5"/>
<line x1="301.57" y1="1114.76" x2="301.57" y2="1109.26" stroke="#111" stroke-width="1.5"/>
<line x1="308.22" y1="1114.76" x2="308.22" y2="1109.26" stroke="#111" stroke-width="1.5"/>
<line x1="318.07" y1="1114.76" x2="318.07" y2="1109.26" stroke="#111" stroke-width="1.5"/>
<line x1="323.4" y1="1127.8" x2="323.4" y2="1122.3" stroke="#111" stroke-width="1.5"/>
<line x1="326.86" y1="1127.8" x2="326.86" y2="1122.3" stroke="#111" stroke-width="1.5"/>
<line x1="330.05" y1="1127.8" x2="330.05" y2="1122.3" stroke="#111" stroke-width="1.5"/>
<line x1="333.51" y1="1127.8" x2="333.51" y2="1122.3" stroke="#111" stroke-width="1.5"/>
<line x1="336.7" y1="1127.8" x2="336.7" y2="1122.3" stroke="#111" stroke-width="1.5"/>
<line x1="350.01" y1="1127.8" x2="350.01" y2="1122.3" stroke="#111" stroke-width="1.5"/>
<line x1="354.01" y1="1127.8" x2="354.01" y2="1122.3" stroke="#111" stroke-width="1.5"/>
<line x1="356.67" y1="1127.8" x2="356.67" y2="1122.3" stroke="#111" stroke-width="1.5"/>
<path d="M92.63 1038.63 L125.1 1038.63 L125.1 1046.35 L128.29 1046.35 L128.29 1053.81 L134.42 1053.81 L134.42 1061.26 L145.06 1061.26 L145.06 1069.24 L147.99 1069.24 L147.99 1076.43 L151.18 1076.43 L151.18 1084.42 L154.38 1084.42 L154.38 1091.87 L164.23 1091.87 L164.23 1106.77 L174.34 1106.77 L174.34 1114.23 L177 1114.23 L177 1121.68 L193.51 1121.68 L193.51 1129.13 L200.16 1129.13 L200.16 1137.12 L229.44 1137.12 L229.44 1144.57 L265.11 1144.57 L265.11 1153.62 L288.26 1153.62 L288.26 1162.94 L291.46 1162.94 L291.46 1172.52 L301.57 1172.52 L301.57 1183.7 L310.62 1183.7 L310.62 1195.67 L343.36 1195.67 L343.36 1215.37 L360.13 1215.37" stroke="#F03A3A" stroke-width="1.6" fill="none"/>
<line x1="252.33" y1="1144.57" x2="252.33" y2="1139.07" stroke="#F03A3A" stroke-width="1.5"/>
<line x1="258.72" y1="1144.57" x2="258.72" y2="1139.07" stroke="#F03A3A" stroke-width="1.5"/>
<line x1="281.61" y1="1153.62" x2="281.61" y2="1148.12" stroke="#F03A3A" stroke-width="1.5"/>
<line x1="317.27" y1="1195.67" x2="317.27" y2="1190.17" stroke="#F03A3A" stroke-width="1.5"/>
<line x1="330.85" y1="1195.67" x2="330.85" y2="1190.17" stroke="#F03A3A" stroke-width="1.5"/>
<line x1="337.24" y1="1195.67" x2="337.24" y2="1190.17" stroke="#F03A3A" stroke-width="1.5"/>
<line x1="350.01" y1="1215.37" x2="350.01" y2="1209.87" stroke="#F03A3A" stroke-width="1.5"/>
<line x1="356.67" y1="1215.37" x2="356.67" y2="1209.87" stroke="#F03A3A" stroke-width="1.5"/>
<line x1="360.13" y1="1215.37" x2="360.13" y2="1209.87" stroke="#F03A3A" stroke-width="1.5"/>
<line x1="101.94" y1="1251.3" x2="132.55" y2="1251.3" stroke="#F03A3A" stroke-width="1.6"/>
<line x1="117.11" y1="1251.3" x2="117.11" y2="1245.3" stroke="#F03A3A" stroke-width="1.5"/>
<line x1="101.94" y1="1280.85" x2="132.55" y2="1280.85" stroke="#111" stroke-width="1.6"/>
<line x1="117.11" y1="1280.85" x2="117.11" y2="1274.85" stroke="#111" stroke-width="1.5"/>
<line x1="101.94" y1="1311.19" x2="132.55" y2="1311.19" stroke="#1F1FF0" stroke-width="1.6"/>
<line x1="117.11" y1="1311.19" x2="117.11" y2="1305.19" stroke="#1F1FF0" stroke-width="1.5"/>
<text x="141" y="1260" font-size="22.2" font-style="italic" textLength="117" lengthAdjust="spacingAndGlyphs">PD-L1/TMUB1</text>
<text x="258.5" y="1260" font-size="22.2">-High&#160; (n=39)</text>
<text x="141" y="1289.4" font-size="22.2">Intermediate (n=35)</text>
<text x="138.5" y="1320" font-size="22.2" font-style="italic" textLength="117" lengthAdjust="spacingAndGlyphs">PD-L1/TMUB1</text>
<text x="256" y="1320" font-size="22.2">-Low (n=26)</text>
<text x="448.5" y="982.5" font-size="32.5" font-weight="bold">h</text>
<defs><filter id="bl4" x="-50%" y="-50%" width="200%" height="200%"><feGaussianBlur stdDeviation="4"/></filter><filter id="bl2" x="-50%" y="-50%" width="200%" height="200%"><feGaussianBlur stdDeviation="2.2"/></filter><filter id="bl6" x="-50%" y="-50%" width="200%" height="200%"><feGaussianBlur stdDeviation="6"/></filter><filter id="bnz" x="0" y="0" width="1" height="1"><feTurbulence type="fractalNoise" baseFrequency="0.25" numOctaves="2" seed="5"/><feColorMatrix type="matrix" values="0 0 0 0 0.5 0 0 0 0 0.5 0 0 0 0 0.5 0.9 0 0 0 -0.35"/></filter></defs>
<defs>
<clipPath id="cc9"><rect x="635.3" y="1048.9" width="109" height="54.5"/></clipPath>
<clipPath id="cc10"><rect x="635.3" y="1109.2" width="109" height="54.2"/></clipPath>
<clipPath id="cc11"><rect x="635.3" y="1168.8" width="109" height="54.5"/></clipPath>
<clipPath id="cc12"><rect x="635.3" y="1228.8" width="109" height="54.5"/></clipPath>
<clipPath id="cc13"><rect x="635.3" y="1288.4" width="109" height="55"/></clipPath>
</defs>
<g clip-path="url(#cc9)">
<rect x="635.3" y="1048.9" width="109" height="54.5" fill="#C3C3C3"/>
<ellipse cx="722" cy="1072" rx="24" ry="26" fill="#333" filter="url(#bl6)"/>
<ellipse cx="722" cy="1079" rx="19" ry="16" fill="#000" filter="url(#bl2)"/>
</g>
<rect x="635.3" y="1048.9" width="109" height="54.5" fill="none" stroke="#2b2020" stroke-width="1.6"/>
<g clip-path="url(#cc10)">
<rect x="635.3" y="1109.2" width="109" height="54.2" fill="#C4C4C4"/>
<ellipse cx="718" cy="1146" rx="22" ry="24" fill="#111" filter="url(#bl6)"/>
<ellipse cx="718" cy="1152" rx="15" ry="12" fill="#111" filter="url(#bl4)"/>
</g>
<rect x="635.3" y="1109.2" width="109" height="54.2" fill="none" stroke="#2b2020" stroke-width="1.6"/>
<g clip-path="url(#cc11)">
<rect x="635.3" y="1168.8" width="109" height="54.5" fill="#BCBCBC"/>
<rect x="635.3" y="1168.8" width="109" height="54.5" filter="url(#bnz)" opacity="0.5"/>
<rect x="644" y="1172" width="36" height="50" fill="#8A8A8A" opacity="0.35" filter="url(#bl4)"/>
<rect x="703" y="1172" width="36" height="50" fill="#8A8A8A" opacity="0.35" filter="url(#bl4)"/>
<rect x="642" y="1188" width="38" height="12" rx="5" fill="#111" filter="url(#bl2)"/>
<rect x="701" y="1187.5" width="38" height="12" rx="5" fill="#030303" filter="url(#bl2)"/>
</g>
<rect x="635.3" y="1168.8" width="109" height="54.5" fill="none" stroke="#2b2020" stroke-width="1.6"/>
<g clip-path="url(#cc12)">
<rect x="635.3" y="1228.8" width="109" height="54.5" fill="#BBBBBB"/>
<rect x="635.3" y="1228.8" width="109" height="54.5" filter="url(#bnz)" opacity="0.5"/>
<ellipse cx="668" cy="1258" rx="19" ry="21" fill="#151515" filter="url(#bl6)"/>
<ellipse cx="717" cy="1256" rx="21" ry="22" fill="#000" filter="url(#bl6)"/>
<ellipse cx="717" cy="1256" rx="13" ry="13" fill="#000" filter="url(#bl2)"/>
</g>
<rect x="635.3" y="1228.8" width="109" height="54.5" fill="none" stroke="#2b2020" stroke-width="1.6"/>
<g clip-path="url(#cc13)">
<rect x="635.3" y="1288.4" width="109" height="55" fill="#BFBFBF"/>
<rect x="635.3" y="1288.4" width="109" height="55" filter="url(#bnz)" opacity="0.5"/>
<rect x="648" y="1314" width="33" height="7" rx="3" fill="#222" filter="url(#bl2)"/>
<rect x="693" y="1313.5" width="38" height="8" rx="3" fill="#0a0a0a" filter="url(#bl2)"/>
<rect x="650" y="1293" width="75" height="3" fill="#aaa" filter="url(#bl2)"/>
</g>
<rect x="635.3" y="1288.4" width="109" height="55" fill="none" stroke="#2b2020" stroke-width="1.6"/>
<text x="0" y="0" font-size="22" transform="translate(669 1037.5) rotate(-90)">IgG</text>
<text x="0" y="0" font-size="22" transform="translate(734.5 1037.5) rotate(-90)">PD-L1</text>
<text x="753.2" y="1033.6" font-size="22">kDa</text>
<text x="753.2" y="1066" font-size="22">50</text>
<text x="753.2" y="1160" font-size="22">25</text>
<text x="753.2" y="1225" font-size="22">37</text>
<text x="753.2" y="1286" font-size="22">25</text>
<text x="753.2" y="1346.7" font-size="22">100</text>
<text x="618.8" y="1083" font-size="22" text-anchor="end">IB: PD-L1</text>
<text x="618.8" y="1145.2" font-size="22" text-anchor="end">IB: TMUB1</text>
<text x="618.8" y="1206.5" font-size="22" text-anchor="end">IB: PD-L1</text>
<text x="618.8" y="1267.6" font-size="22" text-anchor="end">IB: TMUB1</text>
<text x="618.8" y="1325.2" font-size="22" text-anchor="end">IB: VCL</text>
<line x1="497.7" y1="1054.4" x2="497.7" y2="1163.4" stroke="#3a2c2c" stroke-width="1.8"/>
<line x1="497.7" y1="1180.2" x2="497.7" y2="1343.4" stroke="#3a2c2c" stroke-width="1.8"/>
<text x="487" y="1113.5" font-size="22" text-anchor="middle" transform="rotate(-90 487 1113.5)">IP</text>
<text x="487" y="1258" font-size="22" text-anchor="middle" transform="rotate(-90 487 1258)">Input</text>
<text x="682.2" y="1383.5" font-size="22" text-anchor="middle">MDA-MB-231</text>
<text x="898.3" y="983" font-size="32.5" font-weight="bold">i</text>
<path d="M934.04 1166.94 L938.46 1166.94 L1002.11 1165.64 L1002.11 1163.04 L1013.8 1156.55 L1022.89 1142.26 L1030.69 1121.47 L1035.88 1098.09 L1039.78 1074.71 L1043.16 1056.52 L1048.88 1039.63 L1054.07 1040.93 L1057.97 1044.83 L1061.87 1061.72 L1065.76 1087.7 L1070.96 1103.29 L1074.86 1104.59 L1078.75 1105.88 L1081.35 1095.49 L1083.95 1087.7 L1087.85 1089 L1091.74 1090.3 L1096.94 1096.79 L1102.14 1103.29 L1106.03 1113.68 L1111.23 1124.07 L1116.43 1131.87 L1122.92 1139.66 L1129.42 1150.05 L1137.21 1160.44 L1145 1165.64 L1152.8 1166.94 L1278.29 1166.94 Z" fill="#D3D3D3" fill-opacity="1" stroke="none"/>
<path d="M934.84 1166.94 L934.84 1157.85 L937.54 1166.94 L938.46 1166.94 L1002.11 1165.64 L1002.11 1163.04 L1013.8 1156.55 L1022.89 1142.26 L1030.69 1121.47 L1035.88 1098.09 L1039.78 1074.71 L1043.16 1056.52 L1048.88 1039.63 L1054.07 1040.93 L1057.97 1044.83 L1061.87 1061.72 L1065.76 1087.7 L1070.96 1103.29 L1074.86 1104.59 L1078.75 1105.88 L1081.35 1095.49 L1083.95 1087.7 L1087.85 1089 L1091.74 1090.3 L1096.94 1096.79 L1102.14 1103.29 L1106.03 1113.68 L1111.23 1124.07 L1116.43 1131.87 L1122.92 1139.66 L1129.42 1150.05 L1137.21 1160.44 L1145 1165.64 L1152.8 1166.94 L1278.29 1166.94" stroke="#8E8E8E" stroke-width="1.6" fill="none" stroke-linejoin="round"/>
<path d="M934.04 1252.68 L938.46 1252.68 L1004.71 1251.9 L1022.89 1250.6 L1041.08 1248 L1051.47 1244.1 L1061.87 1236.31 L1072.26 1228.51 L1080.05 1220.72 L1086.55 1209.81 L1091.74 1196.82 L1095.64 1186.43 L1100.84 1178.63 L1107.33 1168.24 L1113.83 1155.25 L1119.02 1142.26 L1121.62 1129.27 L1123.7 1127.19 L1125.52 1131.87 L1128.12 1124.07 L1130.71 1121.47 L1133.31 1129.27 L1135.91 1142.26 L1138.51 1147.45 L1141.11 1160.44 L1143.7 1173.43 L1146.3 1183.83 L1150.2 1199.42 L1155.4 1212.41 L1161.89 1227.99 L1168.39 1238.39 L1176.18 1246.18 L1186.57 1250.6 L1202.16 1252.68 L1278.29 1252.68 Z" fill="#000" fill-opacity="0.063" stroke="none"/>
<path d="M934.84 1252.68 L934.84 1087.7 L937.54 1252.68 L938.46 1252.68 L1004.71 1251.9 L1022.89 1250.6 L1041.08 1248 L1051.47 1244.1 L1061.87 1236.31 L1072.26 1228.51 L1080.05 1220.72 L1086.55 1209.81 L1091.74 1196.82 L1095.64 1186.43 L1100.84 1178.63 L1107.33 1168.24 L1113.83 1155.25 L1119.02 1142.26 L1121.62 1129.27 L1123.7 1127.19 L1125.52 1131.87 L1128.12 1124.07 L1130.71 1121.47 L1133.31 1129.27 L1135.91 1142.26 L1138.51 1147.45 L1141.11 1160.44 L1143.7 1173.43 L1146.3 1183.83 L1150.2 1199.42 L1155.4 1212.41 L1161.89 1227.99 L1168.39 1238.39 L1176.18 1246.18 L1186.57 1250.6 L1202.16 1252.68 L1278.29 1252.68" stroke="#1E1414" stroke-width="1.6" fill="none" stroke-linejoin="round"/>
<path d="M934.04 1337.11 L938.46 1337.11 L1030.69 1336.59 L1048.88 1334.52 L1061.87 1333.22 L1074.86 1330.62 L1085.25 1329.32 L1095.64 1324.12 L1103.43 1318.93 L1109.93 1308.53 L1115.13 1295.54 L1120.32 1282.55 L1124.22 1274.76 L1126.82 1261.77 L1129.42 1248.78 L1133.31 1235.79 L1137.21 1209.81 L1141.11 1199.42 L1145 1186.43 L1147.08 1185.13 L1150.2 1186.43 L1152.8 1199.42 L1156.7 1209.81 L1159.29 1225.4 L1161.89 1248.78 L1165.79 1266.97 L1169.69 1287.75 L1173.58 1305.94 L1178.78 1321.53 L1185.27 1331.92 L1194.37 1335.81 L1202.16 1337.11 L1278.29 1337.11 Z" fill="#F23C3C" fill-opacity="0.52" stroke="none"/>
<path d="M934.84 1337.11 L934.84 1189.02 L937.54 1337.11 L938.46 1337.11 L1030.69 1336.59 L1048.88 1334.52 L1061.87 1333.22 L1074.86 1330.62 L1085.25 1329.32 L1095.64 1324.12 L1103.43 1318.93 L1109.93 1308.53 L1115.13 1295.54 L1120.32 1282.55 L1124.22 1274.76 L1126.82 1261.77 L1129.42 1248.78 L1133.31 1235.79 L1137.21 1209.81 L1141.11 1199.42 L1145 1186.43 L1147.08 1185.13 L1150.2 1186.43 L1152.8 1199.42 L1156.7 1209.81 L1159.29 1225.4 L1161.89 1248.78 L1165.79 1266.97 L1169.69 1287.75 L1173.58 1305.94 L1178.78 1321.53 L1185.27 1331.92 L1194.37 1335.81 L1202.16 1337.11 L1278.29 1337.11" stroke="#F01818" stroke-width="1.6" fill="none" stroke-linejoin="round"/>
<line x1="1124.22" y1="993.65" x2="1124.22" y2="1337.63" stroke="#3a3434" stroke-width="1.8" stroke-dasharray="6 4.5"/>
<rect x="934.04" y="993.65" width="344.25" height="343.99" fill="none" stroke="#000" stroke-width="2"/>
<line x1="934.56" y1="1337.63" x2="934.56" y2="1342.63" stroke="#000" stroke-width="1.6"/>
<line x1="952.94" y1="1337.63" x2="952.94" y2="1340.43" stroke="#000" stroke-width="1.2"/>
<line x1="963.69" y1="1337.63" x2="963.69" y2="1340.43" stroke="#000" stroke-width="1.2"/>
<line x1="971.32" y1="1337.63" x2="971.32" y2="1340.43" stroke="#000" stroke-width="1.2"/>
<line x1="977.24" y1="1337.63" x2="977.24" y2="1340.43" stroke="#000" stroke-width="1.2"/>
<line x1="982.07" y1="1337.63" x2="982.07" y2="1340.43" stroke="#000" stroke-width="1.2"/>
<line x1="986.16" y1="1337.63" x2="986.16" y2="1340.43" stroke="#000" stroke-width="1.2"/>
<line x1="989.7" y1="1337.63" x2="989.7" y2="1340.43" stroke="#000" stroke-width="1.2"/>
<line x1="992.82" y1="1337.63" x2="992.82" y2="1340.43" stroke="#000" stroke-width="1.2"/>
<text x="936.56" y="1368.29" font-size="22" text-anchor="middle">10<tspan font-size="13" dy="-9">1</tspan></text>
<line x1="995.61" y1="1337.63" x2="995.61" y2="1342.63" stroke="#000" stroke-width="1.6"/>
<line x1="1013.99" y1="1337.63" x2="1013.99" y2="1340.43" stroke="#000" stroke-width="1.2"/>
<line x1="1024.74" y1="1337.63" x2="1024.74" y2="1340.43" stroke="#000" stroke-width="1.2"/>
<line x1="1032.37" y1="1337.63" x2="1032.37" y2="1340.43" stroke="#000" stroke-width="1.2"/>
<line x1="1038.29" y1="1337.63" x2="1038.29" y2="1340.43" stroke="#000" stroke-width="1.2"/>
<line x1="1043.12" y1="1337.63" x2="1043.12" y2="1340.43" stroke="#000" stroke-width="1.2"/>
<line x1="1047.21" y1="1337.63" x2="1047.21" y2="1340.43" stroke="#000" stroke-width="1.2"/>
<line x1="1050.75" y1="1337.63" x2="1050.75" y2="1340.43" stroke="#000" stroke-width="1.2"/>
<line x1="1053.88" y1="1337.63" x2="1053.88" y2="1340.43" stroke="#000" stroke-width="1.2"/>
<text x="997.61" y="1368.29" font-size="22" text-anchor="middle">10<tspan font-size="13" dy="-9">2</tspan></text>
<line x1="1057.19" y1="1337.63" x2="1057.19" y2="1342.63" stroke="#000" stroke-width="1.6"/>
<line x1="1075.57" y1="1337.63" x2="1075.57" y2="1340.43" stroke="#000" stroke-width="1.2"/>
<line x1="1086.32" y1="1337.63" x2="1086.32" y2="1340.43" stroke="#000" stroke-width="1.2"/>
<line x1="1093.95" y1="1337.63" x2="1093.95" y2="1340.43" stroke="#000" stroke-width="1.2"/>
<line x1="1099.86" y1="1337.63" x2="1099.86" y2="1340.43" stroke="#000" stroke-width="1.2"/>
<line x1="1104.7" y1="1337.63" x2="1104.7" y2="1340.43" stroke="#000" stroke-width="1.2"/>
<line x1="1108.79" y1="1337.63" x2="1108.79" y2="1340.43" stroke="#000" stroke-width="1.2"/>
<line x1="1112.33" y1="1337.63" x2="1112.33" y2="1340.43" stroke="#000" stroke-width="1.2"/>
<line x1="1115.45" y1="1337.63" x2="1115.45" y2="1340.43" stroke="#000" stroke-width="1.2"/>
<text x="1059.19" y="1368.29" font-size="22" text-anchor="middle">10<tspan font-size="13" dy="-9">3</tspan></text>
<line x1="1118.5" y1="1337.63" x2="1118.5" y2="1342.63" stroke="#000" stroke-width="1.6"/>
<line x1="1136.88" y1="1337.63" x2="1136.88" y2="1340.43" stroke="#000" stroke-width="1.2"/>
<line x1="1147.63" y1="1337.63" x2="1147.63" y2="1340.43" stroke="#000" stroke-width="1.2"/>
<line x1="1155.26" y1="1337.63" x2="1155.26" y2="1340.43" stroke="#000" stroke-width="1.2"/>
<line x1="1161.18" y1="1337.63" x2="1161.18" y2="1340.43" stroke="#000" stroke-width="1.2"/>
<line x1="1166.01" y1="1337.63" x2="1166.01" y2="1340.43" stroke="#000" stroke-width="1.2"/>
<line x1="1170.1" y1="1337.63" x2="1170.1" y2="1340.43" stroke="#000" stroke-width="1.2"/>
<line x1="1173.64" y1="1337.63" x2="1173.64" y2="1340.43" stroke="#000" stroke-width="1.2"/>
<line x1="1176.76" y1="1337.63" x2="1176.76" y2="1340.43" stroke="#000" stroke-width="1.2"/>
<text x="1120.5" y="1368.29" font-size="22" text-anchor="middle">10<tspan font-size="13" dy="-9">4</tspan></text>
<line x1="1180.08" y1="1337.63" x2="1180.08" y2="1342.63" stroke="#000" stroke-width="1.6"/>
<line x1="1198.46" y1="1337.63" x2="1198.46" y2="1340.43" stroke="#000" stroke-width="1.2"/>
<line x1="1209.21" y1="1337.63" x2="1209.21" y2="1340.43" stroke="#000" stroke-width="1.2"/>
<line x1="1216.84" y1="1337.63" x2="1216.84" y2="1340.43" stroke="#000" stroke-width="1.2"/>
<line x1="1222.75" y1="1337.63" x2="1222.75" y2="1340.43" stroke="#000" stroke-width="1.2"/>
<line x1="1227.59" y1="1337.63" x2="1227.59" y2="1340.43" stroke="#000" stroke-width="1.2"/>
<line x1="1231.68" y1="1337.63" x2="1231.68" y2="1340.43" stroke="#000" stroke-width="1.2"/>
<line x1="1235.22" y1="1337.63" x2="1235.22" y2="1340.43" stroke="#000" stroke-width="1.2"/>
<line x1="1238.34" y1="1337.63" x2="1238.34" y2="1340.43" stroke="#000" stroke-width="1.2"/>
<text x="1182.08" y="1368.29" font-size="22" text-anchor="middle">10<tspan font-size="13" dy="-9">5</tspan></text>
<line x1="1241.13" y1="1337.63" x2="1241.13" y2="1342.63" stroke="#000" stroke-width="1.6"/>
<line x1="1259.51" y1="1337.63" x2="1259.51" y2="1340.43" stroke="#000" stroke-width="1.2"/>
<line x1="1270.26" y1="1337.63" x2="1270.26" y2="1340.43" stroke="#000" stroke-width="1.2"/>
<line x1="1277.89" y1="1337.63" x2="1277.89" y2="1340.43" stroke="#000" stroke-width="1.2"/>
<text x="1243.13" y="1368.29" font-size="22" text-anchor="middle">10<tspan font-size="13" dy="-9">6</tspan></text>
<text x="1086.55" y="1405.96" font-size="22" text-anchor="middle">PD-L1 level on the membrane</text>
<text x="944.95" y="1131.87" font-size="22" fill="#8A8A8A" style="stroke:#8A8A8A">IgG</text>
<text x="1258.54" y="1131.87" font-size="22" text-anchor="end" fill="#8A8A8A" style="stroke:#8A8A8A">1.36%</text>
<text x="944.95" y="1224.88" font-size="22" fill="#1E1414" style="stroke:#1E1414">EV</text>
<text x="1258.54" y="1224.88" font-size="22" text-anchor="end" fill="#1E1414" style="stroke:#1E1414">50.4%</text>
<text x="944.95" y="1307.24" font-size="22" fill="#E0101E" style="stroke:#E0101E">OV-TMUB1</text>
<text x="1258.54" y="1307.24" font-size="22" text-anchor="end" fill="#E0101E" style="stroke:#E0101E">73.6%</text>
<line x1="1452.7" y1="1035.2" x2="1452.7" y2="1338.7" stroke="#000" stroke-width="2"/>
<line x1="1437.7" y1="1337.7" x2="1452.7" y2="1337.7" stroke="#000" stroke-width="2"/>
<text x="1428.5" y="1345.7" font-size="22" text-anchor="end">0.0</text>
<line x1="1437.7" y1="1277.2" x2="1452.7" y2="1277.2" stroke="#000" stroke-width="2"/>
<text x="1428.5" y="1285.2" font-size="22" text-anchor="end">0.5</text>
<line x1="1437.7" y1="1216.7" x2="1452.7" y2="1216.7" stroke="#000" stroke-width="2"/>
<text x="1428.5" y="1224.7" font-size="22" text-anchor="end">1.0</text>
<line x1="1437.7" y1="1156.2" x2="1452.7" y2="1156.2" stroke="#000" stroke-width="2"/>
<text x="1428.5" y="1164.2" font-size="22" text-anchor="end">1.5</text>
<line x1="1437.7" y1="1095.7" x2="1452.7" y2="1095.7" stroke="#000" stroke-width="2"/>
<text x="1428.5" y="1103.7" font-size="22" text-anchor="end">2.0</text>
<line x1="1437.7" y1="1035.2" x2="1452.7" y2="1035.2" stroke="#000" stroke-width="2"/>
<text x="1428.5" y="1043.2" font-size="22" text-anchor="end">2.5</text>
<line x1="1437.7" y1="1337.7" x2="1693" y2="1337.7" stroke="#000" stroke-width="2"/>
<rect x="1478.7" y="1312.89" width="43.4" height="24.81" fill="#A2A2A8"/>
<line x1="1500.4" y1="1312.89" x2="1500.4" y2="1304" stroke="#000" stroke-width="2"/>
<line x1="1489.3" y1="1304" x2="1512.4" y2="1304" stroke="#000" stroke-width="2"/>
<circle cx="1479.82" cy="1298.82" r="4" fill="#000"/>
<circle cx="1479.82" cy="1307.87" r="4" fill="#000"/>
<circle cx="1490.45" cy="1309.46" r="4" fill="#000"/>
<circle cx="1490.45" cy="1315.79" r="4" fill="#000"/>
<circle cx="1500.63" cy="1309.68" r="4" fill="#000"/>
<circle cx="1510.81" cy="1313.98" r="4" fill="#000"/>
<circle cx="1521" cy="1309.68" r="4" fill="#000"/>
<line x1="1500.4" y1="1337.7" x2="1500.4" y2="1349.7" stroke="#000" stroke-width="2"/>
<rect x="1549.3" y="1179.19" width="45.7" height="158.51" fill="#fff" stroke="#1a1111" stroke-width="2"/>
<line x1="1572.15" y1="1179.19" x2="1572.15" y2="1167.6" stroke="#000" stroke-width="2"/>
<line x1="1558.3" y1="1167.6" x2="1588.9" y2="1167.6" stroke="#000" stroke-width="2"/>
<circle cx="1557.87" cy="1170.54" r="4" fill="#000"/>
<circle cx="1571.9" cy="1168.73" r="4" fill="#000"/>
<circle cx="1586.61" cy="1166.02" r="4" fill="#000"/>
<circle cx="1571.9" cy="1176.65" r="4" fill="#000"/>
<circle cx="1571.9" cy="1182.31" r="4" fill="#000"/>
<circle cx="1557.87" cy="1190.9" r="4" fill="#000"/>
<circle cx="1586.61" cy="1190.23" r="4" fill="#000"/>
<line x1="1572.15" y1="1337.7" x2="1572.15" y2="1349.7" stroke="#000" stroke-width="2"/>
<rect x="1620.1" y="1089.65" width="47.5" height="248.05" fill="#FF9898"/>
<line x1="1643.85" y1="1089.65" x2="1643.85" y2="1078.2" stroke="#000" stroke-width="2"/>
<line x1="1630.7" y1="1078.2" x2="1655.6" y2="1078.2" stroke="#000" stroke-width="2"/>
<circle cx="1629.14" cy="1079.82" r="4" fill="#000"/>
<circle cx="1643.62" cy="1073.71" r="4" fill="#000"/>
<circle cx="1643.62" cy="1087.29" r="4" fill="#000"/>
<circle cx="1658.55" cy="1087.29" r="4" fill="#000"/>
<circle cx="1658.55" cy="1096.79" r="4" fill="#000"/>
<circle cx="1643.62" cy="1099.28" r="4" fill="#000"/>
<circle cx="1643.62" cy="1108.78" r="4" fill="#000"/>
<line x1="1643.85" y1="1337.7" x2="1643.85" y2="1349.7" stroke="#000" stroke-width="2"/>
<text x="1561.7" y="1026.2" font-size="19" text-anchor="start"><tspan font-style="italic">p</tspan> &lt; 0.0001</text>
<line x1="1572.6" y1="1035.7" x2="1643.6" y2="1035.7" stroke="#3a2c2c" stroke-width="1.8"/>
<text x="1509.5" y="1365.5" font-size="22.3" text-anchor="end" transform="rotate(-45 1509.5 1365.5)">IgG</text>
<text x="1579.5" y="1365.5" font-size="22.3" text-anchor="end" transform="rotate(-45 1579.5 1365.5)">EV</text>
<text x="1655" y="1367.5" font-size="22.3" text-anchor="end" transform="rotate(-45 1655 1367.5)">OV-TMUB1</text>
<text x="1386.4" y="1185.7" font-size="22" text-anchor="middle" transform="rotate(-90 1386.4 1185.7)">PD-L1 MFI (10<tspan font-size="13" dy="-8">4</tspan><tspan dy="8">)</tspan></text>
<text x="0" y="1443.5" font-size="32.5" font-weight="bold">j</text>
<path d="M44.72 1607.12 L49.24 1607.12 L93.16 1607.12 L125.1 1604.99 L138.41 1601 L149.06 1595.67 L159.7 1589.02 L167.69 1586.36 L175.67 1587.69 L183.66 1586.36 L191.64 1585.56 L199.63 1588.22 L207.61 1593.01 L215.6 1598.33 L226.24 1602.33 L239.55 1604.99 L252.86 1607.12 L389.41 1607.12 Z" fill="#D3D3D3" fill-opacity="1" stroke="none"/>
<path d="M45.52 1607.12 L45.52 1601 L48.22 1607.12 L49.24 1607.12 L93.16 1607.12 L125.1 1604.99 L138.41 1601 L149.06 1595.67 L159.7 1589.02 L167.69 1586.36 L175.67 1587.69 L183.66 1586.36 L191.64 1585.56 L199.63 1588.22 L207.61 1593.01 L215.6 1598.33 L226.24 1602.33 L239.55 1604.99 L252.86 1607.12 L389.41 1607.12" stroke="#8E8E8E" stroke-width="1.6" fill="none" stroke-linejoin="round"/>
<path d="M44.72 1674.99 L49.24 1674.99 L159.7 1674.19 L186.32 1672.33 L202.29 1668.87 L212.94 1662.75 L220.92 1654.23 L228.91 1638.26 L234.23 1622.29 L239.55 1601 L243.55 1585.03 L247.54 1575.71 L251.53 1571.72 L255.52 1573.05 L259.52 1571.72 L262.18 1573.85 L264.84 1572.25 L268.83 1579.7 L271.49 1590.35 L275.49 1611.64 L279.48 1632.94 L283.47 1651.57 L287.46 1662.21 L292.79 1668.87 L303.43 1674.19 L319.4 1674.99 L389.41 1674.99 Z" fill="#000" fill-opacity="0.063" stroke="none"/>
<path d="M45.52 1674.99 L45.52 1638.26 L48.22 1674.99 L49.24 1674.99 L159.7 1674.19 L186.32 1672.33 L202.29 1668.87 L212.94 1662.75 L220.92 1654.23 L228.91 1638.26 L234.23 1622.29 L239.55 1601 L243.55 1585.03 L247.54 1575.71 L251.53 1571.72 L255.52 1573.05 L259.52 1571.72 L262.18 1573.85 L264.84 1572.25 L268.83 1579.7 L271.49 1590.35 L275.49 1611.64 L279.48 1632.94 L283.47 1651.57 L287.46 1662.21 L292.79 1668.87 L303.43 1674.19 L319.4 1674.99 L389.41 1674.99" stroke="#1E1414" stroke-width="1.6" fill="none" stroke-linejoin="round"/>
<path d="M44.72 1743.4 L49.24 1743.4 L159.7 1742.07 L181 1739.4 L191.64 1736.74 L202.29 1731.42 L210.27 1720.77 L215.6 1712.79 L220.92 1696.82 L226.24 1680.85 L231.57 1670.2 L235.56 1666.21 L238.22 1664.34 L240.88 1667.54 L246.21 1666.21 L251.53 1662.21 L255.52 1664.88 L259.52 1675.52 L263.51 1694.15 L267.5 1712.79 L271.49 1728.76 L276.82 1736.74 L287.46 1742.07 L292.79 1743.4 L389.41 1743.4 Z" fill="#8FBDF5" fill-opacity="1" stroke="none"/>
<path d="M45.52 1743.4 L45.52 1707.46 L48.22 1743.4 L49.24 1743.4 L159.7 1742.07 L181 1739.4 L191.64 1736.74 L202.29 1731.42 L210.27 1720.77 L215.6 1712.79 L220.92 1696.82 L226.24 1680.85 L231.57 1670.2 L235.56 1666.21 L238.22 1664.34 L240.88 1667.54 L246.21 1666.21 L251.53 1662.21 L255.52 1664.88 L259.52 1675.52 L263.51 1694.15 L267.5 1712.79 L271.49 1728.76 L276.82 1736.74 L287.46 1742.07 L292.79 1743.4 L389.41 1743.4" stroke="#2A86C4" stroke-width="1.6" fill="none" stroke-linejoin="round"/>
<path d="M44.72 1809.41 L49.24 1809.41 L146.39 1808.61 L173.01 1805.95 L186.32 1803.28 L196.97 1797.96 L204.95 1789.98 L212.94 1776.67 L218.26 1763.36 L223.58 1739.4 L228.91 1715.45 L232.9 1696.82 L235.56 1686.17 L239.55 1688.83 L242.21 1684.84 L247.54 1684.84 L250.2 1682.18 L252.86 1688.83 L256.85 1699.48 L262.18 1715.45 L267.5 1739.4 L272.82 1766.02 L278.15 1787.31 L284.8 1800.62 L292.79 1805.95 L306.1 1808.61 L319.4 1809.41 L389.41 1809.41 Z" fill="#579EF6" fill-opacity="1" stroke="none"/>
<path d="M45.52 1809.41 L45.52 1797.96 L48.22 1809.41 L49.24 1809.41 L146.39 1808.61 L173.01 1805.95 L186.32 1803.28 L196.97 1797.96 L204.95 1789.98 L212.94 1776.67 L218.26 1763.36 L223.58 1739.4 L228.91 1715.45 L232.9 1696.82 L235.56 1686.17 L239.55 1688.83 L242.21 1684.84 L247.54 1684.84 L250.2 1682.18 L252.86 1688.83 L256.85 1699.48 L262.18 1715.45 L267.5 1739.4 L272.82 1766.02 L278.15 1787.31 L284.8 1800.62 L292.79 1805.95 L306.1 1808.61 L319.4 1809.41 L389.41 1809.41" stroke="#1C2A5E" stroke-width="1.6" fill="none" stroke-linejoin="round"/>
<line x1="254.99" y1="1467.11" x2="254.99" y2="1809.41" stroke="#3a3434" stroke-width="1.8" stroke-dasharray="6 4.5"/>
<rect x="44.72" y="1467.11" width="344.69" height="342.29" fill="none" stroke="#000" stroke-width="2"/>
<line x1="45.25" y1="1809.41" x2="45.25" y2="1814.41" stroke="#000" stroke-width="1.6"/>
<line x1="63.68" y1="1809.41" x2="63.68" y2="1812.21" stroke="#000" stroke-width="1.2"/>
<line x1="74.46" y1="1809.41" x2="74.46" y2="1812.21" stroke="#000" stroke-width="1.2"/>
<line x1="82.11" y1="1809.41" x2="82.11" y2="1812.21" stroke="#000" stroke-width="1.2"/>
<line x1="88.04" y1="1809.41" x2="88.04" y2="1812.21" stroke="#000" stroke-width="1.2"/>
<line x1="92.89" y1="1809.41" x2="92.89" y2="1812.21" stroke="#000" stroke-width="1.2"/>
<line x1="96.98" y1="1809.41" x2="96.98" y2="1812.21" stroke="#000" stroke-width="1.2"/>
<line x1="100.54" y1="1809.41" x2="100.54" y2="1812.21" stroke="#000" stroke-width="1.2"/>
<line x1="103.67" y1="1809.41" x2="103.67" y2="1812.21" stroke="#000" stroke-width="1.2"/>
<text x="47.25" y="1841.88" font-size="22" text-anchor="middle">10<tspan font-size="13" dy="-9">1</tspan></text>
<line x1="106.47" y1="1809.41" x2="106.47" y2="1814.41" stroke="#000" stroke-width="1.6"/>
<line x1="124.9" y1="1809.41" x2="124.9" y2="1812.21" stroke="#000" stroke-width="1.2"/>
<line x1="135.68" y1="1809.41" x2="135.68" y2="1812.21" stroke="#000" stroke-width="1.2"/>
<line x1="143.33" y1="1809.41" x2="143.33" y2="1812.21" stroke="#000" stroke-width="1.2"/>
<line x1="149.26" y1="1809.41" x2="149.26" y2="1812.21" stroke="#000" stroke-width="1.2"/>
<line x1="154.11" y1="1809.41" x2="154.11" y2="1812.21" stroke="#000" stroke-width="1.2"/>
<line x1="158.2" y1="1809.41" x2="158.2" y2="1812.21" stroke="#000" stroke-width="1.2"/>
<line x1="161.75" y1="1809.41" x2="161.75" y2="1812.21" stroke="#000" stroke-width="1.2"/>
<line x1="164.89" y1="1809.41" x2="164.89" y2="1812.21" stroke="#000" stroke-width="1.2"/>
<text x="108.47" y="1841.88" font-size="22" text-anchor="middle">10<tspan font-size="13" dy="-9">2</tspan></text>
<line x1="168.22" y1="1809.41" x2="168.22" y2="1814.41" stroke="#000" stroke-width="1.6"/>
<line x1="186.65" y1="1809.41" x2="186.65" y2="1812.21" stroke="#000" stroke-width="1.2"/>
<line x1="197.43" y1="1809.41" x2="197.43" y2="1812.21" stroke="#000" stroke-width="1.2"/>
<line x1="205.08" y1="1809.41" x2="205.08" y2="1812.21" stroke="#000" stroke-width="1.2"/>
<line x1="211.01" y1="1809.41" x2="211.01" y2="1812.21" stroke="#000" stroke-width="1.2"/>
<line x1="215.86" y1="1809.41" x2="215.86" y2="1812.21" stroke="#000" stroke-width="1.2"/>
<line x1="219.96" y1="1809.41" x2="219.96" y2="1812.21" stroke="#000" stroke-width="1.2"/>
<line x1="223.51" y1="1809.41" x2="223.51" y2="1812.21" stroke="#000" stroke-width="1.2"/>
<line x1="226.64" y1="1809.41" x2="226.64" y2="1812.21" stroke="#000" stroke-width="1.2"/>
<text x="170.22" y="1841.88" font-size="22" text-anchor="middle">10<tspan font-size="13" dy="-9">3</tspan></text>
<line x1="229.7" y1="1809.41" x2="229.7" y2="1814.41" stroke="#000" stroke-width="1.6"/>
<line x1="248.13" y1="1809.41" x2="248.13" y2="1812.21" stroke="#000" stroke-width="1.2"/>
<line x1="258.91" y1="1809.41" x2="258.91" y2="1812.21" stroke="#000" stroke-width="1.2"/>
<line x1="266.56" y1="1809.41" x2="266.56" y2="1812.21" stroke="#000" stroke-width="1.2"/>
<line x1="272.49" y1="1809.41" x2="272.49" y2="1812.21" stroke="#000" stroke-width="1.2"/>
<line x1="277.34" y1="1809.41" x2="277.34" y2="1812.21" stroke="#000" stroke-width="1.2"/>
<line x1="281.44" y1="1809.41" x2="281.44" y2="1812.21" stroke="#000" stroke-width="1.2"/>
<line x1="284.99" y1="1809.41" x2="284.99" y2="1812.21" stroke="#000" stroke-width="1.2"/>
<line x1="288.12" y1="1809.41" x2="288.12" y2="1812.21" stroke="#000" stroke-width="1.2"/>
<text x="231.7" y="1841.88" font-size="22" text-anchor="middle">10<tspan font-size="13" dy="-9">4</tspan></text>
<line x1="291.46" y1="1809.41" x2="291.46" y2="1814.41" stroke="#000" stroke-width="1.6"/>
<line x1="309.88" y1="1809.41" x2="309.88" y2="1812.21" stroke="#000" stroke-width="1.2"/>
<line x1="320.66" y1="1809.41" x2="320.66" y2="1812.21" stroke="#000" stroke-width="1.2"/>
<line x1="328.31" y1="1809.41" x2="328.31" y2="1812.21" stroke="#000" stroke-width="1.2"/>
<line x1="334.25" y1="1809.41" x2="334.25" y2="1812.21" stroke="#000" stroke-width="1.2"/>
<line x1="339.09" y1="1809.41" x2="339.09" y2="1812.21" stroke="#000" stroke-width="1.2"/>
<line x1="343.19" y1="1809.41" x2="343.19" y2="1812.21" stroke="#000" stroke-width="1.2"/>
<line x1="346.74" y1="1809.41" x2="346.74" y2="1812.21" stroke="#000" stroke-width="1.2"/>
<line x1="349.87" y1="1809.41" x2="349.87" y2="1812.21" stroke="#000" stroke-width="1.2"/>
<text x="293.46" y="1841.88" font-size="22" text-anchor="middle">10<tspan font-size="13" dy="-9">5</tspan></text>
<line x1="353.21" y1="1809.41" x2="353.21" y2="1814.41" stroke="#000" stroke-width="1.6"/>
<line x1="371.64" y1="1809.41" x2="371.64" y2="1812.21" stroke="#000" stroke-width="1.2"/>
<line x1="382.42" y1="1809.41" x2="382.42" y2="1812.21" stroke="#000" stroke-width="1.2"/>
<text x="355.21" y="1841.88" font-size="22" text-anchor="middle">10<tspan font-size="13" dy="-9">6</tspan></text>
<text x="200.96" y="1871.16" font-size="22" text-anchor="middle">PD-L1 level on the membrane</text>
<text x="50.57" y="1586.36" font-size="22" fill="#8A8A8A" style="stroke:#8A8A8A">IgG</text>
<text x="371.31" y="1586.36" font-size="22" text-anchor="end" fill="#8A8A8A" style="stroke:#8A8A8A">0.23%</text>
<text x="50.57" y="1650.24" font-size="22" fill="#1E1414" style="stroke:#1E1414">Sh-Scramble</text>
<text x="371.31" y="1650.24" font-size="22" text-anchor="end" fill="#1E1414" style="stroke:#1E1414">50.1%</text>
<text x="50.57" y="1718.91" font-size="22" fill="#2A86C4" style="stroke:#2A86C4">Sh-TMUB1#1</text>
<text x="371.31" y="1718.91" font-size="22" text-anchor="end" fill="#2A86C4" style="stroke:#2A86C4">25.8%</text>
<text x="50.57" y="1787.31" font-size="22" fill="#1C2A6E" style="stroke:#1C2A6E">Sh-TMUB1#2</text>
<text x="371.31" y="1787.31" font-size="22" text-anchor="end" fill="#1C2A6E" style="stroke:#1C2A6E">27.2%</text>
<line x1="517.5" y1="1509.5" x2="517.5" y2="1807.6" stroke="#000" stroke-width="2"/>
<line x1="505.3" y1="1806.6" x2="517.5" y2="1806.6" stroke="#000" stroke-width="2"/>
<text x="495.5" y="1814.6" font-size="22" text-anchor="end">0</text>
<line x1="505.3" y1="1707.57" x2="517.5" y2="1707.57" stroke="#000" stroke-width="2"/>
<text x="495.5" y="1715.57" font-size="22" text-anchor="end">1</text>
<line x1="505.3" y1="1608.54" x2="517.5" y2="1608.54" stroke="#000" stroke-width="2"/>
<text x="495.5" y="1616.54" font-size="22" text-anchor="end">2</text>
<line x1="505.3" y1="1509.51" x2="517.5" y2="1509.51" stroke="#000" stroke-width="2"/>
<text x="495.5" y="1517.51" font-size="22" text-anchor="end">3</text>
<line x1="505.3" y1="1806.6" x2="815.3" y2="1806.6" stroke="#000" stroke-width="2"/>
<rect x="541.5" y="1793.73" width="42.4" height="12.87" fill="#A2A2A8"/>
<line x1="562.7" y1="1793.73" x2="562.7" y2="1787" stroke="#000" stroke-width="2"/>
<line x1="556.7" y1="1787" x2="569.4" y2="1787" stroke="#000" stroke-width="2"/>
<circle cx="543.56" cy="1796.43" r="3.9" fill="#000"/>
<circle cx="552.94" cy="1784.26" r="3.9" fill="#000"/>
<circle cx="552.94" cy="1791.36" r="3.9" fill="#000"/>
<circle cx="562.57" cy="1795.67" r="3.9" fill="#000"/>
<circle cx="572.46" cy="1787.55" r="3.9" fill="#000"/>
<circle cx="572.46" cy="1794.4" r="3.9" fill="#000"/>
<circle cx="582.09" cy="1796.43" r="3.9" fill="#000"/>
<line x1="562.7" y1="1806.6" x2="562.7" y2="1818.6" stroke="#000" stroke-width="2"/>
<rect x="609.5" y="1583.78" width="43.6" height="222.82" fill="#fff" stroke="#1a1111" stroke-width="2"/>
<line x1="631.3" y1="1583.78" x2="631.3" y2="1567.5" stroke="#000" stroke-width="2"/>
<line x1="620" y1="1567.5" x2="645.5" y2="1567.5" stroke="#000" stroke-width="2"/>
<circle cx="619.35" cy="1572.09" r="3.9" fill="#000"/>
<circle cx="631.52" cy="1570.06" r="3.9" fill="#000"/>
<circle cx="643.43" cy="1564.99" r="3.9" fill="#000"/>
<circle cx="619.35" cy="1582.99" r="3.9" fill="#000"/>
<circle cx="631.52" cy="1586.29" r="3.9" fill="#000"/>
<circle cx="643.43" cy="1598.2" r="3.9" fill="#000"/>
<circle cx="619.35" cy="1603.78" r="3.9" fill="#000"/>
<line x1="631.3" y1="1806.6" x2="631.3" y2="1818.6" stroke="#000" stroke-width="2"/>
<rect x="677.1" y="1659.05" width="45.2" height="147.55" fill="#90BEF8"/>
<line x1="699.7" y1="1659.05" x2="699.7" y2="1649.4" stroke="#000" stroke-width="2"/>
<line x1="688" y1="1649.4" x2="710.9" y2="1649.4" stroke="#000" stroke-width="2"/>
<circle cx="699.96" cy="1640.03" r="3.9" fill="#000"/>
<circle cx="687.79" cy="1656.5" r="3.9" fill="#000"/>
<circle cx="699.96" cy="1656.25" r="3.9" fill="#000"/>
<circle cx="711.37" cy="1659.54" r="3.9" fill="#000"/>
<circle cx="687.79" cy="1669.68" r="3.9" fill="#000"/>
<circle cx="699.96" cy="1663.35" r="3.9" fill="#000"/>
<circle cx="711.37" cy="1667.91" r="3.9" fill="#000"/>
<line x1="699.7" y1="1806.6" x2="699.7" y2="1818.6" stroke="#000" stroke-width="2"/>
<rect x="745.1" y="1653.1" width="45.6" height="153.5" fill="#559EF8"/>
<line x1="767.9" y1="1653.1" x2="767.9" y2="1644.3" stroke="#000" stroke-width="2"/>
<line x1="756.5" y1="1644.3" x2="779.3" y2="1644.3" stroke="#000" stroke-width="2"/>
<circle cx="774.23" cy="1639.26" r="3.9" fill="#000"/>
<circle cx="761.31" cy="1648.64" r="3.9" fill="#000"/>
<circle cx="774.23" cy="1645.6" r="3.9" fill="#000"/>
<circle cx="761.31" cy="1656.25" r="3.9" fill="#000"/>
<circle cx="774.23" cy="1659.04" r="3.9" fill="#000"/>
<circle cx="787.41" cy="1658.28" r="3.9" fill="#000"/>
<circle cx="748.12" cy="1662.08" r="3.9" fill="#000"/>
<line x1="767.9" y1="1806.6" x2="767.9" y2="1818.6" stroke="#000" stroke-width="2"/>
<text x="656.9" y="1493.5" font-size="19" text-anchor="start"><tspan font-style="italic">p</tspan> &lt; 0.0001</text>
<line x1="631.5" y1="1501.1" x2="767.9" y2="1501.1" stroke="#3a2c2c" stroke-width="1.8"/>
<text x="620.1" y="1536.6" font-size="19" text-anchor="start"><tspan font-style="italic">p</tspan> &lt; 0.0001</text>
<line x1="631.5" y1="1544.2" x2="699.2" y2="1544.2" stroke="#3a2c2c" stroke-width="1.8"/>
<text x="571.5" y="1835.5" font-size="22.3" text-anchor="end" transform="rotate(-45 571.5 1835.5)">IgG</text>
<text x="639.5" y="1835.5" font-size="22.3" text-anchor="end" transform="rotate(-45 639.5 1835.5)">Sh-Scramble</text>
<text x="708.5" y="1835.5" font-size="22.3" text-anchor="end" transform="rotate(-45 708.5 1835.5)">Sh-TMUB1#1</text>
<text x="777.5" y="1835.5" font-size="22.3" text-anchor="end" transform="rotate(-45 777.5 1835.5)">Sh-TMUB1#2</text>
<text x="468" y="1667.2" font-size="22" text-anchor="middle" transform="rotate(-90 468 1667.2)">PD-L1 MFI (10<tspan font-size="13" dy="-8">4</tspan><tspan dy="8">)</tspan></text>
<text x="889" y="1452" font-size="32.5" font-weight="bold">k</text>
<path d="M935.08 1605.24 L939.76 1605.24 L1000.81 1605.24 L1000.81 1601.87 L1012.5 1601.87 L1012.5 1599.27 L1020.3 1599.27 L1020.3 1596.67 L1025.49 1596.67 L1025.49 1594.07 L1031.99 1594.07 L1031.99 1590.17 L1037.18 1590.17 L1037.18 1584.98 L1042.38 1584.98 L1042.38 1578.48 L1046.28 1578.48 L1046.28 1573.29 L1051.47 1573.29 L1051.47 1561.6 L1056.67 1561.6 L1056.67 1547.31 L1061.87 1547.31 L1061.87 1534.32 L1065.76 1534.32 L1065.76 1516.13 L1070.96 1516.13 L1070.96 1508.33 L1074.86 1507.04 L1078.75 1509.63 L1081.35 1507.04 L1085.25 1507.04 L1087.85 1529.12 L1090.44 1544.71 L1095.64 1560.3 L1099.54 1575.88 L1103.43 1584.46 L1124.22 1584.46 L1129.42 1587.58 L1135.91 1596.67 L1139.81 1599.27 L1145 1605.24 L1278.8 1605.24 Z" fill="#D3D3D3" fill-opacity="1" stroke="none"/>
<path d="M935.88 1605.24 L935.88 1534.32 L938.58 1605.24 L939.76 1605.24 L1000.81 1605.24 L1000.81 1601.87 L1012.5 1601.87 L1012.5 1599.27 L1020.3 1599.27 L1020.3 1596.67 L1025.49 1596.67 L1025.49 1594.07 L1031.99 1594.07 L1031.99 1590.17 L1037.18 1590.17 L1037.18 1584.98 L1042.38 1584.98 L1042.38 1578.48 L1046.28 1578.48 L1046.28 1573.29 L1051.47 1573.29 L1051.47 1561.6 L1056.67 1561.6 L1056.67 1547.31 L1061.87 1547.31 L1061.87 1534.32 L1065.76 1534.32 L1065.76 1516.13 L1070.96 1516.13 L1070.96 1508.33 L1074.86 1507.04 L1078.75 1509.63 L1081.35 1507.04 L1085.25 1507.04 L1087.85 1529.12 L1090.44 1544.71 L1095.64 1560.3 L1099.54 1575.88 L1103.43 1584.46 L1124.22 1584.46 L1129.42 1587.58 L1135.91 1596.67 L1139.81 1599.27 L1145 1605.24 L1278.8 1605.24" stroke="#8E8E8E" stroke-width="1.6" fill="none" stroke-linejoin="round"/>
<path d="M935.08 1676.43 L939.76 1676.43 L1009.9 1675.91 L1043.68 1672.01 L1061.87 1669.42 L1074.86 1662.92 L1085.25 1653.83 L1093.04 1643.43 L1098.24 1627.85 L1103.43 1612.26 L1108.63 1599.27 L1113.83 1591.47 L1119.02 1586.28 L1122.92 1578.48 L1125.52 1570.69 L1129.42 1572.77 L1133.31 1571.99 L1137.21 1573.29 L1141.11 1571.99 L1145 1570.69 L1150.2 1573.81 L1154.1 1578.48 L1157.99 1584.98 L1161.89 1584.98 L1165.79 1592.77 L1169.69 1607.06 L1173.58 1620.05 L1178.78 1633.04 L1183.98 1646.03 L1190.47 1659.02 L1196.97 1666.82 L1207.36 1672.01 L1222.95 1674.61 L1248.93 1676.43 L1278.8 1676.43 Z" fill="#000" fill-opacity="0.063" stroke="none"/>
<path d="M935.88 1676.43 L935.88 1630.44 L938.58 1676.43 L939.76 1676.43 L1009.9 1675.91 L1043.68 1672.01 L1061.87 1669.42 L1074.86 1662.92 L1085.25 1653.83 L1093.04 1643.43 L1098.24 1627.85 L1103.43 1612.26 L1108.63 1599.27 L1113.83 1591.47 L1119.02 1586.28 L1122.92 1578.48 L1125.52 1570.69 L1129.42 1572.77 L1133.31 1571.99 L1137.21 1573.29 L1141.11 1571.99 L1145 1570.69 L1150.2 1573.81 L1154.1 1578.48 L1157.99 1584.98 L1161.89 1584.98 L1165.79 1592.77 L1169.69 1607.06 L1173.58 1620.05 L1178.78 1633.04 L1183.98 1646.03 L1190.47 1659.02 L1196.97 1666.82 L1207.36 1672.01 L1222.95 1674.61 L1248.93 1676.43 L1278.8 1676.43" stroke="#1E1414" stroke-width="1.6" fill="none" stroke-linejoin="round"/>
<path d="M935.08 1744.76 L1077.45 1744.76 L1087.85 1744.24 L1100.84 1743.46 L1108.63 1742.16 L1116.43 1739.56 L1121.62 1736.97 L1137.21 1731.77 L1142.41 1713.58 L1146.3 1679.81 L1150.2 1640.84 L1154.1 1613.56 L1167.09 1613.56 L1170.98 1633.04 L1174.88 1666.82 L1178.78 1690.2 L1183.98 1705.79 L1191.77 1718.78 L1202.16 1726.57 L1217.75 1734.37 L1238.53 1740.86 L1264.52 1744.76 L1278.8 1744.76 Z" fill="#F23C3C" fill-opacity="0.52" stroke="none"/>
<path d="M935.08 1744.76 L1077.45 1744.76 L1087.85 1744.24 L1100.84 1743.46 L1108.63 1742.16 L1116.43 1739.56 L1121.62 1736.97 L1137.21 1731.77 L1142.41 1713.58 L1146.3 1679.81 L1150.2 1640.84 L1154.1 1613.56 L1167.09 1613.56 L1170.98 1633.04 L1174.88 1666.82 L1178.78 1690.2 L1183.98 1705.79 L1191.77 1718.78 L1202.16 1726.57 L1217.75 1734.37 L1238.53 1740.86 L1264.52 1744.76 L1278.8 1744.76" stroke="#F01818" stroke-width="1.6" fill="none" stroke-linejoin="round"/>
<path d="M935.08 1810.49 L939.76 1809.71 L1009.9 1808.93 L1048.88 1805.81 L1067.06 1803.22 L1077.45 1798.02 L1085.25 1791.53 L1090.44 1783.73 L1095.64 1775.94 L1102.14 1768.14 L1108.63 1755.15 L1112.53 1747.36 L1116.43 1739.56 L1121.62 1726.57 L1125.52 1716.18 L1129.42 1705.79 L1133.31 1696.7 L1137.21 1687.6 L1138.51 1684.48 L1155.4 1684.48 L1159.29 1695.4 L1161.89 1705.79 L1165.79 1723.98 L1169.69 1739.56 L1173.58 1755.15 L1178.78 1770.74 L1185.27 1783.73 L1191.77 1791.53 L1202.16 1798.02 L1217.75 1801.92 L1238.53 1808.41 L1256.72 1810.49 L1278.8 1810.49 Z" fill="#8FBDF5" fill-opacity="1" stroke="none"/>
<path d="M935.88 1810.49 L935.88 1712.28 L938.58 1810.49 L939.76 1809.71 L1009.9 1808.93 L1048.88 1805.81 L1067.06 1803.22 L1077.45 1798.02 L1085.25 1791.53 L1090.44 1783.73 L1095.64 1775.94 L1102.14 1768.14 L1108.63 1755.15 L1112.53 1747.36 L1116.43 1739.56 L1121.62 1726.57 L1125.52 1716.18 L1129.42 1705.79 L1133.31 1696.7 L1137.21 1687.6 L1138.51 1684.48 L1155.4 1684.48 L1159.29 1695.4 L1161.89 1705.79 L1165.79 1723.98 L1169.69 1739.56 L1173.58 1755.15 L1178.78 1770.74 L1185.27 1783.73 L1191.77 1791.53 L1202.16 1798.02 L1217.75 1801.92 L1238.53 1808.41 L1256.72 1810.49 L1278.8 1810.49" stroke="#2A86C4" stroke-width="1.6" fill="none" stroke-linejoin="round"/>
<line x1="1139.81" y1="1465.99" x2="1139.81" y2="1810.49" stroke="#3a3434" stroke-width="1.8" stroke-dasharray="6 4.5"/>
<rect x="935.08" y="1465.99" width="343.73" height="344.51" fill="none" stroke="#000" stroke-width="2"/>
<line x1="936.64" y1="1810.49" x2="936.64" y2="1815.49" stroke="#000" stroke-width="1.6"/>
<line x1="958.85" y1="1810.49" x2="958.85" y2="1813.29" stroke="#000" stroke-width="1.2"/>
<line x1="971.84" y1="1810.49" x2="971.84" y2="1813.29" stroke="#000" stroke-width="1.2"/>
<line x1="981.06" y1="1810.49" x2="981.06" y2="1813.29" stroke="#000" stroke-width="1.2"/>
<line x1="988.21" y1="1810.49" x2="988.21" y2="1813.29" stroke="#000" stroke-width="1.2"/>
<line x1="994.05" y1="1810.49" x2="994.05" y2="1813.29" stroke="#000" stroke-width="1.2"/>
<line x1="998.99" y1="1810.49" x2="998.99" y2="1813.29" stroke="#000" stroke-width="1.2"/>
<line x1="1003.27" y1="1810.49" x2="1003.27" y2="1813.29" stroke="#000" stroke-width="1.2"/>
<line x1="1007.05" y1="1810.49" x2="1007.05" y2="1813.29" stroke="#000" stroke-width="1.2"/>
<text x="938.64" y="1847.38" font-size="22" text-anchor="middle">10<tspan font-size="13" dy="-9">1</tspan></text>
<line x1="1010.42" y1="1810.49" x2="1010.42" y2="1815.49" stroke="#000" stroke-width="1.6"/>
<line x1="1032.64" y1="1810.49" x2="1032.64" y2="1813.29" stroke="#000" stroke-width="1.2"/>
<line x1="1045.63" y1="1810.49" x2="1045.63" y2="1813.29" stroke="#000" stroke-width="1.2"/>
<line x1="1054.85" y1="1810.49" x2="1054.85" y2="1813.29" stroke="#000" stroke-width="1.2"/>
<line x1="1062" y1="1810.49" x2="1062" y2="1813.29" stroke="#000" stroke-width="1.2"/>
<line x1="1067.84" y1="1810.49" x2="1067.84" y2="1813.29" stroke="#000" stroke-width="1.2"/>
<line x1="1072.78" y1="1810.49" x2="1072.78" y2="1813.29" stroke="#000" stroke-width="1.2"/>
<line x1="1077.06" y1="1810.49" x2="1077.06" y2="1813.29" stroke="#000" stroke-width="1.2"/>
<line x1="1080.83" y1="1810.49" x2="1080.83" y2="1813.29" stroke="#000" stroke-width="1.2"/>
<text x="1012.42" y="1847.38" font-size="22" text-anchor="middle">10<tspan font-size="13" dy="-9">2</tspan></text>
<line x1="1084.47" y1="1810.49" x2="1084.47" y2="1815.49" stroke="#000" stroke-width="1.6"/>
<line x1="1106.68" y1="1810.49" x2="1106.68" y2="1813.29" stroke="#000" stroke-width="1.2"/>
<line x1="1119.67" y1="1810.49" x2="1119.67" y2="1813.29" stroke="#000" stroke-width="1.2"/>
<line x1="1128.89" y1="1810.49" x2="1128.89" y2="1813.29" stroke="#000" stroke-width="1.2"/>
<line x1="1136.04" y1="1810.49" x2="1136.04" y2="1813.29" stroke="#000" stroke-width="1.2"/>
<line x1="1141.88" y1="1810.49" x2="1141.88" y2="1813.29" stroke="#000" stroke-width="1.2"/>
<line x1="1146.82" y1="1810.49" x2="1146.82" y2="1813.29" stroke="#000" stroke-width="1.2"/>
<line x1="1151.1" y1="1810.49" x2="1151.1" y2="1813.29" stroke="#000" stroke-width="1.2"/>
<line x1="1154.88" y1="1810.49" x2="1154.88" y2="1813.29" stroke="#000" stroke-width="1.2"/>
<text x="1086.47" y="1847.38" font-size="22" text-anchor="middle">10<tspan font-size="13" dy="-9">3</tspan></text>
<line x1="1158.77" y1="1810.49" x2="1158.77" y2="1815.49" stroke="#000" stroke-width="1.6"/>
<line x1="1180.99" y1="1810.49" x2="1180.99" y2="1813.29" stroke="#000" stroke-width="1.2"/>
<line x1="1193.98" y1="1810.49" x2="1193.98" y2="1813.29" stroke="#000" stroke-width="1.2"/>
<line x1="1203.2" y1="1810.49" x2="1203.2" y2="1813.29" stroke="#000" stroke-width="1.2"/>
<line x1="1210.35" y1="1810.49" x2="1210.35" y2="1813.29" stroke="#000" stroke-width="1.2"/>
<line x1="1216.19" y1="1810.49" x2="1216.19" y2="1813.29" stroke="#000" stroke-width="1.2"/>
<line x1="1221.13" y1="1810.49" x2="1221.13" y2="1813.29" stroke="#000" stroke-width="1.2"/>
<line x1="1225.41" y1="1810.49" x2="1225.41" y2="1813.29" stroke="#000" stroke-width="1.2"/>
<line x1="1229.18" y1="1810.49" x2="1229.18" y2="1813.29" stroke="#000" stroke-width="1.2"/>
<text x="1160.77" y="1847.38" font-size="22" text-anchor="middle">10<tspan font-size="13" dy="-9">4</tspan></text>
<line x1="1233.34" y1="1810.49" x2="1233.34" y2="1815.49" stroke="#000" stroke-width="1.6"/>
<line x1="1255.55" y1="1810.49" x2="1255.55" y2="1813.29" stroke="#000" stroke-width="1.2"/>
<line x1="1268.54" y1="1810.49" x2="1268.54" y2="1813.29" stroke="#000" stroke-width="1.2"/>
<line x1="1277.76" y1="1810.49" x2="1277.76" y2="1813.29" stroke="#000" stroke-width="1.2"/>
<text x="1235.34" y="1847.38" font-size="22" text-anchor="middle">10<tspan font-size="13" dy="-9">5</tspan></text>
<text x="1102.14" y="1877.26" font-size="22" text-anchor="middle">PD-L1 level on the membrane</text>
<text x="947.03" y="1561.6" font-size="22" fill="#8A8A8A" style="stroke:#8A8A8A">IgG</text>
<text x="1263.74" y="1566.79" font-size="22" text-anchor="end" fill="#8A8A8A" style="stroke:#8A8A8A">1.29%</text>
<text x="947.03" y="1650.71" font-size="22">Mock</text>
<text x="1263.74" y="1648.11" font-size="22" text-anchor="end">50.1%</text>
<text x="947.03" y="1720.08" font-size="22" fill="#E0101E" style="stroke:#E0101E">IFN-γ</text>
<text x="1263.74" y="1720.08" font-size="22" text-anchor="end" fill="#E0101E" style="stroke:#E0101E">91.1%</text>
<text x="947.03" y="1770.74" font-size="22" fill="#2A86C4" style="stroke:#2A86C4">IFN-γ</text>
<text x="947.03" y="1798.02" font-size="22" fill="#2A86C4" style="stroke:#2A86C4">shTMUB1</text>
<text x="1263.74" y="1788.93" font-size="22" text-anchor="end" fill="#2A86C4" style="stroke:#2A86C4">62.1%</text>
<line x1="1387.5" y1="1509.3" x2="1387.5" y2="1807" stroke="#000" stroke-width="2"/>
<line x1="1375.1" y1="1806" x2="1387.5" y2="1806" stroke="#000" stroke-width="2"/>
<text x="1372.5" y="1814" font-size="22" text-anchor="end">0.0</text>
<line x1="1375.1" y1="1707.1" x2="1387.5" y2="1707.1" stroke="#000" stroke-width="2"/>
<text x="1372.5" y="1715.1" font-size="22" text-anchor="end">0.5</text>
<line x1="1375.1" y1="1608.2" x2="1387.5" y2="1608.2" stroke="#000" stroke-width="2"/>
<text x="1372.5" y="1616.2" font-size="22" text-anchor="end">1.0</text>
<line x1="1375.1" y1="1509.3" x2="1387.5" y2="1509.3" stroke="#000" stroke-width="2"/>
<text x="1372.5" y="1517.3" font-size="22" text-anchor="end">1.5</text>
<line x1="1375.1" y1="1806" x2="1684.6" y2="1806" stroke="#000" stroke-width="2"/>
<rect x="1409.9" y="1784.84" width="45.2" height="21.16" fill="#A2A2A8"/>
<line x1="1432.5" y1="1784.84" x2="1432.5" y2="1779.6" stroke="#000" stroke-width="2"/>
<line x1="1421.5" y1="1779.6" x2="1433" y2="1779.6" stroke="#000" stroke-width="2"/>
<circle cx="1414.58" cy="1778.86" r="4.9" fill="#000"/>
<circle cx="1414.58" cy="1788.66" r="4.9" fill="#000"/>
<circle cx="1426.7" cy="1785.31" r="4.9" fill="#000"/>
<circle cx="1438.83" cy="1777.06" r="4.9" fill="#000"/>
<circle cx="1438.83" cy="1787.89" r="4.9" fill="#000"/>
<circle cx="1451.21" cy="1786.6" r="4.9" fill="#000"/>
<line x1="1432.5" y1="1806" x2="1432.5" y2="1818" stroke="#000" stroke-width="2"/>
<rect x="1479.6" y="1689.89" width="43.1" height="116.11" fill="#fff" stroke="#1a1111" stroke-width="2"/>
<line x1="1501.15" y1="1689.89" x2="1501.15" y2="1669.2" stroke="#000" stroke-width="2"/>
<line x1="1489.9" y1="1669.2" x2="1512.3" y2="1669.2" stroke="#000" stroke-width="2"/>
<circle cx="1482.67" cy="1662.79" r="4.9" fill="#000"/>
<circle cx="1500.99" cy="1671.31" r="4.9" fill="#000"/>
<circle cx="1519.04" cy="1684.2" r="4.9" fill="#000"/>
<circle cx="1500.99" cy="1692.97" r="4.9" fill="#000"/>
<circle cx="1482.67" cy="1707.93" r="4.9" fill="#000"/>
<circle cx="1519.04" cy="1707.93" r="4.9" fill="#000"/>
<line x1="1501.15" y1="1806" x2="1501.15" y2="1818" stroke="#000" stroke-width="2"/>
<rect x="1546.6" y="1581.1" width="45.2" height="224.9" fill="#FF8080"/>
<line x1="1569.2" y1="1581.1" x2="1569.2" y2="1566.8" stroke="#000" stroke-width="2"/>
<line x1="1558.2" y1="1566.8" x2="1580.2" y2="1566.8" stroke="#000" stroke-width="2"/>
<circle cx="1551.03" cy="1567.36" r="4.9" fill="#000"/>
<circle cx="1587.91" cy="1565.3" r="4.9" fill="#000"/>
<circle cx="1569.34" cy="1572.52" r="4.9" fill="#000"/>
<circle cx="1569.34" cy="1587.22" r="4.9" fill="#000"/>
<circle cx="1587.91" cy="1593.15" r="4.9" fill="#000"/>
<circle cx="1551.03" cy="1600.89" r="4.9" fill="#000"/>
<line x1="1569.2" y1="1806" x2="1569.2" y2="1818" stroke="#000" stroke-width="2"/>
<rect x="1615" y="1672.29" width="45.1" height="133.71" fill="#90BEF8"/>
<line x1="1637.55" y1="1672.29" x2="1637.55" y2="1663.3" stroke="#000" stroke-width="2"/>
<line x1="1626.6" y1="1663.3" x2="1648.5" y2="1663.3" stroke="#000" stroke-width="2"/>
<circle cx="1619.38" cy="1664.08" r="4.9" fill="#000"/>
<circle cx="1637.69" cy="1661.5" r="4.9" fill="#000"/>
<circle cx="1655.75" cy="1669.24" r="4.9" fill="#000"/>
<circle cx="1637.69" cy="1676.46" r="4.9" fill="#000"/>
<circle cx="1655.75" cy="1679.04" r="4.9" fill="#000"/>
<circle cx="1619.38" cy="1686.78" r="4.9" fill="#000"/>
<line x1="1637.55" y1="1806" x2="1637.55" y2="1818" stroke="#000" stroke-width="2"/>
<text x="1567.8" y="1496.4" font-size="19" text-anchor="start"><tspan font-style="italic">p</tspan> &lt; 0.0001</text>
<line x1="1574.5" y1="1503.6" x2="1645.4" y2="1503.6" stroke="#3a2c2c" stroke-width="1.8"/>
<text x="1484" y="1532" font-size="19" text-anchor="start"><tspan font-style="italic">p</tspan> &lt; 0.0001</text>
<line x1="1494.5" y1="1539" x2="1565.2" y2="1539" stroke="#3a2c2c" stroke-width="1.8"/>
<text x="1443.5" y="1835.5" font-size="22.3" text-anchor="end" transform="rotate(-45 1443.5 1835.5)">IgG</text>
<text x="1512.5" y="1835.5" font-size="22.3" text-anchor="end" transform="rotate(-45 1512.5 1835.5)">Mock</text>
<text x="1578.5" y="1835.5" font-size="22.3" text-anchor="end" transform="rotate(-45 1578.5 1835.5)">IFN-γ</text>
<text x="1646.5" y="1834.5" font-size="22.3" text-anchor="end" transform="rotate(-45 1646.5 1834.5)">IFN-γ</text>
<text x="1686.5" y="1829.5" font-size="22.3" text-anchor="end" transform="rotate(-45 1686.5 1829.5)">+ sh-TMUB1</text>
<text x="1327.4" y="1653.8" font-size="22" text-anchor="middle" transform="rotate(-90 1327.4 1653.8)">PD-L1 MFI (10<tspan font-size="13" dy="-8">4</tspan><tspan dy="8">)</tspan></text>
<text x="0" y="1996" font-size="32.5" font-weight="bold">l</text>
<text x="242.2" y="1978" font-size="22" text-anchor="middle">T Cell</text>
<line x1="133.9" y1="1993.9" x2="372.1" y2="1993.9" stroke="#3a2c2c" stroke-width="2"/>
<line x1="171.5" y1="2012.5" x2="179.5" y2="2012.5" stroke="#000" stroke-width="2"/>
<text x="314.9" y="2024" font-size="22" text-anchor="middle">+</text>
<defs><linearGradient id="plg" x1="0" y1="0" x2="1" y2="1"><stop offset="0" stop-color="#E4E2EA"/><stop offset="0.5" stop-color="#DAD5E6"/><stop offset="1" stop-color="#DCD8E6"/></linearGradient><radialGradient id="rim" cx="0.5" cy="0.5" r="0.5"><stop offset="0.84" stop-color="#E9E6F0"/><stop offset="0.93" stop-color="#F4F2F7"/><stop offset="1" stop-color="#CFCAD8"/></radialGradient></defs>
<rect x="97.2" y="2028.5" width="286.1" height="433.8" fill="url(#plg)"/>
<line x1="97.2" y1="2040" x2="383.3" y2="2040" stroke="#F0EEF3" stroke-width="4"/>
<defs>
<clipPath id="cc14"><circle cx="168.2" cy="2100.3" r="60.6"/></clipPath>
<clipPath id="cc15"><circle cx="312.7" cy="2100.3" r="60.6"/></clipPath>
<clipPath id="cc16"><circle cx="167.7" cy="2244.1" r="60.6"/></clipPath>
<clipPath id="cc17"><circle cx="311.4" cy="2244.1" r="60.6"/></clipPath>
<clipPath id="cc18"><circle cx="165.6" cy="2390.5" r="60.6"/></clipPath>
<clipPath id="cc19"><circle cx="311.4" cy="2390.5" r="60.6"/></clipPath>
<radialGradient id="wg0" cx="0.52" cy="0.5" r="0.55"><stop offset="0" stop-color="#8C66DA"/><stop offset="0.55" stop-color="#8C66DA" stop-opacity="0.6"/><stop offset="1" stop-color="#6028CE"/></radialGradient>
<radialGradient id="wg1" cx="0.52" cy="0.5" r="0.55"><stop offset="0" stop-color="#9A80D6"/><stop offset="0.55" stop-color="#9A80D6" stop-opacity="0.6"/><stop offset="1" stop-color="#7048C6"/></radialGradient>
<radialGradient id="wg2" cx="0.52" cy="0.5" r="0.55"><stop offset="0" stop-color="#8A62DA"/><stop offset="0.55" stop-color="#8A62DA" stop-opacity="0.6"/><stop offset="1" stop-color="#5E26CE"/></radialGradient>
<radialGradient id="wg3" cx="0.52" cy="0.5" r="0.55"><stop offset="0" stop-color="#CEC4E4"/><stop offset="0.55" stop-color="#CEC4E4" stop-opacity="0.6"/><stop offset="1" stop-color="#A48ED2"/></radialGradient>
<radialGradient id="wg4" cx="0.52" cy="0.5" r="0.55"><stop offset="0" stop-color="#8E68DA"/><stop offset="0.55" stop-color="#8E68DA" stop-opacity="0.6"/><stop offset="1" stop-color="#6129CC"/></radialGradient>
<radialGradient id="wg5" cx="0.52" cy="0.5" r="0.55"><stop offset="0" stop-color="#D2C8E6"/><stop offset="0.55" stop-color="#D2C8E6" stop-opacity="0.6"/><stop offset="1" stop-color="#A994D6"/></radialGradient>
</defs>
<circle cx="168.2" cy="2100.3" r="71" fill="url(#rim)"/>
<circle cx="168.2" cy="2100.3" r="71" fill="none" stroke="#C8C3D2" stroke-width="1.2"/>
<circle cx="168.2" cy="2100.3" r="63.5" fill="none" stroke="#D2CDDC" stroke-width="1.5"/>
<defs>
<filter id="nz24" x="0" y="0" width="1" height="1" color-interpolation-filters="sRGB"><feTurbulence type="fractalNoise" baseFrequency="0.35" numOctaves="3" seed="40"/><feColorMatrix type="matrix" values="0 0 0 0 0.647 0 0 0 0 0.529 0 0 0 0 0.894 3.4 0 0 0 -1.6"/></filter>
<filter id="nz25" x="0" y="0" width="1" height="1" color-interpolation-filters="sRGB"><feTurbulence type="fractalNoise" baseFrequency="0.3" numOctaves="3" seed="50"/><feColorMatrix type="matrix" values="0 0 0 0 0.294 0 0 0 0 0.098 0 0 0 0 0.765 3.2 0 0 0 -1.6"/></filter>
</defs>
<g clip-path="url(#cc14)">
<rect x="107.2" y="2039.3" width="122" height="122" fill="#6028CE"/>
<rect x="107.2" y="2039.3" width="122" height="122" fill="url(#wg0)"/>
<rect x="107.2" y="2039.3" width="122" height="122" filter="url(#nz24)" opacity="0.7"/>
<rect x="107.2" y="2039.3" width="122" height="122" filter="url(#nz25)" opacity="0.5"/>
</g>
<circle cx="312.7" cy="2100.3" r="71" fill="url(#rim)"/>
<circle cx="312.7" cy="2100.3" r="71" fill="none" stroke="#C8C3D2" stroke-width="1.2"/>
<circle cx="312.7" cy="2100.3" r="63.5" fill="none" stroke="#D2CDDC" stroke-width="1.5"/>
<defs>
<filter id="nz26" x="0" y="0" width="1" height="1" color-interpolation-filters="sRGB"><feTurbulence type="fractalNoise" baseFrequency="0.35" numOctaves="3" seed="41"/><feColorMatrix type="matrix" values="0 0 0 0 0.725 0 0 0 0 0.647 0 0 0 0 0.902 3.4 0 0 0 -1.6"/></filter>
<filter id="nz27" x="0" y="0" width="1" height="1" color-interpolation-filters="sRGB"><feTurbulence type="fractalNoise" baseFrequency="0.3" numOctaves="3" seed="51"/><feColorMatrix type="matrix" values="0 0 0 0 0.373 0 0 0 0 0.216 0 0 0 0 0.745 3.2 0 0 0 -1.6"/></filter>
</defs>
<g clip-path="url(#cc15)">
<rect x="251.7" y="2039.3" width="122" height="122" fill="#7048C6"/>
<rect x="251.7" y="2039.3" width="122" height="122" fill="url(#wg1)"/>
<rect x="251.7" y="2039.3" width="122" height="122" filter="url(#nz26)" opacity="0.7"/>
<rect x="251.7" y="2039.3" width="122" height="122" filter="url(#nz27)" opacity="0.5"/>
</g>
<circle cx="167.7" cy="2244.1" r="71" fill="url(#rim)"/>
<circle cx="167.7" cy="2244.1" r="71" fill="none" stroke="#C8C3D2" stroke-width="1.2"/>
<circle cx="167.7" cy="2244.1" r="63.5" fill="none" stroke="#D2CDDC" stroke-width="1.5"/>
<defs>
<filter id="nz28" x="0" y="0" width="1" height="1" color-interpolation-filters="sRGB"><feTurbulence type="fractalNoise" baseFrequency="0.35" numOctaves="3" seed="42"/><feColorMatrix type="matrix" values="0 0 0 0 0.647 0 0 0 0 0.529 0 0 0 0 0.894 3.4 0 0 0 -1.6"/></filter>
<filter id="nz29" x="0" y="0" width="1" height="1" color-interpolation-filters="sRGB"><feTurbulence type="fractalNoise" baseFrequency="0.3" numOctaves="3" seed="52"/><feColorMatrix type="matrix" values="0 0 0 0 0.294 0 0 0 0 0.098 0 0 0 0 0.765 3.2 0 0 0 -1.6"/></filter>
</defs>
<g clip-path="url(#cc16)">
<rect x="106.7" y="2183.1" width="122" height="122" fill="#5E26CE"/>
<rect x="106.7" y="2183.1" width="122" height="122" fill="url(#wg2)"/>
<rect x="106.7" y="2183.1" width="122" height="122" filter="url(#nz28)" opacity="0.7"/>
<rect x="106.7" y="2183.1" width="122" height="122" filter="url(#nz29)" opacity="0.5"/>
</g>
<circle cx="311.4" cy="2244.1" r="71" fill="url(#rim)"/>
<circle cx="311.4" cy="2244.1" r="71" fill="none" stroke="#C8C3D2" stroke-width="1.2"/>
<circle cx="311.4" cy="2244.1" r="63.5" fill="none" stroke="#D2CDDC" stroke-width="1.5"/>
<defs>
<filter id="nz30" x="0" y="0" width="1" height="1" color-interpolation-filters="sRGB"><feTurbulence type="fractalNoise" baseFrequency="0.35" numOctaves="3" seed="43"/><feColorMatrix type="matrix" values="0 0 0 0 0.894 0 0 0 0 0.878 0 0 0 0 0.949 3.4 0 0 0 -1.6"/></filter>
<filter id="nz31" x="0" y="0" width="1" height="1" color-interpolation-filters="sRGB"><feTurbulence type="fractalNoise" baseFrequency="0.3" numOctaves="3" seed="53"/><feColorMatrix type="matrix" values="0 0 0 0 0.451 0 0 0 0 0.314 0 0 0 0 0.765 3.2 0 0 0 -1.6"/></filter>
</defs>
<g clip-path="url(#cc17)">
<rect x="250.4" y="2183.1" width="122" height="122" fill="#A48ED2"/>
<rect x="250.4" y="2183.1" width="122" height="122" fill="url(#wg3)"/>
<rect x="250.4" y="2183.1" width="122" height="122" filter="url(#nz30)" opacity="0.7"/>
<rect x="250.4" y="2183.1" width="122" height="122" filter="url(#nz31)" opacity="0.5"/>
</g>
<circle cx="165.6" cy="2390.5" r="71" fill="url(#rim)"/>
<circle cx="165.6" cy="2390.5" r="71" fill="none" stroke="#C8C3D2" stroke-width="1.2"/>
<circle cx="165.6" cy="2390.5" r="63.5" fill="none" stroke="#D2CDDC" stroke-width="1.5"/>
<defs>
<filter id="nz32" x="0" y="0" width="1" height="1" color-interpolation-filters="sRGB"><feTurbulence type="fractalNoise" baseFrequency="0.35" numOctaves="3" seed="44"/><feColorMatrix type="matrix" values="0 0 0 0 0.647 0 0 0 0 0.529 0 0 0 0 0.894 3.4 0 0 0 -1.6"/></filter>
<filter id="nz33" x="0" y="0" width="1" height="1" color-interpolation-filters="sRGB"><feTurbulence type="fractalNoise" baseFrequency="0.3" numOctaves="3" seed="54"/><feColorMatrix type="matrix" values="0 0 0 0 0.294 0 0 0 0 0.098 0 0 0 0 0.765 3.2 0 0 0 -1.6"/></filter>
</defs>
<g clip-path="url(#cc18)">
<rect x="104.6" y="2329.5" width="122" height="122" fill="#6129CC"/>
<rect x="104.6" y="2329.5" width="122" height="122" fill="url(#wg4)"/>
<rect x="104.6" y="2329.5" width="122" height="122" filter="url(#nz32)" opacity="0.7"/>
<rect x="104.6" y="2329.5" width="122" height="122" filter="url(#nz33)" opacity="0.5"/>
</g>
<circle cx="311.4" cy="2390.5" r="71" fill="url(#rim)"/>
<circle cx="311.4" cy="2390.5" r="71" fill="none" stroke="#C8C3D2" stroke-width="1.2"/>
<circle cx="311.4" cy="2390.5" r="63.5" fill="none" stroke="#D2CDDC" stroke-width="1.5"/>
<defs>
<filter id="nz34" x="0" y="0" width="1" height="1" color-interpolation-filters="sRGB"><feTurbulence type="fractalNoise" baseFrequency="0.35" numOctaves="3" seed="45"/><feColorMatrix type="matrix" values="0 0 0 0 0.902 0 0 0 0 0.886 0 0 0 0 0.957 3.4 0 0 0 -1.6"/></filter>
<filter id="nz35" x="0" y="0" width="1" height="1" color-interpolation-filters="sRGB"><feTurbulence type="fractalNoise" baseFrequency="0.3" numOctaves="3" seed="55"/><feColorMatrix type="matrix" values="0 0 0 0 0.451 0 0 0 0 0.314 0 0 0 0 0.765 3.2 0 0 0 -1.6"/></filter>
</defs>
<g clip-path="url(#cc19)">
<rect x="250.4" y="2329.5" width="122" height="122" fill="#A994D6"/>
<rect x="250.4" y="2329.5" width="122" height="122" fill="url(#wg5)"/>
<rect x="250.4" y="2329.5" width="122" height="122" filter="url(#nz34)" opacity="0.7"/>
<rect x="250.4" y="2329.5" width="122" height="122" filter="url(#nz35)" opacity="0.5"/>
</g>
<path d="M153.2 2157.3 l12 -4 l14 -2 l12 -6 l3 3 l-12 8 l-20 5 Z" fill="#E8E4EE"/>
<path d="M152.7 2301.1 l12 -4 l14 -2 l12 -6 l3 3 l-12 8 l-20 5 Z" fill="#E8E4EE"/>
<path d="M150.6 2447.5 l12 -4 l14 -2 l12 -6 l3 3 l-12 8 l-20 5 Z" fill="#E8E4EE"/>
<text x="86.5" y="2109.7" font-size="22" text-anchor="middle" transform="rotate(-90 86.5 2109.7)">Sh-Scram.</text>
<text x="86.5" y="2251.4" font-size="22" text-anchor="middle" transform="rotate(-90 86.5 2251.4)">#1</text>
<text x="86.5" y="2396.5" font-size="22" text-anchor="middle" transform="rotate(-90 86.5 2396.5)">#2</text>
<text x="42.6" y="2362.5" font-size="22" text-anchor="middle" transform="rotate(-90 42.6 2362.5)">Sh-TMUB1</text>
<line x1="58" y1="2193.5" x2="58" y2="2447.7" stroke="#3a2c2c" stroke-width="1.8"/>
<text x="226.2" y="2495.6" font-size="22" text-anchor="middle">MDA-MB-231</text>
<line x1="585.8" y1="2068.7" x2="585.8" y2="2354.7" stroke="#000" stroke-width="2"/>
<line x1="573.1" y1="2353.7" x2="585.8" y2="2353.7" stroke="#000" stroke-width="2"/>
<text x="568.5" y="2361.7" font-size="22" text-anchor="end">0</text>
<line x1="573.1" y1="2282.45" x2="585.8" y2="2282.45" stroke="#000" stroke-width="2"/>
<text x="568.5" y="2290.45" font-size="22" text-anchor="end">20</text>
<line x1="573.1" y1="2211.2" x2="585.8" y2="2211.2" stroke="#000" stroke-width="2"/>
<text x="568.5" y="2219.2" font-size="22" text-anchor="end">40</text>
<line x1="573.1" y1="2139.95" x2="585.8" y2="2139.95" stroke="#000" stroke-width="2"/>
<text x="568.5" y="2147.95" font-size="22" text-anchor="end">60</text>
<line x1="573.1" y1="2068.7" x2="585.8" y2="2068.7" stroke="#000" stroke-width="2"/>
<text x="568.5" y="2076.7" font-size="22" text-anchor="end">80</text>
<line x1="573.1" y1="2353.7" x2="798.9" y2="2353.7" stroke="#000" stroke-width="2"/>
<rect x="606.9" y="2124.99" width="42.3" height="228.71" fill="#fff" stroke="#1a1111" stroke-width="2"/>
<line x1="628.05" y1="2124.99" x2="628.05" y2="2116.9" stroke="#000" stroke-width="2"/>
<line x1="617.5" y1="2116.9" x2="638.6" y2="2116.9" stroke="#000" stroke-width="2"/>
<circle cx="616.84" cy="2121.29" r="3.9" fill="#000"/>
<circle cx="628.15" cy="2116.41" r="3.9" fill="#000"/>
<circle cx="641.45" cy="2125.73" r="3.9" fill="#000"/>
<circle cx="628.15" cy="2136.37" r="3.9" fill="#000"/>
<line x1="628.05" y1="2353.7" x2="628.05" y2="2365.7" stroke="#000" stroke-width="2"/>
<rect x="670.3" y="2225.81" width="42.6" height="127.89" fill="#90BEF8"/>
<line x1="691.6" y1="2225.81" x2="691.6" y2="2220" stroke="#000" stroke-width="2"/>
<line x1="680.7" y1="2220" x2="704" y2="2220" stroke="#000" stroke-width="2"/>
<circle cx="678.94" cy="2223.31" r="3.9" fill="#000"/>
<circle cx="704.66" cy="2221.76" r="3.9" fill="#000"/>
<circle cx="678.94" cy="2233.29" r="3.9" fill="#000"/>
<circle cx="704.66" cy="2231.07" r="3.9" fill="#000"/>
<line x1="691.6" y1="2353.7" x2="691.6" y2="2365.7" stroke="#000" stroke-width="2"/>
<rect x="733.9" y="2236.49" width="42.6" height="117.21" fill="#559EF8"/>
<line x1="755.2" y1="2236.49" x2="755.2" y2="2229.5" stroke="#000" stroke-width="2"/>
<line x1="743.9" y1="2229.5" x2="766.1" y2="2229.5" stroke="#000" stroke-width="2"/>
<circle cx="742.36" cy="2230.19" r="3.9" fill="#000"/>
<circle cx="767.87" cy="2228.41" r="3.9" fill="#000"/>
<circle cx="742.36" cy="2242.83" r="3.9" fill="#000"/>
<circle cx="767.87" cy="2239.06" r="3.9" fill="#000"/>
<line x1="755.2" y1="2353.7" x2="755.2" y2="2365.7" stroke="#000" stroke-width="2"/>
<text x="653.7" y="2047.2" font-size="19" text-anchor="start"><tspan font-style="italic">p</tspan> &lt; 0.0001</text>
<line x1="631.9" y1="2055.4" x2="757.7" y2="2055.4" stroke="#3a2c2c" stroke-width="1.8"/>
<text x="618.6" y="2090.9" font-size="19" text-anchor="start"><tspan font-style="italic">p</tspan> &lt; 0.0001</text>
<line x1="631.9" y1="2098.2" x2="694.7" y2="2098.2" stroke="#3a2c2c" stroke-width="1.8"/>
<text x="639.5" y="2391.5" font-size="22.3" text-anchor="end" transform="rotate(-45 639.5 2391.5)">Sh-Scramble</text>
<text x="700.5" y="2391.5" font-size="22.3" text-anchor="end" transform="rotate(-45 700.5 2391.5)">Sh-TMUB1#1</text>
<text x="761.5" y="2391.5" font-size="22.3" text-anchor="end" transform="rotate(-45 761.5 2391.5)">Sh-TMUB1#2</text>
<text x="524.4" y="2234.5" font-size="22" text-anchor="middle" transform="rotate(-90 524.4 2234.5)">Survival(%)</text>
<text x="878.5" y="1997.5" font-size="32.5" font-weight="bold">m</text>
<text x="1101.5" y="2019.8" font-size="22" text-anchor="middle">IFN-γ</text>
<line x1="1010" y1="2069.2" x2="1010" y2="2354.3" stroke="#000" stroke-width="2"/>
<line x1="996.1" y1="2353.3" x2="1010" y2="2353.3" stroke="#000" stroke-width="2"/>
<text x="990.5" y="2361.3" font-size="22" text-anchor="end">0</text>
<line x1="996.1" y1="2258.6" x2="1010" y2="2258.6" stroke="#000" stroke-width="2"/>
<text x="990.5" y="2266.6" font-size="22" text-anchor="end">1</text>
<line x1="996.1" y1="2163.9" x2="1010" y2="2163.9" stroke="#000" stroke-width="2"/>
<text x="990.5" y="2171.9" font-size="22" text-anchor="end">2</text>
<line x1="996.1" y1="2069.2" x2="1010" y2="2069.2" stroke="#000" stroke-width="2"/>
<text x="990.5" y="2077.2" font-size="22" text-anchor="end">3</text>
<line x1="996.1" y1="2353.3" x2="1231.6" y2="2353.3" stroke="#000" stroke-width="2"/>
<rect x="1031.7" y="2258.6" width="43.8" height="94.7" fill="#fff" stroke="#1a1111" stroke-width="2"/>
<line x1="1053.6" y1="2258.6" x2="1053.6" y2="2244.2" stroke="#000" stroke-width="2"/>
<line x1="1042.5" y1="2244.2" x2="1064.7" y2="2244.2" stroke="#000" stroke-width="2"/>
<circle cx="1053.37" cy="2238.95" r="3.8" fill="#000"/>
<circle cx="1053.37" cy="2264.23" r="3.8" fill="#000"/>
<circle cx="1066.61" cy="2262.55" r="3.8" fill="#000"/>
<circle cx="1053.37" cy="2271.45" r="3.8" fill="#000"/>
<line x1="1053.6" y1="2353.3" x2="1053.6" y2="2365.3" stroke="#000" stroke-width="2"/>
<rect x="1097.9" y="2152.16" width="43.8" height="201.14" fill="#90BEF8"/>
<line x1="1119.8" y1="2152.16" x2="1119.8" y2="2140.2" stroke="#000" stroke-width="2"/>
<line x1="1109.5" y1="2140.2" x2="1130.4" y2="2140.2" stroke="#000" stroke-width="2"/>
<circle cx="1119.59" cy="2140.22" r="3.8" fill="#000"/>
<circle cx="1134.51" cy="2146.24" r="3.8" fill="#000"/>
<circle cx="1119.59" cy="2151.78" r="3.8" fill="#000"/>
<circle cx="1119.59" cy="2164.3" r="3.8" fill="#000"/>
<line x1="1119.8" y1="2353.3" x2="1119.8" y2="2365.3" stroke="#000" stroke-width="2"/>
<rect x="1164.1" y="2155.09" width="43.9" height="198.21" fill="#559EF8"/>
<line x1="1186.05" y1="2155.09" x2="1186.05" y2="2134.4" stroke="#000" stroke-width="2"/>
<line x1="1175.5" y1="2134.4" x2="1196.2" y2="2134.4" stroke="#000" stroke-width="2"/>
<circle cx="1185.8" cy="2130.59" r="3.8" fill="#000"/>
<circle cx="1185.8" cy="2146.97" r="3.8" fill="#000"/>
<circle cx="1185.8" cy="2161.41" r="3.8" fill="#000"/>
<circle cx="1185.8" cy="2178.27" r="3.8" fill="#000"/>
<line x1="1186.05" y1="2353.3" x2="1186.05" y2="2365.3" stroke="#000" stroke-width="2"/>
<text x="1077" y="2063.2" font-size="19" text-anchor="start"><tspan font-style="italic">p</tspan> &lt; 0.0001</text>
<line x1="1051.4" y1="2071.1" x2="1187" y2="2071.1" stroke="#3a2c2c" stroke-width="1.8"/>
<text x="1038.4" y="2097.4" font-size="19" text-anchor="start"><tspan font-style="italic">p</tspan> &lt; 0.0001</text>
<line x1="1051.4" y1="2106.5" x2="1113.6" y2="2106.5" stroke="#3a2c2c" stroke-width="1.8"/>
<text x="1061.5" y="2386.5" font-size="22.3" text-anchor="end" transform="rotate(-45 1061.5 2386.5)">Sh-Scramble</text>
<text x="1130" y="2386.5" font-size="22.3" text-anchor="end" transform="rotate(-45 1130 2386.5)">Sh-TMUB1#1</text>
<text x="1197" y="2386.5" font-size="22.3" text-anchor="end" transform="rotate(-45 1197 2386.5)">Sh-TMUB1#2</text>
<text x="963.1" y="2213" font-size="22" text-anchor="middle" transform="rotate(-90 963.1 2213)">Relative mRNA expression</text>
<text x="1309.5" y="1997.5" font-size="32.5" font-weight="bold">n</text>
<text x="1574.6" y="2025" font-size="22" text-anchor="middle">TNF-α</text>
<line x1="1466.5" y1="2067.5" x2="1466.5" y2="2354.8" stroke="#000" stroke-width="2"/>
<line x1="1452.7" y1="2353.8" x2="1466.5" y2="2353.8" stroke="#000" stroke-width="2"/>
<text x="1445.5" y="2361.8" font-size="22" text-anchor="end">0</text>
<line x1="1452.7" y1="2282.23" x2="1466.5" y2="2282.23" stroke="#000" stroke-width="2"/>
<text x="1445.5" y="2290.23" font-size="22" text-anchor="end">1</text>
<line x1="1452.7" y1="2210.65" x2="1466.5" y2="2210.65" stroke="#000" stroke-width="2"/>
<text x="1445.5" y="2218.65" font-size="22" text-anchor="end">2</text>
<line x1="1452.7" y1="2139.08" x2="1466.5" y2="2139.08" stroke="#000" stroke-width="2"/>
<text x="1445.5" y="2147.08" font-size="22" text-anchor="end">3</text>
<line x1="1452.7" y1="2067.5" x2="1466.5" y2="2067.5" stroke="#000" stroke-width="2"/>
<text x="1445.5" y="2075.5" font-size="22" text-anchor="end">4</text>
<line x1="1452.7" y1="2353.8" x2="1697" y2="2353.8" stroke="#000" stroke-width="2"/>
<rect x="1489.4" y="2282.23" width="45.8" height="71.57" fill="#fff" stroke="#1a1111" stroke-width="2"/>
<line x1="1512.3" y1="2282.23" x2="1512.3" y2="2277.8" stroke="#000" stroke-width="2"/>
<line x1="1496.2" y1="2277.8" x2="1523.4" y2="2277.8" stroke="#000" stroke-width="2"/>
<circle cx="1498.74" cy="2277.8" r="3.7" fill="#000"/>
<circle cx="1512.58" cy="2282.08" r="3.7" fill="#000"/>
<circle cx="1525.91" cy="2282.83" r="3.7" fill="#000"/>
<circle cx="1498.74" cy="2287.11" r="3.7" fill="#000"/>
<line x1="1512.3" y1="2353.8" x2="1512.3" y2="2365.8" stroke="#000" stroke-width="2"/>
<rect x="1558.4" y="2149.6" width="45.5" height="204.2" fill="#90BEF8"/>
<line x1="1581.15" y1="2149.6" x2="1581.15" y2="2130.4" stroke="#000" stroke-width="2"/>
<line x1="1569.7" y1="2130.4" x2="1592.3" y2="2130.4" stroke="#000" stroke-width="2"/>
<circle cx="1581.01" cy="2134.91" r="3.7" fill="#000"/>
<circle cx="1581.01" cy="2142.45" r="3.7" fill="#000"/>
<circle cx="1581.01" cy="2152.52" r="3.7" fill="#000"/>
<circle cx="1581.01" cy="2171.38" r="3.7" fill="#000"/>
<line x1="1581.15" y1="2353.8" x2="1581.15" y2="2365.8" stroke="#000" stroke-width="2"/>
<rect x="1626.5" y="2135" width="45.8" height="218.8" fill="#559EF8"/>
<line x1="1649.4" y1="2135" x2="1649.4" y2="2117.8" stroke="#000" stroke-width="2"/>
<line x1="1638.4" y1="2117.8" x2="1660.5" y2="2117.8" stroke="#000" stroke-width="2"/>
<circle cx="1634.59" cy="2129.12" r="3.7" fill="#000"/>
<circle cx="1649.18" cy="2121.07" r="3.7" fill="#000"/>
<circle cx="1649.18" cy="2133.65" r="3.7" fill="#000"/>
<circle cx="1649.18" cy="2153.77" r="3.7" fill="#000"/>
<line x1="1649.4" y1="2353.8" x2="1649.4" y2="2365.8" stroke="#000" stroke-width="2"/>
<text x="1540.3" y="2056.9" font-size="19" text-anchor="start"><tspan font-style="italic">p</tspan> &lt; 0.0001</text>
<line x1="1515.8" y1="2066.5" x2="1651" y2="2066.5" stroke="#3a2c2c" stroke-width="1.8"/>
<text x="1500" y="2095.9" font-size="19" text-anchor="start"><tspan font-style="italic">p</tspan> &lt; 0.0001</text>
<line x1="1515.8" y1="2104.7" x2="1577.5" y2="2104.7" stroke="#3a2c2c" stroke-width="1.8"/>
<text x="1521" y="2389.5" font-size="22.3" text-anchor="end" transform="rotate(-45 1521 2389.5)">Sh-Scramble</text>
<text x="1592.5" y="2389.5" font-size="22.3" text-anchor="end" transform="rotate(-45 1592.5 2389.5)">Sh-TMUB1#1</text>
<text x="1664.5" y="2389.5" font-size="22.3" text-anchor="end" transform="rotate(-45 1664.5 2389.5)">Sh-TMUB1#2</text>
<text x="1409.4" y="2212.9" font-size="22" text-anchor="middle" transform="rotate(-90 1409.4 2212.9)">Relative mRNA expression</text>
</svg></body></html>
